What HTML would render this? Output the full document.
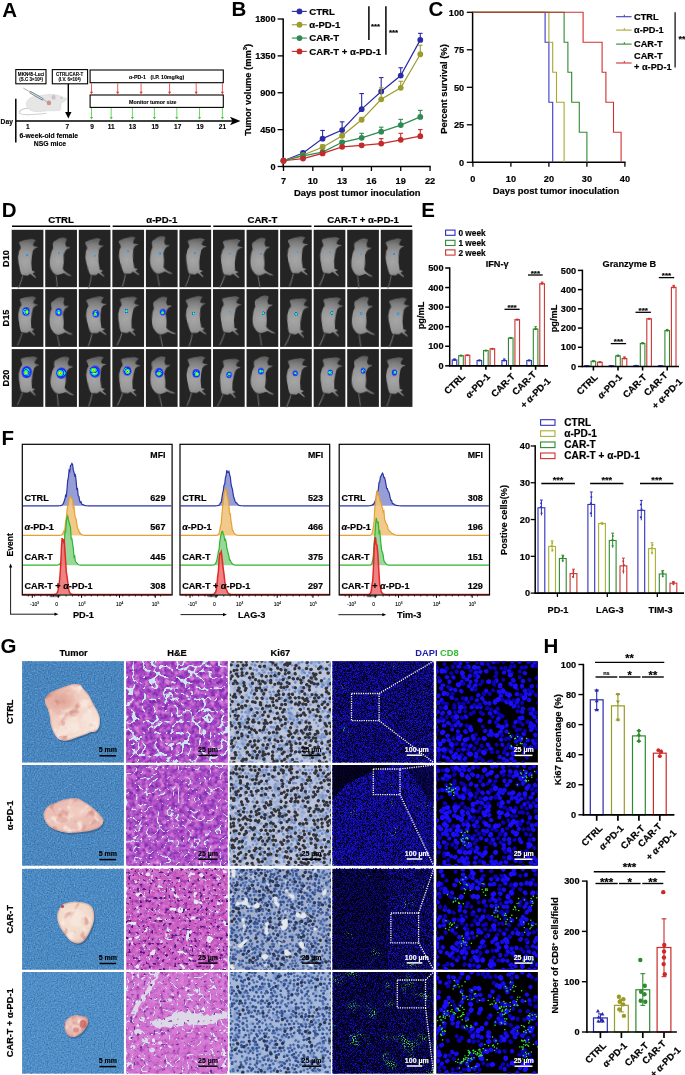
<!DOCTYPE html>
<html><head><meta charset="utf-8"><style>
html,body{margin:0;padding:0;background:#fff;}
body{width:685px;height:1075px;overflow:hidden;}
svg{display:block;font-family:"Liberation Sans", sans-serif;will-change:transform;}
</style></head><body>
<svg width="685" height="1075" viewBox="0 0 685 1075">
<defs><radialGradient id="mg" gradientUnits="userSpaceOnUse" cx="13.5" cy="31" r="22"><stop offset="0" stop-color="#a6a6a6"/><stop offset="0.45" stop-color="#979797"/><stop offset="0.8" stop-color="#7c7c7c"/><stop offset="1" stop-color="#626262"/></radialGradient>
<filter id="soft" x="-10%" y="-10%" width="120%" height="120%"><feGaussianBlur stdDeviation="0.45"/></filter>
<radialGradient id="lumB"><stop offset="0" stop-color="#ff1a00"/><stop offset="0.22" stop-color="#ffee00"/><stop offset="0.45" stop-color="#22ff22"/><stop offset="0.68" stop-color="#00c8ff"/><stop offset="0.85" stop-color="#1020ff"/><stop offset="1" stop-color="#1020ff" stop-opacity="0"/></radialGradient>
<radialGradient id="lumM"><stop offset="0" stop-color="#ffdd00"/><stop offset="0.3" stop-color="#33ff33"/><stop offset="0.6" stop-color="#00c0ff"/><stop offset="0.85" stop-color="#1530ff"/><stop offset="1" stop-color="#1530ff" stop-opacity="0"/></radialGradient>
<radialGradient id="lumS"><stop offset="0" stop-color="#30ffd0"/><stop offset="0.5" stop-color="#10a0ff"/><stop offset="1" stop-color="#2030ff" stop-opacity="0"/></radialGradient>
<clipPath id="c00"><rect x="22.1" y="661.2" width="101.8" height="101.3"/></clipPath>
<clipPath id="c01"><rect x="126.2" y="661.2" width="101.5" height="101.3"/></clipPath>
<clipPath id="c02"><rect x="229.8" y="661.2" width="101.2" height="101.3"/></clipPath>
<clipPath id="c03"><rect x="332.5" y="661.2" width="101.1" height="101.3"/></clipPath>
<clipPath id="c04"><rect x="436.3" y="661.2" width="101.6" height="101.3"/></clipPath>
<clipPath id="c10"><rect x="22.1" y="765" width="101.8" height="100.7"/></clipPath>
<clipPath id="c11"><rect x="126.2" y="765" width="101.5" height="100.7"/></clipPath>
<clipPath id="c12"><rect x="229.8" y="765" width="101.2" height="100.7"/></clipPath>
<clipPath id="c13"><rect x="332.5" y="765" width="101.1" height="100.7"/></clipPath>
<clipPath id="c14"><rect x="436.3" y="765" width="101.6" height="100.7"/></clipPath>
<clipPath id="c20"><rect x="22.1" y="868.9" width="101.8" height="100.8"/></clipPath>
<clipPath id="c21"><rect x="126.2" y="868.9" width="101.5" height="100.8"/></clipPath>
<clipPath id="c22"><rect x="229.8" y="868.9" width="101.2" height="100.8"/></clipPath>
<clipPath id="c23"><rect x="332.5" y="868.9" width="101.1" height="100.8"/></clipPath>
<clipPath id="c24"><rect x="436.3" y="868.9" width="101.6" height="100.8"/></clipPath>
<clipPath id="c30"><rect x="22.1" y="972" width="101.8" height="101.6"/></clipPath>
<clipPath id="c31"><rect x="126.2" y="972" width="101.5" height="101.6"/></clipPath>
<clipPath id="c32"><rect x="229.8" y="972" width="101.2" height="101.6"/></clipPath>
<clipPath id="c33"><rect x="332.5" y="972" width="101.1" height="101.6"/></clipPath>
<clipPath id="c34"><rect x="436.3" y="972" width="101.6" height="101.6"/></clipPath>
<linearGradient id="tg0" x1="0" y1="0" x2="1" y2="1"><stop offset="0" stop-color="#ecbcb0"/><stop offset="0.45" stop-color="#f2d2c6"/><stop offset="1" stop-color="#f8e8de"/></linearGradient>
<linearGradient id="tg1" x1="0" y1="0" x2="1" y2="1"><stop offset="0" stop-color="#e8b6ac"/><stop offset="0.5" stop-color="#eec6bc"/><stop offset="1" stop-color="#e2b0a6"/></linearGradient>
<radialGradient id="tg2" cx="0.45" cy="0.4" r="0.7"><stop offset="0" stop-color="#f6e4d8"/><stop offset="0.7" stop-color="#f0d6c6"/><stop offset="1" stop-color="#dcb4a4"/></radialGradient>
<radialGradient id="tg3" cx="0.4" cy="0.4" r="0.7"><stop offset="0" stop-color="#f2d4cc"/><stop offset="0.7" stop-color="#e4b0a8"/><stop offset="1" stop-color="#c88078"/></radialGradient>
<filter id="nf1" x="0" y="0" width="1" height="1" color-interpolation-filters="sRGB"><feTurbulence type="fractalNoise" baseFrequency="0.12" numOctaves="2" seed="301"/><feColorMatrix type="matrix" values="0 0 0 0 0.98 0 0 0 0 0.93 0 0 0 0 0.9 3 0 0 0 -1.55"/></filter>
<filter id="nf2" x="0" y="0" width="1" height="1" color-interpolation-filters="sRGB"><feTurbulence type="fractalNoise" baseFrequency="0.1" numOctaves="2" seed="302"/><feColorMatrix type="matrix" values="0 0 0 0 0.8 0 0 0 0 0.47 0 0 0 0 0.43 3 0 0 0 -1.75"/></filter>
<filter id="nf3" x="0" y="0" width="1" height="1" color-interpolation-filters="sRGB"><feTurbulence type="fractalNoise" baseFrequency="0.7" numOctaves="1" seed="3"/><feColorMatrix type="matrix" values="0 0 0 0 0.49 0 0 0 0 0.71 0 0 0 0 0.88 1.8 0 0 0 -0.85"/></filter>
<filter id="nf4" x="0" y="0" width="1" height="1" color-interpolation-filters="sRGB"><feTurbulence type="fractalNoise" baseFrequency="0.7" numOctaves="1" seed="9"/><feColorMatrix type="matrix" values="0 0 0 0 0.14 0 0 0 0 0.33 0 0 0 0 0.55 1.8 0 0 0 -0.85"/></filter>
<clipPath id="tc0"><path d="M45.1 699.5C45.53 697.8 46.5 695.93 48.2 694.4C49.9 692.87 52.58 691.57 55.3 690.3C58.02 689.03 61.6 687.82 64.5 686.8C67.4 685.78 70.13 684.55 72.7 684.2C75.27 683.85 78.2 684.02 79.9 684.7C81.6 685.38 81.38 686.52 82.9 688.3C84.42 690.08 87.3 692.85 89 695.4C90.7 697.95 91.73 701.03 93.1 703.6C94.47 706.17 96.08 708.42 97.2 710.8C98.32 713.18 99.45 715.35 99.8 717.9C100.15 720.45 99.98 723.88 99.3 726.1C98.62 728.32 97.23 730.18 95.7 731.2C94.17 732.22 92.23 731.52 90.1 732.2C87.97 732.88 85.63 734.27 82.9 735.3C80.17 736.33 76.42 737.55 73.7 738.4C70.98 739.25 68.98 740.23 66.6 740.4C64.22 740.57 61.28 740.25 59.4 739.4C57.52 738.55 56.67 737.52 55.3 735.3C53.93 733.08 52.13 729.33 51.2 726.1C50.27 722.87 50.28 718.8 49.7 715.9C49.12 713 48.38 710.58 47.7 708.7C47.02 706.82 46.03 706.13 45.6 704.6C45.17 703.07 44.67 701.2 45.1 699.5Z"/></clipPath>
<filter id="soft3" x="-50%" y="-50%" width="200%" height="200%"><feGaussianBlur stdDeviation="4"/></filter><filter id="soft2" x="-50%" y="-50%" width="200%" height="200%"><feGaussianBlur stdDeviation="1.4"/></filter>
<clipPath id="tc1"><path d="M44 812C44.78 809.63 47.15 806.9 49.3 805.3C51.45 803.7 54.37 803.35 56.9 802.4C59.43 801.45 61.33 800.28 64.5 799.6C67.67 798.92 72.73 797.98 75.9 798.3C79.07 798.62 80.65 799.87 83.5 801.5C86.35 803.13 90.15 805.73 93 808.1C95.85 810.47 98.87 813.63 100.6 815.7C102.33 817.77 103.4 818.75 103.4 820.5C103.4 822.25 102.33 824.62 100.6 826.2C98.87 827.78 96.17 829.05 93 830C89.83 830.95 85.4 831.43 81.6 831.9C77.8 832.37 74 832.97 70.2 832.8C66.4 832.63 62.28 832 58.8 830.9C55.32 829.8 51.67 828.1 49.3 826.2C46.93 824.3 45.48 821.87 44.6 819.5C43.72 817.13 43.22 814.37 44 812Z"/></clipPath>
<clipPath id="tc2"><path d="M61.3 906C63 903.95 64.67 903.58 67.4 902.9C70.13 902.22 74.28 901.73 77.7 901.9C81.12 902.07 85.35 902.72 87.9 903.9C90.45 905.08 91.98 906.43 93 909C94.02 911.57 94.52 915.55 94 919.3C93.48 923.05 91.6 927.93 89.9 931.5C88.2 935.07 85.83 938.72 83.8 940.7C81.77 942.68 79.92 943.4 77.7 943.4C75.48 943.4 72.72 942.33 70.5 940.7C68.28 939.07 66.27 936.15 64.4 933.6C62.53 931.05 60.5 928.47 59.3 925.4C58.1 922.33 56.87 918.43 57.2 915.2C57.53 911.97 59.6 908.05 61.3 906Z"/></clipPath>
<clipPath id="tc3"><path d="M65.4 1021.5C66.15 1019.47 67.8 1018.43 69.5 1017.4C71.2 1016.37 73.57 1015.48 75.6 1015.3C77.63 1015.12 79.82 1015.95 81.7 1016.3C83.58 1016.65 85.8 1016.37 86.9 1017.4C88 1018.43 88.48 1020.8 88.3 1022.5C88.12 1024.2 86.9 1025.9 85.8 1027.6C84.7 1029.3 83.57 1031.17 81.7 1032.7C79.83 1034.23 76.8 1036.28 74.6 1036.8C72.4 1037.32 70.1 1037 68.5 1035.8C66.9 1034.6 65.52 1031.98 65 1029.6C64.48 1027.22 64.65 1023.53 65.4 1021.5Z"/></clipPath>
<filter id="nf5" x="0" y="0" width="1" height="1" color-interpolation-filters="sRGB"><feTurbulence type="fractalNoise" baseFrequency="0.25" numOctaves="2" seed="201"/><feColorMatrix type="matrix" values="0 0 0 0 0.49 0 0 0 0 0.16 0 0 0 0 0.69 3 0 0 0 -1.2"/></filter>
<filter id="nf6" x="0" y="0" width="1" height="1" color-interpolation-filters="sRGB"><feTurbulence type="fractalNoise" baseFrequency="0.2" numOctaves="2" seed="211"/><feColorMatrix type="matrix" values="0 0 0 0 0.85 0 0 0 0 0.5 0 0 0 0 0.85 3 0 0 0 -1.3"/></filter>
<filter id="nf7" x="0" y="0" width="1" height="1" color-interpolation-filters="sRGB"><feTurbulence type="turbulence" baseFrequency="0.09" numOctaves="2" seed="221"/><feColorMatrix type="matrix" values="0 0 0 0 0.8 0 0 0 0 0.91 0 0 0 0 0.94 -25 0 0 0 3.25"/></filter>
<filter id="nf8" x="0" y="0" width="1" height="1" color-interpolation-filters="sRGB"><feTurbulence type="fractalNoise" baseFrequency="0.25" numOctaves="2" seed="202"/><feColorMatrix type="matrix" values="0 0 0 0 0.49 0 0 0 0 0.16 0 0 0 0 0.69 3 0 0 0 -1.2"/></filter>
<filter id="nf9" x="0" y="0" width="1" height="1" color-interpolation-filters="sRGB"><feTurbulence type="fractalNoise" baseFrequency="0.2" numOctaves="2" seed="212"/><feColorMatrix type="matrix" values="0 0 0 0 0.85 0 0 0 0 0.5 0 0 0 0 0.85 3 0 0 0 -1.3"/></filter>
<filter id="nf10" x="0" y="0" width="1" height="1" color-interpolation-filters="sRGB"><feTurbulence type="turbulence" baseFrequency="0.095" numOctaves="2" seed="222"/><feColorMatrix type="matrix" values="0 0 0 0 0.8 0 0 0 0 0.91 0 0 0 0 0.94 -25 0 0 0 2.25"/></filter>
<filter id="nf11" x="0" y="0" width="1" height="1" color-interpolation-filters="sRGB"><feTurbulence type="fractalNoise" baseFrequency="0.25" numOctaves="2" seed="203"/><feColorMatrix type="matrix" values="0 0 0 0 0.59 0 0 0 0 0.2 0 0 0 0 0.67 3 0 0 0 -1.45"/></filter>
<filter id="nf12" x="0" y="0" width="1" height="1" color-interpolation-filters="sRGB"><feTurbulence type="fractalNoise" baseFrequency="0.2" numOctaves="2" seed="213"/><feColorMatrix type="matrix" values="0 0 0 0 0.85 0 0 0 0 0.5 0 0 0 0 0.85 3 0 0 0 -1.3"/></filter>
<filter id="nf13" x="0" y="0" width="1" height="1" color-interpolation-filters="sRGB"><feTurbulence type="turbulence" baseFrequency="0.1" numOctaves="2" seed="223"/><feColorMatrix type="matrix" values="0 0 0 0 0.8 0 0 0 0 0.91 0 0 0 0 0.94 -25 0 0 0 1.25"/></filter>
<filter id="nf14" x="0" y="0" width="1" height="1" color-interpolation-filters="sRGB"><feTurbulence type="fractalNoise" baseFrequency="0.14" numOctaves="2" seed="233"/><feColorMatrix type="matrix" values="0 0 0 0 0.89 0 0 0 0 0.91 0 0 0 0 0.95 14 0 0 0 -9.24"/></filter>
<filter id="nf15" x="0" y="0" width="1" height="1" color-interpolation-filters="sRGB"><feTurbulence type="fractalNoise" baseFrequency="0.35" numOctaves="1" seed="241"/><feColorMatrix type="matrix" values="0 0 0 0 0.33 0 0 0 0 0.1 0 0 0 0 0.51 10 0 0 0 -6"/></filter>
<filter id="nf16" x="0" y="0" width="1" height="1" color-interpolation-filters="sRGB"><feTurbulence type="fractalNoise" baseFrequency="0.25" numOctaves="2" seed="204"/><feColorMatrix type="matrix" values="0 0 0 0 0.59 0 0 0 0 0.2 0 0 0 0 0.67 3 0 0 0 -1.45"/></filter>
<filter id="nf17" x="0" y="0" width="1" height="1" color-interpolation-filters="sRGB"><feTurbulence type="fractalNoise" baseFrequency="0.2" numOctaves="2" seed="214"/><feColorMatrix type="matrix" values="0 0 0 0 0.85 0 0 0 0 0.5 0 0 0 0 0.85 3 0 0 0 -1.1"/></filter>
<filter id="nf18" x="0" y="0" width="1" height="1" color-interpolation-filters="sRGB"><feTurbulence type="turbulence" baseFrequency="0.09" numOctaves="2" seed="224"/><feColorMatrix type="matrix" values="0 0 0 0 0.8 0 0 0 0 0.91 0 0 0 0 0.94 -25 0 0 0 2.25"/></filter>
<filter id="nf19" x="0" y="0" width="1" height="1" color-interpolation-filters="sRGB"><feTurbulence type="fractalNoise" baseFrequency="0.14" numOctaves="2" seed="234"/><feColorMatrix type="matrix" values="0 0 0 0 0.89 0 0 0 0 0.91 0 0 0 0 0.95 14 0 0 0 -9.8"/></filter>
<filter id="nf20" x="0" y="0" width="1" height="1" color-interpolation-filters="sRGB"><feTurbulence type="fractalNoise" baseFrequency="0.3" numOctaves="1" seed="251"/><feColorMatrix type="matrix" values="0 0 0 0 0.43 0 0 0 0 0.16 0 0 0 0 0.59 10 0 0 0 -6.6"/></filter>
<filter id="nf21" x="0" y="0" width="1" height="1" color-interpolation-filters="sRGB"><feTurbulence type="fractalNoise" baseFrequency="0.15" numOctaves="2" seed="251"/><feColorMatrix type="matrix" values="0 0 0 0 0.47 0 0 0 0 0.59 0 0 0 0 0.8 3 0 0 0 -1.5"/></filter>
<filter id="nf22" x="0" y="0" width="1" height="1" color-interpolation-filters="sRGB"><feTurbulence type="fractalNoise" baseFrequency="0.15" numOctaves="2" seed="252"/><feColorMatrix type="matrix" values="0 0 0 0 0.47 0 0 0 0 0.59 0 0 0 0 0.8 3 0 0 0 -1.5"/></filter>
<filter id="nf23" x="0" y="0" width="1" height="1" color-interpolation-filters="sRGB"><feTurbulence type="fractalNoise" baseFrequency="0.15" numOctaves="2" seed="253"/><feColorMatrix type="matrix" values="0 0 0 0 0.47 0 0 0 0 0.59 0 0 0 0 0.8 3 0 0 0 -1.5"/></filter>
<filter id="nf24" x="0" y="0" width="1" height="1" color-interpolation-filters="sRGB"><feTurbulence type="fractalNoise" baseFrequency="0.1" numOctaves="2" seed="261"/><feColorMatrix type="matrix" values="0 0 0 0 0.89 0 0 0 0 0.91 0 0 0 0 0.93 10 0 0 0 -6.4"/></filter>
<filter id="nf25" x="0" y="0" width="1" height="1" color-interpolation-filters="sRGB"><feTurbulence type="fractalNoise" baseFrequency="0.15" numOctaves="2" seed="254"/><feColorMatrix type="matrix" values="0 0 0 0 0.47 0 0 0 0 0.59 0 0 0 0 0.8 3 0 0 0 -1.5"/></filter>
<filter id="nf26" x="0" y="0" width="1" height="1" color-interpolation-filters="sRGB"><feTurbulence type="fractalNoise" baseFrequency="1.4" numOctaves="1" seed="71"/><feColorMatrix type="matrix" values="0 0 0 0 0.1 0 0 0 0 0.06 0 0 0 0 0.84 4 0 0 0 -1.6"/></filter>
<filter id="nf27" x="0" y="0" width="1" height="1" color-interpolation-filters="sRGB"><feTurbulence type="fractalNoise" baseFrequency="1.4" numOctaves="1" seed="72"/><feColorMatrix type="matrix" values="0 0 0 0 0.1 0 0 0 0 0.06 0 0 0 0 0.84 4 0 0 0 -1.48"/></filter>
<filter id="nf28" x="0" y="0" width="1" height="1" color-interpolation-filters="sRGB"><feTurbulence type="fractalNoise" baseFrequency="1.4" numOctaves="1" seed="73"/><feColorMatrix type="matrix" values="0 0 0 0 0.1 0 0 0 0 0.06 0 0 0 0 0.84 4 0 0 0 -1.72"/></filter>
<filter id="nf29" x="0" y="0" width="1" height="1" color-interpolation-filters="sRGB"><feTurbulence type="fractalNoise" baseFrequency="1.4" numOctaves="1" seed="74"/><feColorMatrix type="matrix" values="0 0 0 0 0.1 0 0 0 0 0.06 0 0 0 0 0.84 4 0 0 0 -1.88"/></filter>
<filter id="nf30" x="0" y="0" width="1" height="1" color-interpolation-filters="sRGB"><feTurbulence type="fractalNoise" baseFrequency="0.04" numOctaves="2" seed="81"/><feColorMatrix type="matrix" values="0 0 0 0 0 0 0 0 0 0 0 0 0 0 0 5 0 0 0 -2.6"/></filter>
<filter id="nf31" x="0" y="0" width="1" height="1" color-interpolation-filters="sRGB"><feTurbulence type="fractalNoise" baseFrequency="0.04" numOctaves="2" seed="82"/><feColorMatrix type="matrix" values="0 0 0 0 0 0 0 0 0 0 0 0 0 0 0 5 0 0 0 -2.6"/></filter>
<filter id="nf32" x="0" y="0" width="1" height="1" color-interpolation-filters="sRGB"><feTurbulence type="fractalNoise" baseFrequency="0.04" numOctaves="2" seed="83"/><feColorMatrix type="matrix" values="0 0 0 0 0 0 0 0 0 0 0 0 0 0 0 5 0 0 0 -2.6"/></filter>
<filter id="nf33" x="0" y="0" width="1" height="1" color-interpolation-filters="sRGB"><feTurbulence type="fractalNoise" baseFrequency="0.04" numOctaves="2" seed="84"/><feColorMatrix type="matrix" values="0 0 0 0 0 0 0 0 0 0 0 0 0 0 0 5 0 0 0 -2.6"/></filter>
<filter id="nf34" x="0" y="0" width="1" height="1" color-interpolation-filters="sRGB"><feTurbulence type="fractalNoise" baseFrequency="0.05" numOctaves="2" seed="91" result="lo"/><feTurbulence type="fractalNoise" baseFrequency="0.9" numOctaves="1" seed="141" result="hi"/><feColorMatrix in="lo" type="matrix" values="0 0 0 0 0 0 0 0 0 0 0 0 0 0 0 6 0 0 0 -4.2" result="loA"/><feColorMatrix in="hi" type="matrix" values="0 0 0 0 0.3 0 0 0 0 0.92 0 0 0 0 0.3 6 0 0 0 -3.6" result="hiA"/><feComposite in="hiA" in2="loA" operator="in"/></filter>
<filter id="nf35" x="0" y="0" width="1" height="1" color-interpolation-filters="sRGB"><feTurbulence type="fractalNoise" baseFrequency="0.05" numOctaves="2" seed="92" result="lo"/><feTurbulence type="fractalNoise" baseFrequency="0.9" numOctaves="1" seed="142" result="hi"/><feColorMatrix in="lo" type="matrix" values="0 0 0 0 0 0 0 0 0 0 0 0 0 0 0 6 0 0 0 -4.08" result="loA"/><feColorMatrix in="hi" type="matrix" values="0 0 0 0 0.3 0 0 0 0 0.92 0 0 0 0 0.3 6 0 0 0 -3.6" result="hiA"/><feComposite in="hiA" in2="loA" operator="in"/></filter>
<filter id="nf36" x="0" y="0" width="1" height="1" color-interpolation-filters="sRGB"><feTurbulence type="fractalNoise" baseFrequency="0.05" numOctaves="2" seed="93" result="lo"/><feTurbulence type="fractalNoise" baseFrequency="0.9" numOctaves="1" seed="143" result="hi"/><feColorMatrix in="lo" type="matrix" values="0 0 0 0 0 0 0 0 0 0 0 0 0 0 0 6 0 0 0 -3.96" result="loA"/><feColorMatrix in="hi" type="matrix" values="0 0 0 0 0.3 0 0 0 0 0.92 0 0 0 0 0.3 6 0 0 0 -3.42" result="hiA"/><feComposite in="hiA" in2="loA" operator="in"/></filter>
<filter id="nf37" x="0" y="0" width="1" height="1" color-interpolation-filters="sRGB"><feTurbulence type="fractalNoise" baseFrequency="0.06" numOctaves="2" seed="94" result="lo"/><feTurbulence type="fractalNoise" baseFrequency="0.9" numOctaves="1" seed="144" result="hi"/><feColorMatrix in="lo" type="matrix" values="0 0 0 0 0 0 0 0 0 0 0 0 0 0 0 6 0 0 0 -3.42" result="loA"/><feColorMatrix in="hi" type="matrix" values="0 0 0 0 0.3 0 0 0 0 0.92 0 0 0 0 0.3 6 0 0 0 -3.12" result="hiA"/><feComposite in="hiA" in2="loA" operator="in"/></filter></defs>
<text x="2.3" y="16.6" font-size="20.5" font-weight="bold" text-anchor="start" fill="#000">A</text>
<path d="M29 108.5 C24 108 18.8 110 19.4 112.6 C20 115.2 28 114.9 35 114.3 C40 113.9 44 113.6 46.5 113.2" fill="none" stroke="#cfcfcf" stroke-width="1.1"/>
<path d="M27 101 C30 97 35 95.5 40 95.5 C45 95 50 94 54 94.5 C58 95 62 96.5 67 99 C65 101 63 102.5 61 103 C61 106 60.5 108.5 60 110.5 L57 110.5 C53 111 50 110.8 48 110.6 C44 111.5 38 112 34 111.5 C30 110.5 27 108.5 26.5 105 C26.3 103.5 26.5 102 27 101 Z" fill="#e6e6e6" stroke="#d2d2d2" stroke-width="0.5"/>
<ellipse cx="53.6" cy="97.3" rx="2" ry="2.5" fill="#c6c6c6"/>
<circle cx="61.2" cy="98.1" r="0.55" fill="#8a8a8a"/>
<circle cx="48.9" cy="102.9" r="2.3" fill="#cf9090"/>
<line x1="23.3" y1="88.1" x2="30" y2="92" stroke="#9a9a9a" stroke-width="0.8"/>
<line x1="30" y1="92" x2="43" y2="99.5" stroke="#555" stroke-width="2.2"/>
<line x1="30.3" y1="92.2" x2="42.7" y2="99.3" stroke="#c4e6f2" stroke-width="1.3"/>
<line x1="43" y1="99.5" x2="46.8" y2="101.5" stroke="#777" stroke-width="0.5"/>
<rect x="15.8" y="69.6" width="30.2" height="14.2" fill="#fff" stroke="#000" stroke-width="1.1"/>
<text x="31.1" y="75.5" font-size="4.6" font-weight="bold" text-anchor="middle" fill="#000" stroke="#000" stroke-width="0.09">MKN45-Luci</text>
<text x="31.1" y="81.4" font-size="4.5" font-weight="bold" text-anchor="middle" fill="#000" stroke="#000" stroke-width="0.09">(S.C 3×10<tspan font-size="3" dy="-1.5">6</tspan><tspan dy="1.5">)</tspan></text>
<rect x="52.3" y="69.6" width="35.3" height="14.2" fill="#fff" stroke="#000" stroke-width="1.1"/>
<text x="69.6" y="75.5" font-size="4.5" font-weight="bold" text-anchor="middle" fill="#000" stroke="#000" stroke-width="0.09">CTRL/CAR-T</text>
<text x="69.6" y="81.4" font-size="4.5" font-weight="bold" text-anchor="middle" fill="#000" stroke="#000" stroke-width="0.09">(I.V. 6×10<tspan font-size="3" dy="-1.5">6</tspan><tspan dy="1.5">)</tspan></text>
<rect x="90.1" y="70" width="133.2" height="12.7" fill="#fff" stroke="#000" stroke-width="1.1"/>
<text x="156.6" y="78.8" font-size="5.3" font-weight="bold" text-anchor="middle" fill="#000" stroke="#000" stroke-width="0.11">α-PD-1 &#160;&#160;(I.P. 10mg/kg)</text>
<rect x="90.1" y="95" width="133.2" height="12.4" fill="#fff" stroke="#000" stroke-width="1.1"/>
<text x="152.8" y="103.5" font-size="5.3" font-weight="bold" text-anchor="middle" fill="#000" stroke="#000" stroke-width="0.11">Monitor tumor size</text>
<line x1="91.5" y1="83.3" x2="91.5" y2="92" stroke="#e83030" stroke-width="0.8"/>
<path d="M89.9 91.7 L93.1 91.7 L91.5 94.3Z" fill="#e83030"/>
<line x1="117.7" y1="83.3" x2="117.7" y2="92" stroke="#e83030" stroke-width="0.8"/>
<path d="M116.1 91.7 L119.3 91.7 L117.7 94.3Z" fill="#e83030"/>
<line x1="141.1" y1="83.3" x2="141.1" y2="92" stroke="#e83030" stroke-width="0.8"/>
<path d="M139.5 91.7 L142.7 91.7 L141.1 94.3Z" fill="#e83030"/>
<line x1="169.6" y1="83.3" x2="169.6" y2="92" stroke="#e83030" stroke-width="0.8"/>
<path d="M168 91.7 L171.2 91.7 L169.6 94.3Z" fill="#e83030"/>
<line x1="196.2" y1="83.3" x2="196.2" y2="92" stroke="#e83030" stroke-width="0.8"/>
<path d="M194.6 91.7 L197.8 91.7 L196.2 94.3Z" fill="#e83030"/>
<line x1="222.4" y1="83.3" x2="222.4" y2="92" stroke="#e83030" stroke-width="0.8"/>
<path d="M220.8 91.7 L224 91.7 L222.4 94.3Z" fill="#e83030"/>
<line x1="91.5" y1="108" x2="91.5" y2="117.2" stroke="#40d040" stroke-width="0.8"/>
<path d="M89.9 116.9 L93.1 116.9 L91.5 119.5Z" fill="#40d040"/>
<line x1="111.2" y1="108" x2="111.2" y2="117.2" stroke="#40d040" stroke-width="0.8"/>
<path d="M109.6 116.9 L112.8 116.9 L111.2 119.5Z" fill="#40d040"/>
<line x1="132.4" y1="108" x2="132.4" y2="117.2" stroke="#40d040" stroke-width="0.8"/>
<path d="M130.8 116.9 L134 116.9 L132.4 119.5Z" fill="#40d040"/>
<line x1="154.4" y1="108" x2="154.4" y2="117.2" stroke="#40d040" stroke-width="0.8"/>
<path d="M152.8 116.9 L156 116.9 L154.4 119.5Z" fill="#40d040"/>
<line x1="176.8" y1="108" x2="176.8" y2="117.2" stroke="#40d040" stroke-width="0.8"/>
<path d="M175.2 116.9 L178.4 116.9 L176.8 119.5Z" fill="#40d040"/>
<line x1="199.5" y1="108" x2="199.5" y2="117.2" stroke="#40d040" stroke-width="0.8"/>
<path d="M197.9 116.9 L201.1 116.9 L199.5 119.5Z" fill="#40d040"/>
<line x1="222.4" y1="108" x2="222.4" y2="117.2" stroke="#40d040" stroke-width="0.8"/>
<path d="M220.8 116.9 L224 116.9 L222.4 119.5Z" fill="#40d040"/>
<line x1="68.3" y1="84" x2="68.3" y2="112.3" stroke="#000" stroke-width="1.4"/>
<path d="M65.1 112 L71.5 112 L68.3 118.5Z" fill="#000"/>
<line x1="15.8" y1="121" x2="233" y2="121" stroke="#000" stroke-width="1.5"/>
<path d="M230 116.8 L240.5 121 L230 125.2 L232.5 121Z" fill="#000"/>
<line x1="15.8" y1="98.8" x2="15.8" y2="142.6" stroke="#000" stroke-width="1.5"/>
<text x="12.9" y="123.6" font-size="6.7" font-weight="bold" text-anchor="end" fill="#000" stroke="#000" stroke-width="0.13">Day</text>
<text x="27.7" y="129.4" font-size="6.5" font-weight="bold" text-anchor="middle" fill="#000" stroke="#000" stroke-width="0.13">1</text>
<text x="67.4" y="129.4" font-size="6.5" font-weight="bold" text-anchor="middle" fill="#000" stroke="#000" stroke-width="0.13">7</text>
<text x="92" y="129.4" font-size="6.5" font-weight="bold" text-anchor="middle" fill="#000" stroke="#000" stroke-width="0.13">9</text>
<text x="111.2" y="129.4" font-size="6.5" font-weight="bold" text-anchor="middle" fill="#000" stroke="#000" stroke-width="0.13">11</text>
<text x="132.4" y="129.4" font-size="6.5" font-weight="bold" text-anchor="middle" fill="#000" stroke="#000" stroke-width="0.13">13</text>
<text x="155" y="129.4" font-size="6.5" font-weight="bold" text-anchor="middle" fill="#000" stroke="#000" stroke-width="0.13">15</text>
<text x="177.7" y="129.4" font-size="6.5" font-weight="bold" text-anchor="middle" fill="#000" stroke="#000" stroke-width="0.13">17</text>
<text x="200" y="129.4" font-size="6.5" font-weight="bold" text-anchor="middle" fill="#000" stroke="#000" stroke-width="0.13">19</text>
<text x="222.4" y="129.4" font-size="6.5" font-weight="bold" text-anchor="middle" fill="#000" stroke="#000" stroke-width="0.13">21</text>
<text x="48.8" y="138.1" font-size="6.8" font-weight="bold" text-anchor="middle" fill="#000" stroke="#000" stroke-width="0.14">6-week-old female</text>
<text x="49.9" y="145.9" font-size="6.8" font-weight="bold" text-anchor="middle" fill="#000" stroke="#000" stroke-width="0.14">NSG mice</text>
<text x="231.6" y="15.9" font-size="20.5" font-weight="bold" text-anchor="start" fill="#000">B</text>
<line x1="277.6" y1="166.5" x2="283.2" y2="166.5" stroke="#000" stroke-width="1.3"/>
<text x="275.6" y="169.7" font-size="9.2" font-weight="bold" text-anchor="end" fill="#000" stroke="#000" stroke-width="0.18">0</text>
<line x1="277.6" y1="129.62" x2="283.2" y2="129.62" stroke="#000" stroke-width="1.3"/>
<text x="275.6" y="132.82" font-size="9.2" font-weight="bold" text-anchor="end" fill="#000" stroke="#000" stroke-width="0.18">450</text>
<line x1="277.6" y1="92.75" x2="283.2" y2="92.75" stroke="#000" stroke-width="1.3"/>
<text x="275.6" y="95.95" font-size="9.2" font-weight="bold" text-anchor="end" fill="#000" stroke="#000" stroke-width="0.18">900</text>
<line x1="277.6" y1="55.88" x2="283.2" y2="55.88" stroke="#000" stroke-width="1.3"/>
<text x="275.6" y="59.08" font-size="9.2" font-weight="bold" text-anchor="end" fill="#000" stroke="#000" stroke-width="0.18">1350</text>
<line x1="277.6" y1="19" x2="283.2" y2="19" stroke="#000" stroke-width="1.3"/>
<text x="275.6" y="22.2" font-size="9.2" font-weight="bold" text-anchor="end" fill="#000" stroke="#000" stroke-width="0.18">1800</text>
<line x1="283.5" y1="166.5" x2="283.5" y2="171" stroke="#000" stroke-width="1.3"/>
<text x="283.5" y="183.6" font-size="9.2" font-weight="bold" text-anchor="middle" fill="#000" stroke="#000" stroke-width="0.18">7</text>
<line x1="312.81" y1="166.5" x2="312.81" y2="171" stroke="#000" stroke-width="1.3"/>
<text x="312.81" y="183.6" font-size="9.2" font-weight="bold" text-anchor="middle" fill="#000" stroke="#000" stroke-width="0.18">10</text>
<line x1="342.12" y1="166.5" x2="342.12" y2="171" stroke="#000" stroke-width="1.3"/>
<text x="342.12" y="183.6" font-size="9.2" font-weight="bold" text-anchor="middle" fill="#000" stroke="#000" stroke-width="0.18">13</text>
<line x1="371.43" y1="166.5" x2="371.43" y2="171" stroke="#000" stroke-width="1.3"/>
<text x="371.43" y="183.6" font-size="9.2" font-weight="bold" text-anchor="middle" fill="#000" stroke="#000" stroke-width="0.18">16</text>
<line x1="400.74" y1="166.5" x2="400.74" y2="171" stroke="#000" stroke-width="1.3"/>
<text x="400.74" y="183.6" font-size="9.2" font-weight="bold" text-anchor="middle" fill="#000" stroke="#000" stroke-width="0.18">19</text>
<line x1="430.05" y1="166.5" x2="430.05" y2="171" stroke="#000" stroke-width="1.3"/>
<text x="430.05" y="183.6" font-size="9.2" font-weight="bold" text-anchor="middle" fill="#000" stroke="#000" stroke-width="0.18">22</text>
<line x1="283.2" y1="18.4" x2="283.2" y2="167.2" stroke="#000" stroke-width="1.5"/>
<line x1="282.5" y1="166.5" x2="430.75" y2="166.5" stroke="#000" stroke-width="1.5"/>
<text x="250.6" y="89.8" font-size="9.3" font-weight="bold" text-anchor="middle" fill="#000" stroke="#000" stroke-width="0.19" transform="rotate(-90 250.6 89.8)">Tumor volume (mm<tspan font-size="6" dy="-3.5">3</tspan><tspan dy="3.5">)</tspan></text>
<text x="357.2" y="195.8" font-size="9.4" font-weight="bold" text-anchor="middle" fill="#000" stroke="#000" stroke-width="0.19">Days post tumor inoculation</text>
<line x1="303.04" y1="152.98" x2="303.04" y2="152.16" stroke="#2b2ba8" stroke-width="1.1"/>
<line x1="300.74" y1="152.16" x2="305.34" y2="152.16" stroke="#2b2ba8" stroke-width="1.1"/>
<line x1="322.58" y1="138.64" x2="322.58" y2="130.44" stroke="#2b2ba8" stroke-width="1.1"/>
<line x1="320.28" y1="130.44" x2="324.88" y2="130.44" stroke="#2b2ba8" stroke-width="1.1"/>
<line x1="342.12" y1="130.03" x2="342.12" y2="121.84" stroke="#2b2ba8" stroke-width="1.1"/>
<line x1="339.82" y1="121.84" x2="344.42" y2="121.84" stroke="#2b2ba8" stroke-width="1.1"/>
<line x1="361.66" y1="109.14" x2="361.66" y2="93.57" stroke="#2b2ba8" stroke-width="1.1"/>
<line x1="359.36" y1="93.57" x2="363.96" y2="93.57" stroke="#2b2ba8" stroke-width="1.1"/>
<line x1="381.2" y1="91.52" x2="381.2" y2="77.59" stroke="#2b2ba8" stroke-width="1.1"/>
<line x1="378.9" y1="77.59" x2="383.5" y2="77.59" stroke="#2b2ba8" stroke-width="1.1"/>
<line x1="400.74" y1="75.54" x2="400.74" y2="67.76" stroke="#2b2ba8" stroke-width="1.1"/>
<line x1="398.44" y1="67.76" x2="403.04" y2="67.76" stroke="#2b2ba8" stroke-width="1.1"/>
<line x1="420.28" y1="39.9" x2="420.28" y2="33.34" stroke="#2b2ba8" stroke-width="1.1"/>
<line x1="417.98" y1="33.34" x2="422.58" y2="33.34" stroke="#2b2ba8" stroke-width="1.1"/>
<polyline points="283.5,160.76 303.04,152.98 322.58,138.64 342.12,130.03 361.66,109.14 381.2,91.52 400.74,75.54 420.28,39.9" fill="none" stroke="#2b2ba8" stroke-width="1.2"/>
<circle cx="283.5" cy="160.76" r="2.9" fill="#2b2ba8"/>
<circle cx="303.04" cy="152.98" r="2.9" fill="#2b2ba8"/>
<circle cx="322.58" cy="138.64" r="2.9" fill="#2b2ba8"/>
<circle cx="342.12" cy="130.03" r="2.9" fill="#2b2ba8"/>
<circle cx="361.66" cy="109.14" r="2.9" fill="#2b2ba8"/>
<circle cx="381.2" cy="91.52" r="2.9" fill="#2b2ba8"/>
<circle cx="400.74" cy="75.54" r="2.9" fill="#2b2ba8"/>
<circle cx="420.28" cy="39.9" r="2.9" fill="#2b2ba8"/>
<line x1="303.04" y1="155.03" x2="303.04" y2="154.21" stroke="#9c9c2c" stroke-width="1.1"/>
<line x1="300.74" y1="154.21" x2="305.34" y2="154.21" stroke="#9c9c2c" stroke-width="1.1"/>
<line x1="322.58" y1="147.24" x2="322.58" y2="144.78" stroke="#9c9c2c" stroke-width="1.1"/>
<line x1="320.28" y1="144.78" x2="324.88" y2="144.78" stroke="#9c9c2c" stroke-width="1.1"/>
<line x1="342.12" y1="135.77" x2="342.12" y2="134.13" stroke="#9c9c2c" stroke-width="1.1"/>
<line x1="339.82" y1="134.13" x2="344.42" y2="134.13" stroke="#9c9c2c" stroke-width="1.1"/>
<line x1="361.66" y1="119.79" x2="361.66" y2="117.33" stroke="#9c9c2c" stroke-width="1.1"/>
<line x1="359.36" y1="117.33" x2="363.96" y2="117.33" stroke="#9c9c2c" stroke-width="1.1"/>
<line x1="381.2" y1="99.31" x2="381.2" y2="87.83" stroke="#9c9c2c" stroke-width="1.1"/>
<line x1="378.9" y1="87.83" x2="383.5" y2="87.83" stroke="#9c9c2c" stroke-width="1.1"/>
<line x1="400.74" y1="87.83" x2="400.74" y2="81.28" stroke="#9c9c2c" stroke-width="1.1"/>
<line x1="398.44" y1="81.28" x2="403.04" y2="81.28" stroke="#9c9c2c" stroke-width="1.1"/>
<line x1="420.28" y1="54.24" x2="420.28" y2="45.22" stroke="#9c9c2c" stroke-width="1.1"/>
<line x1="417.98" y1="45.22" x2="422.58" y2="45.22" stroke="#9c9c2c" stroke-width="1.1"/>
<polyline points="283.5,160.76 303.04,155.03 322.58,147.24 342.12,135.77 361.66,119.79 381.2,99.31 400.74,87.83 420.28,54.24" fill="none" stroke="#9c9c2c" stroke-width="1.2"/>
<circle cx="283.5" cy="160.76" r="2.9" fill="#9c9c2c"/>
<circle cx="303.04" cy="155.03" r="2.9" fill="#9c9c2c"/>
<circle cx="322.58" cy="147.24" r="2.9" fill="#9c9c2c"/>
<circle cx="342.12" cy="135.77" r="2.9" fill="#9c9c2c"/>
<circle cx="361.66" cy="119.79" r="2.9" fill="#9c9c2c"/>
<circle cx="381.2" cy="99.31" r="2.9" fill="#9c9c2c"/>
<circle cx="400.74" cy="87.83" r="2.9" fill="#9c9c2c"/>
<circle cx="420.28" cy="54.24" r="2.9" fill="#9c9c2c"/>
<line x1="303.04" y1="155.85" x2="303.04" y2="155.03" stroke="#2e8a52" stroke-width="1.1"/>
<line x1="300.74" y1="155.03" x2="305.34" y2="155.03" stroke="#2e8a52" stroke-width="1.1"/>
<line x1="322.58" y1="152.16" x2="322.58" y2="150.93" stroke="#2e8a52" stroke-width="1.1"/>
<line x1="320.28" y1="150.93" x2="324.88" y2="150.93" stroke="#2e8a52" stroke-width="1.1"/>
<line x1="342.12" y1="142.33" x2="342.12" y2="140.69" stroke="#2e8a52" stroke-width="1.1"/>
<line x1="339.82" y1="140.69" x2="344.42" y2="140.69" stroke="#2e8a52" stroke-width="1.1"/>
<line x1="361.66" y1="137.82" x2="361.66" y2="133.31" stroke="#2e8a52" stroke-width="1.1"/>
<line x1="359.36" y1="133.31" x2="363.96" y2="133.31" stroke="#2e8a52" stroke-width="1.1"/>
<line x1="381.2" y1="131.67" x2="381.2" y2="127.17" stroke="#2e8a52" stroke-width="1.1"/>
<line x1="378.9" y1="127.17" x2="383.5" y2="127.17" stroke="#2e8a52" stroke-width="1.1"/>
<line x1="400.74" y1="125.12" x2="400.74" y2="119.38" stroke="#2e8a52" stroke-width="1.1"/>
<line x1="398.44" y1="119.38" x2="403.04" y2="119.38" stroke="#2e8a52" stroke-width="1.1"/>
<line x1="420.28" y1="116.92" x2="420.28" y2="110.37" stroke="#2e8a52" stroke-width="1.1"/>
<line x1="417.98" y1="110.37" x2="422.58" y2="110.37" stroke="#2e8a52" stroke-width="1.1"/>
<polyline points="283.5,160.76 303.04,155.85 322.58,152.16 342.12,142.33 361.66,137.82 381.2,131.67 400.74,125.12 420.28,116.92" fill="none" stroke="#2e8a52" stroke-width="1.2"/>
<circle cx="283.5" cy="160.76" r="2.9" fill="#2e8a52"/>
<circle cx="303.04" cy="155.85" r="2.9" fill="#2e8a52"/>
<circle cx="322.58" cy="152.16" r="2.9" fill="#2e8a52"/>
<circle cx="342.12" cy="142.33" r="2.9" fill="#2e8a52"/>
<circle cx="361.66" cy="137.82" r="2.9" fill="#2e8a52"/>
<circle cx="381.2" cy="131.67" r="2.9" fill="#2e8a52"/>
<circle cx="400.74" cy="125.12" r="2.9" fill="#2e8a52"/>
<circle cx="420.28" cy="116.92" r="2.9" fill="#2e8a52"/>
<line x1="303.04" y1="158.55" x2="303.04" y2="158.14" stroke="#c42a2a" stroke-width="1.1"/>
<line x1="300.74" y1="158.14" x2="305.34" y2="158.14" stroke="#c42a2a" stroke-width="1.1"/>
<line x1="322.58" y1="153.39" x2="322.58" y2="152.57" stroke="#c42a2a" stroke-width="1.1"/>
<line x1="320.28" y1="152.57" x2="324.88" y2="152.57" stroke="#c42a2a" stroke-width="1.1"/>
<line x1="342.12" y1="146.83" x2="342.12" y2="145.6" stroke="#c42a2a" stroke-width="1.1"/>
<line x1="339.82" y1="145.6" x2="344.42" y2="145.6" stroke="#c42a2a" stroke-width="1.1"/>
<line x1="361.66" y1="145.36" x2="361.66" y2="143.72" stroke="#c42a2a" stroke-width="1.1"/>
<line x1="359.36" y1="143.72" x2="363.96" y2="143.72" stroke="#c42a2a" stroke-width="1.1"/>
<line x1="381.2" y1="143.56" x2="381.2" y2="138.64" stroke="#c42a2a" stroke-width="1.1"/>
<line x1="378.9" y1="138.64" x2="383.5" y2="138.64" stroke="#c42a2a" stroke-width="1.1"/>
<line x1="400.74" y1="139.87" x2="400.74" y2="133.31" stroke="#c42a2a" stroke-width="1.1"/>
<line x1="398.44" y1="133.31" x2="403.04" y2="133.31" stroke="#c42a2a" stroke-width="1.1"/>
<line x1="420.28" y1="136.18" x2="420.28" y2="129.62" stroke="#c42a2a" stroke-width="1.1"/>
<line x1="417.98" y1="129.62" x2="422.58" y2="129.62" stroke="#c42a2a" stroke-width="1.1"/>
<polyline points="283.5,160.76 303.04,158.55 322.58,153.39 342.12,146.83 361.66,145.36 381.2,143.56 400.74,139.87 420.28,136.18" fill="none" stroke="#c42a2a" stroke-width="1.2"/>
<circle cx="283.5" cy="160.76" r="2.9" fill="#c42a2a"/>
<circle cx="303.04" cy="158.55" r="2.9" fill="#c42a2a"/>
<circle cx="322.58" cy="153.39" r="2.9" fill="#c42a2a"/>
<circle cx="342.12" cy="146.83" r="2.9" fill="#c42a2a"/>
<circle cx="361.66" cy="145.36" r="2.9" fill="#c42a2a"/>
<circle cx="381.2" cy="143.56" r="2.9" fill="#c42a2a"/>
<circle cx="400.74" cy="139.87" r="2.9" fill="#c42a2a"/>
<circle cx="420.28" cy="136.18" r="2.9" fill="#c42a2a"/>
<line x1="291.8" y1="11.4" x2="306.8" y2="11.4" stroke="#2b2ba8" stroke-width="1.1"/>
<circle cx="299.5" cy="11.4" r="2.9" fill="#2b2ba8"/>
<text x="309.3" y="14.8" font-size="9.6" font-weight="bold" text-anchor="start" fill="#000" stroke="#000" stroke-width="0.19">CTRL</text>
<line x1="291.8" y1="24.73" x2="306.8" y2="24.73" stroke="#9c9c2c" stroke-width="1.1"/>
<circle cx="299.5" cy="24.73" r="2.9" fill="#9c9c2c"/>
<text x="309.3" y="28.13" font-size="9.6" font-weight="bold" text-anchor="start" fill="#000" stroke="#000" stroke-width="0.19">α-PD-1</text>
<line x1="291.8" y1="38.06" x2="306.8" y2="38.06" stroke="#2e8a52" stroke-width="1.1"/>
<circle cx="299.5" cy="38.06" r="2.9" fill="#2e8a52"/>
<text x="309.3" y="41.46" font-size="9.6" font-weight="bold" text-anchor="start" fill="#000" stroke="#000" stroke-width="0.19">CAR-T</text>
<line x1="291.8" y1="51.39" x2="306.8" y2="51.39" stroke="#c42a2a" stroke-width="1.1"/>
<circle cx="299.5" cy="51.39" r="2.9" fill="#c42a2a"/>
<text x="309.3" y="54.79" font-size="9.6" font-weight="bold" text-anchor="start" fill="#000" stroke="#000" stroke-width="0.19">CAR-T + α-PD-1</text>
<line x1="368.9" y1="6.2" x2="368.9" y2="40.1" stroke="#000" stroke-width="1.5"/>
<text x="375.5" y="28.68" font-size="7.6" font-weight="bold" text-anchor="middle" fill="#000" stroke="#000" stroke-width="0.15">***</text>
<line x1="385.9" y1="6.2" x2="385.9" y2="54.7" stroke="#000" stroke-width="1.5"/>
<text x="393.6" y="34.78" font-size="7.8" font-weight="bold" text-anchor="middle" fill="#000" stroke="#000" stroke-width="0.16">***</text>
<text x="428.4" y="16.4" font-size="20.5" font-weight="bold" text-anchor="start" fill="#000">C</text>
<line x1="466.8" y1="162.3" x2="472.6" y2="162.3" stroke="#000" stroke-width="1.3"/>
<text x="464.2" y="165.5" font-size="9.2" font-weight="bold" text-anchor="end" fill="#000" stroke="#000" stroke-width="0.18">0</text>
<line x1="466.8" y1="124.8" x2="472.6" y2="124.8" stroke="#000" stroke-width="1.3"/>
<text x="464.2" y="128" font-size="9.2" font-weight="bold" text-anchor="end" fill="#000" stroke="#000" stroke-width="0.18">25</text>
<line x1="466.8" y1="87.3" x2="472.6" y2="87.3" stroke="#000" stroke-width="1.3"/>
<text x="464.2" y="90.5" font-size="9.2" font-weight="bold" text-anchor="end" fill="#000" stroke="#000" stroke-width="0.18">50</text>
<line x1="466.8" y1="49.8" x2="472.6" y2="49.8" stroke="#000" stroke-width="1.3"/>
<text x="464.2" y="53" font-size="9.2" font-weight="bold" text-anchor="end" fill="#000" stroke="#000" stroke-width="0.18">75</text>
<line x1="466.8" y1="12.3" x2="472.6" y2="12.3" stroke="#000" stroke-width="1.3"/>
<text x="464.2" y="15.5" font-size="9.2" font-weight="bold" text-anchor="end" fill="#000" stroke="#000" stroke-width="0.18">100</text>
<line x1="472.9" y1="162.3" x2="472.9" y2="166.8" stroke="#000" stroke-width="1.3"/>
<text x="472.9" y="182" font-size="9.2" font-weight="bold" text-anchor="middle" fill="#000" stroke="#000" stroke-width="0.18">0</text>
<line x1="510.9" y1="162.3" x2="510.9" y2="166.8" stroke="#000" stroke-width="1.3"/>
<text x="510.9" y="182" font-size="9.2" font-weight="bold" text-anchor="middle" fill="#000" stroke="#000" stroke-width="0.18">10</text>
<line x1="548.9" y1="162.3" x2="548.9" y2="166.8" stroke="#000" stroke-width="1.3"/>
<text x="548.9" y="182" font-size="9.2" font-weight="bold" text-anchor="middle" fill="#000" stroke="#000" stroke-width="0.18">20</text>
<line x1="586.9" y1="162.3" x2="586.9" y2="166.8" stroke="#000" stroke-width="1.3"/>
<text x="586.9" y="182" font-size="9.2" font-weight="bold" text-anchor="middle" fill="#000" stroke="#000" stroke-width="0.18">30</text>
<line x1="624.9" y1="162.3" x2="624.9" y2="166.8" stroke="#000" stroke-width="1.3"/>
<text x="624.9" y="182" font-size="9.2" font-weight="bold" text-anchor="middle" fill="#000" stroke="#000" stroke-width="0.18">40</text>
<line x1="472.6" y1="11.6" x2="472.6" y2="163" stroke="#000" stroke-width="1.5"/>
<line x1="471.9" y1="162.3" x2="625.6" y2="162.3" stroke="#000" stroke-width="1.5"/>
<text x="447.2" y="89" font-size="9.4" font-weight="bold" text-anchor="middle" fill="#000" stroke="#000" stroke-width="0.19" transform="rotate(-90 447.2 89)">Percent survival (%)</text>
<text x="556" y="194.2" font-size="9.4" font-weight="bold" text-anchor="middle" fill="#000" stroke="#000" stroke-width="0.19">Days post tumor inoculation</text>
<polyline points="472.9,12.3 545.1,12.3 545.1,42.3 548.9,42.3 548.9,102.3 552.7,102.3 552.7,162.3" fill="none" stroke="#3a3ac8" stroke-width="1.1"/>
<polyline points="472.9,12.3 548.9,12.3 548.9,42.3 552.7,42.3 552.7,72.3 556.5,72.3 556.5,102.3 564.1,102.3 564.1,162.3" fill="none" stroke="#a8a830" stroke-width="1.1"/>
<polyline points="472.9,12.3 564.1,12.3 564.1,42.3 567.9,42.3 567.9,72.3 571.7,72.3 571.7,102.3 579.3,102.3 579.3,132.3 586.9,132.3 586.9,162.3" fill="none" stroke="#2e8a2e" stroke-width="1.1"/>
<polyline points="472.9,12.3 583.1,12.3 583.1,42.3 602.1,42.3 602.1,72.3 605.9,72.3 605.9,102.3 613.5,102.3 613.5,132.3 621.1,132.3 621.1,162.3" fill="none" stroke="#d03030" stroke-width="1.1"/>
<line x1="616.1" y1="16.7" x2="631.6" y2="16.7" stroke="#3a3ac8" stroke-width="1.1"/>
<line x1="624.3" y1="14.7" x2="624.3" y2="16.7" stroke="#3a3ac8" stroke-width="1"/>
<text x="634" y="20.4" font-size="9.2" font-weight="bold" text-anchor="start" fill="#000" stroke="#000" stroke-width="0.18">CTRL</text>
<line x1="616.1" y1="30.1" x2="631.6" y2="30.1" stroke="#a8a830" stroke-width="1.1"/>
<line x1="624.3" y1="28.1" x2="624.3" y2="30.1" stroke="#a8a830" stroke-width="1"/>
<text x="634" y="33.4" font-size="9.2" font-weight="bold" text-anchor="start" fill="#000" stroke="#000" stroke-width="0.18">α-PD-1</text>
<line x1="616.1" y1="44.1" x2="631.6" y2="44.1" stroke="#2e8a2e" stroke-width="1.1"/>
<line x1="624.3" y1="42.1" x2="624.3" y2="44.1" stroke="#2e8a2e" stroke-width="1"/>
<text x="634" y="47.4" font-size="9.2" font-weight="bold" text-anchor="start" fill="#000" stroke="#000" stroke-width="0.18">CAR-T</text>
<line x1="616.1" y1="63" x2="631.6" y2="63" stroke="#d03030" stroke-width="1.1"/>
<line x1="624.3" y1="61" x2="624.3" y2="63" stroke="#d03030" stroke-width="1"/>
<text x="634" y="59.2" font-size="9.2" font-weight="bold" text-anchor="start" fill="#000" stroke="#000" stroke-width="0.18">CAR-T</text>
<text x="634" y="70" font-size="9.2" font-weight="bold" text-anchor="start" fill="#000" stroke="#000" stroke-width="0.18">+ α-PD-1</text>
<line x1="675.1" y1="12.2" x2="675.1" y2="67.5" stroke="#000" stroke-width="1.2"/>
<text x="682" y="42.29" font-size="9" font-weight="bold" text-anchor="middle" fill="#000" stroke="#000" stroke-width="0.18">**</text>
<text x="1.8" y="217.2" font-size="20.5" font-weight="bold" text-anchor="start" fill="#000">D</text>
<rect x="11.7" y="229.8" width="31.7" height="57.4" fill="#242424"/>
<g transform="translate(11.84 230.82) rotate(-0.41 16 28) scale(0.99 1)">
<g filter="url(#soft)"><path d="M24.3 9.4 C22 8.2 20 8 19.1 8.3 C15 8.8 12 9.3 10.3 9.9 C8.5 10.2 7.2 11 7.5 11.8 C7.6 13 8 13.8 8.4 14 L9.2 17.3 C7.5 19.5 7 21 7 22.8 C6.3 25 6.2 27 6.4 27.8 C6.6 31 6.9 33 7.3 34.3 C7.8 37.5 8.2 39.5 8.6 40.9 C9 42.5 9.6 43.6 10.3 44.2 L15.8 44.8 L18.5 43.1 L24 47.5 L24.2 46 L20.8 42.8 L23.5 40.9 L20.2 39.8 C20 37 19.7 34.5 19.6 32.1 C19.8 30 20 27.5 20.2 25.6 C20.6 23.5 21 21.5 21.3 20.1 L23.5 17.5 L26.2 16.8 L25.8 16 L23.5 15.7 L21.3 14.6 L22.4 11.8 Z" fill="url(#mg)"/>
<path d="M10.8 45 C9.5 50 8 54 6.4 57.5" fill="none" stroke="#6e6e6e" stroke-width="1"/></g>
<ellipse cx="15.22" cy="24.06" rx="1.23" ry="1.43" fill="url(#lumS)"/>
</g>
<rect x="45.25" y="229.8" width="31.7" height="57.4" fill="#242424"/>
<g transform="translate(45.28 230.11) rotate(3.52 16 28) scale(0.96 1)">
<g filter="url(#soft)"><path d="M20.9 8.2 C19 7.4 17 7.4 15.4 7.7 C13 8.2 11 9.5 9.6 11 C8.2 11.2 6.8 12.6 7 14.7 C7.1 16.2 7.4 17.2 7.6 18.7 C6.2 21 5.6 24 5.4 26.6 C5 29 4.9 31 5 33 C5.2 36.5 6.2 39 7.4 40.5 C8.6 42.5 10 44 11.4 44.5 L14 45 L17.5 44 L20.4 42.8 L25 45 L28.3 45.6 L27.8 44.4 L23.5 42.6 L20.2 40.2 C19.6 39.2 19 38.6 18.9 38.5 C19.3 35.5 19.6 33 19.4 30.6 C19.3 28.5 19.1 26.5 18.9 24.6 C19.5 22 20.8 19.5 22.2 18.5 L24.6 17.6 L25.2 16.4 L23 16.6 L21 16.2 C20.4 15 20 13.8 19.9 12.7 C20.6 11.2 21.2 9.8 20.9 8.2 Z" fill="url(#mg)"/>
<path d="M12.4 45.3 C13 49 13.8 53 14.4 57.5" fill="none" stroke="#6e6e6e" stroke-width="1"/></g>
<ellipse cx="14.23" cy="23.06" rx="1.14" ry="1.32" fill="url(#lumS)"/>
</g>
<rect x="78.8" y="229.8" width="31.7" height="57.4" fill="#242424"/>
<g transform="translate(79.54 230.26) rotate(-5.5 16 28) scale(0.95 1)">
<g filter="url(#soft)"><path d="M24.3 9.4 C22 8.2 20 8 19.1 8.3 C15 8.8 12 9.3 10.3 9.9 C8.5 10.2 7.2 11 7.5 11.8 C7.6 13 8 13.8 8.4 14 L9.2 17.3 C7.5 19.5 7 21 7 22.8 C6.3 25 6.2 27 6.4 27.8 C6.6 31 6.9 33 7.3 34.3 C7.8 37.5 8.2 39.5 8.6 40.9 C9 42.5 9.6 43.6 10.3 44.2 L15.8 44.8 L18.5 43.1 L24 47.5 L24.2 46 L20.8 42.8 L23.5 40.9 L20.2 39.8 C20 37 19.7 34.5 19.6 32.1 C19.8 30 20 27.5 20.2 25.6 C20.6 23.5 21 21.5 21.3 20.1 L23.5 17.5 L26.2 16.8 L25.8 16 L23.5 15.7 L21.3 14.6 L22.4 11.8 Z" fill="url(#mg)"/>
<path d="M10.8 45 C9.5 50 8 54 6.4 57.5" fill="none" stroke="#6e6e6e" stroke-width="1"/></g>
<ellipse cx="16.36" cy="25.38" rx="1.04" ry="1.21" fill="url(#lumS)"/>
</g>
<rect x="112.35" y="229.8" width="31.7" height="57.4" fill="#242424"/>
<g transform="translate(112.63 228.98) rotate(-5.82 16 28) scale(1.02 1)">
<g filter="url(#soft)"><path d="M24.3 9.4 C22 8.2 20 8 19.1 8.3 C15 8.8 12 9.3 10.3 9.9 C8.5 10.2 7.2 11 7.5 11.8 C7.6 13 8 13.8 8.4 14 L9.2 17.3 C7.5 19.5 7 21 7 22.8 C6.3 25 6.2 27 6.4 27.8 C6.6 31 6.9 33 7.3 34.3 C7.8 37.5 8.2 39.5 8.6 40.9 C9 42.5 9.6 43.6 10.3 44.2 L15.8 44.8 L18.5 43.1 L24 47.5 L24.2 46 L20.8 42.8 L23.5 40.9 L20.2 39.8 C20 37 19.7 34.5 19.6 32.1 C19.8 30 20 27.5 20.2 25.6 C20.6 23.5 21 21.5 21.3 20.1 L23.5 17.5 L26.2 16.8 L25.8 16 L23.5 15.7 L21.3 14.6 L22.4 11.8 Z" fill="url(#mg)"/>
<path d="M10.8 45 C9.5 50 8 54 6.4 57.5" fill="none" stroke="#6e6e6e" stroke-width="1"/></g>
<ellipse cx="15.27" cy="22.21" rx="1.33" ry="1.54" fill="url(#lumS)"/>
</g>
<rect x="145.9" y="229.8" width="31.7" height="57.4" fill="#242424"/>
<g transform="translate(145.28 228.67) rotate(-0.43 16 28) scale(0.96 1)">
<g filter="url(#soft)"><path d="M20.9 8.2 C19 7.4 17 7.4 15.4 7.7 C13 8.2 11 9.5 9.6 11 C8.2 11.2 6.8 12.6 7 14.7 C7.1 16.2 7.4 17.2 7.6 18.7 C6.2 21 5.6 24 5.4 26.6 C5 29 4.9 31 5 33 C5.2 36.5 6.2 39 7.4 40.5 C8.6 42.5 10 44 11.4 44.5 L14 45 L17.5 44 L20.4 42.8 L25 45 L28.3 45.6 L27.8 44.4 L23.5 42.6 L20.2 40.2 C19.6 39.2 19 38.6 18.9 38.5 C19.3 35.5 19.6 33 19.4 30.6 C19.3 28.5 19.1 26.5 18.9 24.6 C19.5 22 20.8 19.5 22.2 18.5 L24.6 17.6 L25.2 16.4 L23 16.6 L21 16.2 C20.4 15 20 13.8 19.9 12.7 C20.6 11.2 21.2 9.8 20.9 8.2 Z" fill="url(#mg)"/>
<path d="M12.4 45.3 C13 49 13.8 53 14.4 57.5" fill="none" stroke="#6e6e6e" stroke-width="1"/></g>
<ellipse cx="15.06" cy="24.95" rx="1.52" ry="1.76" fill="url(#lumS)"/>
</g>
<rect x="179.45" y="229.8" width="31.7" height="57.4" fill="#242424"/>
<g transform="translate(179.79 229.8) rotate(1.95 16 28) scale(1 1)">
<g filter="url(#soft)"><path d="M24.3 9.4 C22 8.2 20 8 19.1 8.3 C15 8.8 12 9.3 10.3 9.9 C8.5 10.2 7.2 11 7.5 11.8 C7.6 13 8 13.8 8.4 14 L9.2 17.3 C7.5 19.5 7 21 7 22.8 C6.3 25 6.2 27 6.4 27.8 C6.6 31 6.9 33 7.3 34.3 C7.8 37.5 8.2 39.5 8.6 40.9 C9 42.5 9.6 43.6 10.3 44.2 L15.8 44.8 L18.5 43.1 L24 47.5 L24.2 46 L20.8 42.8 L23.5 40.9 L20.2 39.8 C20 37 19.7 34.5 19.6 32.1 C19.8 30 20 27.5 20.2 25.6 C20.6 23.5 21 21.5 21.3 20.1 L23.5 17.5 L26.2 16.8 L25.8 16 L23.5 15.7 L21.3 14.6 L22.4 11.8 Z" fill="url(#mg)"/>
<path d="M10.8 45 C9.5 50 8 54 6.4 57.5" fill="none" stroke="#6e6e6e" stroke-width="1"/></g>
<ellipse cx="15.1" cy="22.97" rx="1.14" ry="1.32" fill="url(#lumS)"/>
</g>
<rect x="213" y="229.8" width="31.7" height="57.4" fill="#242424"/>
<g transform="translate(214.19 230.62) rotate(2.49 16 28) scale(1.06 1)">
<g filter="url(#soft)"><path d="M24.3 9.4 C22 8.2 20 8 19.1 8.3 C15 8.8 12 9.3 10.3 9.9 C8.5 10.2 7.2 11 7.5 11.8 C7.6 13 8 13.8 8.4 14 L9.2 17.3 C7.5 19.5 7 21 7 22.8 C6.3 25 6.2 27 6.4 27.8 C6.6 31 6.9 33 7.3 34.3 C7.8 37.5 8.2 39.5 8.6 40.9 C9 42.5 9.6 43.6 10.3 44.2 L15.8 44.8 L18.5 43.1 L24 47.5 L24.2 46 L20.8 42.8 L23.5 40.9 L20.2 39.8 C20 37 19.7 34.5 19.6 32.1 C19.8 30 20 27.5 20.2 25.6 C20.6 23.5 21 21.5 21.3 20.1 L23.5 17.5 L26.2 16.8 L25.8 16 L23.5 15.7 L21.3 14.6 L22.4 11.8 Z" fill="url(#mg)"/>
<path d="M10.8 45 C9.5 50 8 54 6.4 57.5" fill="none" stroke="#6e6e6e" stroke-width="1"/></g>
<ellipse cx="14.76" cy="22.8" rx="0.95" ry="1.1" fill="url(#lumS)"/>
</g>
<rect x="246.55" y="229.8" width="31.7" height="57.4" fill="#242424"/>
<g transform="translate(245.52 230.44) rotate(-1.2 16 28) scale(0.97 1)">
<g filter="url(#soft)"><path d="M20.9 8.2 C19 7.4 17 7.4 15.4 7.7 C13 8.2 11 9.5 9.6 11 C8.2 11.2 6.8 12.6 7 14.7 C7.1 16.2 7.4 17.2 7.6 18.7 C6.2 21 5.6 24 5.4 26.6 C5 29 4.9 31 5 33 C5.2 36.5 6.2 39 7.4 40.5 C8.6 42.5 10 44 11.4 44.5 L14 45 L17.5 44 L20.4 42.8 L25 45 L28.3 45.6 L27.8 44.4 L23.5 42.6 L20.2 40.2 C19.6 39.2 19 38.6 18.9 38.5 C19.3 35.5 19.6 33 19.4 30.6 C19.3 28.5 19.1 26.5 18.9 24.6 C19.5 22 20.8 19.5 22.2 18.5 L24.6 17.6 L25.2 16.4 L23 16.6 L21 16.2 C20.4 15 20 13.8 19.9 12.7 C20.6 11.2 21.2 9.8 20.9 8.2 Z" fill="url(#mg)"/>
<path d="M12.4 45.3 C13 49 13.8 53 14.4 57.5" fill="none" stroke="#6e6e6e" stroke-width="1"/></g>
<ellipse cx="16.03" cy="23.35" rx="0.95" ry="1.1" fill="url(#lumS)"/>
</g>
<rect x="280.1" y="229.8" width="31.7" height="57.4" fill="#242424"/>
<g transform="translate(280.93 228.6) rotate(-3.48 16 28) scale(1.05 1)">
<g filter="url(#soft)"><path d="M24.3 9.4 C22 8.2 20 8 19.1 8.3 C15 8.8 12 9.3 10.3 9.9 C8.5 10.2 7.2 11 7.5 11.8 C7.6 13 8 13.8 8.4 14 L9.2 17.3 C7.5 19.5 7 21 7 22.8 C6.3 25 6.2 27 6.4 27.8 C6.6 31 6.9 33 7.3 34.3 C7.8 37.5 8.2 39.5 8.6 40.9 C9 42.5 9.6 43.6 10.3 44.2 L15.8 44.8 L18.5 43.1 L24 47.5 L24.2 46 L20.8 42.8 L23.5 40.9 L20.2 39.8 C20 37 19.7 34.5 19.6 32.1 C19.8 30 20 27.5 20.2 25.6 C20.6 23.5 21 21.5 21.3 20.1 L23.5 17.5 L26.2 16.8 L25.8 16 L23.5 15.7 L21.3 14.6 L22.4 11.8 Z" fill="url(#mg)"/>
<path d="M10.8 45 C9.5 50 8 54 6.4 57.5" fill="none" stroke="#6e6e6e" stroke-width="1"/></g>
<ellipse cx="16.18" cy="23.64" rx="0.95" ry="1.1" fill="url(#lumS)"/>
</g>
<rect x="313.65" y="229.8" width="31.7" height="57.4" fill="#242424"/>
<g transform="translate(313.4 228.78) rotate(1.55 16 28) scale(1.06 1)">
<g filter="url(#soft)"><path d="M24.3 9.4 C22 8.2 20 8 19.1 8.3 C15 8.8 12 9.3 10.3 9.9 C8.5 10.2 7.2 11 7.5 11.8 C7.6 13 8 13.8 8.4 14 L9.2 17.3 C7.5 19.5 7 21 7 22.8 C6.3 25 6.2 27 6.4 27.8 C6.6 31 6.9 33 7.3 34.3 C7.8 37.5 8.2 39.5 8.6 40.9 C9 42.5 9.6 43.6 10.3 44.2 L15.8 44.8 L18.5 43.1 L24 47.5 L24.2 46 L20.8 42.8 L23.5 40.9 L20.2 39.8 C20 37 19.7 34.5 19.6 32.1 C19.8 30 20 27.5 20.2 25.6 C20.6 23.5 21 21.5 21.3 20.1 L23.5 17.5 L26.2 16.8 L25.8 16 L23.5 15.7 L21.3 14.6 L22.4 11.8 Z" fill="url(#mg)"/>
<path d="M10.8 45 C9.5 50 8 54 6.4 57.5" fill="none" stroke="#6e6e6e" stroke-width="1"/></g>
<ellipse cx="15.87" cy="22.94" rx="1.04" ry="1.21" fill="url(#lumS)"/>
</g>
<rect x="347.2" y="229.8" width="31.7" height="57.4" fill="#242424"/>
<g transform="translate(346.8 230.91) rotate(3.1 16 28) scale(0.95 1)">
<g filter="url(#soft)"><path d="M20.9 8.2 C19 7.4 17 7.4 15.4 7.7 C13 8.2 11 9.5 9.6 11 C8.2 11.2 6.8 12.6 7 14.7 C7.1 16.2 7.4 17.2 7.6 18.7 C6.2 21 5.6 24 5.4 26.6 C5 29 4.9 31 5 33 C5.2 36.5 6.2 39 7.4 40.5 C8.6 42.5 10 44 11.4 44.5 L14 45 L17.5 44 L20.4 42.8 L25 45 L28.3 45.6 L27.8 44.4 L23.5 42.6 L20.2 40.2 C19.6 39.2 19 38.6 18.9 38.5 C19.3 35.5 19.6 33 19.4 30.6 C19.3 28.5 19.1 26.5 18.9 24.6 C19.5 22 20.8 19.5 22.2 18.5 L24.6 17.6 L25.2 16.4 L23 16.6 L21 16.2 C20.4 15 20 13.8 19.9 12.7 C20.6 11.2 21.2 9.8 20.9 8.2 Z" fill="url(#mg)"/>
<path d="M12.4 45.3 C13 49 13.8 53 14.4 57.5" fill="none" stroke="#6e6e6e" stroke-width="1"/></g>
<ellipse cx="14.28" cy="22.86" rx="1.23" ry="1.43" fill="url(#lumS)"/>
</g>
<rect x="380.75" y="229.8" width="31.7" height="57.4" fill="#242424"/>
<g transform="translate(379.69 230.51) rotate(-3.87 16 28) scale(0.95 1)">
<g filter="url(#soft)"><path d="M24.3 9.4 C22 8.2 20 8 19.1 8.3 C15 8.8 12 9.3 10.3 9.9 C8.5 10.2 7.2 11 7.5 11.8 C7.6 13 8 13.8 8.4 14 L9.2 17.3 C7.5 19.5 7 21 7 22.8 C6.3 25 6.2 27 6.4 27.8 C6.6 31 6.9 33 7.3 34.3 C7.8 37.5 8.2 39.5 8.6 40.9 C9 42.5 9.6 43.6 10.3 44.2 L15.8 44.8 L18.5 43.1 L24 47.5 L24.2 46 L20.8 42.8 L23.5 40.9 L20.2 39.8 C20 37 19.7 34.5 19.6 32.1 C19.8 30 20 27.5 20.2 25.6 C20.6 23.5 21 21.5 21.3 20.1 L23.5 17.5 L26.2 16.8 L25.8 16 L23.5 15.7 L21.3 14.6 L22.4 11.8 Z" fill="url(#mg)"/>
<path d="M10.8 45 C9.5 50 8 54 6.4 57.5" fill="none" stroke="#6e6e6e" stroke-width="1"/></g>
<ellipse cx="15.34" cy="23.57" rx="1.14" ry="1.32" fill="url(#lumS)"/>
</g>
<rect x="11.7" y="289.1" width="31.7" height="57.8" fill="#242424"/>
<g transform="translate(12.26 288.21) rotate(1.72 16 28) scale(0.96 1)">
<g filter="url(#soft)"><path d="M24.3 9.4 C22 8.2 20 8 19.1 8.3 C15 8.8 12 9.3 10.3 9.9 C8.5 10.2 7.2 11 7.5 11.8 C7.6 13 8 13.8 8.4 14 L9.2 17.3 C7.5 19.5 7 21 7 22.8 C6.3 25 6.2 27 6.4 27.8 C6.6 31 6.9 33 7.3 34.3 C7.8 37.5 8.2 39.5 8.6 40.9 C9 42.5 9.6 43.6 10.3 44.2 L15.8 44.8 L18.5 43.1 L24 47.5 L24.2 46 L20.8 42.8 L23.5 40.9 L20.2 39.8 C20 37 19.7 34.5 19.6 32.1 C19.8 30 20 27.5 20.2 25.6 C20.6 23.5 21 21.5 21.3 20.1 L23.5 17.5 L26.2 16.8 L25.8 16 L23.5 15.7 L21.3 14.6 L22.4 11.8 Z" fill="url(#mg)"/>
<path d="M10.8 45 C9.5 50 8 54 6.4 57.5" fill="none" stroke="#6e6e6e" stroke-width="1"/></g>
<ellipse cx="14.28" cy="23.47" rx="3.8" ry="4.4" fill="#1828ff" opacity="0.9" filter="url(#soft)"/>
<ellipse cx="13.59" cy="22.92" rx="3.17" ry="3.2" fill="url(#lumB)"/>
<ellipse cx="13.81" cy="24.4" rx="2.41" ry="2.79" fill="url(#lumB)"/>
<ellipse cx="15.13" cy="23.81" rx="2.3" ry="3.39" fill="url(#lumB)"/>
</g>
<rect x="45.25" y="289.1" width="31.7" height="57.8" fill="#242424"/>
<g transform="translate(44.67 289.75) rotate(-2.05 16 28) scale(0.97 1)">
<g filter="url(#soft)"><path d="M20.9 8.2 C19 7.4 17 7.4 15.4 7.7 C13 8.2 11 9.5 9.6 11 C8.2 11.2 6.8 12.6 7 14.7 C7.1 16.2 7.4 17.2 7.6 18.7 C6.2 21 5.6 24 5.4 26.6 C5 29 4.9 31 5 33 C5.2 36.5 6.2 39 7.4 40.5 C8.6 42.5 10 44 11.4 44.5 L14 45 L17.5 44 L20.4 42.8 L25 45 L28.3 45.6 L27.8 44.4 L23.5 42.6 L20.2 40.2 C19.6 39.2 19 38.6 18.9 38.5 C19.3 35.5 19.6 33 19.4 30.6 C19.3 28.5 19.1 26.5 18.9 24.6 C19.5 22 20.8 19.5 22.2 18.5 L24.6 17.6 L25.2 16.4 L23 16.6 L21 16.2 C20.4 15 20 13.8 19.9 12.7 C20.6 11.2 21.2 9.8 20.9 8.2 Z" fill="url(#mg)"/>
<path d="M12.4 45.3 C13 49 13.8 53 14.4 57.5" fill="none" stroke="#6e6e6e" stroke-width="1"/></g>
<ellipse cx="14.71" cy="22.26" rx="3.42" ry="3.96" fill="#1828ff" opacity="0.9" filter="url(#soft)"/>
<ellipse cx="13.83" cy="22.44" rx="2.2" ry="2.7" fill="url(#lumB)"/>
<ellipse cx="14.43" cy="22.16" rx="2.84" ry="2.6" fill="url(#lumB)"/>
<ellipse cx="14.87" cy="23.05" rx="2.14" ry="2.3" fill="url(#lumB)"/>
</g>
<rect x="78.8" y="289.1" width="31.7" height="57.8" fill="#242424"/>
<g transform="translate(79.56 288.5) rotate(-3.72 16 28) scale(1.05 1)">
<g filter="url(#soft)"><path d="M24.3 9.4 C22 8.2 20 8 19.1 8.3 C15 8.8 12 9.3 10.3 9.9 C8.5 10.2 7.2 11 7.5 11.8 C7.6 13 8 13.8 8.4 14 L9.2 17.3 C7.5 19.5 7 21 7 22.8 C6.3 25 6.2 27 6.4 27.8 C6.6 31 6.9 33 7.3 34.3 C7.8 37.5 8.2 39.5 8.6 40.9 C9 42.5 9.6 43.6 10.3 44.2 L15.8 44.8 L18.5 43.1 L24 47.5 L24.2 46 L20.8 42.8 L23.5 40.9 L20.2 39.8 C20 37 19.7 34.5 19.6 32.1 C19.8 30 20 27.5 20.2 25.6 C20.6 23.5 21 21.5 21.3 20.1 L23.5 17.5 L26.2 16.8 L25.8 16 L23.5 15.7 L21.3 14.6 L22.4 11.8 Z" fill="url(#mg)"/>
<path d="M10.8 45 C9.5 50 8 54 6.4 57.5" fill="none" stroke="#6e6e6e" stroke-width="1"/></g>
<ellipse cx="15.77" cy="25.29" rx="3.23" ry="3.74" fill="#1828ff" opacity="0.9" filter="url(#soft)"/>
<ellipse cx="15.16" cy="26.21" rx="2.62" ry="2.55" fill="url(#lumB)"/>
<ellipse cx="15.61" cy="24.48" rx="1.9" ry="2.86" fill="url(#lumB)"/>
<ellipse cx="15.24" cy="25.71" rx="2.09" ry="2.74" fill="url(#lumB)"/>
</g>
<rect x="112.35" y="289.1" width="31.7" height="57.8" fill="#242424"/>
<g transform="translate(111.85 288.32) rotate(2.64 16 28) scale(1.01 1)">
<g filter="url(#soft)"><path d="M24.3 9.4 C22 8.2 20 8 19.1 8.3 C15 8.8 12 9.3 10.3 9.9 C8.5 10.2 7.2 11 7.5 11.8 C7.6 13 8 13.8 8.4 14 L9.2 17.3 C7.5 19.5 7 21 7 22.8 C6.3 25 6.2 27 6.4 27.8 C6.6 31 6.9 33 7.3 34.3 C7.8 37.5 8.2 39.5 8.6 40.9 C9 42.5 9.6 43.6 10.3 44.2 L15.8 44.8 L18.5 43.1 L24 47.5 L24.2 46 L20.8 42.8 L23.5 40.9 L20.2 39.8 C20 37 19.7 34.5 19.6 32.1 C19.8 30 20 27.5 20.2 25.6 C20.6 23.5 21 21.5 21.3 20.1 L23.5 17.5 L26.2 16.8 L25.8 16 L23.5 15.7 L21.3 14.6 L22.4 11.8 Z" fill="url(#mg)"/>
<path d="M10.8 45 C9.5 50 8 54 6.4 57.5" fill="none" stroke="#6e6e6e" stroke-width="1"/></g>
<ellipse cx="14.17" cy="22.8" rx="1.9" ry="2.2" fill="url(#lumM)"/>
</g>
<rect x="145.9" y="289.1" width="31.7" height="57.8" fill="#242424"/>
<g transform="translate(146.75 289.37) rotate(-2.64 16 28) scale(1.01 1)">
<g filter="url(#soft)"><path d="M20.9 8.2 C19 7.4 17 7.4 15.4 7.7 C13 8.2 11 9.5 9.6 11 C8.2 11.2 6.8 12.6 7 14.7 C7.1 16.2 7.4 17.2 7.6 18.7 C6.2 21 5.6 24 5.4 26.6 C5 29 4.9 31 5 33 C5.2 36.5 6.2 39 7.4 40.5 C8.6 42.5 10 44 11.4 44.5 L14 45 L17.5 44 L20.4 42.8 L25 45 L28.3 45.6 L27.8 44.4 L23.5 42.6 L20.2 40.2 C19.6 39.2 19 38.6 18.9 38.5 C19.3 35.5 19.6 33 19.4 30.6 C19.3 28.5 19.1 26.5 18.9 24.6 C19.5 22 20.8 19.5 22.2 18.5 L24.6 17.6 L25.2 16.4 L23 16.6 L21 16.2 C20.4 15 20 13.8 19.9 12.7 C20.6 11.2 21.2 9.8 20.9 8.2 Z" fill="url(#mg)"/>
<path d="M12.4 45.3 C13 49 13.8 53 14.4 57.5" fill="none" stroke="#6e6e6e" stroke-width="1"/></g>
<ellipse cx="16.2" cy="22.71" rx="2.85" ry="3.3" fill="#1828ff" opacity="0.9" filter="url(#soft)"/>
<ellipse cx="15.33" cy="22.3" rx="1.98" ry="1.85" fill="url(#lumM)"/>
<ellipse cx="15.62" cy="22.48" rx="2.08" ry="1.9" fill="url(#lumM)"/>
<ellipse cx="15.95" cy="23.42" rx="2.39" ry="2.29" fill="url(#lumM)"/>
</g>
<rect x="179.45" y="289.1" width="31.7" height="57.8" fill="#242424"/>
<g transform="translate(179.65 288.24) rotate(-5.58 16 28) scale(1.02 1)">
<g filter="url(#soft)"><path d="M24.3 9.4 C22 8.2 20 8 19.1 8.3 C15 8.8 12 9.3 10.3 9.9 C8.5 10.2 7.2 11 7.5 11.8 C7.6 13 8 13.8 8.4 14 L9.2 17.3 C7.5 19.5 7 21 7 22.8 C6.3 25 6.2 27 6.4 27.8 C6.6 31 6.9 33 7.3 34.3 C7.8 37.5 8.2 39.5 8.6 40.9 C9 42.5 9.6 43.6 10.3 44.2 L15.8 44.8 L18.5 43.1 L24 47.5 L24.2 46 L20.8 42.8 L23.5 40.9 L20.2 39.8 C20 37 19.7 34.5 19.6 32.1 C19.8 30 20 27.5 20.2 25.6 C20.6 23.5 21 21.5 21.3 20.1 L23.5 17.5 L26.2 16.8 L25.8 16 L23.5 15.7 L21.3 14.6 L22.4 11.8 Z" fill="url(#mg)"/>
<path d="M10.8 45 C9.5 50 8 54 6.4 57.5" fill="none" stroke="#6e6e6e" stroke-width="1"/></g>
<ellipse cx="14.04" cy="25.19" rx="1.71" ry="1.98" fill="url(#lumM)"/>
</g>
<rect x="213" y="289.1" width="31.7" height="57.8" fill="#242424"/>
<g transform="translate(214.11 287.95) rotate(1.63 16 28) scale(1.02 1)">
<g filter="url(#soft)"><path d="M24.3 9.4 C22 8.2 20 8 19.1 8.3 C15 8.8 12 9.3 10.3 9.9 C8.5 10.2 7.2 11 7.5 11.8 C7.6 13 8 13.8 8.4 14 L9.2 17.3 C7.5 19.5 7 21 7 22.8 C6.3 25 6.2 27 6.4 27.8 C6.6 31 6.9 33 7.3 34.3 C7.8 37.5 8.2 39.5 8.6 40.9 C9 42.5 9.6 43.6 10.3 44.2 L15.8 44.8 L18.5 43.1 L24 47.5 L24.2 46 L20.8 42.8 L23.5 40.9 L20.2 39.8 C20 37 19.7 34.5 19.6 32.1 C19.8 30 20 27.5 20.2 25.6 C20.6 23.5 21 21.5 21.3 20.1 L23.5 17.5 L26.2 16.8 L25.8 16 L23.5 15.7 L21.3 14.6 L22.4 11.8 Z" fill="url(#mg)"/>
<path d="M10.8 45 C9.5 50 8 54 6.4 57.5" fill="none" stroke="#6e6e6e" stroke-width="1"/></g>
<ellipse cx="15.16" cy="24.56" rx="1.14" ry="1.32" fill="url(#lumS)"/>
</g>
<rect x="246.55" y="289.1" width="31.7" height="57.8" fill="#242424"/>
<g transform="translate(247.75 288.08) rotate(0.55 16 28) scale(0.98 1)">
<g filter="url(#soft)"><path d="M20.9 8.2 C19 7.4 17 7.4 15.4 7.7 C13 8.2 11 9.5 9.6 11 C8.2 11.2 6.8 12.6 7 14.7 C7.1 16.2 7.4 17.2 7.6 18.7 C6.2 21 5.6 24 5.4 26.6 C5 29 4.9 31 5 33 C5.2 36.5 6.2 39 7.4 40.5 C8.6 42.5 10 44 11.4 44.5 L14 45 L17.5 44 L20.4 42.8 L25 45 L28.3 45.6 L27.8 44.4 L23.5 42.6 L20.2 40.2 C19.6 39.2 19 38.6 18.9 38.5 C19.3 35.5 19.6 33 19.4 30.6 C19.3 28.5 19.1 26.5 18.9 24.6 C19.5 22 20.8 19.5 22.2 18.5 L24.6 17.6 L25.2 16.4 L23 16.6 L21 16.2 C20.4 15 20 13.8 19.9 12.7 C20.6 11.2 21.2 9.8 20.9 8.2 Z" fill="url(#mg)"/>
<path d="M12.4 45.3 C13 49 13.8 53 14.4 57.5" fill="none" stroke="#6e6e6e" stroke-width="1"/></g>
<ellipse cx="15.77" cy="25.15" rx="1.71" ry="1.98" fill="url(#lumM)"/>
</g>
<rect x="280.1" y="289.1" width="31.7" height="57.8" fill="#242424"/>
<g transform="translate(280.59 289.8) rotate(4.98 16 28) scale(1.03 1)">
<g filter="url(#soft)"><path d="M24.3 9.4 C22 8.2 20 8 19.1 8.3 C15 8.8 12 9.3 10.3 9.9 C8.5 10.2 7.2 11 7.5 11.8 C7.6 13 8 13.8 8.4 14 L9.2 17.3 C7.5 19.5 7 21 7 22.8 C6.3 25 6.2 27 6.4 27.8 C6.6 31 6.9 33 7.3 34.3 C7.8 37.5 8.2 39.5 8.6 40.9 C9 42.5 9.6 43.6 10.3 44.2 L15.8 44.8 L18.5 43.1 L24 47.5 L24.2 46 L20.8 42.8 L23.5 40.9 L20.2 39.8 C20 37 19.7 34.5 19.6 32.1 C19.8 30 20 27.5 20.2 25.6 C20.6 23.5 21 21.5 21.3 20.1 L23.5 17.5 L26.2 16.8 L25.8 16 L23.5 15.7 L21.3 14.6 L22.4 11.8 Z" fill="url(#mg)"/>
<path d="M10.8 45 C9.5 50 8 54 6.4 57.5" fill="none" stroke="#6e6e6e" stroke-width="1"/></g>
<ellipse cx="14.84" cy="24.4" rx="1.9" ry="2.2" fill="url(#lumM)"/>
</g>
<rect x="313.65" y="289.1" width="31.7" height="57.8" fill="#242424"/>
<g transform="translate(314.54 288.9) rotate(3.49 16 28) scale(1.05 1)">
<g filter="url(#soft)"><path d="M24.3 9.4 C22 8.2 20 8 19.1 8.3 C15 8.8 12 9.3 10.3 9.9 C8.5 10.2 7.2 11 7.5 11.8 C7.6 13 8 13.8 8.4 14 L9.2 17.3 C7.5 19.5 7 21 7 22.8 C6.3 25 6.2 27 6.4 27.8 C6.6 31 6.9 33 7.3 34.3 C7.8 37.5 8.2 39.5 8.6 40.9 C9 42.5 9.6 43.6 10.3 44.2 L15.8 44.8 L18.5 43.1 L24 47.5 L24.2 46 L20.8 42.8 L23.5 40.9 L20.2 39.8 C20 37 19.7 34.5 19.6 32.1 C19.8 30 20 27.5 20.2 25.6 C20.6 23.5 21 21.5 21.3 20.1 L23.5 17.5 L26.2 16.8 L25.8 16 L23.5 15.7 L21.3 14.6 L22.4 11.8 Z" fill="url(#mg)"/>
<path d="M10.8 45 C9.5 50 8 54 6.4 57.5" fill="none" stroke="#6e6e6e" stroke-width="1"/></g>
<ellipse cx="16.07" cy="24" rx="1.71" ry="1.98" fill="url(#lumM)"/>
</g>
<rect x="347.2" y="289.1" width="31.7" height="57.8" fill="#242424"/>
<g transform="translate(346.92 289.3) rotate(1.31 16 28) scale(1.01 1)">
<g filter="url(#soft)"><path d="M20.9 8.2 C19 7.4 17 7.4 15.4 7.7 C13 8.2 11 9.5 9.6 11 C8.2 11.2 6.8 12.6 7 14.7 C7.1 16.2 7.4 17.2 7.6 18.7 C6.2 21 5.6 24 5.4 26.6 C5 29 4.9 31 5 33 C5.2 36.5 6.2 39 7.4 40.5 C8.6 42.5 10 44 11.4 44.5 L14 45 L17.5 44 L20.4 42.8 L25 45 L28.3 45.6 L27.8 44.4 L23.5 42.6 L20.2 40.2 C19.6 39.2 19 38.6 18.9 38.5 C19.3 35.5 19.6 33 19.4 30.6 C19.3 28.5 19.1 26.5 18.9 24.6 C19.5 22 20.8 19.5 22.2 18.5 L24.6 17.6 L25.2 16.4 L23 16.6 L21 16.2 C20.4 15 20 13.8 19.9 12.7 C20.6 11.2 21.2 9.8 20.9 8.2 Z" fill="url(#mg)"/>
<path d="M12.4 45.3 C13 49 13.8 53 14.4 57.5" fill="none" stroke="#6e6e6e" stroke-width="1"/></g>
<ellipse cx="14.19" cy="24.24" rx="1.52" ry="1.76" fill="url(#lumS)"/>
</g>
<rect x="380.75" y="289.1" width="31.7" height="57.8" fill="#242424"/>
<g transform="translate(381.66 289.65) rotate(-1.34 16 28) scale(1.06 1)">
<g filter="url(#soft)"><path d="M24.3 9.4 C22 8.2 20 8 19.1 8.3 C15 8.8 12 9.3 10.3 9.9 C8.5 10.2 7.2 11 7.5 11.8 C7.6 13 8 13.8 8.4 14 L9.2 17.3 C7.5 19.5 7 21 7 22.8 C6.3 25 6.2 27 6.4 27.8 C6.6 31 6.9 33 7.3 34.3 C7.8 37.5 8.2 39.5 8.6 40.9 C9 42.5 9.6 43.6 10.3 44.2 L15.8 44.8 L18.5 43.1 L24 47.5 L24.2 46 L20.8 42.8 L23.5 40.9 L20.2 39.8 C20 37 19.7 34.5 19.6 32.1 C19.8 30 20 27.5 20.2 25.6 C20.6 23.5 21 21.5 21.3 20.1 L23.5 17.5 L26.2 16.8 L25.8 16 L23.5 15.7 L21.3 14.6 L22.4 11.8 Z" fill="url(#mg)"/>
<path d="M10.8 45 C9.5 50 8 54 6.4 57.5" fill="none" stroke="#6e6e6e" stroke-width="1"/></g>
<ellipse cx="15.76" cy="24.03" rx="1.42" ry="1.65" fill="url(#lumS)"/>
</g>
<rect x="11.7" y="349.1" width="31.7" height="57.8" fill="#242424"/>
<g transform="translate(12.51 348.1) rotate(3 16 28) scale(0.99 1)">
<g filter="url(#soft)"><path d="M24.3 9.4 C22 8.2 20 8 19.1 8.3 C15 8.8 12 9.3 10.3 9.9 C8.5 10.2 7.2 11 7.5 11.8 C7.6 13 8 13.8 8.4 14 L9.2 17.3 C7.5 19.5 7 21 7 22.8 C6.3 25 6.2 27 6.4 27.8 C6.6 31 6.9 33 7.3 34.3 C7.8 37.5 8.2 39.5 8.6 40.9 C9 42.5 9.6 43.6 10.3 44.2 L15.8 44.8 L18.5 43.1 L24 47.5 L24.2 46 L20.8 42.8 L23.5 40.9 L20.2 39.8 C20 37 19.7 34.5 19.6 32.1 C19.8 30 20 27.5 20.2 25.6 C20.6 23.5 21 21.5 21.3 20.1 L23.5 17.5 L26.2 16.8 L25.8 16 L23.5 15.7 L21.3 14.6 L22.4 11.8 Z" fill="url(#mg)"/>
<path d="M10.8 45 C9.5 50 8 54 6.4 57.5" fill="none" stroke="#6e6e6e" stroke-width="1"/></g>
<ellipse cx="14.07" cy="24.1" rx="5.32" ry="6.16" fill="#1828ff" opacity="0.9" filter="url(#soft)"/>
<ellipse cx="14.01" cy="23.2" rx="4.06" ry="4.06" fill="url(#lumB)"/>
<ellipse cx="14.46" cy="25.52" rx="3.44" ry="3.38" fill="url(#lumB)"/>
<ellipse cx="13.4" cy="24.7" rx="3.36" ry="3.6" fill="url(#lumB)"/>
</g>
<rect x="45.25" y="349.1" width="31.7" height="57.8" fill="#242424"/>
<g transform="translate(45.63 348.96) rotate(4.7 16 28) scale(1.05 1)">
<g filter="url(#soft)"><path d="M20.9 8.2 C19 7.4 17 7.4 15.4 7.7 C13 8.2 11 9.5 9.6 11 C8.2 11.2 6.8 12.6 7 14.7 C7.1 16.2 7.4 17.2 7.6 18.7 C6.2 21 5.6 24 5.4 26.6 C5 29 4.9 31 5 33 C5.2 36.5 6.2 39 7.4 40.5 C8.6 42.5 10 44 11.4 44.5 L14 45 L17.5 44 L20.4 42.8 L25 45 L28.3 45.6 L27.8 44.4 L23.5 42.6 L20.2 40.2 C19.6 39.2 19 38.6 18.9 38.5 C19.3 35.5 19.6 33 19.4 30.6 C19.3 28.5 19.1 26.5 18.9 24.6 C19.5 22 20.8 19.5 22.2 18.5 L24.6 17.6 L25.2 16.4 L23 16.6 L21 16.2 C20.4 15 20 13.8 19.9 12.7 C20.6 11.2 21.2 9.8 20.9 8.2 Z" fill="url(#mg)"/>
<path d="M12.4 45.3 C13 49 13.8 53 14.4 57.5" fill="none" stroke="#6e6e6e" stroke-width="1"/></g>
<ellipse cx="14.78" cy="24.33" rx="4.94" ry="5.72" fill="#1828ff" opacity="0.9" filter="url(#soft)"/>
<ellipse cx="13.84" cy="24.12" rx="3.91" ry="4.31" fill="url(#lumB)"/>
<ellipse cx="15.97" cy="23.97" rx="3.62" ry="3.53" fill="url(#lumB)"/>
<ellipse cx="13.65" cy="24.32" rx="3.95" ry="4.22" fill="url(#lumB)"/>
</g>
<rect x="78.8" y="349.1" width="31.7" height="57.8" fill="#242424"/>
<g transform="translate(79.88 348.56) rotate(-3.97 16 28) scale(1.03 1)">
<g filter="url(#soft)"><path d="M24.3 9.4 C22 8.2 20 8 19.1 8.3 C15 8.8 12 9.3 10.3 9.9 C8.5 10.2 7.2 11 7.5 11.8 C7.6 13 8 13.8 8.4 14 L9.2 17.3 C7.5 19.5 7 21 7 22.8 C6.3 25 6.2 27 6.4 27.8 C6.6 31 6.9 33 7.3 34.3 C7.8 37.5 8.2 39.5 8.6 40.9 C9 42.5 9.6 43.6 10.3 44.2 L15.8 44.8 L18.5 43.1 L24 47.5 L24.2 46 L20.8 42.8 L23.5 40.9 L20.2 39.8 C20 37 19.7 34.5 19.6 32.1 C19.8 30 20 27.5 20.2 25.6 C20.6 23.5 21 21.5 21.3 20.1 L23.5 17.5 L26.2 16.8 L25.8 16 L23.5 15.7 L21.3 14.6 L22.4 11.8 Z" fill="url(#mg)"/>
<path d="M10.8 45 C9.5 50 8 54 6.4 57.5" fill="none" stroke="#6e6e6e" stroke-width="1"/></g>
<ellipse cx="15.08" cy="22.96" rx="5.13" ry="5.94" fill="#1828ff" opacity="0.9" filter="url(#soft)"/>
<ellipse cx="14.16" cy="22.68" rx="3.81" ry="3.91" fill="url(#lumB)"/>
<ellipse cx="14.48" cy="24.06" rx="4.3" ry="3.85" fill="url(#lumB)"/>
<ellipse cx="13.7" cy="21.45" rx="4.15" ry="3.3" fill="url(#lumB)"/>
</g>
<rect x="112.35" y="349.1" width="31.7" height="57.8" fill="#242424"/>
<g transform="translate(112.52 348.64) rotate(3.5 16 28) scale(1.03 1)">
<g filter="url(#soft)"><path d="M24.3 9.4 C22 8.2 20 8 19.1 8.3 C15 8.8 12 9.3 10.3 9.9 C8.5 10.2 7.2 11 7.5 11.8 C7.6 13 8 13.8 8.4 14 L9.2 17.3 C7.5 19.5 7 21 7 22.8 C6.3 25 6.2 27 6.4 27.8 C6.6 31 6.9 33 7.3 34.3 C7.8 37.5 8.2 39.5 8.6 40.9 C9 42.5 9.6 43.6 10.3 44.2 L15.8 44.8 L18.5 43.1 L24 47.5 L24.2 46 L20.8 42.8 L23.5 40.9 L20.2 39.8 C20 37 19.7 34.5 19.6 32.1 C19.8 30 20 27.5 20.2 25.6 C20.6 23.5 21 21.5 21.3 20.1 L23.5 17.5 L26.2 16.8 L25.8 16 L23.5 15.7 L21.3 14.6 L22.4 11.8 Z" fill="url(#mg)"/>
<path d="M10.8 45 C9.5 50 8 54 6.4 57.5" fill="none" stroke="#6e6e6e" stroke-width="1"/></g>
<ellipse cx="14.05" cy="22.48" rx="3.99" ry="4.62" fill="#1828ff" opacity="0.9" filter="url(#soft)"/>
<ellipse cx="13.93" cy="21.28" rx="3.18" ry="2.77" fill="url(#lumB)"/>
<ellipse cx="13.14" cy="21.33" rx="2.97" ry="2.99" fill="url(#lumB)"/>
<ellipse cx="14.37" cy="22.87" rx="3.16" ry="3.53" fill="url(#lumB)"/>
</g>
<rect x="145.9" y="349.1" width="31.7" height="57.8" fill="#242424"/>
<g transform="translate(145.18 349.04) rotate(-3.86 16 28) scale(1.02 1)">
<g filter="url(#soft)"><path d="M20.9 8.2 C19 7.4 17 7.4 15.4 7.7 C13 8.2 11 9.5 9.6 11 C8.2 11.2 6.8 12.6 7 14.7 C7.1 16.2 7.4 17.2 7.6 18.7 C6.2 21 5.6 24 5.4 26.6 C5 29 4.9 31 5 33 C5.2 36.5 6.2 39 7.4 40.5 C8.6 42.5 10 44 11.4 44.5 L14 45 L17.5 44 L20.4 42.8 L25 45 L28.3 45.6 L27.8 44.4 L23.5 42.6 L20.2 40.2 C19.6 39.2 19 38.6 18.9 38.5 C19.3 35.5 19.6 33 19.4 30.6 C19.3 28.5 19.1 26.5 18.9 24.6 C19.5 22 20.8 19.5 22.2 18.5 L24.6 17.6 L25.2 16.4 L23 16.6 L21 16.2 C20.4 15 20 13.8 19.9 12.7 C20.6 11.2 21.2 9.8 20.9 8.2 Z" fill="url(#mg)"/>
<path d="M12.4 45.3 C13 49 13.8 53 14.4 57.5" fill="none" stroke="#6e6e6e" stroke-width="1"/></g>
<ellipse cx="14.03" cy="23.65" rx="4.18" ry="4.84" fill="#1828ff" opacity="0.9" filter="url(#soft)"/>
<ellipse cx="14.59" cy="22.81" rx="2.72" ry="3.02" fill="url(#lumB)"/>
<ellipse cx="14.55" cy="23.71" rx="3.1" ry="3.47" fill="url(#lumB)"/>
<ellipse cx="13.74" cy="24.42" rx="3.42" ry="2.74" fill="url(#lumB)"/>
</g>
<rect x="179.45" y="349.1" width="31.7" height="57.8" fill="#242424"/>
<g transform="translate(179.98 348.21) rotate(-0.56 16 28) scale(1.05 1)">
<g filter="url(#soft)"><path d="M24.3 9.4 C22 8.2 20 8 19.1 8.3 C15 8.8 12 9.3 10.3 9.9 C8.5 10.2 7.2 11 7.5 11.8 C7.6 13 8 13.8 8.4 14 L9.2 17.3 C7.5 19.5 7 21 7 22.8 C6.3 25 6.2 27 6.4 27.8 C6.6 31 6.9 33 7.3 34.3 C7.8 37.5 8.2 39.5 8.6 40.9 C9 42.5 9.6 43.6 10.3 44.2 L15.8 44.8 L18.5 43.1 L24 47.5 L24.2 46 L20.8 42.8 L23.5 40.9 L20.2 39.8 C20 37 19.7 34.5 19.6 32.1 C19.8 30 20 27.5 20.2 25.6 C20.6 23.5 21 21.5 21.3 20.1 L23.5 17.5 L26.2 16.8 L25.8 16 L23.5 15.7 L21.3 14.6 L22.4 11.8 Z" fill="url(#mg)"/>
<path d="M10.8 45 C9.5 50 8 54 6.4 57.5" fill="none" stroke="#6e6e6e" stroke-width="1"/></g>
<ellipse cx="15.5" cy="25.18" rx="3.61" ry="4.18" fill="#1828ff" opacity="0.9" filter="url(#soft)"/>
<ellipse cx="15.22" cy="25.34" rx="2.93" ry="3.04" fill="url(#lumB)"/>
<ellipse cx="16.51" cy="25.1" rx="2.71" ry="2.47" fill="url(#lumB)"/>
<ellipse cx="16.01" cy="25.91" rx="2.7" ry="2.96" fill="url(#lumB)"/>
</g>
<rect x="213" y="349.1" width="31.7" height="57.8" fill="#242424"/>
<g transform="translate(213.96 350.25) rotate(5.73 16 28) scale(0.97 1)">
<g filter="url(#soft)"><path d="M24.3 9.4 C22 8.2 20 8 19.1 8.3 C15 8.8 12 9.3 10.3 9.9 C8.5 10.2 7.2 11 7.5 11.8 C7.6 13 8 13.8 8.4 14 L9.2 17.3 C7.5 19.5 7 21 7 22.8 C6.3 25 6.2 27 6.4 27.8 C6.6 31 6.9 33 7.3 34.3 C7.8 37.5 8.2 39.5 8.6 40.9 C9 42.5 9.6 43.6 10.3 44.2 L15.8 44.8 L18.5 43.1 L24 47.5 L24.2 46 L20.8 42.8 L23.5 40.9 L20.2 39.8 C20 37 19.7 34.5 19.6 32.1 C19.8 30 20 27.5 20.2 25.6 C20.6 23.5 21 21.5 21.3 20.1 L23.5 17.5 L26.2 16.8 L25.8 16 L23.5 15.7 L21.3 14.6 L22.4 11.8 Z" fill="url(#mg)"/>
<path d="M10.8 45 C9.5 50 8 54 6.4 57.5" fill="none" stroke="#6e6e6e" stroke-width="1"/></g>
<ellipse cx="15.29" cy="24.77" rx="2.85" ry="3.3" fill="#1828ff" opacity="0.9" filter="url(#soft)"/>
<ellipse cx="14.97" cy="25.51" rx="2.29" ry="2.06" fill="url(#lumM)"/>
<ellipse cx="14.54" cy="24.66" rx="2.06" ry="2.38" fill="url(#lumM)"/>
<ellipse cx="15.27" cy="23.92" rx="2.26" ry="1.85" fill="url(#lumM)"/>
</g>
<rect x="246.55" y="349.1" width="31.7" height="57.8" fill="#242424"/>
<g transform="translate(245.76 348.7) rotate(3.45 16 28) scale(1.04 1)">
<g filter="url(#soft)"><path d="M20.9 8.2 C19 7.4 17 7.4 15.4 7.7 C13 8.2 11 9.5 9.6 11 C8.2 11.2 6.8 12.6 7 14.7 C7.1 16.2 7.4 17.2 7.6 18.7 C6.2 21 5.6 24 5.4 26.6 C5 29 4.9 31 5 33 C5.2 36.5 6.2 39 7.4 40.5 C8.6 42.5 10 44 11.4 44.5 L14 45 L17.5 44 L20.4 42.8 L25 45 L28.3 45.6 L27.8 44.4 L23.5 42.6 L20.2 40.2 C19.6 39.2 19 38.6 18.9 38.5 C19.3 35.5 19.6 33 19.4 30.6 C19.3 28.5 19.1 26.5 18.9 24.6 C19.5 22 20.8 19.5 22.2 18.5 L24.6 17.6 L25.2 16.4 L23 16.6 L21 16.2 C20.4 15 20 13.8 19.9 12.7 C20.6 11.2 21.2 9.8 20.9 8.2 Z" fill="url(#mg)"/>
<path d="M12.4 45.3 C13 49 13.8 53 14.4 57.5" fill="none" stroke="#6e6e6e" stroke-width="1"/></g>
<ellipse cx="14.34" cy="22.52" rx="2.85" ry="3.3" fill="#1828ff" opacity="0.9" filter="url(#soft)"/>
<ellipse cx="14.37" cy="22.92" rx="2.28" ry="2.32" fill="url(#lumM)"/>
<ellipse cx="15.14" cy="22.51" rx="2.36" ry="1.86" fill="url(#lumM)"/>
<ellipse cx="13.84" cy="22.57" rx="1.87" ry="2.35" fill="url(#lumM)"/>
</g>
<rect x="280.1" y="349.1" width="31.7" height="57.8" fill="#242424"/>
<g transform="translate(280.15 349.92) rotate(0.72 16 28) scale(1.02 1)">
<g filter="url(#soft)"><path d="M24.3 9.4 C22 8.2 20 8 19.1 8.3 C15 8.8 12 9.3 10.3 9.9 C8.5 10.2 7.2 11 7.5 11.8 C7.6 13 8 13.8 8.4 14 L9.2 17.3 C7.5 19.5 7 21 7 22.8 C6.3 25 6.2 27 6.4 27.8 C6.6 31 6.9 33 7.3 34.3 C7.8 37.5 8.2 39.5 8.6 40.9 C9 42.5 9.6 43.6 10.3 44.2 L15.8 44.8 L18.5 43.1 L24 47.5 L24.2 46 L20.8 42.8 L23.5 40.9 L20.2 39.8 C20 37 19.7 34.5 19.6 32.1 C19.8 30 20 27.5 20.2 25.6 C20.6 23.5 21 21.5 21.3 20.1 L23.5 17.5 L26.2 16.8 L25.8 16 L23.5 15.7 L21.3 14.6 L22.4 11.8 Z" fill="url(#mg)"/>
<path d="M10.8 45 C9.5 50 8 54 6.4 57.5" fill="none" stroke="#6e6e6e" stroke-width="1"/></g>
<ellipse cx="14.75" cy="23.33" rx="2.47" ry="2.86" fill="#1828ff" opacity="0.9" filter="url(#soft)"/>
<ellipse cx="15.29" cy="23.96" rx="1.57" ry="2.11" fill="url(#lumM)"/>
<ellipse cx="15.48" cy="23.37" rx="1.8" ry="1.69" fill="url(#lumM)"/>
<ellipse cx="14.8" cy="23.34" rx="1.82" ry="1.58" fill="url(#lumM)"/>
</g>
<rect x="313.65" y="349.1" width="31.7" height="57.8" fill="#242424"/>
<g transform="translate(313.69 348.86) rotate(3.61 16 28) scale(1.06 1)">
<g filter="url(#soft)"><path d="M24.3 9.4 C22 8.2 20 8 19.1 8.3 C15 8.8 12 9.3 10.3 9.9 C8.5 10.2 7.2 11 7.5 11.8 C7.6 13 8 13.8 8.4 14 L9.2 17.3 C7.5 19.5 7 21 7 22.8 C6.3 25 6.2 27 6.4 27.8 C6.6 31 6.9 33 7.3 34.3 C7.8 37.5 8.2 39.5 8.6 40.9 C9 42.5 9.6 43.6 10.3 44.2 L15.8 44.8 L18.5 43.1 L24 47.5 L24.2 46 L20.8 42.8 L23.5 40.9 L20.2 39.8 C20 37 19.7 34.5 19.6 32.1 C19.8 30 20 27.5 20.2 25.6 C20.6 23.5 21 21.5 21.3 20.1 L23.5 17.5 L26.2 16.8 L25.8 16 L23.5 15.7 L21.3 14.6 L22.4 11.8 Z" fill="url(#mg)"/>
<path d="M10.8 45 C9.5 50 8 54 6.4 57.5" fill="none" stroke="#6e6e6e" stroke-width="1"/></g>
<ellipse cx="15.35" cy="23.72" rx="2.47" ry="2.86" fill="#1828ff" opacity="0.9" filter="url(#soft)"/>
<ellipse cx="15.65" cy="23.04" rx="1.78" ry="1.83" fill="url(#lumM)"/>
<ellipse cx="16.06" cy="24.38" rx="1.6" ry="1.87" fill="url(#lumM)"/>
<ellipse cx="14.77" cy="23.62" rx="1.96" ry="2.15" fill="url(#lumM)"/>
</g>
<rect x="347.2" y="349.1" width="31.7" height="57.8" fill="#242424"/>
<g transform="translate(346.76 348.36) rotate(1.41 16 28) scale(1 1)">
<g filter="url(#soft)"><path d="M20.9 8.2 C19 7.4 17 7.4 15.4 7.7 C13 8.2 11 9.5 9.6 11 C8.2 11.2 6.8 12.6 7 14.7 C7.1 16.2 7.4 17.2 7.6 18.7 C6.2 21 5.6 24 5.4 26.6 C5 29 4.9 31 5 33 C5.2 36.5 6.2 39 7.4 40.5 C8.6 42.5 10 44 11.4 44.5 L14 45 L17.5 44 L20.4 42.8 L25 45 L28.3 45.6 L27.8 44.4 L23.5 42.6 L20.2 40.2 C19.6 39.2 19 38.6 18.9 38.5 C19.3 35.5 19.6 33 19.4 30.6 C19.3 28.5 19.1 26.5 18.9 24.6 C19.5 22 20.8 19.5 22.2 18.5 L24.6 17.6 L25.2 16.4 L23 16.6 L21 16.2 C20.4 15 20 13.8 19.9 12.7 C20.6 11.2 21.2 9.8 20.9 8.2 Z" fill="url(#mg)"/>
<path d="M12.4 45.3 C13 49 13.8 53 14.4 57.5" fill="none" stroke="#6e6e6e" stroke-width="1"/></g>
<ellipse cx="16.22" cy="22.45" rx="2.47" ry="2.86" fill="#1828ff" opacity="0.9" filter="url(#soft)"/>
<ellipse cx="16.66" cy="21.71" rx="1.56" ry="1.71" fill="url(#lumM)"/>
<ellipse cx="16.51" cy="22.18" rx="1.66" ry="1.96" fill="url(#lumM)"/>
<ellipse cx="15.6" cy="22.81" rx="1.51" ry="1.89" fill="url(#lumM)"/>
</g>
<rect x="380.75" y="349.1" width="31.7" height="57.8" fill="#242424"/>
<g transform="translate(380.02 349.17) rotate(-0.76 16 28) scale(0.97 1)">
<g filter="url(#soft)"><path d="M24.3 9.4 C22 8.2 20 8 19.1 8.3 C15 8.8 12 9.3 10.3 9.9 C8.5 10.2 7.2 11 7.5 11.8 C7.6 13 8 13.8 8.4 14 L9.2 17.3 C7.5 19.5 7 21 7 22.8 C6.3 25 6.2 27 6.4 27.8 C6.6 31 6.9 33 7.3 34.3 C7.8 37.5 8.2 39.5 8.6 40.9 C9 42.5 9.6 43.6 10.3 44.2 L15.8 44.8 L18.5 43.1 L24 47.5 L24.2 46 L20.8 42.8 L23.5 40.9 L20.2 39.8 C20 37 19.7 34.5 19.6 32.1 C19.8 30 20 27.5 20.2 25.6 C20.6 23.5 21 21.5 21.3 20.1 L23.5 17.5 L26.2 16.8 L25.8 16 L23.5 15.7 L21.3 14.6 L22.4 11.8 Z" fill="url(#mg)"/>
<path d="M10.8 45 C9.5 50 8 54 6.4 57.5" fill="none" stroke="#6e6e6e" stroke-width="1"/></g>
<ellipse cx="14.9" cy="23.45" rx="2.66" ry="3.08" fill="#1828ff" opacity="0.9" filter="url(#soft)"/>
<ellipse cx="14.95" cy="22.88" rx="1.68" ry="2.12" fill="url(#lumM)"/>
<ellipse cx="15.13" cy="23.5" rx="2.14" ry="2.11" fill="url(#lumM)"/>
<ellipse cx="15.5" cy="23" rx="2.06" ry="2.25" fill="url(#lumM)"/>
</g>
<line x1="12" y1="226.3" x2="110.2" y2="226.3" stroke="#000" stroke-width="1.4"/>
<text x="61.1" y="222.5" font-size="9.6" font-weight="bold" text-anchor="middle" fill="#000" stroke="#000" stroke-width="0.19">CTRL</text>
<line x1="112.65" y1="226.3" x2="210.85" y2="226.3" stroke="#000" stroke-width="1.4"/>
<text x="161.75" y="222.5" font-size="9.6" font-weight="bold" text-anchor="middle" fill="#000" stroke="#000" stroke-width="0.19">α-PD-1</text>
<line x1="213.3" y1="226.3" x2="311.5" y2="226.3" stroke="#000" stroke-width="1.4"/>
<text x="262.4" y="222.5" font-size="9.6" font-weight="bold" text-anchor="middle" fill="#000" stroke="#000" stroke-width="0.19">CAR-T</text>
<line x1="313.95" y1="226.3" x2="412.15" y2="226.3" stroke="#000" stroke-width="1.4"/>
<text x="363.05" y="222.5" font-size="9.6" font-weight="bold" text-anchor="middle" fill="#000" stroke="#000" stroke-width="0.19">CAR-T + α-PD-1</text>
<text x="8.6" y="258.5" font-size="9.2" font-weight="bold" text-anchor="middle" fill="#000" stroke="#000" stroke-width="0.18" transform="rotate(-90 8.6 258.5)">D10</text>
<text x="8.6" y="318" font-size="9.2" font-weight="bold" text-anchor="middle" fill="#000" stroke="#000" stroke-width="0.18" transform="rotate(-90 8.6 318)">D15</text>
<text x="8.6" y="378" font-size="9.2" font-weight="bold" text-anchor="middle" fill="#000" stroke="#000" stroke-width="0.18" transform="rotate(-90 8.6 378)">D20</text>
<text x="421.3" y="216.8" font-size="20.5" font-weight="bold" text-anchor="start" fill="#000">E</text>
<rect x="445.6" y="230.1" width="9.4" height="5.2" fill="#fff" stroke="#2b2bc0" stroke-width="1.1"/>
<text x="458.4" y="235.7" font-size="8.3" font-weight="bold" text-anchor="start" fill="#000" stroke="#000" stroke-width="0.17">0 week</text>
<rect x="445.6" y="240.3" width="9.4" height="5.2" fill="#fff" stroke="#2e8a2e" stroke-width="1.1"/>
<text x="458.4" y="245.9" font-size="8.3" font-weight="bold" text-anchor="start" fill="#000" stroke="#000" stroke-width="0.17">1 week</text>
<rect x="445.6" y="249.9" width="9.4" height="5.2" fill="#fff" stroke="#cc3333" stroke-width="1.1"/>
<text x="458.4" y="255.5" font-size="8.3" font-weight="bold" text-anchor="start" fill="#000" stroke="#000" stroke-width="0.17">2 week</text>
<line x1="449.7" y1="267.3" x2="449.7" y2="366.5" stroke="#000" stroke-width="1.5"/>
<line x1="445.2" y1="365.8" x2="449.7" y2="365.8" stroke="#000" stroke-width="1.5"/>
<text x="443.5" y="369" font-size="9.2" font-weight="bold" text-anchor="end" fill="#000" stroke="#000" stroke-width="0.18">0</text>
<line x1="445.2" y1="346.24" x2="449.7" y2="346.24" stroke="#000" stroke-width="1.5"/>
<text x="443.5" y="349.44" font-size="9.2" font-weight="bold" text-anchor="end" fill="#000" stroke="#000" stroke-width="0.18">100</text>
<line x1="445.2" y1="326.68" x2="449.7" y2="326.68" stroke="#000" stroke-width="1.5"/>
<text x="443.5" y="329.88" font-size="9.2" font-weight="bold" text-anchor="end" fill="#000" stroke="#000" stroke-width="0.18">200</text>
<line x1="445.2" y1="307.12" x2="449.7" y2="307.12" stroke="#000" stroke-width="1.5"/>
<text x="443.5" y="310.32" font-size="9.2" font-weight="bold" text-anchor="end" fill="#000" stroke="#000" stroke-width="0.18">300</text>
<line x1="445.2" y1="287.56" x2="449.7" y2="287.56" stroke="#000" stroke-width="1.5"/>
<text x="443.5" y="290.76" font-size="9.2" font-weight="bold" text-anchor="end" fill="#000" stroke="#000" stroke-width="0.18">400</text>
<line x1="445.2" y1="268" x2="449.7" y2="268" stroke="#000" stroke-width="1.5"/>
<text x="443.5" y="271.2" font-size="9.2" font-weight="bold" text-anchor="end" fill="#000" stroke="#000" stroke-width="0.18">500</text>
<line x1="461" y1="365.8" x2="461" y2="369.8" stroke="#000" stroke-width="1.6"/>
<line x1="454.5" y1="359.93" x2="454.5" y2="358.95" stroke="#2b2bc0" stroke-width="1"/>
<line x1="453.2" y1="358.95" x2="455.8" y2="358.95" stroke="#2b2bc0" stroke-width="1"/>
<rect x="452.2" y="359.93" width="4.6" height="5.87" fill="#fff" stroke="#2b2bc0" stroke-width="1.1"/>
<ellipse cx="454.5" cy="359.93" rx="1.6" ry="1.1" fill="#2b2bc0"/>
<rect x="458.7" y="355.63" width="4.6" height="10.17" fill="#fff" stroke="#2e8a2e" stroke-width="1.1"/>
<ellipse cx="461" cy="355.63" rx="1.6" ry="1.1" fill="#2e8a2e"/>
<rect x="465.2" y="355.24" width="4.6" height="10.56" fill="#fff" stroke="#cc3333" stroke-width="1.1"/>
<ellipse cx="467.5" cy="355.24" rx="1.6" ry="1.1" fill="#cc3333"/>
<line x1="485.87" y1="365.8" x2="485.87" y2="369.8" stroke="#000" stroke-width="1.6"/>
<line x1="479.37" y1="360.52" x2="479.37" y2="360.13" stroke="#2b2bc0" stroke-width="1"/>
<line x1="478.07" y1="360.13" x2="480.67" y2="360.13" stroke="#2b2bc0" stroke-width="1"/>
<rect x="477.07" y="360.52" width="4.6" height="5.28" fill="#fff" stroke="#2b2bc0" stroke-width="1.1"/>
<ellipse cx="479.37" cy="360.52" rx="1.6" ry="1.1" fill="#2b2bc0"/>
<rect x="483.57" y="350.54" width="4.6" height="15.26" fill="#fff" stroke="#2e8a2e" stroke-width="1.1"/>
<ellipse cx="485.87" cy="350.54" rx="1.6" ry="1.1" fill="#2e8a2e"/>
<rect x="490.07" y="348.78" width="4.6" height="17.02" fill="#fff" stroke="#cc3333" stroke-width="1.1"/>
<ellipse cx="492.37" cy="348.78" rx="1.6" ry="1.1" fill="#cc3333"/>
<line x1="510.74" y1="365.8" x2="510.74" y2="369.8" stroke="#000" stroke-width="1.6"/>
<line x1="504.24" y1="360.52" x2="504.24" y2="358.95" stroke="#2b2bc0" stroke-width="1"/>
<line x1="502.94" y1="358.95" x2="505.54" y2="358.95" stroke="#2b2bc0" stroke-width="1"/>
<rect x="501.94" y="360.52" width="4.6" height="5.28" fill="#fff" stroke="#2b2bc0" stroke-width="1.1"/>
<ellipse cx="504.24" cy="360.52" rx="1.6" ry="1.1" fill="#2b2bc0"/>
<line x1="510.74" y1="338.02" x2="510.74" y2="337.44" stroke="#2e8a2e" stroke-width="1"/>
<line x1="509.44" y1="337.44" x2="512.04" y2="337.44" stroke="#2e8a2e" stroke-width="1"/>
<rect x="508.44" y="338.02" width="4.6" height="27.78" fill="#fff" stroke="#2e8a2e" stroke-width="1.1"/>
<ellipse cx="510.74" cy="338.02" rx="1.6" ry="1.1" fill="#2e8a2e"/>
<rect x="514.94" y="319.64" width="4.6" height="46.16" fill="#fff" stroke="#cc3333" stroke-width="1.1"/>
<ellipse cx="517.24" cy="319.64" rx="1.6" ry="1.1" fill="#cc3333"/>
<line x1="535.61" y1="365.8" x2="535.61" y2="369.8" stroke="#000" stroke-width="1.6"/>
<line x1="529.11" y1="360.52" x2="529.11" y2="360.13" stroke="#2b2bc0" stroke-width="1"/>
<line x1="527.81" y1="360.13" x2="530.41" y2="360.13" stroke="#2b2bc0" stroke-width="1"/>
<rect x="526.81" y="360.52" width="4.6" height="5.28" fill="#fff" stroke="#2b2bc0" stroke-width="1.1"/>
<ellipse cx="529.11" cy="360.52" rx="1.6" ry="1.1" fill="#2b2bc0"/>
<line x1="535.61" y1="329.03" x2="535.61" y2="326.68" stroke="#2e8a2e" stroke-width="1"/>
<line x1="534.31" y1="326.68" x2="536.91" y2="326.68" stroke="#2e8a2e" stroke-width="1"/>
<rect x="533.31" y="329.03" width="4.6" height="36.77" fill="#fff" stroke="#2e8a2e" stroke-width="1.1"/>
<ellipse cx="535.61" cy="329.03" rx="1.6" ry="1.1" fill="#2e8a2e"/>
<line x1="542.11" y1="283.65" x2="542.11" y2="282.08" stroke="#cc3333" stroke-width="1"/>
<line x1="540.81" y1="282.08" x2="543.41" y2="282.08" stroke="#cc3333" stroke-width="1"/>
<rect x="539.81" y="283.65" width="4.6" height="82.15" fill="#fff" stroke="#cc3333" stroke-width="1.1"/>
<ellipse cx="542.11" cy="283.65" rx="1.6" ry="1.1" fill="#cc3333"/>
<line x1="449" y1="365.8" x2="548" y2="365.8" stroke="#000" stroke-width="1.7"/>
<text x="497.2" y="267.4" font-size="9.2" font-weight="bold" text-anchor="middle" fill="#000" stroke="#000" stroke-width="0.18">IFN-γ</text>
<line x1="582.4" y1="269.7" x2="582.4" y2="367.2" stroke="#000" stroke-width="1.5"/>
<line x1="577.9" y1="366.5" x2="582.4" y2="366.5" stroke="#000" stroke-width="1.5"/>
<text x="576.2" y="369.7" font-size="9.2" font-weight="bold" text-anchor="end" fill="#000" stroke="#000" stroke-width="0.18">0</text>
<line x1="577.9" y1="347.28" x2="582.4" y2="347.28" stroke="#000" stroke-width="1.5"/>
<text x="576.2" y="350.48" font-size="9.2" font-weight="bold" text-anchor="end" fill="#000" stroke="#000" stroke-width="0.18">100</text>
<line x1="577.9" y1="328.06" x2="582.4" y2="328.06" stroke="#000" stroke-width="1.5"/>
<text x="576.2" y="331.26" font-size="9.2" font-weight="bold" text-anchor="end" fill="#000" stroke="#000" stroke-width="0.18">200</text>
<line x1="577.9" y1="308.84" x2="582.4" y2="308.84" stroke="#000" stroke-width="1.5"/>
<text x="576.2" y="312.04" font-size="9.2" font-weight="bold" text-anchor="end" fill="#000" stroke="#000" stroke-width="0.18">300</text>
<line x1="577.9" y1="289.62" x2="582.4" y2="289.62" stroke="#000" stroke-width="1.5"/>
<text x="576.2" y="292.82" font-size="9.2" font-weight="bold" text-anchor="end" fill="#000" stroke="#000" stroke-width="0.18">400</text>
<line x1="577.9" y1="270.4" x2="582.4" y2="270.4" stroke="#000" stroke-width="1.5"/>
<text x="576.2" y="273.6" font-size="9.2" font-weight="bold" text-anchor="end" fill="#000" stroke="#000" stroke-width="0.18">500</text>
<line x1="593.4" y1="366.5" x2="593.4" y2="370.5" stroke="#000" stroke-width="1.6"/>
<rect x="584.6" y="365.7" width="4.6" height="0.8" fill="#fff" stroke="#2b2bc0" stroke-width="1.1"/>
<ellipse cx="586.9" cy="366.12" rx="1.6" ry="1.1" fill="#2b2bc0"/>
<line x1="593.4" y1="361.31" x2="593.4" y2="360.73" stroke="#2e8a2e" stroke-width="1"/>
<line x1="592.1" y1="360.73" x2="594.7" y2="360.73" stroke="#2e8a2e" stroke-width="1"/>
<rect x="591.1" y="361.31" width="4.6" height="5.19" fill="#fff" stroke="#2e8a2e" stroke-width="1.1"/>
<ellipse cx="593.4" cy="361.31" rx="1.6" ry="1.1" fill="#2e8a2e"/>
<line x1="599.9" y1="362.27" x2="599.9" y2="361.89" stroke="#cc3333" stroke-width="1"/>
<line x1="598.6" y1="361.89" x2="601.2" y2="361.89" stroke="#cc3333" stroke-width="1"/>
<rect x="597.6" y="362.27" width="4.6" height="4.23" fill="#fff" stroke="#cc3333" stroke-width="1.1"/>
<ellipse cx="599.9" cy="362.27" rx="1.6" ry="1.1" fill="#cc3333"/>
<line x1="618" y1="366.5" x2="618" y2="370.5" stroke="#000" stroke-width="1.6"/>
<rect x="609.2" y="365.7" width="4.6" height="0.8" fill="#fff" stroke="#2b2bc0" stroke-width="1.1"/>
<ellipse cx="611.5" cy="366.12" rx="1.6" ry="1.1" fill="#2b2bc0"/>
<line x1="618" y1="355.93" x2="618" y2="355.16" stroke="#2e8a2e" stroke-width="1"/>
<line x1="616.7" y1="355.16" x2="619.3" y2="355.16" stroke="#2e8a2e" stroke-width="1"/>
<rect x="615.7" y="355.93" width="4.6" height="10.57" fill="#fff" stroke="#2e8a2e" stroke-width="1.1"/>
<ellipse cx="618" cy="355.93" rx="1.6" ry="1.1" fill="#2e8a2e"/>
<line x1="624.5" y1="358.43" x2="624.5" y2="356.89" stroke="#cc3333" stroke-width="1"/>
<line x1="623.2" y1="356.89" x2="625.8" y2="356.89" stroke="#cc3333" stroke-width="1"/>
<rect x="622.2" y="358.43" width="4.6" height="8.07" fill="#fff" stroke="#cc3333" stroke-width="1.1"/>
<ellipse cx="624.5" cy="358.43" rx="1.6" ry="1.1" fill="#cc3333"/>
<line x1="642.6" y1="366.5" x2="642.6" y2="370.5" stroke="#000" stroke-width="1.6"/>
<rect x="633.8" y="365.7" width="4.6" height="0.8" fill="#fff" stroke="#2b2bc0" stroke-width="1.1"/>
<ellipse cx="636.1" cy="365.92" rx="1.6" ry="1.1" fill="#2b2bc0"/>
<line x1="642.6" y1="343.44" x2="642.6" y2="342.86" stroke="#2e8a2e" stroke-width="1"/>
<line x1="641.3" y1="342.86" x2="643.9" y2="342.86" stroke="#2e8a2e" stroke-width="1"/>
<rect x="640.3" y="343.44" width="4.6" height="23.06" fill="#fff" stroke="#2e8a2e" stroke-width="1.1"/>
<ellipse cx="642.6" cy="343.44" rx="1.6" ry="1.1" fill="#2e8a2e"/>
<line x1="649.1" y1="318.83" x2="649.1" y2="318.45" stroke="#cc3333" stroke-width="1"/>
<line x1="647.8" y1="318.45" x2="650.4" y2="318.45" stroke="#cc3333" stroke-width="1"/>
<rect x="646.8" y="318.83" width="4.6" height="47.67" fill="#fff" stroke="#cc3333" stroke-width="1.1"/>
<ellipse cx="649.1" cy="318.83" rx="1.6" ry="1.1" fill="#cc3333"/>
<line x1="667.2" y1="366.5" x2="667.2" y2="370.5" stroke="#000" stroke-width="1.6"/>
<rect x="658.4" y="365.7" width="4.6" height="0.8" fill="#fff" stroke="#2b2bc0" stroke-width="1.1"/>
<ellipse cx="660.7" cy="366.12" rx="1.6" ry="1.1" fill="#2b2bc0"/>
<line x1="667.2" y1="330.56" x2="667.2" y2="329.41" stroke="#2e8a2e" stroke-width="1"/>
<line x1="665.9" y1="329.41" x2="668.5" y2="329.41" stroke="#2e8a2e" stroke-width="1"/>
<rect x="664.9" y="330.56" width="4.6" height="35.94" fill="#fff" stroke="#2e8a2e" stroke-width="1.1"/>
<ellipse cx="667.2" cy="330.56" rx="1.6" ry="1.1" fill="#2e8a2e"/>
<line x1="673.7" y1="287.31" x2="673.7" y2="285.39" stroke="#cc3333" stroke-width="1"/>
<line x1="672.4" y1="285.39" x2="675" y2="285.39" stroke="#cc3333" stroke-width="1"/>
<rect x="671.4" y="287.31" width="4.6" height="79.19" fill="#fff" stroke="#cc3333" stroke-width="1.1"/>
<ellipse cx="673.7" cy="287.31" rx="1.6" ry="1.1" fill="#cc3333"/>
<line x1="581.7" y1="366.5" x2="679" y2="366.5" stroke="#000" stroke-width="1.7"/>
<text x="629.4" y="267.4" font-size="9.2" font-weight="bold" text-anchor="middle" fill="#000" stroke="#000" stroke-width="0.18">Granzyme B</text>
<text x="424.2" y="315.5" font-size="9.2" font-weight="bold" text-anchor="middle" fill="#000" stroke="#000" stroke-width="0.18" transform="rotate(-90 424.2 315.5)">pg/mL</text>
<text x="557.2" y="318.5" font-size="9.2" font-weight="bold" text-anchor="middle" fill="#000" stroke="#000" stroke-width="0.18" transform="rotate(-90 557.2 318.5)">pg/mL</text>
<line x1="504.5" y1="309.3" x2="519.6" y2="309.3" stroke="#000" stroke-width="1.3"/>
<text x="512.05" y="310.18" font-size="8" font-weight="bold" text-anchor="middle" fill="#000" stroke="#000" stroke-width="0.16">***</text>
<line x1="528" y1="275" x2="542.7" y2="275" stroke="#000" stroke-width="1.3"/>
<text x="535.35" y="275.88" font-size="8" font-weight="bold" text-anchor="middle" fill="#000" stroke="#000" stroke-width="0.16">***</text>
<line x1="610.8" y1="343.6" x2="626.1" y2="343.6" stroke="#000" stroke-width="1.3"/>
<text x="618.45" y="344.48" font-size="8" font-weight="bold" text-anchor="middle" fill="#000" stroke="#000" stroke-width="0.16">***</text>
<line x1="635.5" y1="312.3" x2="650.9" y2="312.3" stroke="#000" stroke-width="1.3"/>
<text x="643.2" y="313.18" font-size="8" font-weight="bold" text-anchor="middle" fill="#000" stroke="#000" stroke-width="0.16">***</text>
<line x1="658.8" y1="277.6" x2="674.2" y2="277.6" stroke="#000" stroke-width="1.3"/>
<text x="666.5" y="278.48" font-size="8" font-weight="bold" text-anchor="middle" fill="#000" stroke="#000" stroke-width="0.16">***</text>
<text x="465.8" y="377.2" font-size="9.4" font-weight="bold" text-anchor="end" fill="#000" stroke="#000" stroke-width="0.19" transform="rotate(-45 465.8 377.2)">CTRL</text>
<text x="490.67" y="377.2" font-size="9.4" font-weight="bold" text-anchor="end" fill="#000" stroke="#000" stroke-width="0.19" transform="rotate(-45 490.67 377.2)"><tspan font-style="italic">α</tspan>-PD-1</text>
<text x="515.54" y="377.2" font-size="9.4" font-weight="bold" text-anchor="end" fill="#000" stroke="#000" stroke-width="0.19" transform="rotate(-45 515.54 377.2)">CAR-T</text>
<text x="536.71" y="375.2" font-size="9.4" font-weight="bold" text-anchor="end" fill="#000" stroke="#000" stroke-width="0.19" transform="rotate(-45 536.71 375.2)">CAR-T</text>
<text x="551.31" y="381.7" font-size="9.4" font-weight="bold" text-anchor="end" fill="#000" stroke="#000" stroke-width="0.19" transform="rotate(-45 551.31 381.7)">+ <tspan font-style="italic">α</tspan>-PD-1</text>
<text x="598.2" y="377.9" font-size="9.4" font-weight="bold" text-anchor="end" fill="#000" stroke="#000" stroke-width="0.19" transform="rotate(-45 598.2 377.9)">CTRL</text>
<text x="622.8" y="377.9" font-size="9.4" font-weight="bold" text-anchor="end" fill="#000" stroke="#000" stroke-width="0.19" transform="rotate(-45 622.8 377.9)"><tspan font-style="italic">α</tspan>-PD-1</text>
<text x="647.4" y="377.9" font-size="9.4" font-weight="bold" text-anchor="end" fill="#000" stroke="#000" stroke-width="0.19" transform="rotate(-45 647.4 377.9)">CAR-T</text>
<text x="668.3" y="375.9" font-size="9.4" font-weight="bold" text-anchor="end" fill="#000" stroke="#000" stroke-width="0.19" transform="rotate(-45 668.3 375.9)">CAR-T</text>
<text x="682.9" y="382.4" font-size="9.4" font-weight="bold" text-anchor="end" fill="#000" stroke="#000" stroke-width="0.19" transform="rotate(-45 682.9 382.4)">+ <tspan font-style="italic">α</tspan>-PD-1</text>
<text x="1.6" y="445" font-size="20.5" font-weight="bold" text-anchor="start" fill="#000">F</text>
<rect x="22.3" y="444.3" width="149.8" height="150.7" fill="#fff"/>
<path d="M22.9 505.8 L23.6 505.8 L24.3 505.8 L25 505.8 L25.7 505.8 L26.4 505.8 L27.1 505.8 L27.8 505.8 L28.5 505.8 L29.2 505.8 L29.9 505.8 L30.6 505.8 L31.3 505.8 L32 505.8 L32.7 505.8 L33.4 505.8 L34.1 505.8 L34.8 505.8 L35.5 505.8 L36.2 505.8 L36.9 505.8 L37.6 505.8 L38.3 505.8 L39 505.8 L39.7 505.8 L40.4 505.8 L41.1 505.8 L41.8 505.8 L42.5 505.8 L43.2 505.8 L43.9 505.8 L44.6 505.8 L45.3 505.8 L46 505.8 L46.7 505.8 L47.4 505.8 L48.1 505.8 L48.8 505.8 L49.5 505.8 L50.2 505.8 L50.9 505.8 L51.6 505.8 L52.3 505.8 L53 505.8 L53.7 505.8 L54.4 505.8 L55.1 505.8 L55.8 505.8 L56.5 505.8 L57.2 505.8 L57.9 505.79 L58.6 505.78 L59.3 505.75 L60 505.7 L60.7 505.6 L61.4 505.41 L62.1 505.01 L62.8 504.3 L63.5 503.17 L64.2 501.22 L64.9 499.33 L65.6 495.4 L66.3 496.21 L67 489.3 L67.7 480.53 L68.4 477.34 L69.1 470.23 L69.8 471.25 L70.5 465.48 L71.2 464.88 L71.9 463.37 L72.6 464.42 L73.3 470.17 L74 472.27 L74.7 475.77 L75.4 474.94 L76.1 480.44 L76.8 489.17 L77.5 488.58 L78.2 495.92 L78.9 496.29 L79.6 500.49 L80.3 502.36 L81 501.83 L81.7 503.95 L82.4 504.58 L83.1 504.6 L83.8 505.09 L84.5 505.45 L85.2 505.59 L85.9 505.68 L86.6 505.73 L87.3 505.76 L88 505.78 L88.7 505.79 L89.4 505.8 L90.1 505.8 L90.8 505.8 L91.5 505.8 L92.2 505.8 L92.9 505.8 L93.6 505.8 L94.3 505.8 L95 505.8 L95.7 505.8 L96.4 505.8 L97.1 505.8 L97.8 505.8 L98.5 505.8 L99.2 505.8 L99.9 505.8 L100.6 505.8 L101.3 505.8 L102 505.8 L102.7 505.8 L103.4 505.8 L104.1 505.8 L104.8 505.8 L105.5 505.8 L106.2 505.8 L106.9 505.8 L107.6 505.8 L108.3 505.8 L109 505.8 L109.7 505.8 L110.4 505.8 L111.1 505.8 L111.8 505.8 L112.5 505.8 L113.2 505.8 L113.9 505.8 L114.6 505.8 L115.3 505.8 L116 505.8 L116.7 505.8 L117.4 505.8 L118.1 505.8 L118.8 505.8 L119.5 505.8 L120.2 505.8 L120.9 505.8 L121.6 505.8 L122.3 505.8 L123 505.8 L123.7 505.8 L124.4 505.8 L125.1 505.8 L125.8 505.8 L126.5 505.8 L127.2 505.8 L127.9 505.8 L128.6 505.8 L129.3 505.8 L130 505.8 L130.7 505.8 L131.4 505.8 L132.1 505.8 L132.8 505.8 L133.5 505.8 L134.2 505.8 L134.9 505.8 L135.6 505.8 L136.3 505.8 L137 505.8 L137.7 505.8 L138.4 505.8 L139.1 505.8 L139.8 505.8 L140.5 505.8 L141.2 505.8 L141.9 505.8 L142.6 505.8 L143.3 505.8 L144 505.8 L144.7 505.8 L145.4 505.8 L146.1 505.8 L146.8 505.8 L147.5 505.8 L148.2 505.8 L148.9 505.8 L149.6 505.8 L150.3 505.8 L151 505.8 L151.7 505.8 L152.4 505.8 L153.1 505.8 L153.8 505.8 L154.5 505.8 L155.2 505.8 L155.9 505.8 L156.6 505.8 L157.3 505.8 L158 505.8 L158.7 505.8 L159.4 505.8 L160.1 505.8 L160.8 505.8 L161.5 505.8 L162.2 505.8 L162.9 505.8 L163.6 505.8 L164.3 505.8 L165 505.8 L165.7 505.8 L166.4 505.8 L167.1 505.8 L167.8 505.8 L168.5 505.8 L169.2 505.8 L169.9 505.8 L170.6 505.8 L171.3 505.8 L171.3 505.8 L22.9 505.8 Z" fill="#8c94d0" fill-opacity="0.9"/>
<path d="M22.9 505.8 L23.6 505.8 L24.3 505.8 L25 505.8 L25.7 505.8 L26.4 505.8 L27.1 505.8 L27.8 505.8 L28.5 505.8 L29.2 505.8 L29.9 505.8 L30.6 505.8 L31.3 505.8 L32 505.8 L32.7 505.8 L33.4 505.8 L34.1 505.8 L34.8 505.8 L35.5 505.8 L36.2 505.8 L36.9 505.8 L37.6 505.8 L38.3 505.8 L39 505.8 L39.7 505.8 L40.4 505.8 L41.1 505.8 L41.8 505.8 L42.5 505.8 L43.2 505.8 L43.9 505.8 L44.6 505.8 L45.3 505.8 L46 505.8 L46.7 505.8 L47.4 505.8 L48.1 505.8 L48.8 505.8 L49.5 505.8 L50.2 505.8 L50.9 505.8 L51.6 505.8 L52.3 505.8 L53 505.8 L53.7 505.8 L54.4 505.8 L55.1 505.8 L55.8 505.8 L56.5 505.8 L57.2 505.8 L57.9 505.79 L58.6 505.78 L59.3 505.75 L60 505.7 L60.7 505.6 L61.4 505.41 L62.1 505.01 L62.8 504.3 L63.5 503.17 L64.2 501.22 L64.9 499.33 L65.6 495.4 L66.3 496.21 L67 489.3 L67.7 480.53 L68.4 477.34 L69.1 470.23 L69.8 471.25 L70.5 465.48 L71.2 464.88 L71.9 463.37 L72.6 464.42 L73.3 470.17 L74 472.27 L74.7 475.77 L75.4 474.94 L76.1 480.44 L76.8 489.17 L77.5 488.58 L78.2 495.92 L78.9 496.29 L79.6 500.49 L80.3 502.36 L81 501.83 L81.7 503.95 L82.4 504.58 L83.1 504.6 L83.8 505.09 L84.5 505.45 L85.2 505.59 L85.9 505.68 L86.6 505.73 L87.3 505.76 L88 505.78 L88.7 505.79 L89.4 505.8 L90.1 505.8 L90.8 505.8 L91.5 505.8 L92.2 505.8 L92.9 505.8 L93.6 505.8 L94.3 505.8 L95 505.8 L95.7 505.8 L96.4 505.8 L97.1 505.8 L97.8 505.8 L98.5 505.8 L99.2 505.8 L99.9 505.8 L100.6 505.8 L101.3 505.8 L102 505.8 L102.7 505.8 L103.4 505.8 L104.1 505.8 L104.8 505.8 L105.5 505.8 L106.2 505.8 L106.9 505.8 L107.6 505.8 L108.3 505.8 L109 505.8 L109.7 505.8 L110.4 505.8 L111.1 505.8 L111.8 505.8 L112.5 505.8 L113.2 505.8 L113.9 505.8 L114.6 505.8 L115.3 505.8 L116 505.8 L116.7 505.8 L117.4 505.8 L118.1 505.8 L118.8 505.8 L119.5 505.8 L120.2 505.8 L120.9 505.8 L121.6 505.8 L122.3 505.8 L123 505.8 L123.7 505.8 L124.4 505.8 L125.1 505.8 L125.8 505.8 L126.5 505.8 L127.2 505.8 L127.9 505.8 L128.6 505.8 L129.3 505.8 L130 505.8 L130.7 505.8 L131.4 505.8 L132.1 505.8 L132.8 505.8 L133.5 505.8 L134.2 505.8 L134.9 505.8 L135.6 505.8 L136.3 505.8 L137 505.8 L137.7 505.8 L138.4 505.8 L139.1 505.8 L139.8 505.8 L140.5 505.8 L141.2 505.8 L141.9 505.8 L142.6 505.8 L143.3 505.8 L144 505.8 L144.7 505.8 L145.4 505.8 L146.1 505.8 L146.8 505.8 L147.5 505.8 L148.2 505.8 L148.9 505.8 L149.6 505.8 L150.3 505.8 L151 505.8 L151.7 505.8 L152.4 505.8 L153.1 505.8 L153.8 505.8 L154.5 505.8 L155.2 505.8 L155.9 505.8 L156.6 505.8 L157.3 505.8 L158 505.8 L158.7 505.8 L159.4 505.8 L160.1 505.8 L160.8 505.8 L161.5 505.8 L162.2 505.8 L162.9 505.8 L163.6 505.8 L164.3 505.8 L165 505.8 L165.7 505.8 L166.4 505.8 L167.1 505.8 L167.8 505.8 L168.5 505.8 L169.2 505.8 L169.9 505.8 L170.6 505.8 L171.3 505.8" fill="none" stroke="#2a35a8" stroke-width="1.2"/>
<path d="M22.9 535.4 L23.6 535.4 L24.3 535.4 L25 535.4 L25.7 535.4 L26.4 535.4 L27.1 535.4 L27.8 535.4 L28.5 535.4 L29.2 535.4 L29.9 535.4 L30.6 535.4 L31.3 535.4 L32 535.4 L32.7 535.4 L33.4 535.4 L34.1 535.4 L34.8 535.4 L35.5 535.4 L36.2 535.4 L36.9 535.4 L37.6 535.4 L38.3 535.4 L39 535.4 L39.7 535.4 L40.4 535.4 L41.1 535.4 L41.8 535.4 L42.5 535.4 L43.2 535.4 L43.9 535.4 L44.6 535.4 L45.3 535.4 L46 535.4 L46.7 535.4 L47.4 535.4 L48.1 535.4 L48.8 535.4 L49.5 535.4 L50.2 535.4 L50.9 535.4 L51.6 535.4 L52.3 535.4 L53 535.4 L53.7 535.4 L54.4 535.4 L55.1 535.4 L55.8 535.4 L56.5 535.4 L57.2 535.4 L57.9 535.39 L58.6 535.38 L59.3 535.36 L60 535.3 L60.7 535.18 L61.4 534.95 L62.1 534.63 L62.8 533.33 L63.5 532.46 L64.2 530.15 L64.9 528.99 L65.6 521.82 L66.3 518.23 L67 510.64 L67.7 505.41 L68.4 504.38 L69.1 499.36 L69.8 497.42 L70.5 496.64 L71.2 497.94 L71.9 498.79 L72.6 499.91 L73.3 507.83 L74 507.04 L74.7 513.89 L75.4 518.2 L76.1 518.74 L76.8 524.24 L77.5 527.79 L78.2 529.41 L78.9 530.69 L79.6 533.25 L80.3 532.99 L81 534.53 L81.7 534.54 L82.4 534.95 L83.1 535.14 L83.8 535.25 L84.5 535.32 L85.2 535.36 L85.9 535.38 L86.6 535.39 L87.3 535.39 L88 535.4 L88.7 535.4 L89.4 535.4 L90.1 535.4 L90.8 535.4 L91.5 535.4 L92.2 535.4 L92.9 535.4 L93.6 535.4 L94.3 535.4 L95 535.4 L95.7 535.4 L96.4 535.4 L97.1 535.4 L97.8 535.4 L98.5 535.4 L99.2 535.4 L99.9 535.4 L100.6 535.4 L101.3 535.4 L102 535.4 L102.7 535.4 L103.4 535.4 L104.1 535.4 L104.8 535.4 L105.5 535.4 L106.2 535.4 L106.9 535.4 L107.6 535.4 L108.3 535.4 L109 535.4 L109.7 535.4 L110.4 535.4 L111.1 535.4 L111.8 535.4 L112.5 535.4 L113.2 535.4 L113.9 535.4 L114.6 535.4 L115.3 535.4 L116 535.4 L116.7 535.4 L117.4 535.4 L118.1 535.4 L118.8 535.4 L119.5 535.4 L120.2 535.4 L120.9 535.4 L121.6 535.4 L122.3 535.4 L123 535.4 L123.7 535.4 L124.4 535.4 L125.1 535.4 L125.8 535.4 L126.5 535.4 L127.2 535.4 L127.9 535.4 L128.6 535.4 L129.3 535.4 L130 535.4 L130.7 535.4 L131.4 535.4 L132.1 535.4 L132.8 535.4 L133.5 535.4 L134.2 535.4 L134.9 535.4 L135.6 535.4 L136.3 535.4 L137 535.4 L137.7 535.4 L138.4 535.4 L139.1 535.4 L139.8 535.4 L140.5 535.4 L141.2 535.4 L141.9 535.4 L142.6 535.4 L143.3 535.4 L144 535.4 L144.7 535.4 L145.4 535.4 L146.1 535.4 L146.8 535.4 L147.5 535.4 L148.2 535.4 L148.9 535.4 L149.6 535.4 L150.3 535.4 L151 535.4 L151.7 535.4 L152.4 535.4 L153.1 535.4 L153.8 535.4 L154.5 535.4 L155.2 535.4 L155.9 535.4 L156.6 535.4 L157.3 535.4 L158 535.4 L158.7 535.4 L159.4 535.4 L160.1 535.4 L160.8 535.4 L161.5 535.4 L162.2 535.4 L162.9 535.4 L163.6 535.4 L164.3 535.4 L165 535.4 L165.7 535.4 L166.4 535.4 L167.1 535.4 L167.8 535.4 L168.5 535.4 L169.2 535.4 L169.9 535.4 L170.6 535.4 L171.3 535.4 L171.3 535.4 L22.9 535.4 Z" fill="#f0c47e" fill-opacity="0.9"/>
<path d="M22.9 535.4 L23.6 535.4 L24.3 535.4 L25 535.4 L25.7 535.4 L26.4 535.4 L27.1 535.4 L27.8 535.4 L28.5 535.4 L29.2 535.4 L29.9 535.4 L30.6 535.4 L31.3 535.4 L32 535.4 L32.7 535.4 L33.4 535.4 L34.1 535.4 L34.8 535.4 L35.5 535.4 L36.2 535.4 L36.9 535.4 L37.6 535.4 L38.3 535.4 L39 535.4 L39.7 535.4 L40.4 535.4 L41.1 535.4 L41.8 535.4 L42.5 535.4 L43.2 535.4 L43.9 535.4 L44.6 535.4 L45.3 535.4 L46 535.4 L46.7 535.4 L47.4 535.4 L48.1 535.4 L48.8 535.4 L49.5 535.4 L50.2 535.4 L50.9 535.4 L51.6 535.4 L52.3 535.4 L53 535.4 L53.7 535.4 L54.4 535.4 L55.1 535.4 L55.8 535.4 L56.5 535.4 L57.2 535.4 L57.9 535.39 L58.6 535.38 L59.3 535.36 L60 535.3 L60.7 535.18 L61.4 534.95 L62.1 534.63 L62.8 533.33 L63.5 532.46 L64.2 530.15 L64.9 528.99 L65.6 521.82 L66.3 518.23 L67 510.64 L67.7 505.41 L68.4 504.38 L69.1 499.36 L69.8 497.42 L70.5 496.64 L71.2 497.94 L71.9 498.79 L72.6 499.91 L73.3 507.83 L74 507.04 L74.7 513.89 L75.4 518.2 L76.1 518.74 L76.8 524.24 L77.5 527.79 L78.2 529.41 L78.9 530.69 L79.6 533.25 L80.3 532.99 L81 534.53 L81.7 534.54 L82.4 534.95 L83.1 535.14 L83.8 535.25 L84.5 535.32 L85.2 535.36 L85.9 535.38 L86.6 535.39 L87.3 535.39 L88 535.4 L88.7 535.4 L89.4 535.4 L90.1 535.4 L90.8 535.4 L91.5 535.4 L92.2 535.4 L92.9 535.4 L93.6 535.4 L94.3 535.4 L95 535.4 L95.7 535.4 L96.4 535.4 L97.1 535.4 L97.8 535.4 L98.5 535.4 L99.2 535.4 L99.9 535.4 L100.6 535.4 L101.3 535.4 L102 535.4 L102.7 535.4 L103.4 535.4 L104.1 535.4 L104.8 535.4 L105.5 535.4 L106.2 535.4 L106.9 535.4 L107.6 535.4 L108.3 535.4 L109 535.4 L109.7 535.4 L110.4 535.4 L111.1 535.4 L111.8 535.4 L112.5 535.4 L113.2 535.4 L113.9 535.4 L114.6 535.4 L115.3 535.4 L116 535.4 L116.7 535.4 L117.4 535.4 L118.1 535.4 L118.8 535.4 L119.5 535.4 L120.2 535.4 L120.9 535.4 L121.6 535.4 L122.3 535.4 L123 535.4 L123.7 535.4 L124.4 535.4 L125.1 535.4 L125.8 535.4 L126.5 535.4 L127.2 535.4 L127.9 535.4 L128.6 535.4 L129.3 535.4 L130 535.4 L130.7 535.4 L131.4 535.4 L132.1 535.4 L132.8 535.4 L133.5 535.4 L134.2 535.4 L134.9 535.4 L135.6 535.4 L136.3 535.4 L137 535.4 L137.7 535.4 L138.4 535.4 L139.1 535.4 L139.8 535.4 L140.5 535.4 L141.2 535.4 L141.9 535.4 L142.6 535.4 L143.3 535.4 L144 535.4 L144.7 535.4 L145.4 535.4 L146.1 535.4 L146.8 535.4 L147.5 535.4 L148.2 535.4 L148.9 535.4 L149.6 535.4 L150.3 535.4 L151 535.4 L151.7 535.4 L152.4 535.4 L153.1 535.4 L153.8 535.4 L154.5 535.4 L155.2 535.4 L155.9 535.4 L156.6 535.4 L157.3 535.4 L158 535.4 L158.7 535.4 L159.4 535.4 L160.1 535.4 L160.8 535.4 L161.5 535.4 L162.2 535.4 L162.9 535.4 L163.6 535.4 L164.3 535.4 L165 535.4 L165.7 535.4 L166.4 535.4 L167.1 535.4 L167.8 535.4 L168.5 535.4 L169.2 535.4 L169.9 535.4 L170.6 535.4 L171.3 535.4" fill="none" stroke="#e8a030" stroke-width="1.2"/>
<path d="M22.9 565.2 L23.6 565.2 L24.3 565.2 L25 565.2 L25.7 565.2 L26.4 565.2 L27.1 565.2 L27.8 565.2 L28.5 565.2 L29.2 565.2 L29.9 565.2 L30.6 565.2 L31.3 565.2 L32 565.2 L32.7 565.2 L33.4 565.2 L34.1 565.2 L34.8 565.2 L35.5 565.2 L36.2 565.2 L36.9 565.2 L37.6 565.2 L38.3 565.2 L39 565.2 L39.7 565.2 L40.4 565.2 L41.1 565.2 L41.8 565.2 L42.5 565.2 L43.2 565.2 L43.9 565.2 L44.6 565.2 L45.3 565.2 L46 565.2 L46.7 565.2 L47.4 565.2 L48.1 565.2 L48.8 565.2 L49.5 565.2 L50.2 565.2 L50.9 565.2 L51.6 565.2 L52.3 565.2 L53 565.2 L53.7 565.2 L54.4 565.2 L55.1 565.19 L55.8 565.18 L56.5 565.16 L57.2 565.11 L57.9 565 L58.6 564.78 L59.3 564.18 L60 564.06 L60.7 561.9 L61.4 560.76 L62.1 557.2 L62.8 556.3 L63.5 551.73 L64.2 545.13 L64.9 531.95 L65.6 532.04 L66.3 522.13 L67 517.48 L67.7 516.04 L68.4 520.05 L69.1 522.4 L69.8 524.99 L70.5 527.64 L71.2 538.73 L71.9 538.67 L72.6 543.7 L73.3 548.31 L74 557.01 L74.7 556.02 L75.4 561.3 L76.1 562.22 L76.8 563.02 L77.5 563.66 L78.2 564.55 L78.9 564.8 L79.6 564.98 L80.3 565.09 L81 565.14 L81.7 565.17 L82.4 565.19 L83.1 565.19 L83.8 565.2 L84.5 565.2 L85.2 565.2 L85.9 565.2 L86.6 565.2 L87.3 565.2 L88 565.2 L88.7 565.2 L89.4 565.2 L90.1 565.2 L90.8 565.2 L91.5 565.2 L92.2 565.2 L92.9 565.2 L93.6 565.2 L94.3 565.2 L95 565.2 L95.7 565.2 L96.4 565.2 L97.1 565.2 L97.8 565.2 L98.5 565.2 L99.2 565.2 L99.9 565.2 L100.6 565.2 L101.3 565.2 L102 565.2 L102.7 565.2 L103.4 565.2 L104.1 565.2 L104.8 565.2 L105.5 565.2 L106.2 565.2 L106.9 565.2 L107.6 565.2 L108.3 565.2 L109 565.2 L109.7 565.2 L110.4 565.2 L111.1 565.2 L111.8 565.2 L112.5 565.2 L113.2 565.2 L113.9 565.2 L114.6 565.2 L115.3 565.2 L116 565.2 L116.7 565.2 L117.4 565.2 L118.1 565.2 L118.8 565.2 L119.5 565.2 L120.2 565.2 L120.9 565.2 L121.6 565.2 L122.3 565.2 L123 565.2 L123.7 565.2 L124.4 565.2 L125.1 565.2 L125.8 565.2 L126.5 565.2 L127.2 565.2 L127.9 565.2 L128.6 565.2 L129.3 565.2 L130 565.2 L130.7 565.2 L131.4 565.2 L132.1 565.2 L132.8 565.2 L133.5 565.2 L134.2 565.2 L134.9 565.2 L135.6 565.2 L136.3 565.2 L137 565.2 L137.7 565.2 L138.4 565.2 L139.1 565.2 L139.8 565.2 L140.5 565.2 L141.2 565.2 L141.9 565.2 L142.6 565.2 L143.3 565.2 L144 565.2 L144.7 565.2 L145.4 565.2 L146.1 565.2 L146.8 565.2 L147.5 565.2 L148.2 565.2 L148.9 565.2 L149.6 565.2 L150.3 565.2 L151 565.2 L151.7 565.2 L152.4 565.2 L153.1 565.2 L153.8 565.2 L154.5 565.2 L155.2 565.2 L155.9 565.2 L156.6 565.2 L157.3 565.2 L158 565.2 L158.7 565.2 L159.4 565.2 L160.1 565.2 L160.8 565.2 L161.5 565.2 L162.2 565.2 L162.9 565.2 L163.6 565.2 L164.3 565.2 L165 565.2 L165.7 565.2 L166.4 565.2 L167.1 565.2 L167.8 565.2 L168.5 565.2 L169.2 565.2 L169.9 565.2 L170.6 565.2 L171.3 565.2 L171.3 565.2 L22.9 565.2 Z" fill="#8ed48e" fill-opacity="0.9"/>
<path d="M22.9 565.2 L23.6 565.2 L24.3 565.2 L25 565.2 L25.7 565.2 L26.4 565.2 L27.1 565.2 L27.8 565.2 L28.5 565.2 L29.2 565.2 L29.9 565.2 L30.6 565.2 L31.3 565.2 L32 565.2 L32.7 565.2 L33.4 565.2 L34.1 565.2 L34.8 565.2 L35.5 565.2 L36.2 565.2 L36.9 565.2 L37.6 565.2 L38.3 565.2 L39 565.2 L39.7 565.2 L40.4 565.2 L41.1 565.2 L41.8 565.2 L42.5 565.2 L43.2 565.2 L43.9 565.2 L44.6 565.2 L45.3 565.2 L46 565.2 L46.7 565.2 L47.4 565.2 L48.1 565.2 L48.8 565.2 L49.5 565.2 L50.2 565.2 L50.9 565.2 L51.6 565.2 L52.3 565.2 L53 565.2 L53.7 565.2 L54.4 565.2 L55.1 565.19 L55.8 565.18 L56.5 565.16 L57.2 565.11 L57.9 565 L58.6 564.78 L59.3 564.18 L60 564.06 L60.7 561.9 L61.4 560.76 L62.1 557.2 L62.8 556.3 L63.5 551.73 L64.2 545.13 L64.9 531.95 L65.6 532.04 L66.3 522.13 L67 517.48 L67.7 516.04 L68.4 520.05 L69.1 522.4 L69.8 524.99 L70.5 527.64 L71.2 538.73 L71.9 538.67 L72.6 543.7 L73.3 548.31 L74 557.01 L74.7 556.02 L75.4 561.3 L76.1 562.22 L76.8 563.02 L77.5 563.66 L78.2 564.55 L78.9 564.8 L79.6 564.98 L80.3 565.09 L81 565.14 L81.7 565.17 L82.4 565.19 L83.1 565.19 L83.8 565.2 L84.5 565.2 L85.2 565.2 L85.9 565.2 L86.6 565.2 L87.3 565.2 L88 565.2 L88.7 565.2 L89.4 565.2 L90.1 565.2 L90.8 565.2 L91.5 565.2 L92.2 565.2 L92.9 565.2 L93.6 565.2 L94.3 565.2 L95 565.2 L95.7 565.2 L96.4 565.2 L97.1 565.2 L97.8 565.2 L98.5 565.2 L99.2 565.2 L99.9 565.2 L100.6 565.2 L101.3 565.2 L102 565.2 L102.7 565.2 L103.4 565.2 L104.1 565.2 L104.8 565.2 L105.5 565.2 L106.2 565.2 L106.9 565.2 L107.6 565.2 L108.3 565.2 L109 565.2 L109.7 565.2 L110.4 565.2 L111.1 565.2 L111.8 565.2 L112.5 565.2 L113.2 565.2 L113.9 565.2 L114.6 565.2 L115.3 565.2 L116 565.2 L116.7 565.2 L117.4 565.2 L118.1 565.2 L118.8 565.2 L119.5 565.2 L120.2 565.2 L120.9 565.2 L121.6 565.2 L122.3 565.2 L123 565.2 L123.7 565.2 L124.4 565.2 L125.1 565.2 L125.8 565.2 L126.5 565.2 L127.2 565.2 L127.9 565.2 L128.6 565.2 L129.3 565.2 L130 565.2 L130.7 565.2 L131.4 565.2 L132.1 565.2 L132.8 565.2 L133.5 565.2 L134.2 565.2 L134.9 565.2 L135.6 565.2 L136.3 565.2 L137 565.2 L137.7 565.2 L138.4 565.2 L139.1 565.2 L139.8 565.2 L140.5 565.2 L141.2 565.2 L141.9 565.2 L142.6 565.2 L143.3 565.2 L144 565.2 L144.7 565.2 L145.4 565.2 L146.1 565.2 L146.8 565.2 L147.5 565.2 L148.2 565.2 L148.9 565.2 L149.6 565.2 L150.3 565.2 L151 565.2 L151.7 565.2 L152.4 565.2 L153.1 565.2 L153.8 565.2 L154.5 565.2 L155.2 565.2 L155.9 565.2 L156.6 565.2 L157.3 565.2 L158 565.2 L158.7 565.2 L159.4 565.2 L160.1 565.2 L160.8 565.2 L161.5 565.2 L162.2 565.2 L162.9 565.2 L163.6 565.2 L164.3 565.2 L165 565.2 L165.7 565.2 L166.4 565.2 L167.1 565.2 L167.8 565.2 L168.5 565.2 L169.2 565.2 L169.9 565.2 L170.6 565.2 L171.3 565.2" fill="none" stroke="#2fb52f" stroke-width="1.2"/>
<path d="M22.9 594.4 L23.6 594.4 L24.3 594.4 L25 594.4 L25.7 594.4 L26.4 594.4 L27.1 594.4 L27.8 594.4 L28.5 594.4 L29.2 594.4 L29.9 594.4 L30.6 594.4 L31.3 594.4 L32 594.4 L32.7 594.4 L33.4 594.4 L34.1 594.4 L34.8 594.4 L35.5 594.4 L36.2 594.4 L36.9 594.4 L37.6 594.4 L38.3 594.4 L39 594.4 L39.7 594.4 L40.4 594.4 L41.1 594.4 L41.8 594.4 L42.5 594.4 L43.2 594.4 L43.9 594.4 L44.6 594.4 L45.3 594.4 L46 594.4 L46.7 594.4 L47.4 594.4 L48.1 594.4 L48.8 594.4 L49.5 594.4 L50.2 594.4 L50.9 594.4 L51.6 594.4 L52.3 594.4 L53 594.4 L53.7 594.39 L54.4 594.37 L55.1 594.31 L55.8 594.13 L56.5 593.5 L57.2 592.6 L57.9 590.95 L58.6 587.48 L59.3 582.76 L60 575.9 L60.7 565.28 L61.4 548.97 L62.1 538.14 L62.8 540.27 L63.5 541.98 L64.2 539.25 L64.9 550.65 L65.6 561.01 L66.3 571.63 L67 576.3 L67.7 581.51 L68.4 588 L69.1 590.94 L69.8 593.03 L70.5 593.3 L71.2 594.01 L71.9 594.24 L72.6 594.34 L73.3 594.38 L74 594.39 L74.7 594.4 L75.4 594.4 L76.1 594.4 L76.8 594.4 L77.5 594.4 L78.2 594.4 L78.9 594.4 L79.6 594.4 L80.3 594.4 L81 594.4 L81.7 594.4 L82.4 594.4 L83.1 594.4 L83.8 594.4 L84.5 594.4 L85.2 594.4 L85.9 594.4 L86.6 594.4 L87.3 594.4 L88 594.4 L88.7 594.4 L89.4 594.4 L90.1 594.4 L90.8 594.4 L91.5 594.4 L92.2 594.4 L92.9 594.4 L93.6 594.4 L94.3 594.4 L95 594.4 L95.7 594.4 L96.4 594.4 L97.1 594.4 L97.8 594.4 L98.5 594.4 L99.2 594.4 L99.9 594.4 L100.6 594.4 L101.3 594.4 L102 594.4 L102.7 594.4 L103.4 594.4 L104.1 594.4 L104.8 594.4 L105.5 594.4 L106.2 594.4 L106.9 594.4 L107.6 594.4 L108.3 594.4 L109 594.4 L109.7 594.4 L110.4 594.4 L111.1 594.4 L111.8 594.4 L112.5 594.4 L113.2 594.4 L113.9 594.4 L114.6 594.4 L115.3 594.4 L116 594.4 L116.7 594.4 L117.4 594.4 L118.1 594.4 L118.8 594.4 L119.5 594.4 L120.2 594.4 L120.9 594.4 L121.6 594.4 L122.3 594.4 L123 594.4 L123.7 594.4 L124.4 594.4 L125.1 594.4 L125.8 594.4 L126.5 594.4 L127.2 594.4 L127.9 594.4 L128.6 594.4 L129.3 594.4 L130 594.4 L130.7 594.4 L131.4 594.4 L132.1 594.4 L132.8 594.4 L133.5 594.4 L134.2 594.4 L134.9 594.4 L135.6 594.4 L136.3 594.4 L137 594.4 L137.7 594.4 L138.4 594.4 L139.1 594.4 L139.8 594.4 L140.5 594.4 L141.2 594.4 L141.9 594.4 L142.6 594.4 L143.3 594.4 L144 594.4 L144.7 594.4 L145.4 594.4 L146.1 594.4 L146.8 594.4 L147.5 594.4 L148.2 594.4 L148.9 594.4 L149.6 594.4 L150.3 594.4 L151 594.4 L151.7 594.4 L152.4 594.4 L153.1 594.4 L153.8 594.4 L154.5 594.4 L155.2 594.4 L155.9 594.4 L156.6 594.4 L157.3 594.4 L158 594.4 L158.7 594.4 L159.4 594.4 L160.1 594.4 L160.8 594.4 L161.5 594.4 L162.2 594.4 L162.9 594.4 L163.6 594.4 L164.3 594.4 L165 594.4 L165.7 594.4 L166.4 594.4 L167.1 594.4 L167.8 594.4 L168.5 594.4 L169.2 594.4 L169.9 594.4 L170.6 594.4 L171.3 594.4 L171.3 594.4 L22.9 594.4 Z" fill="#ec7676" fill-opacity="0.9"/>
<path d="M22.9 594.4 L23.6 594.4 L24.3 594.4 L25 594.4 L25.7 594.4 L26.4 594.4 L27.1 594.4 L27.8 594.4 L28.5 594.4 L29.2 594.4 L29.9 594.4 L30.6 594.4 L31.3 594.4 L32 594.4 L32.7 594.4 L33.4 594.4 L34.1 594.4 L34.8 594.4 L35.5 594.4 L36.2 594.4 L36.9 594.4 L37.6 594.4 L38.3 594.4 L39 594.4 L39.7 594.4 L40.4 594.4 L41.1 594.4 L41.8 594.4 L42.5 594.4 L43.2 594.4 L43.9 594.4 L44.6 594.4 L45.3 594.4 L46 594.4 L46.7 594.4 L47.4 594.4 L48.1 594.4 L48.8 594.4 L49.5 594.4 L50.2 594.4 L50.9 594.4 L51.6 594.4 L52.3 594.4 L53 594.4 L53.7 594.39 L54.4 594.37 L55.1 594.31 L55.8 594.13 L56.5 593.5 L57.2 592.6 L57.9 590.95 L58.6 587.48 L59.3 582.76 L60 575.9 L60.7 565.28 L61.4 548.97 L62.1 538.14 L62.8 540.27 L63.5 541.98 L64.2 539.25 L64.9 550.65 L65.6 561.01 L66.3 571.63 L67 576.3 L67.7 581.51 L68.4 588 L69.1 590.94 L69.8 593.03 L70.5 593.3 L71.2 594.01 L71.9 594.24 L72.6 594.34 L73.3 594.38 L74 594.39 L74.7 594.4 L75.4 594.4 L76.1 594.4 L76.8 594.4 L77.5 594.4 L78.2 594.4 L78.9 594.4 L79.6 594.4 L80.3 594.4 L81 594.4 L81.7 594.4 L82.4 594.4 L83.1 594.4 L83.8 594.4 L84.5 594.4 L85.2 594.4 L85.9 594.4 L86.6 594.4 L87.3 594.4 L88 594.4 L88.7 594.4 L89.4 594.4 L90.1 594.4 L90.8 594.4 L91.5 594.4 L92.2 594.4 L92.9 594.4 L93.6 594.4 L94.3 594.4 L95 594.4 L95.7 594.4 L96.4 594.4 L97.1 594.4 L97.8 594.4 L98.5 594.4 L99.2 594.4 L99.9 594.4 L100.6 594.4 L101.3 594.4 L102 594.4 L102.7 594.4 L103.4 594.4 L104.1 594.4 L104.8 594.4 L105.5 594.4 L106.2 594.4 L106.9 594.4 L107.6 594.4 L108.3 594.4 L109 594.4 L109.7 594.4 L110.4 594.4 L111.1 594.4 L111.8 594.4 L112.5 594.4 L113.2 594.4 L113.9 594.4 L114.6 594.4 L115.3 594.4 L116 594.4 L116.7 594.4 L117.4 594.4 L118.1 594.4 L118.8 594.4 L119.5 594.4 L120.2 594.4 L120.9 594.4 L121.6 594.4 L122.3 594.4 L123 594.4 L123.7 594.4 L124.4 594.4 L125.1 594.4 L125.8 594.4 L126.5 594.4 L127.2 594.4 L127.9 594.4 L128.6 594.4 L129.3 594.4 L130 594.4 L130.7 594.4 L131.4 594.4 L132.1 594.4 L132.8 594.4 L133.5 594.4 L134.2 594.4 L134.9 594.4 L135.6 594.4 L136.3 594.4 L137 594.4 L137.7 594.4 L138.4 594.4 L139.1 594.4 L139.8 594.4 L140.5 594.4 L141.2 594.4 L141.9 594.4 L142.6 594.4 L143.3 594.4 L144 594.4 L144.7 594.4 L145.4 594.4 L146.1 594.4 L146.8 594.4 L147.5 594.4 L148.2 594.4 L148.9 594.4 L149.6 594.4 L150.3 594.4 L151 594.4 L151.7 594.4 L152.4 594.4 L153.1 594.4 L153.8 594.4 L154.5 594.4 L155.2 594.4 L155.9 594.4 L156.6 594.4 L157.3 594.4 L158 594.4 L158.7 594.4 L159.4 594.4 L160.1 594.4 L160.8 594.4 L161.5 594.4 L162.2 594.4 L162.9 594.4 L163.6 594.4 L164.3 594.4 L165 594.4 L165.7 594.4 L166.4 594.4 L167.1 594.4 L167.8 594.4 L168.5 594.4 L169.2 594.4 L169.9 594.4 L170.6 594.4 L171.3 594.4" fill="none" stroke="#e42828" stroke-width="1.5"/>
<rect x="22.3" y="444.3" width="149.8" height="150.7" fill="none" stroke="#000" stroke-width="1.2"/>
<text x="165.5" y="458.2" font-size="8.8" font-weight="bold" text-anchor="end" fill="#000" stroke="#000" stroke-width="0.18">MFI</text>
<text x="24.5" y="500.6" font-size="9.1" font-weight="bold" text-anchor="start" fill="#000" stroke="#000" stroke-width="0.18">CTRL</text>
<text x="165.5" y="500.6" font-size="9.1" font-weight="bold" text-anchor="end" fill="#000" stroke="#000" stroke-width="0.18">629</text>
<text x="24.5" y="530.2" font-size="9.1" font-weight="bold" text-anchor="start" fill="#000" stroke="#000" stroke-width="0.18"><tspan font-style="italic">α</tspan>-PD-1</text>
<text x="165.5" y="530.2" font-size="9.1" font-weight="bold" text-anchor="end" fill="#000" stroke="#000" stroke-width="0.18">567</text>
<text x="24.5" y="560" font-size="9.1" font-weight="bold" text-anchor="start" fill="#000" stroke="#000" stroke-width="0.18">CAR-T</text>
<text x="165.5" y="560" font-size="9.1" font-weight="bold" text-anchor="end" fill="#000" stroke="#000" stroke-width="0.18">445</text>
<text x="24.5" y="589.2" font-size="9.1" font-weight="bold" text-anchor="start" fill="#000" stroke="#000" stroke-width="0.18">CAR-T + <tspan font-style="italic">α</tspan>-PD-1</text>
<text x="165.5" y="589.2" font-size="9.1" font-weight="bold" text-anchor="end" fill="#000" stroke="#000" stroke-width="0.18">308</text>
<text x="34.6" y="606" font-size="5" font-weight="normal" text-anchor="middle" fill="#000" stroke="#000" stroke-width="0.1">-10<tspan font-size="3.2" dy="-1.8">3</tspan></text>
<text x="56.7" y="606" font-size="5" font-weight="normal" text-anchor="middle" fill="#000" stroke="#000" stroke-width="0.1">0</text>
<text x="81.9" y="606" font-size="5" font-weight="normal" text-anchor="middle" fill="#000" stroke="#000" stroke-width="0.1">10<tspan font-size="3.2" dy="-1.8">3</tspan></text>
<text x="119.7" y="606" font-size="5" font-weight="normal" text-anchor="middle" fill="#000" stroke="#000" stroke-width="0.1">10<tspan font-size="3.2" dy="-1.8">4</tspan></text>
<text x="155.5" y="606" font-size="5" font-weight="normal" text-anchor="middle" fill="#000" stroke="#000" stroke-width="0.1">10<tspan font-size="3.2" dy="-1.8">5</tspan></text>
<line x1="32.3" y1="595" x2="32.3" y2="597.8" stroke="#000" stroke-width="1"/>
<line x1="58.3" y1="595" x2="58.3" y2="597.8" stroke="#000" stroke-width="1"/>
<line x1="81.6" y1="595" x2="81.6" y2="597.8" stroke="#000" stroke-width="1"/>
<line x1="119.5" y1="595" x2="119.5" y2="597.8" stroke="#000" stroke-width="1"/>
<line x1="155.3" y1="595" x2="155.3" y2="597.8" stroke="#000" stroke-width="1"/>
<line x1="28.3" y1="595" x2="28.3" y2="596.6" stroke="#000" stroke-width="0.7"/>
<line x1="34.6" y1="595" x2="34.6" y2="596.6" stroke="#000" stroke-width="0.7"/>
<line x1="40.9" y1="595" x2="40.9" y2="596.6" stroke="#000" stroke-width="0.7"/>
<line x1="47.2" y1="595" x2="47.2" y2="596.6" stroke="#000" stroke-width="0.7"/>
<line x1="53.5" y1="595" x2="53.5" y2="596.6" stroke="#000" stroke-width="0.7"/>
<line x1="59.8" y1="595" x2="59.8" y2="596.6" stroke="#000" stroke-width="0.7"/>
<line x1="66.1" y1="595" x2="66.1" y2="596.6" stroke="#000" stroke-width="0.7"/>
<line x1="72.4" y1="595" x2="72.4" y2="596.6" stroke="#000" stroke-width="0.7"/>
<line x1="78.7" y1="595" x2="78.7" y2="596.6" stroke="#000" stroke-width="0.7"/>
<line x1="85" y1="595" x2="85" y2="596.6" stroke="#000" stroke-width="0.7"/>
<line x1="91.3" y1="595" x2="91.3" y2="596.6" stroke="#000" stroke-width="0.7"/>
<line x1="97.6" y1="595" x2="97.6" y2="596.6" stroke="#000" stroke-width="0.7"/>
<line x1="103.9" y1="595" x2="103.9" y2="596.6" stroke="#000" stroke-width="0.7"/>
<line x1="110.2" y1="595" x2="110.2" y2="596.6" stroke="#000" stroke-width="0.7"/>
<line x1="116.5" y1="595" x2="116.5" y2="596.6" stroke="#000" stroke-width="0.7"/>
<line x1="122.8" y1="595" x2="122.8" y2="596.6" stroke="#000" stroke-width="0.7"/>
<line x1="129.1" y1="595" x2="129.1" y2="596.6" stroke="#000" stroke-width="0.7"/>
<line x1="135.4" y1="595" x2="135.4" y2="596.6" stroke="#000" stroke-width="0.7"/>
<line x1="141.7" y1="595" x2="141.7" y2="596.6" stroke="#000" stroke-width="0.7"/>
<line x1="148" y1="595" x2="148" y2="596.6" stroke="#000" stroke-width="0.7"/>
<line x1="154.3" y1="595" x2="154.3" y2="596.6" stroke="#000" stroke-width="0.7"/>
<line x1="160.6" y1="595" x2="160.6" y2="596.6" stroke="#000" stroke-width="0.7"/>
<line x1="50.3" y1="595" x2="50.3" y2="597.2" stroke="#000" stroke-width="0.6"/>
<line x1="51.5" y1="595" x2="51.5" y2="597.2" stroke="#000" stroke-width="0.6"/>
<line x1="52.7" y1="595" x2="52.7" y2="597.2" stroke="#000" stroke-width="0.6"/>
<line x1="53.9" y1="595" x2="53.9" y2="597.2" stroke="#000" stroke-width="0.6"/>
<line x1="55.1" y1="595" x2="55.1" y2="597.2" stroke="#000" stroke-width="0.6"/>
<line x1="56.3" y1="595" x2="56.3" y2="597.2" stroke="#000" stroke-width="0.6"/>
<line x1="57.5" y1="595" x2="57.5" y2="597.2" stroke="#000" stroke-width="0.6"/>
<line x1="58.7" y1="595" x2="58.7" y2="597.2" stroke="#000" stroke-width="0.6"/>
<rect x="180" y="444.3" width="149.7" height="150.7" fill="#fff"/>
<path d="M180.6 505.8 L181.3 505.8 L182 505.8 L182.7 505.8 L183.4 505.8 L184.1 505.8 L184.8 505.8 L185.5 505.8 L186.2 505.8 L186.9 505.8 L187.6 505.8 L188.3 505.8 L189 505.8 L189.7 505.8 L190.4 505.8 L191.1 505.8 L191.8 505.8 L192.5 505.8 L193.2 505.8 L193.9 505.8 L194.6 505.8 L195.3 505.8 L196 505.8 L196.7 505.8 L197.4 505.8 L198.1 505.8 L198.8 505.8 L199.5 505.8 L200.2 505.8 L200.9 505.8 L201.6 505.8 L202.3 505.8 L203 505.8 L203.7 505.8 L204.4 505.8 L205.1 505.8 L205.8 505.8 L206.5 505.8 L207.2 505.8 L207.9 505.8 L208.6 505.8 L209.3 505.8 L210 505.8 L210.7 505.8 L211.4 505.8 L212.1 505.8 L212.8 505.8 L213.5 505.8 L214.2 505.8 L214.9 505.79 L215.6 505.78 L216.3 505.76 L217 505.7 L217.7 505.59 L218.4 505.38 L219.1 505.2 L219.8 504.29 L220.5 502.65 L221.2 502.3 L221.9 498.17 L222.6 493.6 L223.3 490.87 L224 485.13 L224.7 484.62 L225.4 477.95 L226.1 475.71 L226.8 470.29 L227.5 472.2 L228.2 472.37 L228.9 471.46 L229.6 474.57 L230.3 476.81 L231 483.61 L231.7 487.04 L232.4 489.14 L233.1 493.85 L233.8 497.5 L234.5 499.3 L235.2 501.82 L235.9 502.61 L236.6 502.85 L237.3 503.88 L238 504.76 L238.7 505.21 L239.4 505.44 L240.1 505.59 L240.8 505.68 L241.5 505.74 L242.2 505.77 L242.9 505.78 L243.6 505.79 L244.3 505.8 L245 505.8 L245.7 505.8 L246.4 505.8 L247.1 505.8 L247.8 505.8 L248.5 505.8 L249.2 505.8 L249.9 505.8 L250.6 505.8 L251.3 505.8 L252 505.8 L252.7 505.8 L253.4 505.8 L254.1 505.8 L254.8 505.8 L255.5 505.8 L256.2 505.8 L256.9 505.8 L257.6 505.8 L258.3 505.8 L259 505.8 L259.7 505.8 L260.4 505.8 L261.1 505.8 L261.8 505.8 L262.5 505.8 L263.2 505.8 L263.9 505.8 L264.6 505.8 L265.3 505.8 L266 505.8 L266.7 505.8 L267.4 505.8 L268.1 505.8 L268.8 505.8 L269.5 505.8 L270.2 505.8 L270.9 505.8 L271.6 505.8 L272.3 505.8 L273 505.8 L273.7 505.8 L274.4 505.8 L275.1 505.8 L275.8 505.8 L276.5 505.8 L277.2 505.8 L277.9 505.8 L278.6 505.8 L279.3 505.8 L280 505.8 L280.7 505.8 L281.4 505.8 L282.1 505.8 L282.8 505.8 L283.5 505.8 L284.2 505.8 L284.9 505.8 L285.6 505.8 L286.3 505.8 L287 505.8 L287.7 505.8 L288.4 505.8 L289.1 505.8 L289.8 505.8 L290.5 505.8 L291.2 505.8 L291.9 505.8 L292.6 505.8 L293.3 505.8 L294 505.8 L294.7 505.8 L295.4 505.8 L296.1 505.8 L296.8 505.8 L297.5 505.8 L298.2 505.8 L298.9 505.8 L299.6 505.8 L300.3 505.8 L301 505.8 L301.7 505.8 L302.4 505.8 L303.1 505.8 L303.8 505.8 L304.5 505.8 L305.2 505.8 L305.9 505.8 L306.6 505.8 L307.3 505.8 L308 505.8 L308.7 505.8 L309.4 505.8 L310.1 505.8 L310.8 505.8 L311.5 505.8 L312.2 505.8 L312.9 505.8 L313.6 505.8 L314.3 505.8 L315 505.8 L315.7 505.8 L316.4 505.8 L317.1 505.8 L317.8 505.8 L318.5 505.8 L319.2 505.8 L319.9 505.8 L320.6 505.8 L321.3 505.8 L322 505.8 L322.7 505.8 L323.4 505.8 L324.1 505.8 L324.8 505.8 L325.5 505.8 L326.2 505.8 L326.9 505.8 L327.6 505.8 L328.3 505.8 L329 505.8 L329 505.8 L180.6 505.8 Z" fill="#8c94d0" fill-opacity="0.9"/>
<path d="M180.6 505.8 L181.3 505.8 L182 505.8 L182.7 505.8 L183.4 505.8 L184.1 505.8 L184.8 505.8 L185.5 505.8 L186.2 505.8 L186.9 505.8 L187.6 505.8 L188.3 505.8 L189 505.8 L189.7 505.8 L190.4 505.8 L191.1 505.8 L191.8 505.8 L192.5 505.8 L193.2 505.8 L193.9 505.8 L194.6 505.8 L195.3 505.8 L196 505.8 L196.7 505.8 L197.4 505.8 L198.1 505.8 L198.8 505.8 L199.5 505.8 L200.2 505.8 L200.9 505.8 L201.6 505.8 L202.3 505.8 L203 505.8 L203.7 505.8 L204.4 505.8 L205.1 505.8 L205.8 505.8 L206.5 505.8 L207.2 505.8 L207.9 505.8 L208.6 505.8 L209.3 505.8 L210 505.8 L210.7 505.8 L211.4 505.8 L212.1 505.8 L212.8 505.8 L213.5 505.8 L214.2 505.8 L214.9 505.79 L215.6 505.78 L216.3 505.76 L217 505.7 L217.7 505.59 L218.4 505.38 L219.1 505.2 L219.8 504.29 L220.5 502.65 L221.2 502.3 L221.9 498.17 L222.6 493.6 L223.3 490.87 L224 485.13 L224.7 484.62 L225.4 477.95 L226.1 475.71 L226.8 470.29 L227.5 472.2 L228.2 472.37 L228.9 471.46 L229.6 474.57 L230.3 476.81 L231 483.61 L231.7 487.04 L232.4 489.14 L233.1 493.85 L233.8 497.5 L234.5 499.3 L235.2 501.82 L235.9 502.61 L236.6 502.85 L237.3 503.88 L238 504.76 L238.7 505.21 L239.4 505.44 L240.1 505.59 L240.8 505.68 L241.5 505.74 L242.2 505.77 L242.9 505.78 L243.6 505.79 L244.3 505.8 L245 505.8 L245.7 505.8 L246.4 505.8 L247.1 505.8 L247.8 505.8 L248.5 505.8 L249.2 505.8 L249.9 505.8 L250.6 505.8 L251.3 505.8 L252 505.8 L252.7 505.8 L253.4 505.8 L254.1 505.8 L254.8 505.8 L255.5 505.8 L256.2 505.8 L256.9 505.8 L257.6 505.8 L258.3 505.8 L259 505.8 L259.7 505.8 L260.4 505.8 L261.1 505.8 L261.8 505.8 L262.5 505.8 L263.2 505.8 L263.9 505.8 L264.6 505.8 L265.3 505.8 L266 505.8 L266.7 505.8 L267.4 505.8 L268.1 505.8 L268.8 505.8 L269.5 505.8 L270.2 505.8 L270.9 505.8 L271.6 505.8 L272.3 505.8 L273 505.8 L273.7 505.8 L274.4 505.8 L275.1 505.8 L275.8 505.8 L276.5 505.8 L277.2 505.8 L277.9 505.8 L278.6 505.8 L279.3 505.8 L280 505.8 L280.7 505.8 L281.4 505.8 L282.1 505.8 L282.8 505.8 L283.5 505.8 L284.2 505.8 L284.9 505.8 L285.6 505.8 L286.3 505.8 L287 505.8 L287.7 505.8 L288.4 505.8 L289.1 505.8 L289.8 505.8 L290.5 505.8 L291.2 505.8 L291.9 505.8 L292.6 505.8 L293.3 505.8 L294 505.8 L294.7 505.8 L295.4 505.8 L296.1 505.8 L296.8 505.8 L297.5 505.8 L298.2 505.8 L298.9 505.8 L299.6 505.8 L300.3 505.8 L301 505.8 L301.7 505.8 L302.4 505.8 L303.1 505.8 L303.8 505.8 L304.5 505.8 L305.2 505.8 L305.9 505.8 L306.6 505.8 L307.3 505.8 L308 505.8 L308.7 505.8 L309.4 505.8 L310.1 505.8 L310.8 505.8 L311.5 505.8 L312.2 505.8 L312.9 505.8 L313.6 505.8 L314.3 505.8 L315 505.8 L315.7 505.8 L316.4 505.8 L317.1 505.8 L317.8 505.8 L318.5 505.8 L319.2 505.8 L319.9 505.8 L320.6 505.8 L321.3 505.8 L322 505.8 L322.7 505.8 L323.4 505.8 L324.1 505.8 L324.8 505.8 L325.5 505.8 L326.2 505.8 L326.9 505.8 L327.6 505.8 L328.3 505.8 L329 505.8" fill="none" stroke="#2a35a8" stroke-width="1.2"/>
<path d="M180.6 535.4 L181.3 535.4 L182 535.4 L182.7 535.4 L183.4 535.4 L184.1 535.4 L184.8 535.4 L185.5 535.4 L186.2 535.4 L186.9 535.4 L187.6 535.4 L188.3 535.4 L189 535.4 L189.7 535.4 L190.4 535.4 L191.1 535.4 L191.8 535.4 L192.5 535.4 L193.2 535.4 L193.9 535.4 L194.6 535.4 L195.3 535.4 L196 535.4 L196.7 535.4 L197.4 535.4 L198.1 535.4 L198.8 535.4 L199.5 535.4 L200.2 535.4 L200.9 535.4 L201.6 535.4 L202.3 535.4 L203 535.4 L203.7 535.4 L204.4 535.4 L205.1 535.4 L205.8 535.4 L206.5 535.4 L207.2 535.4 L207.9 535.4 L208.6 535.4 L209.3 535.4 L210 535.4 L210.7 535.4 L211.4 535.4 L212.1 535.4 L212.8 535.4 L213.5 535.4 L214.2 535.4 L214.9 535.39 L215.6 535.36 L216.3 535.3 L217 535.15 L217.7 534.88 L218.4 534.47 L219.1 533.29 L219.8 530.19 L220.5 526.17 L221.2 523.79 L221.9 514.74 L222.6 507.42 L223.3 500.72 L224 494.58 L224.7 489.66 L225.4 490.35 L226.1 489.27 L226.8 494.38 L227.5 496.87 L228.2 499.31 L228.9 505.21 L229.6 513.92 L230.3 513.95 L231 520.81 L231.7 525.1 L232.4 530.27 L233.1 530.63 L233.8 532.82 L234.5 533.34 L235.2 534.3 L235.9 534.63 L236.6 535.04 L237.3 535.21 L238 535.3 L238.7 535.35 L239.4 535.38 L240.1 535.39 L240.8 535.4 L241.5 535.4 L242.2 535.4 L242.9 535.4 L243.6 535.4 L244.3 535.4 L245 535.4 L245.7 535.4 L246.4 535.4 L247.1 535.4 L247.8 535.4 L248.5 535.4 L249.2 535.4 L249.9 535.4 L250.6 535.4 L251.3 535.4 L252 535.4 L252.7 535.4 L253.4 535.4 L254.1 535.4 L254.8 535.4 L255.5 535.4 L256.2 535.4 L256.9 535.4 L257.6 535.4 L258.3 535.4 L259 535.4 L259.7 535.4 L260.4 535.4 L261.1 535.4 L261.8 535.4 L262.5 535.4 L263.2 535.4 L263.9 535.4 L264.6 535.4 L265.3 535.4 L266 535.4 L266.7 535.4 L267.4 535.4 L268.1 535.4 L268.8 535.4 L269.5 535.4 L270.2 535.4 L270.9 535.4 L271.6 535.4 L272.3 535.4 L273 535.4 L273.7 535.4 L274.4 535.4 L275.1 535.4 L275.8 535.4 L276.5 535.4 L277.2 535.4 L277.9 535.4 L278.6 535.4 L279.3 535.4 L280 535.4 L280.7 535.4 L281.4 535.4 L282.1 535.4 L282.8 535.4 L283.5 535.4 L284.2 535.4 L284.9 535.4 L285.6 535.4 L286.3 535.4 L287 535.4 L287.7 535.4 L288.4 535.4 L289.1 535.4 L289.8 535.4 L290.5 535.4 L291.2 535.4 L291.9 535.4 L292.6 535.4 L293.3 535.4 L294 535.4 L294.7 535.4 L295.4 535.4 L296.1 535.4 L296.8 535.4 L297.5 535.4 L298.2 535.4 L298.9 535.4 L299.6 535.4 L300.3 535.4 L301 535.4 L301.7 535.4 L302.4 535.4 L303.1 535.4 L303.8 535.4 L304.5 535.4 L305.2 535.4 L305.9 535.4 L306.6 535.4 L307.3 535.4 L308 535.4 L308.7 535.4 L309.4 535.4 L310.1 535.4 L310.8 535.4 L311.5 535.4 L312.2 535.4 L312.9 535.4 L313.6 535.4 L314.3 535.4 L315 535.4 L315.7 535.4 L316.4 535.4 L317.1 535.4 L317.8 535.4 L318.5 535.4 L319.2 535.4 L319.9 535.4 L320.6 535.4 L321.3 535.4 L322 535.4 L322.7 535.4 L323.4 535.4 L324.1 535.4 L324.8 535.4 L325.5 535.4 L326.2 535.4 L326.9 535.4 L327.6 535.4 L328.3 535.4 L329 535.4 L329 535.4 L180.6 535.4 Z" fill="#f0c47e" fill-opacity="0.9"/>
<path d="M180.6 535.4 L181.3 535.4 L182 535.4 L182.7 535.4 L183.4 535.4 L184.1 535.4 L184.8 535.4 L185.5 535.4 L186.2 535.4 L186.9 535.4 L187.6 535.4 L188.3 535.4 L189 535.4 L189.7 535.4 L190.4 535.4 L191.1 535.4 L191.8 535.4 L192.5 535.4 L193.2 535.4 L193.9 535.4 L194.6 535.4 L195.3 535.4 L196 535.4 L196.7 535.4 L197.4 535.4 L198.1 535.4 L198.8 535.4 L199.5 535.4 L200.2 535.4 L200.9 535.4 L201.6 535.4 L202.3 535.4 L203 535.4 L203.7 535.4 L204.4 535.4 L205.1 535.4 L205.8 535.4 L206.5 535.4 L207.2 535.4 L207.9 535.4 L208.6 535.4 L209.3 535.4 L210 535.4 L210.7 535.4 L211.4 535.4 L212.1 535.4 L212.8 535.4 L213.5 535.4 L214.2 535.4 L214.9 535.39 L215.6 535.36 L216.3 535.3 L217 535.15 L217.7 534.88 L218.4 534.47 L219.1 533.29 L219.8 530.19 L220.5 526.17 L221.2 523.79 L221.9 514.74 L222.6 507.42 L223.3 500.72 L224 494.58 L224.7 489.66 L225.4 490.35 L226.1 489.27 L226.8 494.38 L227.5 496.87 L228.2 499.31 L228.9 505.21 L229.6 513.92 L230.3 513.95 L231 520.81 L231.7 525.1 L232.4 530.27 L233.1 530.63 L233.8 532.82 L234.5 533.34 L235.2 534.3 L235.9 534.63 L236.6 535.04 L237.3 535.21 L238 535.3 L238.7 535.35 L239.4 535.38 L240.1 535.39 L240.8 535.4 L241.5 535.4 L242.2 535.4 L242.9 535.4 L243.6 535.4 L244.3 535.4 L245 535.4 L245.7 535.4 L246.4 535.4 L247.1 535.4 L247.8 535.4 L248.5 535.4 L249.2 535.4 L249.9 535.4 L250.6 535.4 L251.3 535.4 L252 535.4 L252.7 535.4 L253.4 535.4 L254.1 535.4 L254.8 535.4 L255.5 535.4 L256.2 535.4 L256.9 535.4 L257.6 535.4 L258.3 535.4 L259 535.4 L259.7 535.4 L260.4 535.4 L261.1 535.4 L261.8 535.4 L262.5 535.4 L263.2 535.4 L263.9 535.4 L264.6 535.4 L265.3 535.4 L266 535.4 L266.7 535.4 L267.4 535.4 L268.1 535.4 L268.8 535.4 L269.5 535.4 L270.2 535.4 L270.9 535.4 L271.6 535.4 L272.3 535.4 L273 535.4 L273.7 535.4 L274.4 535.4 L275.1 535.4 L275.8 535.4 L276.5 535.4 L277.2 535.4 L277.9 535.4 L278.6 535.4 L279.3 535.4 L280 535.4 L280.7 535.4 L281.4 535.4 L282.1 535.4 L282.8 535.4 L283.5 535.4 L284.2 535.4 L284.9 535.4 L285.6 535.4 L286.3 535.4 L287 535.4 L287.7 535.4 L288.4 535.4 L289.1 535.4 L289.8 535.4 L290.5 535.4 L291.2 535.4 L291.9 535.4 L292.6 535.4 L293.3 535.4 L294 535.4 L294.7 535.4 L295.4 535.4 L296.1 535.4 L296.8 535.4 L297.5 535.4 L298.2 535.4 L298.9 535.4 L299.6 535.4 L300.3 535.4 L301 535.4 L301.7 535.4 L302.4 535.4 L303.1 535.4 L303.8 535.4 L304.5 535.4 L305.2 535.4 L305.9 535.4 L306.6 535.4 L307.3 535.4 L308 535.4 L308.7 535.4 L309.4 535.4 L310.1 535.4 L310.8 535.4 L311.5 535.4 L312.2 535.4 L312.9 535.4 L313.6 535.4 L314.3 535.4 L315 535.4 L315.7 535.4 L316.4 535.4 L317.1 535.4 L317.8 535.4 L318.5 535.4 L319.2 535.4 L319.9 535.4 L320.6 535.4 L321.3 535.4 L322 535.4 L322.7 535.4 L323.4 535.4 L324.1 535.4 L324.8 535.4 L325.5 535.4 L326.2 535.4 L326.9 535.4 L327.6 535.4 L328.3 535.4 L329 535.4" fill="none" stroke="#e8a030" stroke-width="1.2"/>
<path d="M180.6 565.2 L181.3 565.2 L182 565.2 L182.7 565.2 L183.4 565.2 L184.1 565.2 L184.8 565.2 L185.5 565.2 L186.2 565.2 L186.9 565.2 L187.6 565.2 L188.3 565.2 L189 565.2 L189.7 565.2 L190.4 565.2 L191.1 565.2 L191.8 565.2 L192.5 565.2 L193.2 565.2 L193.9 565.2 L194.6 565.2 L195.3 565.2 L196 565.2 L196.7 565.2 L197.4 565.2 L198.1 565.2 L198.8 565.2 L199.5 565.2 L200.2 565.2 L200.9 565.2 L201.6 565.2 L202.3 565.2 L203 565.2 L203.7 565.2 L204.4 565.2 L205.1 565.2 L205.8 565.2 L206.5 565.2 L207.2 565.2 L207.9 565.2 L208.6 565.2 L209.3 565.2 L210 565.2 L210.7 565.19 L211.4 565.18 L212.1 565.16 L212.8 565.1 L213.5 564.97 L214.2 564.71 L214.9 564.14 L215.6 563.05 L216.3 562.23 L217 559.43 L217.7 555.9 L218.4 551.32 L219.1 549.32 L219.8 541.53 L220.5 536.98 L221.2 534.52 L221.9 531.43 L222.6 531.31 L223.3 533.91 L224 535.64 L224.7 540.09 L225.4 539.39 L226.1 542.05 L226.8 548.23 L227.5 550.33 L228.2 553.31 L228.9 556.04 L229.6 560.13 L230.3 560.19 L231 562.04 L231.7 562.97 L232.4 563.93 L233.1 564.3 L233.8 564.6 L234.5 564.89 L235.2 565.02 L235.9 565.1 L236.6 565.15 L237.3 565.17 L238 565.19 L238.7 565.19 L239.4 565.2 L240.1 565.2 L240.8 565.2 L241.5 565.2 L242.2 565.2 L242.9 565.2 L243.6 565.2 L244.3 565.2 L245 565.2 L245.7 565.2 L246.4 565.2 L247.1 565.2 L247.8 565.2 L248.5 565.2 L249.2 565.2 L249.9 565.2 L250.6 565.2 L251.3 565.2 L252 565.2 L252.7 565.2 L253.4 565.2 L254.1 565.2 L254.8 565.2 L255.5 565.2 L256.2 565.2 L256.9 565.2 L257.6 565.2 L258.3 565.2 L259 565.2 L259.7 565.2 L260.4 565.2 L261.1 565.2 L261.8 565.2 L262.5 565.2 L263.2 565.2 L263.9 565.2 L264.6 565.2 L265.3 565.2 L266 565.2 L266.7 565.2 L267.4 565.2 L268.1 565.2 L268.8 565.2 L269.5 565.2 L270.2 565.2 L270.9 565.2 L271.6 565.2 L272.3 565.2 L273 565.2 L273.7 565.2 L274.4 565.2 L275.1 565.2 L275.8 565.2 L276.5 565.2 L277.2 565.2 L277.9 565.2 L278.6 565.2 L279.3 565.2 L280 565.2 L280.7 565.2 L281.4 565.2 L282.1 565.2 L282.8 565.2 L283.5 565.2 L284.2 565.2 L284.9 565.2 L285.6 565.2 L286.3 565.2 L287 565.2 L287.7 565.2 L288.4 565.2 L289.1 565.2 L289.8 565.2 L290.5 565.2 L291.2 565.2 L291.9 565.2 L292.6 565.2 L293.3 565.2 L294 565.2 L294.7 565.2 L295.4 565.2 L296.1 565.2 L296.8 565.2 L297.5 565.2 L298.2 565.2 L298.9 565.2 L299.6 565.2 L300.3 565.2 L301 565.2 L301.7 565.2 L302.4 565.2 L303.1 565.2 L303.8 565.2 L304.5 565.2 L305.2 565.2 L305.9 565.2 L306.6 565.2 L307.3 565.2 L308 565.2 L308.7 565.2 L309.4 565.2 L310.1 565.2 L310.8 565.2 L311.5 565.2 L312.2 565.2 L312.9 565.2 L313.6 565.2 L314.3 565.2 L315 565.2 L315.7 565.2 L316.4 565.2 L317.1 565.2 L317.8 565.2 L318.5 565.2 L319.2 565.2 L319.9 565.2 L320.6 565.2 L321.3 565.2 L322 565.2 L322.7 565.2 L323.4 565.2 L324.1 565.2 L324.8 565.2 L325.5 565.2 L326.2 565.2 L326.9 565.2 L327.6 565.2 L328.3 565.2 L329 565.2 L329 565.2 L180.6 565.2 Z" fill="#8ed48e" fill-opacity="0.9"/>
<path d="M180.6 565.2 L181.3 565.2 L182 565.2 L182.7 565.2 L183.4 565.2 L184.1 565.2 L184.8 565.2 L185.5 565.2 L186.2 565.2 L186.9 565.2 L187.6 565.2 L188.3 565.2 L189 565.2 L189.7 565.2 L190.4 565.2 L191.1 565.2 L191.8 565.2 L192.5 565.2 L193.2 565.2 L193.9 565.2 L194.6 565.2 L195.3 565.2 L196 565.2 L196.7 565.2 L197.4 565.2 L198.1 565.2 L198.8 565.2 L199.5 565.2 L200.2 565.2 L200.9 565.2 L201.6 565.2 L202.3 565.2 L203 565.2 L203.7 565.2 L204.4 565.2 L205.1 565.2 L205.8 565.2 L206.5 565.2 L207.2 565.2 L207.9 565.2 L208.6 565.2 L209.3 565.2 L210 565.2 L210.7 565.19 L211.4 565.18 L212.1 565.16 L212.8 565.1 L213.5 564.97 L214.2 564.71 L214.9 564.14 L215.6 563.05 L216.3 562.23 L217 559.43 L217.7 555.9 L218.4 551.32 L219.1 549.32 L219.8 541.53 L220.5 536.98 L221.2 534.52 L221.9 531.43 L222.6 531.31 L223.3 533.91 L224 535.64 L224.7 540.09 L225.4 539.39 L226.1 542.05 L226.8 548.23 L227.5 550.33 L228.2 553.31 L228.9 556.04 L229.6 560.13 L230.3 560.19 L231 562.04 L231.7 562.97 L232.4 563.93 L233.1 564.3 L233.8 564.6 L234.5 564.89 L235.2 565.02 L235.9 565.1 L236.6 565.15 L237.3 565.17 L238 565.19 L238.7 565.19 L239.4 565.2 L240.1 565.2 L240.8 565.2 L241.5 565.2 L242.2 565.2 L242.9 565.2 L243.6 565.2 L244.3 565.2 L245 565.2 L245.7 565.2 L246.4 565.2 L247.1 565.2 L247.8 565.2 L248.5 565.2 L249.2 565.2 L249.9 565.2 L250.6 565.2 L251.3 565.2 L252 565.2 L252.7 565.2 L253.4 565.2 L254.1 565.2 L254.8 565.2 L255.5 565.2 L256.2 565.2 L256.9 565.2 L257.6 565.2 L258.3 565.2 L259 565.2 L259.7 565.2 L260.4 565.2 L261.1 565.2 L261.8 565.2 L262.5 565.2 L263.2 565.2 L263.9 565.2 L264.6 565.2 L265.3 565.2 L266 565.2 L266.7 565.2 L267.4 565.2 L268.1 565.2 L268.8 565.2 L269.5 565.2 L270.2 565.2 L270.9 565.2 L271.6 565.2 L272.3 565.2 L273 565.2 L273.7 565.2 L274.4 565.2 L275.1 565.2 L275.8 565.2 L276.5 565.2 L277.2 565.2 L277.9 565.2 L278.6 565.2 L279.3 565.2 L280 565.2 L280.7 565.2 L281.4 565.2 L282.1 565.2 L282.8 565.2 L283.5 565.2 L284.2 565.2 L284.9 565.2 L285.6 565.2 L286.3 565.2 L287 565.2 L287.7 565.2 L288.4 565.2 L289.1 565.2 L289.8 565.2 L290.5 565.2 L291.2 565.2 L291.9 565.2 L292.6 565.2 L293.3 565.2 L294 565.2 L294.7 565.2 L295.4 565.2 L296.1 565.2 L296.8 565.2 L297.5 565.2 L298.2 565.2 L298.9 565.2 L299.6 565.2 L300.3 565.2 L301 565.2 L301.7 565.2 L302.4 565.2 L303.1 565.2 L303.8 565.2 L304.5 565.2 L305.2 565.2 L305.9 565.2 L306.6 565.2 L307.3 565.2 L308 565.2 L308.7 565.2 L309.4 565.2 L310.1 565.2 L310.8 565.2 L311.5 565.2 L312.2 565.2 L312.9 565.2 L313.6 565.2 L314.3 565.2 L315 565.2 L315.7 565.2 L316.4 565.2 L317.1 565.2 L317.8 565.2 L318.5 565.2 L319.2 565.2 L319.9 565.2 L320.6 565.2 L321.3 565.2 L322 565.2 L322.7 565.2 L323.4 565.2 L324.1 565.2 L324.8 565.2 L325.5 565.2 L326.2 565.2 L326.9 565.2 L327.6 565.2 L328.3 565.2 L329 565.2" fill="none" stroke="#2fb52f" stroke-width="1.2"/>
<path d="M180.6 594.4 L181.3 594.4 L182 594.4 L182.7 594.4 L183.4 594.4 L184.1 594.4 L184.8 594.4 L185.5 594.4 L186.2 594.4 L186.9 594.4 L187.6 594.4 L188.3 594.4 L189 594.4 L189.7 594.4 L190.4 594.4 L191.1 594.4 L191.8 594.4 L192.5 594.4 L193.2 594.4 L193.9 594.4 L194.6 594.4 L195.3 594.4 L196 594.4 L196.7 594.4 L197.4 594.4 L198.1 594.4 L198.8 594.4 L199.5 594.4 L200.2 594.4 L200.9 594.4 L201.6 594.4 L202.3 594.4 L203 594.4 L203.7 594.4 L204.4 594.4 L205.1 594.4 L205.8 594.4 L206.5 594.4 L207.2 594.4 L207.9 594.4 L208.6 594.4 L209.3 594.4 L210 594.4 L210.7 594.4 L211.4 594.39 L212.1 594.38 L212.8 594.33 L213.5 594.19 L214.2 593.8 L214.9 592.88 L215.6 592.23 L216.3 589.58 L217 584.13 L217.7 576.17 L218.4 571.49 L219.1 559.57 L219.8 553.56 L220.5 553.5 L221.2 551.74 L221.9 556.48 L222.6 563.22 L223.3 569.12 L224 574.11 L224.7 580.85 L225.4 585.34 L226.1 589.28 L226.8 590.42 L227.5 592.28 L228.2 593.12 L228.9 593.77 L229.6 594.12 L230.3 594.28 L231 594.35 L231.7 594.38 L232.4 594.39 L233.1 594.4 L233.8 594.4 L234.5 594.4 L235.2 594.4 L235.9 594.4 L236.6 594.4 L237.3 594.4 L238 594.4 L238.7 594.4 L239.4 594.4 L240.1 594.4 L240.8 594.4 L241.5 594.4 L242.2 594.4 L242.9 594.4 L243.6 594.4 L244.3 594.4 L245 594.4 L245.7 594.4 L246.4 594.4 L247.1 594.4 L247.8 594.4 L248.5 594.4 L249.2 594.4 L249.9 594.4 L250.6 594.4 L251.3 594.4 L252 594.4 L252.7 594.4 L253.4 594.4 L254.1 594.4 L254.8 594.4 L255.5 594.4 L256.2 594.4 L256.9 594.4 L257.6 594.4 L258.3 594.4 L259 594.4 L259.7 594.4 L260.4 594.4 L261.1 594.4 L261.8 594.4 L262.5 594.4 L263.2 594.4 L263.9 594.4 L264.6 594.4 L265.3 594.4 L266 594.4 L266.7 594.4 L267.4 594.4 L268.1 594.4 L268.8 594.4 L269.5 594.4 L270.2 594.4 L270.9 594.4 L271.6 594.4 L272.3 594.4 L273 594.4 L273.7 594.4 L274.4 594.4 L275.1 594.4 L275.8 594.4 L276.5 594.4 L277.2 594.4 L277.9 594.4 L278.6 594.4 L279.3 594.4 L280 594.4 L280.7 594.4 L281.4 594.4 L282.1 594.4 L282.8 594.4 L283.5 594.4 L284.2 594.4 L284.9 594.4 L285.6 594.4 L286.3 594.4 L287 594.4 L287.7 594.4 L288.4 594.4 L289.1 594.4 L289.8 594.4 L290.5 594.4 L291.2 594.4 L291.9 594.4 L292.6 594.4 L293.3 594.4 L294 594.4 L294.7 594.4 L295.4 594.4 L296.1 594.4 L296.8 594.4 L297.5 594.4 L298.2 594.4 L298.9 594.4 L299.6 594.4 L300.3 594.4 L301 594.4 L301.7 594.4 L302.4 594.4 L303.1 594.4 L303.8 594.4 L304.5 594.4 L305.2 594.4 L305.9 594.4 L306.6 594.4 L307.3 594.4 L308 594.4 L308.7 594.4 L309.4 594.4 L310.1 594.4 L310.8 594.4 L311.5 594.4 L312.2 594.4 L312.9 594.4 L313.6 594.4 L314.3 594.4 L315 594.4 L315.7 594.4 L316.4 594.4 L317.1 594.4 L317.8 594.4 L318.5 594.4 L319.2 594.4 L319.9 594.4 L320.6 594.4 L321.3 594.4 L322 594.4 L322.7 594.4 L323.4 594.4 L324.1 594.4 L324.8 594.4 L325.5 594.4 L326.2 594.4 L326.9 594.4 L327.6 594.4 L328.3 594.4 L329 594.4 L329 594.4 L180.6 594.4 Z" fill="#ec7676" fill-opacity="0.9"/>
<path d="M180.6 594.4 L181.3 594.4 L182 594.4 L182.7 594.4 L183.4 594.4 L184.1 594.4 L184.8 594.4 L185.5 594.4 L186.2 594.4 L186.9 594.4 L187.6 594.4 L188.3 594.4 L189 594.4 L189.7 594.4 L190.4 594.4 L191.1 594.4 L191.8 594.4 L192.5 594.4 L193.2 594.4 L193.9 594.4 L194.6 594.4 L195.3 594.4 L196 594.4 L196.7 594.4 L197.4 594.4 L198.1 594.4 L198.8 594.4 L199.5 594.4 L200.2 594.4 L200.9 594.4 L201.6 594.4 L202.3 594.4 L203 594.4 L203.7 594.4 L204.4 594.4 L205.1 594.4 L205.8 594.4 L206.5 594.4 L207.2 594.4 L207.9 594.4 L208.6 594.4 L209.3 594.4 L210 594.4 L210.7 594.4 L211.4 594.39 L212.1 594.38 L212.8 594.33 L213.5 594.19 L214.2 593.8 L214.9 592.88 L215.6 592.23 L216.3 589.58 L217 584.13 L217.7 576.17 L218.4 571.49 L219.1 559.57 L219.8 553.56 L220.5 553.5 L221.2 551.74 L221.9 556.48 L222.6 563.22 L223.3 569.12 L224 574.11 L224.7 580.85 L225.4 585.34 L226.1 589.28 L226.8 590.42 L227.5 592.28 L228.2 593.12 L228.9 593.77 L229.6 594.12 L230.3 594.28 L231 594.35 L231.7 594.38 L232.4 594.39 L233.1 594.4 L233.8 594.4 L234.5 594.4 L235.2 594.4 L235.9 594.4 L236.6 594.4 L237.3 594.4 L238 594.4 L238.7 594.4 L239.4 594.4 L240.1 594.4 L240.8 594.4 L241.5 594.4 L242.2 594.4 L242.9 594.4 L243.6 594.4 L244.3 594.4 L245 594.4 L245.7 594.4 L246.4 594.4 L247.1 594.4 L247.8 594.4 L248.5 594.4 L249.2 594.4 L249.9 594.4 L250.6 594.4 L251.3 594.4 L252 594.4 L252.7 594.4 L253.4 594.4 L254.1 594.4 L254.8 594.4 L255.5 594.4 L256.2 594.4 L256.9 594.4 L257.6 594.4 L258.3 594.4 L259 594.4 L259.7 594.4 L260.4 594.4 L261.1 594.4 L261.8 594.4 L262.5 594.4 L263.2 594.4 L263.9 594.4 L264.6 594.4 L265.3 594.4 L266 594.4 L266.7 594.4 L267.4 594.4 L268.1 594.4 L268.8 594.4 L269.5 594.4 L270.2 594.4 L270.9 594.4 L271.6 594.4 L272.3 594.4 L273 594.4 L273.7 594.4 L274.4 594.4 L275.1 594.4 L275.8 594.4 L276.5 594.4 L277.2 594.4 L277.9 594.4 L278.6 594.4 L279.3 594.4 L280 594.4 L280.7 594.4 L281.4 594.4 L282.1 594.4 L282.8 594.4 L283.5 594.4 L284.2 594.4 L284.9 594.4 L285.6 594.4 L286.3 594.4 L287 594.4 L287.7 594.4 L288.4 594.4 L289.1 594.4 L289.8 594.4 L290.5 594.4 L291.2 594.4 L291.9 594.4 L292.6 594.4 L293.3 594.4 L294 594.4 L294.7 594.4 L295.4 594.4 L296.1 594.4 L296.8 594.4 L297.5 594.4 L298.2 594.4 L298.9 594.4 L299.6 594.4 L300.3 594.4 L301 594.4 L301.7 594.4 L302.4 594.4 L303.1 594.4 L303.8 594.4 L304.5 594.4 L305.2 594.4 L305.9 594.4 L306.6 594.4 L307.3 594.4 L308 594.4 L308.7 594.4 L309.4 594.4 L310.1 594.4 L310.8 594.4 L311.5 594.4 L312.2 594.4 L312.9 594.4 L313.6 594.4 L314.3 594.4 L315 594.4 L315.7 594.4 L316.4 594.4 L317.1 594.4 L317.8 594.4 L318.5 594.4 L319.2 594.4 L319.9 594.4 L320.6 594.4 L321.3 594.4 L322 594.4 L322.7 594.4 L323.4 594.4 L324.1 594.4 L324.8 594.4 L325.5 594.4 L326.2 594.4 L326.9 594.4 L327.6 594.4 L328.3 594.4 L329 594.4" fill="none" stroke="#e42828" stroke-width="1.5"/>
<rect x="180" y="444.3" width="149.7" height="150.7" fill="none" stroke="#000" stroke-width="1.2"/>
<text x="323.1" y="458.2" font-size="8.8" font-weight="bold" text-anchor="end" fill="#000" stroke="#000" stroke-width="0.18">MFI</text>
<text x="182.2" y="500.6" font-size="9.1" font-weight="bold" text-anchor="start" fill="#000" stroke="#000" stroke-width="0.18">CTRL</text>
<text x="323.1" y="500.6" font-size="9.1" font-weight="bold" text-anchor="end" fill="#000" stroke="#000" stroke-width="0.18">523</text>
<text x="182.2" y="530.2" font-size="9.1" font-weight="bold" text-anchor="start" fill="#000" stroke="#000" stroke-width="0.18"><tspan font-style="italic">α</tspan>-PD-1</text>
<text x="323.1" y="530.2" font-size="9.1" font-weight="bold" text-anchor="end" fill="#000" stroke="#000" stroke-width="0.18">466</text>
<text x="182.2" y="560" font-size="9.1" font-weight="bold" text-anchor="start" fill="#000" stroke="#000" stroke-width="0.18">CAR-T</text>
<text x="323.1" y="560" font-size="9.1" font-weight="bold" text-anchor="end" fill="#000" stroke="#000" stroke-width="0.18">375</text>
<text x="182.2" y="589.2" font-size="9.1" font-weight="bold" text-anchor="start" fill="#000" stroke="#000" stroke-width="0.18">CAR-T + <tspan font-style="italic">α</tspan>-PD-1</text>
<text x="323.1" y="589.2" font-size="9.1" font-weight="bold" text-anchor="end" fill="#000" stroke="#000" stroke-width="0.18">297</text>
<text x="192.3" y="606" font-size="5" font-weight="normal" text-anchor="middle" fill="#000" stroke="#000" stroke-width="0.1">-10<tspan font-size="3.2" dy="-1.8">3</tspan></text>
<text x="214.4" y="606" font-size="5" font-weight="normal" text-anchor="middle" fill="#000" stroke="#000" stroke-width="0.1">0</text>
<text x="239.6" y="606" font-size="5" font-weight="normal" text-anchor="middle" fill="#000" stroke="#000" stroke-width="0.1">10<tspan font-size="3.2" dy="-1.8">3</tspan></text>
<text x="277.4" y="606" font-size="5" font-weight="normal" text-anchor="middle" fill="#000" stroke="#000" stroke-width="0.1">10<tspan font-size="3.2" dy="-1.8">4</tspan></text>
<text x="313.2" y="606" font-size="5" font-weight="normal" text-anchor="middle" fill="#000" stroke="#000" stroke-width="0.1">10<tspan font-size="3.2" dy="-1.8">5</tspan></text>
<line x1="190" y1="595" x2="190" y2="597.8" stroke="#000" stroke-width="1"/>
<line x1="216" y1="595" x2="216" y2="597.8" stroke="#000" stroke-width="1"/>
<line x1="239.3" y1="595" x2="239.3" y2="597.8" stroke="#000" stroke-width="1"/>
<line x1="277.2" y1="595" x2="277.2" y2="597.8" stroke="#000" stroke-width="1"/>
<line x1="313" y1="595" x2="313" y2="597.8" stroke="#000" stroke-width="1"/>
<line x1="186" y1="595" x2="186" y2="596.6" stroke="#000" stroke-width="0.7"/>
<line x1="192.3" y1="595" x2="192.3" y2="596.6" stroke="#000" stroke-width="0.7"/>
<line x1="198.6" y1="595" x2="198.6" y2="596.6" stroke="#000" stroke-width="0.7"/>
<line x1="204.9" y1="595" x2="204.9" y2="596.6" stroke="#000" stroke-width="0.7"/>
<line x1="211.2" y1="595" x2="211.2" y2="596.6" stroke="#000" stroke-width="0.7"/>
<line x1="217.5" y1="595" x2="217.5" y2="596.6" stroke="#000" stroke-width="0.7"/>
<line x1="223.8" y1="595" x2="223.8" y2="596.6" stroke="#000" stroke-width="0.7"/>
<line x1="230.1" y1="595" x2="230.1" y2="596.6" stroke="#000" stroke-width="0.7"/>
<line x1="236.4" y1="595" x2="236.4" y2="596.6" stroke="#000" stroke-width="0.7"/>
<line x1="242.7" y1="595" x2="242.7" y2="596.6" stroke="#000" stroke-width="0.7"/>
<line x1="249" y1="595" x2="249" y2="596.6" stroke="#000" stroke-width="0.7"/>
<line x1="255.3" y1="595" x2="255.3" y2="596.6" stroke="#000" stroke-width="0.7"/>
<line x1="261.6" y1="595" x2="261.6" y2="596.6" stroke="#000" stroke-width="0.7"/>
<line x1="267.9" y1="595" x2="267.9" y2="596.6" stroke="#000" stroke-width="0.7"/>
<line x1="274.2" y1="595" x2="274.2" y2="596.6" stroke="#000" stroke-width="0.7"/>
<line x1="280.5" y1="595" x2="280.5" y2="596.6" stroke="#000" stroke-width="0.7"/>
<line x1="286.8" y1="595" x2="286.8" y2="596.6" stroke="#000" stroke-width="0.7"/>
<line x1="293.1" y1="595" x2="293.1" y2="596.6" stroke="#000" stroke-width="0.7"/>
<line x1="299.4" y1="595" x2="299.4" y2="596.6" stroke="#000" stroke-width="0.7"/>
<line x1="305.7" y1="595" x2="305.7" y2="596.6" stroke="#000" stroke-width="0.7"/>
<line x1="312" y1="595" x2="312" y2="596.6" stroke="#000" stroke-width="0.7"/>
<line x1="318.3" y1="595" x2="318.3" y2="596.6" stroke="#000" stroke-width="0.7"/>
<line x1="208" y1="595" x2="208" y2="597.2" stroke="#000" stroke-width="0.6"/>
<line x1="209.2" y1="595" x2="209.2" y2="597.2" stroke="#000" stroke-width="0.6"/>
<line x1="210.4" y1="595" x2="210.4" y2="597.2" stroke="#000" stroke-width="0.6"/>
<line x1="211.6" y1="595" x2="211.6" y2="597.2" stroke="#000" stroke-width="0.6"/>
<line x1="212.8" y1="595" x2="212.8" y2="597.2" stroke="#000" stroke-width="0.6"/>
<line x1="214" y1="595" x2="214" y2="597.2" stroke="#000" stroke-width="0.6"/>
<line x1="215.2" y1="595" x2="215.2" y2="597.2" stroke="#000" stroke-width="0.6"/>
<line x1="216.4" y1="595" x2="216.4" y2="597.2" stroke="#000" stroke-width="0.6"/>
<rect x="339.2" y="444.3" width="150.3" height="150.7" fill="#fff"/>
<path d="M339.8 505.8 L340.5 505.8 L341.2 505.8 L341.9 505.8 L342.6 505.8 L343.3 505.8 L344 505.8 L344.7 505.8 L345.4 505.8 L346.1 505.8 L346.8 505.8 L347.5 505.8 L348.2 505.8 L348.9 505.8 L349.6 505.8 L350.3 505.8 L351 505.8 L351.7 505.8 L352.4 505.8 L353.1 505.8 L353.8 505.8 L354.5 505.8 L355.2 505.8 L355.9 505.8 L356.6 505.8 L357.3 505.8 L358 505.8 L358.7 505.8 L359.4 505.8 L360.1 505.8 L360.8 505.8 L361.5 505.8 L362.2 505.8 L362.9 505.8 L363.6 505.8 L364.3 505.8 L365 505.8 L365.7 505.8 L366.4 505.8 L367.1 505.8 L367.8 505.79 L368.5 505.78 L369.2 505.75 L369.9 505.7 L370.6 505.61 L371.3 505.45 L372 505.28 L372.7 504.49 L373.4 504.55 L374.1 503.18 L374.8 502.09 L375.5 499.92 L376.2 498.71 L376.9 492.5 L377.6 491.36 L378.3 489.64 L379 482.57 L379.7 481.92 L380.4 476.89 L381.1 475.95 L381.8 474.4 L382.5 473.24 L383.2 474.58 L383.9 477.7 L384.6 477.64 L385.3 480.68 L386 484.7 L386.7 488.65 L387.4 488.64 L388.1 491.4 L388.8 491.89 L389.5 494.28 L390.2 497.82 L390.9 500.31 L391.6 500.29 L392.3 503.31 L393 503.83 L393.7 503.9 L394.4 504.41 L395.1 505.09 L395.8 505.14 L396.5 505.39 L397.2 505.53 L397.9 505.63 L398.6 505.69 L399.3 505.73 L400 505.76 L400.7 505.78 L401.4 505.79 L402.1 505.79 L402.8 505.8 L403.5 505.8 L404.2 505.8 L404.9 505.8 L405.6 505.8 L406.3 505.8 L407 505.8 L407.7 505.8 L408.4 505.8 L409.1 505.8 L409.8 505.8 L410.5 505.8 L411.2 505.8 L411.9 505.8 L412.6 505.8 L413.3 505.8 L414 505.8 L414.7 505.8 L415.4 505.8 L416.1 505.8 L416.8 505.8 L417.5 505.8 L418.2 505.8 L418.9 505.8 L419.6 505.8 L420.3 505.8 L421 505.8 L421.7 505.8 L422.4 505.8 L423.1 505.8 L423.8 505.8 L424.5 505.8 L425.2 505.8 L425.9 505.8 L426.6 505.8 L427.3 505.8 L428 505.8 L428.7 505.8 L429.4 505.8 L430.1 505.8 L430.8 505.8 L431.5 505.8 L432.2 505.8 L432.9 505.8 L433.6 505.8 L434.3 505.8 L435 505.8 L435.7 505.8 L436.4 505.8 L437.1 505.8 L437.8 505.8 L438.5 505.8 L439.2 505.8 L439.9 505.8 L440.6 505.8 L441.3 505.8 L442 505.8 L442.7 505.8 L443.4 505.8 L444.1 505.8 L444.8 505.8 L445.5 505.8 L446.2 505.8 L446.9 505.8 L447.6 505.8 L448.3 505.8 L449 505.8 L449.7 505.8 L450.4 505.8 L451.1 505.8 L451.8 505.8 L452.5 505.8 L453.2 505.8 L453.9 505.8 L454.6 505.8 L455.3 505.8 L456 505.8 L456.7 505.8 L457.4 505.8 L458.1 505.8 L458.8 505.8 L459.5 505.8 L460.2 505.8 L460.9 505.8 L461.6 505.8 L462.3 505.8 L463 505.8 L463.7 505.8 L464.4 505.8 L465.1 505.8 L465.8 505.8 L466.5 505.8 L467.2 505.8 L467.9 505.8 L468.6 505.8 L469.3 505.8 L470 505.8 L470.7 505.8 L471.4 505.8 L472.1 505.8 L472.8 505.8 L473.5 505.8 L474.2 505.8 L474.9 505.8 L475.6 505.8 L476.3 505.8 L477 505.8 L477.7 505.8 L478.4 505.8 L479.1 505.8 L479.8 505.8 L480.5 505.8 L481.2 505.8 L481.9 505.8 L482.6 505.8 L483.3 505.8 L484 505.8 L484.7 505.8 L485.4 505.8 L486.1 505.8 L486.8 505.8 L487.5 505.8 L488.2 505.8 L488.9 505.8 L488.9 505.8 L339.8 505.8 Z" fill="#8c94d0" fill-opacity="0.9"/>
<path d="M339.8 505.8 L340.5 505.8 L341.2 505.8 L341.9 505.8 L342.6 505.8 L343.3 505.8 L344 505.8 L344.7 505.8 L345.4 505.8 L346.1 505.8 L346.8 505.8 L347.5 505.8 L348.2 505.8 L348.9 505.8 L349.6 505.8 L350.3 505.8 L351 505.8 L351.7 505.8 L352.4 505.8 L353.1 505.8 L353.8 505.8 L354.5 505.8 L355.2 505.8 L355.9 505.8 L356.6 505.8 L357.3 505.8 L358 505.8 L358.7 505.8 L359.4 505.8 L360.1 505.8 L360.8 505.8 L361.5 505.8 L362.2 505.8 L362.9 505.8 L363.6 505.8 L364.3 505.8 L365 505.8 L365.7 505.8 L366.4 505.8 L367.1 505.8 L367.8 505.79 L368.5 505.78 L369.2 505.75 L369.9 505.7 L370.6 505.61 L371.3 505.45 L372 505.28 L372.7 504.49 L373.4 504.55 L374.1 503.18 L374.8 502.09 L375.5 499.92 L376.2 498.71 L376.9 492.5 L377.6 491.36 L378.3 489.64 L379 482.57 L379.7 481.92 L380.4 476.89 L381.1 475.95 L381.8 474.4 L382.5 473.24 L383.2 474.58 L383.9 477.7 L384.6 477.64 L385.3 480.68 L386 484.7 L386.7 488.65 L387.4 488.64 L388.1 491.4 L388.8 491.89 L389.5 494.28 L390.2 497.82 L390.9 500.31 L391.6 500.29 L392.3 503.31 L393 503.83 L393.7 503.9 L394.4 504.41 L395.1 505.09 L395.8 505.14 L396.5 505.39 L397.2 505.53 L397.9 505.63 L398.6 505.69 L399.3 505.73 L400 505.76 L400.7 505.78 L401.4 505.79 L402.1 505.79 L402.8 505.8 L403.5 505.8 L404.2 505.8 L404.9 505.8 L405.6 505.8 L406.3 505.8 L407 505.8 L407.7 505.8 L408.4 505.8 L409.1 505.8 L409.8 505.8 L410.5 505.8 L411.2 505.8 L411.9 505.8 L412.6 505.8 L413.3 505.8 L414 505.8 L414.7 505.8 L415.4 505.8 L416.1 505.8 L416.8 505.8 L417.5 505.8 L418.2 505.8 L418.9 505.8 L419.6 505.8 L420.3 505.8 L421 505.8 L421.7 505.8 L422.4 505.8 L423.1 505.8 L423.8 505.8 L424.5 505.8 L425.2 505.8 L425.9 505.8 L426.6 505.8 L427.3 505.8 L428 505.8 L428.7 505.8 L429.4 505.8 L430.1 505.8 L430.8 505.8 L431.5 505.8 L432.2 505.8 L432.9 505.8 L433.6 505.8 L434.3 505.8 L435 505.8 L435.7 505.8 L436.4 505.8 L437.1 505.8 L437.8 505.8 L438.5 505.8 L439.2 505.8 L439.9 505.8 L440.6 505.8 L441.3 505.8 L442 505.8 L442.7 505.8 L443.4 505.8 L444.1 505.8 L444.8 505.8 L445.5 505.8 L446.2 505.8 L446.9 505.8 L447.6 505.8 L448.3 505.8 L449 505.8 L449.7 505.8 L450.4 505.8 L451.1 505.8 L451.8 505.8 L452.5 505.8 L453.2 505.8 L453.9 505.8 L454.6 505.8 L455.3 505.8 L456 505.8 L456.7 505.8 L457.4 505.8 L458.1 505.8 L458.8 505.8 L459.5 505.8 L460.2 505.8 L460.9 505.8 L461.6 505.8 L462.3 505.8 L463 505.8 L463.7 505.8 L464.4 505.8 L465.1 505.8 L465.8 505.8 L466.5 505.8 L467.2 505.8 L467.9 505.8 L468.6 505.8 L469.3 505.8 L470 505.8 L470.7 505.8 L471.4 505.8 L472.1 505.8 L472.8 505.8 L473.5 505.8 L474.2 505.8 L474.9 505.8 L475.6 505.8 L476.3 505.8 L477 505.8 L477.7 505.8 L478.4 505.8 L479.1 505.8 L479.8 505.8 L480.5 505.8 L481.2 505.8 L481.9 505.8 L482.6 505.8 L483.3 505.8 L484 505.8 L484.7 505.8 L485.4 505.8 L486.1 505.8 L486.8 505.8 L487.5 505.8 L488.2 505.8 L488.9 505.8" fill="none" stroke="#2a35a8" stroke-width="1.2"/>
<path d="M339.8 535.4 L340.5 535.4 L341.2 535.4 L341.9 535.4 L342.6 535.4 L343.3 535.4 L344 535.4 L344.7 535.4 L345.4 535.4 L346.1 535.4 L346.8 535.4 L347.5 535.4 L348.2 535.4 L348.9 535.4 L349.6 535.4 L350.3 535.4 L351 535.4 L351.7 535.4 L352.4 535.4 L353.1 535.4 L353.8 535.4 L354.5 535.4 L355.2 535.4 L355.9 535.4 L356.6 535.4 L357.3 535.4 L358 535.4 L358.7 535.4 L359.4 535.4 L360.1 535.4 L360.8 535.4 L361.5 535.4 L362.2 535.4 L362.9 535.4 L363.6 535.4 L364.3 535.4 L365 535.4 L365.7 535.4 L366.4 535.4 L367.1 535.4 L367.8 535.4 L368.5 535.39 L369.2 535.37 L369.9 535.3 L370.6 535.07 L371.3 534.29 L372 533.33 L372.7 530.72 L373.4 527.29 L374.1 520.79 L374.8 507.81 L375.5 504.08 L376.2 494.98 L376.9 490.79 L377.6 492.79 L378.3 495.22 L379 495.56 L379.7 499.13 L380.4 502 L381.1 502.54 L381.8 506.77 L382.5 507.65 L383.2 512.07 L383.9 510.98 L384.6 519.55 L385.3 521.27 L386 523.33 L386.7 524.41 L387.4 525.64 L388.1 529.07 L388.8 530 L389.5 531.25 L390.2 531.63 L390.9 532.45 L391.6 533.38 L392.3 533.86 L393 533.52 L393.7 534.62 L394.4 534.54 L395.1 535.02 L395.8 535.14 L396.5 535.22 L397.2 535.28 L397.9 535.32 L398.6 535.35 L399.3 535.36 L400 535.38 L400.7 535.39 L401.4 535.39 L402.1 535.39 L402.8 535.4 L403.5 535.4 L404.2 535.4 L404.9 535.4 L405.6 535.4 L406.3 535.4 L407 535.4 L407.7 535.4 L408.4 535.4 L409.1 535.4 L409.8 535.4 L410.5 535.4 L411.2 535.4 L411.9 535.4 L412.6 535.4 L413.3 535.4 L414 535.4 L414.7 535.4 L415.4 535.4 L416.1 535.4 L416.8 535.4 L417.5 535.4 L418.2 535.4 L418.9 535.4 L419.6 535.4 L420.3 535.4 L421 535.4 L421.7 535.4 L422.4 535.4 L423.1 535.4 L423.8 535.4 L424.5 535.4 L425.2 535.4 L425.9 535.4 L426.6 535.4 L427.3 535.4 L428 535.4 L428.7 535.4 L429.4 535.4 L430.1 535.4 L430.8 535.4 L431.5 535.4 L432.2 535.4 L432.9 535.4 L433.6 535.4 L434.3 535.4 L435 535.4 L435.7 535.4 L436.4 535.4 L437.1 535.4 L437.8 535.4 L438.5 535.4 L439.2 535.4 L439.9 535.4 L440.6 535.4 L441.3 535.4 L442 535.4 L442.7 535.4 L443.4 535.4 L444.1 535.4 L444.8 535.4 L445.5 535.4 L446.2 535.4 L446.9 535.4 L447.6 535.4 L448.3 535.4 L449 535.4 L449.7 535.4 L450.4 535.4 L451.1 535.4 L451.8 535.4 L452.5 535.4 L453.2 535.4 L453.9 535.4 L454.6 535.4 L455.3 535.4 L456 535.4 L456.7 535.4 L457.4 535.4 L458.1 535.4 L458.8 535.4 L459.5 535.4 L460.2 535.4 L460.9 535.4 L461.6 535.4 L462.3 535.4 L463 535.4 L463.7 535.4 L464.4 535.4 L465.1 535.4 L465.8 535.4 L466.5 535.4 L467.2 535.4 L467.9 535.4 L468.6 535.4 L469.3 535.4 L470 535.4 L470.7 535.4 L471.4 535.4 L472.1 535.4 L472.8 535.4 L473.5 535.4 L474.2 535.4 L474.9 535.4 L475.6 535.4 L476.3 535.4 L477 535.4 L477.7 535.4 L478.4 535.4 L479.1 535.4 L479.8 535.4 L480.5 535.4 L481.2 535.4 L481.9 535.4 L482.6 535.4 L483.3 535.4 L484 535.4 L484.7 535.4 L485.4 535.4 L486.1 535.4 L486.8 535.4 L487.5 535.4 L488.2 535.4 L488.9 535.4 L488.9 535.4 L339.8 535.4 Z" fill="#f0c47e" fill-opacity="0.9"/>
<path d="M339.8 535.4 L340.5 535.4 L341.2 535.4 L341.9 535.4 L342.6 535.4 L343.3 535.4 L344 535.4 L344.7 535.4 L345.4 535.4 L346.1 535.4 L346.8 535.4 L347.5 535.4 L348.2 535.4 L348.9 535.4 L349.6 535.4 L350.3 535.4 L351 535.4 L351.7 535.4 L352.4 535.4 L353.1 535.4 L353.8 535.4 L354.5 535.4 L355.2 535.4 L355.9 535.4 L356.6 535.4 L357.3 535.4 L358 535.4 L358.7 535.4 L359.4 535.4 L360.1 535.4 L360.8 535.4 L361.5 535.4 L362.2 535.4 L362.9 535.4 L363.6 535.4 L364.3 535.4 L365 535.4 L365.7 535.4 L366.4 535.4 L367.1 535.4 L367.8 535.4 L368.5 535.39 L369.2 535.37 L369.9 535.3 L370.6 535.07 L371.3 534.29 L372 533.33 L372.7 530.72 L373.4 527.29 L374.1 520.79 L374.8 507.81 L375.5 504.08 L376.2 494.98 L376.9 490.79 L377.6 492.79 L378.3 495.22 L379 495.56 L379.7 499.13 L380.4 502 L381.1 502.54 L381.8 506.77 L382.5 507.65 L383.2 512.07 L383.9 510.98 L384.6 519.55 L385.3 521.27 L386 523.33 L386.7 524.41 L387.4 525.64 L388.1 529.07 L388.8 530 L389.5 531.25 L390.2 531.63 L390.9 532.45 L391.6 533.38 L392.3 533.86 L393 533.52 L393.7 534.62 L394.4 534.54 L395.1 535.02 L395.8 535.14 L396.5 535.22 L397.2 535.28 L397.9 535.32 L398.6 535.35 L399.3 535.36 L400 535.38 L400.7 535.39 L401.4 535.39 L402.1 535.39 L402.8 535.4 L403.5 535.4 L404.2 535.4 L404.9 535.4 L405.6 535.4 L406.3 535.4 L407 535.4 L407.7 535.4 L408.4 535.4 L409.1 535.4 L409.8 535.4 L410.5 535.4 L411.2 535.4 L411.9 535.4 L412.6 535.4 L413.3 535.4 L414 535.4 L414.7 535.4 L415.4 535.4 L416.1 535.4 L416.8 535.4 L417.5 535.4 L418.2 535.4 L418.9 535.4 L419.6 535.4 L420.3 535.4 L421 535.4 L421.7 535.4 L422.4 535.4 L423.1 535.4 L423.8 535.4 L424.5 535.4 L425.2 535.4 L425.9 535.4 L426.6 535.4 L427.3 535.4 L428 535.4 L428.7 535.4 L429.4 535.4 L430.1 535.4 L430.8 535.4 L431.5 535.4 L432.2 535.4 L432.9 535.4 L433.6 535.4 L434.3 535.4 L435 535.4 L435.7 535.4 L436.4 535.4 L437.1 535.4 L437.8 535.4 L438.5 535.4 L439.2 535.4 L439.9 535.4 L440.6 535.4 L441.3 535.4 L442 535.4 L442.7 535.4 L443.4 535.4 L444.1 535.4 L444.8 535.4 L445.5 535.4 L446.2 535.4 L446.9 535.4 L447.6 535.4 L448.3 535.4 L449 535.4 L449.7 535.4 L450.4 535.4 L451.1 535.4 L451.8 535.4 L452.5 535.4 L453.2 535.4 L453.9 535.4 L454.6 535.4 L455.3 535.4 L456 535.4 L456.7 535.4 L457.4 535.4 L458.1 535.4 L458.8 535.4 L459.5 535.4 L460.2 535.4 L460.9 535.4 L461.6 535.4 L462.3 535.4 L463 535.4 L463.7 535.4 L464.4 535.4 L465.1 535.4 L465.8 535.4 L466.5 535.4 L467.2 535.4 L467.9 535.4 L468.6 535.4 L469.3 535.4 L470 535.4 L470.7 535.4 L471.4 535.4 L472.1 535.4 L472.8 535.4 L473.5 535.4 L474.2 535.4 L474.9 535.4 L475.6 535.4 L476.3 535.4 L477 535.4 L477.7 535.4 L478.4 535.4 L479.1 535.4 L479.8 535.4 L480.5 535.4 L481.2 535.4 L481.9 535.4 L482.6 535.4 L483.3 535.4 L484 535.4 L484.7 535.4 L485.4 535.4 L486.1 535.4 L486.8 535.4 L487.5 535.4 L488.2 535.4 L488.9 535.4" fill="none" stroke="#e8a030" stroke-width="1.2"/>
<path d="M339.8 565.2 L340.5 565.2 L341.2 565.2 L341.9 565.2 L342.6 565.2 L343.3 565.2 L344 565.2 L344.7 565.2 L345.4 565.2 L346.1 565.2 L346.8 565.2 L347.5 565.2 L348.2 565.2 L348.9 565.2 L349.6 565.2 L350.3 565.2 L351 565.2 L351.7 565.2 L352.4 565.2 L353.1 565.2 L353.8 565.2 L354.5 565.2 L355.2 565.2 L355.9 565.2 L356.6 565.2 L357.3 565.2 L358 565.2 L358.7 565.2 L359.4 565.2 L360.1 565.2 L360.8 565.2 L361.5 565.2 L362.2 565.2 L362.9 565.2 L363.6 565.2 L364.3 565.2 L365 565.2 L365.7 565.2 L366.4 565.2 L367.1 565.2 L367.8 565.2 L368.5 565.2 L369.2 565.19 L369.9 565.14 L370.6 564.99 L371.3 564.46 L372 562.94 L372.7 559.9 L373.4 554.88 L374.1 543.2 L374.8 536.8 L375.5 526.67 L376.2 517.92 L376.9 521.28 L377.6 522.66 L378.3 522.34 L379 532.62 L379.7 531.4 L380.4 538.02 L381.1 545.44 L381.8 551.12 L382.5 552.21 L383.2 555.36 L383.9 560.72 L384.6 561.59 L385.3 562.82 L386 563.79 L386.7 564.45 L387.4 564.73 L388.1 564.94 L388.8 565.07 L389.5 565.13 L390.2 565.17 L390.9 565.18 L391.6 565.19 L392.3 565.2 L393 565.2 L393.7 565.2 L394.4 565.2 L395.1 565.2 L395.8 565.2 L396.5 565.2 L397.2 565.2 L397.9 565.2 L398.6 565.2 L399.3 565.2 L400 565.2 L400.7 565.2 L401.4 565.2 L402.1 565.2 L402.8 565.2 L403.5 565.2 L404.2 565.2 L404.9 565.2 L405.6 565.2 L406.3 565.2 L407 565.2 L407.7 565.2 L408.4 565.2 L409.1 565.2 L409.8 565.2 L410.5 565.2 L411.2 565.2 L411.9 565.2 L412.6 565.2 L413.3 565.2 L414 565.2 L414.7 565.2 L415.4 565.2 L416.1 565.2 L416.8 565.2 L417.5 565.2 L418.2 565.2 L418.9 565.2 L419.6 565.2 L420.3 565.2 L421 565.2 L421.7 565.2 L422.4 565.2 L423.1 565.2 L423.8 565.2 L424.5 565.2 L425.2 565.2 L425.9 565.2 L426.6 565.2 L427.3 565.2 L428 565.2 L428.7 565.2 L429.4 565.2 L430.1 565.2 L430.8 565.2 L431.5 565.2 L432.2 565.2 L432.9 565.2 L433.6 565.2 L434.3 565.2 L435 565.2 L435.7 565.2 L436.4 565.2 L437.1 565.2 L437.8 565.2 L438.5 565.2 L439.2 565.2 L439.9 565.2 L440.6 565.2 L441.3 565.2 L442 565.2 L442.7 565.2 L443.4 565.2 L444.1 565.2 L444.8 565.2 L445.5 565.2 L446.2 565.2 L446.9 565.2 L447.6 565.2 L448.3 565.2 L449 565.2 L449.7 565.2 L450.4 565.2 L451.1 565.2 L451.8 565.2 L452.5 565.2 L453.2 565.2 L453.9 565.2 L454.6 565.2 L455.3 565.2 L456 565.2 L456.7 565.2 L457.4 565.2 L458.1 565.2 L458.8 565.2 L459.5 565.2 L460.2 565.2 L460.9 565.2 L461.6 565.2 L462.3 565.2 L463 565.2 L463.7 565.2 L464.4 565.2 L465.1 565.2 L465.8 565.2 L466.5 565.2 L467.2 565.2 L467.9 565.2 L468.6 565.2 L469.3 565.2 L470 565.2 L470.7 565.2 L471.4 565.2 L472.1 565.2 L472.8 565.2 L473.5 565.2 L474.2 565.2 L474.9 565.2 L475.6 565.2 L476.3 565.2 L477 565.2 L477.7 565.2 L478.4 565.2 L479.1 565.2 L479.8 565.2 L480.5 565.2 L481.2 565.2 L481.9 565.2 L482.6 565.2 L483.3 565.2 L484 565.2 L484.7 565.2 L485.4 565.2 L486.1 565.2 L486.8 565.2 L487.5 565.2 L488.2 565.2 L488.9 565.2 L488.9 565.2 L339.8 565.2 Z" fill="#8ed48e" fill-opacity="0.9"/>
<path d="M339.8 565.2 L340.5 565.2 L341.2 565.2 L341.9 565.2 L342.6 565.2 L343.3 565.2 L344 565.2 L344.7 565.2 L345.4 565.2 L346.1 565.2 L346.8 565.2 L347.5 565.2 L348.2 565.2 L348.9 565.2 L349.6 565.2 L350.3 565.2 L351 565.2 L351.7 565.2 L352.4 565.2 L353.1 565.2 L353.8 565.2 L354.5 565.2 L355.2 565.2 L355.9 565.2 L356.6 565.2 L357.3 565.2 L358 565.2 L358.7 565.2 L359.4 565.2 L360.1 565.2 L360.8 565.2 L361.5 565.2 L362.2 565.2 L362.9 565.2 L363.6 565.2 L364.3 565.2 L365 565.2 L365.7 565.2 L366.4 565.2 L367.1 565.2 L367.8 565.2 L368.5 565.2 L369.2 565.19 L369.9 565.14 L370.6 564.99 L371.3 564.46 L372 562.94 L372.7 559.9 L373.4 554.88 L374.1 543.2 L374.8 536.8 L375.5 526.67 L376.2 517.92 L376.9 521.28 L377.6 522.66 L378.3 522.34 L379 532.62 L379.7 531.4 L380.4 538.02 L381.1 545.44 L381.8 551.12 L382.5 552.21 L383.2 555.36 L383.9 560.72 L384.6 561.59 L385.3 562.82 L386 563.79 L386.7 564.45 L387.4 564.73 L388.1 564.94 L388.8 565.07 L389.5 565.13 L390.2 565.17 L390.9 565.18 L391.6 565.19 L392.3 565.2 L393 565.2 L393.7 565.2 L394.4 565.2 L395.1 565.2 L395.8 565.2 L396.5 565.2 L397.2 565.2 L397.9 565.2 L398.6 565.2 L399.3 565.2 L400 565.2 L400.7 565.2 L401.4 565.2 L402.1 565.2 L402.8 565.2 L403.5 565.2 L404.2 565.2 L404.9 565.2 L405.6 565.2 L406.3 565.2 L407 565.2 L407.7 565.2 L408.4 565.2 L409.1 565.2 L409.8 565.2 L410.5 565.2 L411.2 565.2 L411.9 565.2 L412.6 565.2 L413.3 565.2 L414 565.2 L414.7 565.2 L415.4 565.2 L416.1 565.2 L416.8 565.2 L417.5 565.2 L418.2 565.2 L418.9 565.2 L419.6 565.2 L420.3 565.2 L421 565.2 L421.7 565.2 L422.4 565.2 L423.1 565.2 L423.8 565.2 L424.5 565.2 L425.2 565.2 L425.9 565.2 L426.6 565.2 L427.3 565.2 L428 565.2 L428.7 565.2 L429.4 565.2 L430.1 565.2 L430.8 565.2 L431.5 565.2 L432.2 565.2 L432.9 565.2 L433.6 565.2 L434.3 565.2 L435 565.2 L435.7 565.2 L436.4 565.2 L437.1 565.2 L437.8 565.2 L438.5 565.2 L439.2 565.2 L439.9 565.2 L440.6 565.2 L441.3 565.2 L442 565.2 L442.7 565.2 L443.4 565.2 L444.1 565.2 L444.8 565.2 L445.5 565.2 L446.2 565.2 L446.9 565.2 L447.6 565.2 L448.3 565.2 L449 565.2 L449.7 565.2 L450.4 565.2 L451.1 565.2 L451.8 565.2 L452.5 565.2 L453.2 565.2 L453.9 565.2 L454.6 565.2 L455.3 565.2 L456 565.2 L456.7 565.2 L457.4 565.2 L458.1 565.2 L458.8 565.2 L459.5 565.2 L460.2 565.2 L460.9 565.2 L461.6 565.2 L462.3 565.2 L463 565.2 L463.7 565.2 L464.4 565.2 L465.1 565.2 L465.8 565.2 L466.5 565.2 L467.2 565.2 L467.9 565.2 L468.6 565.2 L469.3 565.2 L470 565.2 L470.7 565.2 L471.4 565.2 L472.1 565.2 L472.8 565.2 L473.5 565.2 L474.2 565.2 L474.9 565.2 L475.6 565.2 L476.3 565.2 L477 565.2 L477.7 565.2 L478.4 565.2 L479.1 565.2 L479.8 565.2 L480.5 565.2 L481.2 565.2 L481.9 565.2 L482.6 565.2 L483.3 565.2 L484 565.2 L484.7 565.2 L485.4 565.2 L486.1 565.2 L486.8 565.2 L487.5 565.2 L488.2 565.2 L488.9 565.2" fill="none" stroke="#2fb52f" stroke-width="1.2"/>
<path d="M339.8 594.4 L340.5 594.4 L341.2 594.4 L341.9 594.4 L342.6 594.4 L343.3 594.4 L344 594.4 L344.7 594.4 L345.4 594.4 L346.1 594.4 L346.8 594.4 L347.5 594.4 L348.2 594.4 L348.9 594.4 L349.6 594.4 L350.3 594.4 L351 594.4 L351.7 594.4 L352.4 594.4 L353.1 594.4 L353.8 594.4 L354.5 594.4 L355.2 594.4 L355.9 594.4 L356.6 594.4 L357.3 594.4 L358 594.4 L358.7 594.4 L359.4 594.4 L360.1 594.4 L360.8 594.4 L361.5 594.4 L362.2 594.4 L362.9 594.4 L363.6 594.4 L364.3 594.4 L365 594.4 L365.7 594.4 L366.4 594.4 L367.1 594.4 L367.8 594.39 L368.5 594.37 L369.2 594.28 L369.9 593.96 L370.6 593.3 L371.3 590.53 L372 584.54 L372.7 580.97 L373.4 568.73 L374.1 549.69 L374.8 540.03 L375.5 537.2 L376.2 544.21 L376.9 545.02 L377.6 551.15 L378.3 560.94 L379 573.34 L379.7 584.98 L380.4 586.13 L381.1 591.3 L381.8 592.46 L382.5 593.39 L383.2 594.07 L383.9 594.28 L384.6 594.36 L385.3 594.39 L386 594.4 L386.7 594.4 L387.4 594.4 L388.1 594.4 L388.8 594.4 L389.5 594.4 L390.2 594.4 L390.9 594.4 L391.6 594.4 L392.3 594.4 L393 594.4 L393.7 594.4 L394.4 594.4 L395.1 594.4 L395.8 594.4 L396.5 594.4 L397.2 594.4 L397.9 594.4 L398.6 594.4 L399.3 594.4 L400 594.4 L400.7 594.4 L401.4 594.4 L402.1 594.4 L402.8 594.4 L403.5 594.4 L404.2 594.4 L404.9 594.4 L405.6 594.4 L406.3 594.4 L407 594.4 L407.7 594.4 L408.4 594.4 L409.1 594.4 L409.8 594.4 L410.5 594.4 L411.2 594.4 L411.9 594.4 L412.6 594.4 L413.3 594.4 L414 594.4 L414.7 594.4 L415.4 594.4 L416.1 594.4 L416.8 594.4 L417.5 594.4 L418.2 594.4 L418.9 594.4 L419.6 594.4 L420.3 594.4 L421 594.4 L421.7 594.4 L422.4 594.4 L423.1 594.4 L423.8 594.4 L424.5 594.4 L425.2 594.4 L425.9 594.4 L426.6 594.4 L427.3 594.4 L428 594.4 L428.7 594.4 L429.4 594.4 L430.1 594.4 L430.8 594.4 L431.5 594.4 L432.2 594.4 L432.9 594.4 L433.6 594.4 L434.3 594.4 L435 594.4 L435.7 594.4 L436.4 594.4 L437.1 594.4 L437.8 594.4 L438.5 594.4 L439.2 594.4 L439.9 594.4 L440.6 594.4 L441.3 594.4 L442 594.4 L442.7 594.4 L443.4 594.4 L444.1 594.4 L444.8 594.4 L445.5 594.4 L446.2 594.4 L446.9 594.4 L447.6 594.4 L448.3 594.4 L449 594.4 L449.7 594.4 L450.4 594.4 L451.1 594.4 L451.8 594.4 L452.5 594.4 L453.2 594.4 L453.9 594.4 L454.6 594.4 L455.3 594.4 L456 594.4 L456.7 594.4 L457.4 594.4 L458.1 594.4 L458.8 594.4 L459.5 594.4 L460.2 594.4 L460.9 594.4 L461.6 594.4 L462.3 594.4 L463 594.4 L463.7 594.4 L464.4 594.4 L465.1 594.4 L465.8 594.4 L466.5 594.4 L467.2 594.4 L467.9 594.4 L468.6 594.4 L469.3 594.4 L470 594.4 L470.7 594.4 L471.4 594.4 L472.1 594.4 L472.8 594.4 L473.5 594.4 L474.2 594.4 L474.9 594.4 L475.6 594.4 L476.3 594.4 L477 594.4 L477.7 594.4 L478.4 594.4 L479.1 594.4 L479.8 594.4 L480.5 594.4 L481.2 594.4 L481.9 594.4 L482.6 594.4 L483.3 594.4 L484 594.4 L484.7 594.4 L485.4 594.4 L486.1 594.4 L486.8 594.4 L487.5 594.4 L488.2 594.4 L488.9 594.4 L488.9 594.4 L339.8 594.4 Z" fill="#ec7676" fill-opacity="0.9"/>
<path d="M339.8 594.4 L340.5 594.4 L341.2 594.4 L341.9 594.4 L342.6 594.4 L343.3 594.4 L344 594.4 L344.7 594.4 L345.4 594.4 L346.1 594.4 L346.8 594.4 L347.5 594.4 L348.2 594.4 L348.9 594.4 L349.6 594.4 L350.3 594.4 L351 594.4 L351.7 594.4 L352.4 594.4 L353.1 594.4 L353.8 594.4 L354.5 594.4 L355.2 594.4 L355.9 594.4 L356.6 594.4 L357.3 594.4 L358 594.4 L358.7 594.4 L359.4 594.4 L360.1 594.4 L360.8 594.4 L361.5 594.4 L362.2 594.4 L362.9 594.4 L363.6 594.4 L364.3 594.4 L365 594.4 L365.7 594.4 L366.4 594.4 L367.1 594.4 L367.8 594.39 L368.5 594.37 L369.2 594.28 L369.9 593.96 L370.6 593.3 L371.3 590.53 L372 584.54 L372.7 580.97 L373.4 568.73 L374.1 549.69 L374.8 540.03 L375.5 537.2 L376.2 544.21 L376.9 545.02 L377.6 551.15 L378.3 560.94 L379 573.34 L379.7 584.98 L380.4 586.13 L381.1 591.3 L381.8 592.46 L382.5 593.39 L383.2 594.07 L383.9 594.28 L384.6 594.36 L385.3 594.39 L386 594.4 L386.7 594.4 L387.4 594.4 L388.1 594.4 L388.8 594.4 L389.5 594.4 L390.2 594.4 L390.9 594.4 L391.6 594.4 L392.3 594.4 L393 594.4 L393.7 594.4 L394.4 594.4 L395.1 594.4 L395.8 594.4 L396.5 594.4 L397.2 594.4 L397.9 594.4 L398.6 594.4 L399.3 594.4 L400 594.4 L400.7 594.4 L401.4 594.4 L402.1 594.4 L402.8 594.4 L403.5 594.4 L404.2 594.4 L404.9 594.4 L405.6 594.4 L406.3 594.4 L407 594.4 L407.7 594.4 L408.4 594.4 L409.1 594.4 L409.8 594.4 L410.5 594.4 L411.2 594.4 L411.9 594.4 L412.6 594.4 L413.3 594.4 L414 594.4 L414.7 594.4 L415.4 594.4 L416.1 594.4 L416.8 594.4 L417.5 594.4 L418.2 594.4 L418.9 594.4 L419.6 594.4 L420.3 594.4 L421 594.4 L421.7 594.4 L422.4 594.4 L423.1 594.4 L423.8 594.4 L424.5 594.4 L425.2 594.4 L425.9 594.4 L426.6 594.4 L427.3 594.4 L428 594.4 L428.7 594.4 L429.4 594.4 L430.1 594.4 L430.8 594.4 L431.5 594.4 L432.2 594.4 L432.9 594.4 L433.6 594.4 L434.3 594.4 L435 594.4 L435.7 594.4 L436.4 594.4 L437.1 594.4 L437.8 594.4 L438.5 594.4 L439.2 594.4 L439.9 594.4 L440.6 594.4 L441.3 594.4 L442 594.4 L442.7 594.4 L443.4 594.4 L444.1 594.4 L444.8 594.4 L445.5 594.4 L446.2 594.4 L446.9 594.4 L447.6 594.4 L448.3 594.4 L449 594.4 L449.7 594.4 L450.4 594.4 L451.1 594.4 L451.8 594.4 L452.5 594.4 L453.2 594.4 L453.9 594.4 L454.6 594.4 L455.3 594.4 L456 594.4 L456.7 594.4 L457.4 594.4 L458.1 594.4 L458.8 594.4 L459.5 594.4 L460.2 594.4 L460.9 594.4 L461.6 594.4 L462.3 594.4 L463 594.4 L463.7 594.4 L464.4 594.4 L465.1 594.4 L465.8 594.4 L466.5 594.4 L467.2 594.4 L467.9 594.4 L468.6 594.4 L469.3 594.4 L470 594.4 L470.7 594.4 L471.4 594.4 L472.1 594.4 L472.8 594.4 L473.5 594.4 L474.2 594.4 L474.9 594.4 L475.6 594.4 L476.3 594.4 L477 594.4 L477.7 594.4 L478.4 594.4 L479.1 594.4 L479.8 594.4 L480.5 594.4 L481.2 594.4 L481.9 594.4 L482.6 594.4 L483.3 594.4 L484 594.4 L484.7 594.4 L485.4 594.4 L486.1 594.4 L486.8 594.4 L487.5 594.4 L488.2 594.4 L488.9 594.4" fill="none" stroke="#e42828" stroke-width="1.5"/>
<rect x="339.2" y="444.3" width="150.3" height="150.7" fill="none" stroke="#000" stroke-width="1.2"/>
<text x="482.9" y="458.2" font-size="8.8" font-weight="bold" text-anchor="end" fill="#000" stroke="#000" stroke-width="0.18">MFI</text>
<text x="341.4" y="500.6" font-size="9.1" font-weight="bold" text-anchor="start" fill="#000" stroke="#000" stroke-width="0.18">CTRL</text>
<text x="482.9" y="500.6" font-size="9.1" font-weight="bold" text-anchor="end" fill="#000" stroke="#000" stroke-width="0.18">308</text>
<text x="341.4" y="530.2" font-size="9.1" font-weight="bold" text-anchor="start" fill="#000" stroke="#000" stroke-width="0.18"><tspan font-style="italic">α</tspan>-PD-1</text>
<text x="482.9" y="530.2" font-size="9.1" font-weight="bold" text-anchor="end" fill="#000" stroke="#000" stroke-width="0.18">196</text>
<text x="341.4" y="560" font-size="9.1" font-weight="bold" text-anchor="start" fill="#000" stroke="#000" stroke-width="0.18">CAR-T</text>
<text x="482.9" y="560" font-size="9.1" font-weight="bold" text-anchor="end" fill="#000" stroke="#000" stroke-width="0.18">151</text>
<text x="341.4" y="589.2" font-size="9.1" font-weight="bold" text-anchor="start" fill="#000" stroke="#000" stroke-width="0.18">CAR-T + <tspan font-style="italic">α</tspan>-PD-1</text>
<text x="482.9" y="589.2" font-size="9.1" font-weight="bold" text-anchor="end" fill="#000" stroke="#000" stroke-width="0.18">129</text>
<text x="351.5" y="606" font-size="5" font-weight="normal" text-anchor="middle" fill="#000" stroke="#000" stroke-width="0.1">-10<tspan font-size="3.2" dy="-1.8">3</tspan></text>
<text x="373.6" y="606" font-size="5" font-weight="normal" text-anchor="middle" fill="#000" stroke="#000" stroke-width="0.1">0</text>
<text x="398.8" y="606" font-size="5" font-weight="normal" text-anchor="middle" fill="#000" stroke="#000" stroke-width="0.1">10<tspan font-size="3.2" dy="-1.8">3</tspan></text>
<text x="436.6" y="606" font-size="5" font-weight="normal" text-anchor="middle" fill="#000" stroke="#000" stroke-width="0.1">10<tspan font-size="3.2" dy="-1.8">4</tspan></text>
<text x="472.4" y="606" font-size="5" font-weight="normal" text-anchor="middle" fill="#000" stroke="#000" stroke-width="0.1">10<tspan font-size="3.2" dy="-1.8">5</tspan></text>
<line x1="349.2" y1="595" x2="349.2" y2="597.8" stroke="#000" stroke-width="1"/>
<line x1="375.2" y1="595" x2="375.2" y2="597.8" stroke="#000" stroke-width="1"/>
<line x1="398.5" y1="595" x2="398.5" y2="597.8" stroke="#000" stroke-width="1"/>
<line x1="436.4" y1="595" x2="436.4" y2="597.8" stroke="#000" stroke-width="1"/>
<line x1="472.2" y1="595" x2="472.2" y2="597.8" stroke="#000" stroke-width="1"/>
<line x1="345.2" y1="595" x2="345.2" y2="596.6" stroke="#000" stroke-width="0.7"/>
<line x1="351.5" y1="595" x2="351.5" y2="596.6" stroke="#000" stroke-width="0.7"/>
<line x1="357.8" y1="595" x2="357.8" y2="596.6" stroke="#000" stroke-width="0.7"/>
<line x1="364.1" y1="595" x2="364.1" y2="596.6" stroke="#000" stroke-width="0.7"/>
<line x1="370.4" y1="595" x2="370.4" y2="596.6" stroke="#000" stroke-width="0.7"/>
<line x1="376.7" y1="595" x2="376.7" y2="596.6" stroke="#000" stroke-width="0.7"/>
<line x1="383" y1="595" x2="383" y2="596.6" stroke="#000" stroke-width="0.7"/>
<line x1="389.3" y1="595" x2="389.3" y2="596.6" stroke="#000" stroke-width="0.7"/>
<line x1="395.6" y1="595" x2="395.6" y2="596.6" stroke="#000" stroke-width="0.7"/>
<line x1="401.9" y1="595" x2="401.9" y2="596.6" stroke="#000" stroke-width="0.7"/>
<line x1="408.2" y1="595" x2="408.2" y2="596.6" stroke="#000" stroke-width="0.7"/>
<line x1="414.5" y1="595" x2="414.5" y2="596.6" stroke="#000" stroke-width="0.7"/>
<line x1="420.8" y1="595" x2="420.8" y2="596.6" stroke="#000" stroke-width="0.7"/>
<line x1="427.1" y1="595" x2="427.1" y2="596.6" stroke="#000" stroke-width="0.7"/>
<line x1="433.4" y1="595" x2="433.4" y2="596.6" stroke="#000" stroke-width="0.7"/>
<line x1="439.7" y1="595" x2="439.7" y2="596.6" stroke="#000" stroke-width="0.7"/>
<line x1="446" y1="595" x2="446" y2="596.6" stroke="#000" stroke-width="0.7"/>
<line x1="452.3" y1="595" x2="452.3" y2="596.6" stroke="#000" stroke-width="0.7"/>
<line x1="458.6" y1="595" x2="458.6" y2="596.6" stroke="#000" stroke-width="0.7"/>
<line x1="464.9" y1="595" x2="464.9" y2="596.6" stroke="#000" stroke-width="0.7"/>
<line x1="471.2" y1="595" x2="471.2" y2="596.6" stroke="#000" stroke-width="0.7"/>
<line x1="477.5" y1="595" x2="477.5" y2="596.6" stroke="#000" stroke-width="0.7"/>
<line x1="367.2" y1="595" x2="367.2" y2="597.2" stroke="#000" stroke-width="0.6"/>
<line x1="368.4" y1="595" x2="368.4" y2="597.2" stroke="#000" stroke-width="0.6"/>
<line x1="369.6" y1="595" x2="369.6" y2="597.2" stroke="#000" stroke-width="0.6"/>
<line x1="370.8" y1="595" x2="370.8" y2="597.2" stroke="#000" stroke-width="0.6"/>
<line x1="372" y1="595" x2="372" y2="597.2" stroke="#000" stroke-width="0.6"/>
<line x1="373.2" y1="595" x2="373.2" y2="597.2" stroke="#000" stroke-width="0.6"/>
<line x1="374.4" y1="595" x2="374.4" y2="597.2" stroke="#000" stroke-width="0.6"/>
<line x1="375.6" y1="595" x2="375.6" y2="597.2" stroke="#000" stroke-width="0.6"/>
<line x1="10.6" y1="614.2" x2="56" y2="614.2" stroke="#000" stroke-width="0.9"/>
<path d="M54.5 612.6 L58.4 614.2 L54.5 615.8Z" fill="#000"/>
<line x1="10.6" y1="614.6" x2="10.6" y2="566.5" stroke="#000" stroke-width="0.9"/>
<path d="M9 567.5 L10.6 563.6 L12.2 567.5Z" fill="#000"/>
<text x="13.4" y="544.8" font-size="8.6" font-weight="bold" text-anchor="middle" fill="#000" stroke="#000" stroke-width="0.17" transform="rotate(-90 13.4 544.8)">Event</text>
<text x="83.4" y="617.6" font-size="9.2" font-weight="bold" text-anchor="middle" fill="#000" stroke="#000" stroke-width="0.18">PD-1</text>
<line x1="180.5" y1="614.6" x2="224.5" y2="614.6" stroke="#000" stroke-width="0.9"/>
<path d="M223 613 L226.9 614.6 L223 616.2Z" fill="#000"/>
<text x="251.7" y="617.6" font-size="9.2" font-weight="bold" text-anchor="middle" fill="#000" stroke="#000" stroke-width="0.18">LAG-3</text>
<line x1="338.4" y1="614.7" x2="383.8" y2="614.7" stroke="#000" stroke-width="0.9"/>
<path d="M382.3 613.1 L386.2 614.7 L382.3 616.3Z" fill="#000"/>
<text x="409.2" y="618.2" font-size="9.2" font-weight="bold" text-anchor="middle" fill="#000" stroke="#000" stroke-width="0.18">Tim-3</text>
<line x1="535.2" y1="445.28" x2="535.2" y2="593.8" stroke="#000" stroke-width="1.5"/>
<line x1="530.7" y1="593.1" x2="535.2" y2="593.1" stroke="#000" stroke-width="1.3"/>
<text x="530" y="596.3" font-size="9.2" font-weight="bold" text-anchor="end" fill="#000" stroke="#000" stroke-width="0.18">0</text>
<line x1="530.7" y1="556.32" x2="535.2" y2="556.32" stroke="#000" stroke-width="1.3"/>
<text x="530" y="559.52" font-size="9.2" font-weight="bold" text-anchor="end" fill="#000" stroke="#000" stroke-width="0.18">10</text>
<line x1="530.7" y1="519.54" x2="535.2" y2="519.54" stroke="#000" stroke-width="1.3"/>
<text x="530" y="522.74" font-size="9.2" font-weight="bold" text-anchor="end" fill="#000" stroke="#000" stroke-width="0.18">20</text>
<line x1="530.7" y1="482.76" x2="535.2" y2="482.76" stroke="#000" stroke-width="1.3"/>
<text x="530" y="485.96" font-size="9.2" font-weight="bold" text-anchor="end" fill="#000" stroke="#000" stroke-width="0.18">30</text>
<line x1="530.7" y1="445.98" x2="535.2" y2="445.98" stroke="#000" stroke-width="1.3"/>
<text x="530" y="449.18" font-size="9.2" font-weight="bold" text-anchor="end" fill="#000" stroke="#000" stroke-width="0.18">40</text>
<line x1="557.4" y1="593.1" x2="557.4" y2="596.9" stroke="#000" stroke-width="1.3"/>
<line x1="541.4" y1="515.49" x2="541.4" y2="500.05" stroke="#3030c0" stroke-width="1"/>
<line x1="540" y1="500.05" x2="542.8" y2="500.05" stroke="#3030c0" stroke-width="1"/>
<rect x="538" y="507.77" width="6.8" height="85.33" fill="none" stroke="#3030c0" stroke-width="1.1"/>
<circle cx="541.65" cy="513.18" r="1" fill="#3030c0"/>
<circle cx="540.96" cy="507" r="1" fill="#3030c0"/>
<circle cx="541.15" cy="503.14" r="1" fill="#3030c0"/>
<line x1="552.1" y1="551.91" x2="552.1" y2="540.87" stroke="#a8b030" stroke-width="1"/>
<line x1="550.7" y1="540.87" x2="553.5" y2="540.87" stroke="#a8b030" stroke-width="1"/>
<rect x="548.7" y="546.39" width="6.8" height="46.71" fill="none" stroke="#a8b030" stroke-width="1.1"/>
<circle cx="552.6" cy="550.25" r="1" fill="#a8b030"/>
<circle cx="551.68" cy="545.84" r="1" fill="#a8b030"/>
<circle cx="552.23" cy="543.08" r="1" fill="#a8b030"/>
<line x1="562.8" y1="561.84" x2="562.8" y2="555.22" stroke="#2e8a2e" stroke-width="1"/>
<line x1="561.4" y1="555.22" x2="564.2" y2="555.22" stroke="#2e8a2e" stroke-width="1"/>
<rect x="559.4" y="558.53" width="6.8" height="34.57" fill="none" stroke="#2e8a2e" stroke-width="1.1"/>
<circle cx="562.7" cy="560.84" r="1" fill="#2e8a2e"/>
<circle cx="562.39" cy="558.2" r="1" fill="#2e8a2e"/>
<circle cx="562.95" cy="556.54" r="1" fill="#2e8a2e"/>
<line x1="573.5" y1="578.02" x2="573.5" y2="569.19" stroke="#d03030" stroke-width="1"/>
<line x1="572.1" y1="569.19" x2="574.9" y2="569.19" stroke="#d03030" stroke-width="1"/>
<rect x="570.1" y="573.61" width="6.8" height="19.49" fill="none" stroke="#d03030" stroke-width="1.1"/>
<circle cx="572.95" cy="576.7" r="1" fill="#d03030"/>
<circle cx="573.03" cy="573.17" r="1" fill="#d03030"/>
<circle cx="573.36" cy="570.96" r="1" fill="#d03030"/>
<line x1="607.3" y1="593.1" x2="607.3" y2="596.9" stroke="#000" stroke-width="1.3"/>
<line x1="591.3" y1="516.97" x2="591.3" y2="491.96" stroke="#3030c0" stroke-width="1"/>
<line x1="589.9" y1="491.96" x2="592.7" y2="491.96" stroke="#3030c0" stroke-width="1"/>
<rect x="587.9" y="504.46" width="6.8" height="88.64" fill="none" stroke="#3030c0" stroke-width="1.1"/>
<circle cx="590.79" cy="513.21" r="1" fill="#3030c0"/>
<circle cx="590.77" cy="503.21" r="1" fill="#3030c0"/>
<circle cx="591.39" cy="496.96" r="1" fill="#3030c0"/>
<line x1="602" y1="524.32" x2="602" y2="522.85" stroke="#a8b030" stroke-width="1"/>
<line x1="600.6" y1="522.85" x2="603.4" y2="522.85" stroke="#a8b030" stroke-width="1"/>
<rect x="598.6" y="523.59" width="6.8" height="69.51" fill="none" stroke="#a8b030" stroke-width="1.1"/>
<circle cx="602.29" cy="524.1" r="1" fill="#a8b030"/>
<circle cx="602.45" cy="523.51" r="1" fill="#a8b030"/>
<circle cx="601.56" cy="523.14" r="1" fill="#a8b030"/>
<line x1="612.7" y1="547.86" x2="612.7" y2="533.15" stroke="#2e8a2e" stroke-width="1"/>
<line x1="611.3" y1="533.15" x2="614.1" y2="533.15" stroke="#2e8a2e" stroke-width="1"/>
<rect x="609.3" y="540.5" width="6.8" height="52.6" fill="none" stroke="#2e8a2e" stroke-width="1.1"/>
<circle cx="612.62" cy="545.65" r="1" fill="#2e8a2e"/>
<circle cx="612.48" cy="539.77" r="1" fill="#2e8a2e"/>
<circle cx="612.82" cy="536.09" r="1" fill="#2e8a2e"/>
<line x1="623.4" y1="573.61" x2="623.4" y2="558.16" stroke="#d03030" stroke-width="1"/>
<line x1="622" y1="558.16" x2="624.8" y2="558.16" stroke="#d03030" stroke-width="1"/>
<rect x="620" y="565.88" width="6.8" height="27.22" fill="none" stroke="#d03030" stroke-width="1.1"/>
<circle cx="623.39" cy="571.29" r="1" fill="#d03030"/>
<circle cx="623.93" cy="565.11" r="1" fill="#d03030"/>
<circle cx="623.25" cy="561.25" r="1" fill="#d03030"/>
<line x1="657.3" y1="593.1" x2="657.3" y2="596.9" stroke="#000" stroke-width="1.3"/>
<line x1="641.3" y1="520.28" x2="641.3" y2="500.41" stroke="#3030c0" stroke-width="1"/>
<line x1="639.9" y1="500.41" x2="642.7" y2="500.41" stroke="#3030c0" stroke-width="1"/>
<rect x="637.9" y="510.35" width="6.8" height="82.75" fill="none" stroke="#3030c0" stroke-width="1.1"/>
<circle cx="640.77" cy="517.3" r="1" fill="#3030c0"/>
<circle cx="641.54" cy="509.35" r="1" fill="#3030c0"/>
<circle cx="640.88" cy="504.39" r="1" fill="#3030c0"/>
<line x1="652" y1="554.48" x2="652" y2="542.71" stroke="#a8b030" stroke-width="1"/>
<line x1="650.6" y1="542.71" x2="653.4" y2="542.71" stroke="#a8b030" stroke-width="1"/>
<rect x="648.6" y="548.6" width="6.8" height="44.5" fill="none" stroke="#a8b030" stroke-width="1.1"/>
<circle cx="652.16" cy="552.72" r="1" fill="#a8b030"/>
<circle cx="652.01" cy="548.01" r="1" fill="#a8b030"/>
<circle cx="652.49" cy="545.07" r="1" fill="#a8b030"/>
<line x1="662.7" y1="577.28" x2="662.7" y2="570.66" stroke="#2e8a2e" stroke-width="1"/>
<line x1="661.3" y1="570.66" x2="664.1" y2="570.66" stroke="#2e8a2e" stroke-width="1"/>
<rect x="659.3" y="573.97" width="6.8" height="19.13" fill="none" stroke="#2e8a2e" stroke-width="1.1"/>
<circle cx="662.77" cy="576.29" r="1" fill="#2e8a2e"/>
<circle cx="662.85" cy="573.64" r="1" fill="#2e8a2e"/>
<circle cx="662.42" cy="571.99" r="1" fill="#2e8a2e"/>
<line x1="673.4" y1="584.64" x2="673.4" y2="581.7" stroke="#d03030" stroke-width="1"/>
<line x1="672" y1="581.7" x2="674.8" y2="581.7" stroke="#d03030" stroke-width="1"/>
<rect x="670" y="583.17" width="6.8" height="9.93" fill="none" stroke="#d03030" stroke-width="1.1"/>
<circle cx="673.46" cy="584.2" r="1" fill="#d03030"/>
<circle cx="673.11" cy="583.02" r="1" fill="#d03030"/>
<circle cx="673.7" cy="582.29" r="1" fill="#d03030"/>
<line x1="534.5" y1="593.1" x2="684" y2="593.1" stroke="#000" stroke-width="1.7"/>
<text x="558" y="612.8" font-size="9.2" font-weight="bold" text-anchor="middle" fill="#000" stroke="#000" stroke-width="0.18">PD-1</text>
<text x="609.8" y="612.8" font-size="9.2" font-weight="bold" text-anchor="middle" fill="#000" stroke="#000" stroke-width="0.18">LAG-3</text>
<text x="660.6" y="612.8" font-size="9.2" font-weight="bold" text-anchor="middle" fill="#000" stroke="#000" stroke-width="0.18">TIM-3</text>
<text x="507" y="520" font-size="9.2" font-weight="bold" text-anchor="middle" fill="#000" stroke="#000" stroke-width="0.18" transform="rotate(-90 507 520)">Postive cells(%)</text>
<rect x="540.6" y="419.7" width="14.4" height="5.6" fill="#fff" stroke="#3030c0" stroke-width="1.1"/>
<text x="564.3" y="426" font-size="10.1" font-weight="bold" text-anchor="start" fill="#000" stroke="#000" stroke-width="0.2">CTRL</text>
<rect x="540.6" y="430.8" width="14.4" height="5.6" fill="#fff" stroke="#a8b030" stroke-width="1.1"/>
<text x="564.3" y="437.1" font-size="10.1" font-weight="bold" text-anchor="start" fill="#000" stroke="#000" stroke-width="0.2">α-PD-1</text>
<rect x="540.6" y="442" width="14.4" height="5.6" fill="#fff" stroke="#2e8a2e" stroke-width="1.1"/>
<text x="564.3" y="448.3" font-size="10.1" font-weight="bold" text-anchor="start" fill="#000" stroke="#000" stroke-width="0.2">CAR-T</text>
<rect x="540.6" y="453" width="14.4" height="5.6" fill="#fff" stroke="#d03030" stroke-width="1.1"/>
<text x="564.3" y="459.3" font-size="10.1" font-weight="bold" text-anchor="start" fill="#000" stroke="#000" stroke-width="0.2">CAR-T + α-PD-1</text>
<line x1="541.3" y1="483.5" x2="574.9" y2="483.5" stroke="#000" stroke-width="1.3"/>
<text x="558.1" y="483.49" font-size="9.2" font-weight="bold" text-anchor="middle" fill="#000" stroke="#000" stroke-width="0.18">***</text>
<line x1="590.1" y1="483.5" x2="623.4" y2="483.5" stroke="#000" stroke-width="1.3"/>
<text x="606.75" y="483.49" font-size="9.2" font-weight="bold" text-anchor="middle" fill="#000" stroke="#000" stroke-width="0.18">***</text>
<line x1="640" y1="483.5" x2="673.4" y2="483.5" stroke="#000" stroke-width="1.3"/>
<text x="656.7" y="483.49" font-size="9.2" font-weight="bold" text-anchor="middle" fill="#000" stroke="#000" stroke-width="0.18">***</text>
<text x="0.6" y="652.8" font-size="20.5" font-weight="bold" text-anchor="start" fill="#000">G</text>
<rect x="22.1" y="661.2" width="101.8" height="101.3" fill="#4886c0"/>
<rect x="22.1" y="661.2" width="101.8" height="101.3" filter="url(#nf3)"/>
<rect x="22.1" y="661.2" width="101.8" height="101.3" filter="url(#nf4)"/>
<g clip-path="url(#c00)">
<path d="M45.1 699.5C45.53 697.8 46.5 695.93 48.2 694.4C49.9 692.87 52.58 691.57 55.3 690.3C58.02 689.03 61.6 687.82 64.5 686.8C67.4 685.78 70.13 684.55 72.7 684.2C75.27 683.85 78.2 684.02 79.9 684.7C81.6 685.38 81.38 686.52 82.9 688.3C84.42 690.08 87.3 692.85 89 695.4C90.7 697.95 91.73 701.03 93.1 703.6C94.47 706.17 96.08 708.42 97.2 710.8C98.32 713.18 99.45 715.35 99.8 717.9C100.15 720.45 99.98 723.88 99.3 726.1C98.62 728.32 97.23 730.18 95.7 731.2C94.17 732.22 92.23 731.52 90.1 732.2C87.97 732.88 85.63 734.27 82.9 735.3C80.17 736.33 76.42 737.55 73.7 738.4C70.98 739.25 68.98 740.23 66.6 740.4C64.22 740.57 61.28 740.25 59.4 739.4C57.52 738.55 56.67 737.52 55.3 735.3C53.93 733.08 52.13 729.33 51.2 726.1C50.27 722.87 50.28 718.8 49.7 715.9C49.12 713 48.38 710.58 47.7 708.7C47.02 706.82 46.03 706.13 45.6 704.6C45.17 703.07 44.67 701.2 45.1 699.5Z" fill="#1c3c60" opacity="0.35" transform="translate(1.2 1.8)" filter="url(#soft)"/>
<path d="M45.1 699.5C45.53 697.8 46.5 695.93 48.2 694.4C49.9 692.87 52.58 691.57 55.3 690.3C58.02 689.03 61.6 687.82 64.5 686.8C67.4 685.78 70.13 684.55 72.7 684.2C75.27 683.85 78.2 684.02 79.9 684.7C81.6 685.38 81.38 686.52 82.9 688.3C84.42 690.08 87.3 692.85 89 695.4C90.7 697.95 91.73 701.03 93.1 703.6C94.47 706.17 96.08 708.42 97.2 710.8C98.32 713.18 99.45 715.35 99.8 717.9C100.15 720.45 99.98 723.88 99.3 726.1C98.62 728.32 97.23 730.18 95.7 731.2C94.17 732.22 92.23 731.52 90.1 732.2C87.97 732.88 85.63 734.27 82.9 735.3C80.17 736.33 76.42 737.55 73.7 738.4C70.98 739.25 68.98 740.23 66.6 740.4C64.22 740.57 61.28 740.25 59.4 739.4C57.52 738.55 56.67 737.52 55.3 735.3C53.93 733.08 52.13 729.33 51.2 726.1C50.27 722.87 50.28 718.8 49.7 715.9C49.12 713 48.38 710.58 47.7 708.7C47.02 706.82 46.03 706.13 45.6 704.6C45.17 703.07 44.67 701.2 45.1 699.5Z" fill="url(#tg0)"/>
<g clip-path="url(#tc0)">
<rect x="22.1" y="661.2" width="101.8" height="101.3" filter="url(#nf1)"/>
<rect x="22.1" y="661.2" width="101.8" height="101.3" filter="url(#nf2)"/>
<path d="M45.1 699.5C45.53 697.8 46.5 695.93 48.2 694.4C49.9 692.87 52.58 691.57 55.3 690.3C58.02 689.03 61.6 687.82 64.5 686.8C67.4 685.78 70.13 684.55 72.7 684.2C75.27 683.85 78.2 684.02 79.9 684.7C81.6 685.38 81.38 686.52 82.9 688.3C84.42 690.08 87.3 692.85 89 695.4C90.7 697.95 91.73 701.03 93.1 703.6C94.47 706.17 96.08 708.42 97.2 710.8C98.32 713.18 99.45 715.35 99.8 717.9C100.15 720.45 99.98 723.88 99.3 726.1C98.62 728.32 97.23 730.18 95.7 731.2C94.17 732.22 92.23 731.52 90.1 732.2C87.97 732.88 85.63 734.27 82.9 735.3C80.17 736.33 76.42 737.55 73.7 738.4C70.98 739.25 68.98 740.23 66.6 740.4C64.22 740.57 61.28 740.25 59.4 739.4C57.52 738.55 56.67 737.52 55.3 735.3C53.93 733.08 52.13 729.33 51.2 726.1C50.27 722.87 50.28 718.8 49.7 715.9C49.12 713 48.38 710.58 47.7 708.7C47.02 706.82 46.03 706.13 45.6 704.6C45.17 703.07 44.67 701.2 45.1 699.5Z" fill="none" stroke="#c07a70" stroke-width="2.4" opacity="0.3" filter="url(#soft)"/>
<ellipse cx="60" cy="701" rx="15" ry="10" fill="#d08070" opacity="0.45" filter="url(#soft3)"/>
<ellipse cx="74" cy="727" rx="6" ry="5" fill="#fbeee6" opacity="0.7" filter="url(#soft2)"/>
<ellipse cx="88" cy="720" rx="5.5" ry="6" fill="#fbeee6" opacity="0.7" filter="url(#soft2)"/>
<ellipse cx="63" cy="733" rx="5" ry="4" fill="#fbeee6" opacity="0.7" filter="url(#soft2)"/>
<ellipse cx="84" cy="704" rx="4" ry="4" fill="#fbeee6" opacity="0.7" filter="url(#soft2)"/>
<ellipse cx="94" cy="726" rx="3.5" ry="4" fill="#fbeee6" opacity="0.7" filter="url(#soft2)"/>
</g>
</g>
<text x="107.8" y="752" font-size="7" font-weight="bold" text-anchor="middle" fill="#000" stroke="#000" stroke-width="0.14">5 mm</text>
<line x1="99.4" y1="755.8" x2="116.1" y2="755.8" stroke="#000" stroke-width="1.5"/>
<rect x="22.1" y="765" width="101.8" height="100.7" fill="#4a88c2"/>
<rect x="22.1" y="765" width="101.8" height="100.7" filter="url(#nf3)"/>
<rect x="22.1" y="765" width="101.8" height="100.7" filter="url(#nf4)"/>
<g clip-path="url(#c10)">
<path d="M44 812C44.78 809.63 47.15 806.9 49.3 805.3C51.45 803.7 54.37 803.35 56.9 802.4C59.43 801.45 61.33 800.28 64.5 799.6C67.67 798.92 72.73 797.98 75.9 798.3C79.07 798.62 80.65 799.87 83.5 801.5C86.35 803.13 90.15 805.73 93 808.1C95.85 810.47 98.87 813.63 100.6 815.7C102.33 817.77 103.4 818.75 103.4 820.5C103.4 822.25 102.33 824.62 100.6 826.2C98.87 827.78 96.17 829.05 93 830C89.83 830.95 85.4 831.43 81.6 831.9C77.8 832.37 74 832.97 70.2 832.8C66.4 832.63 62.28 832 58.8 830.9C55.32 829.8 51.67 828.1 49.3 826.2C46.93 824.3 45.48 821.87 44.6 819.5C43.72 817.13 43.22 814.37 44 812Z" fill="#1c3c60" opacity="0.35" transform="translate(1.2 1.8)" filter="url(#soft)"/>
<path d="M44 812C44.78 809.63 47.15 806.9 49.3 805.3C51.45 803.7 54.37 803.35 56.9 802.4C59.43 801.45 61.33 800.28 64.5 799.6C67.67 798.92 72.73 797.98 75.9 798.3C79.07 798.62 80.65 799.87 83.5 801.5C86.35 803.13 90.15 805.73 93 808.1C95.85 810.47 98.87 813.63 100.6 815.7C102.33 817.77 103.4 818.75 103.4 820.5C103.4 822.25 102.33 824.62 100.6 826.2C98.87 827.78 96.17 829.05 93 830C89.83 830.95 85.4 831.43 81.6 831.9C77.8 832.37 74 832.97 70.2 832.8C66.4 832.63 62.28 832 58.8 830.9C55.32 829.8 51.67 828.1 49.3 826.2C46.93 824.3 45.48 821.87 44.6 819.5C43.72 817.13 43.22 814.37 44 812Z" fill="url(#tg1)"/>
<g clip-path="url(#tc1)">
<rect x="22.1" y="765" width="101.8" height="100.7" filter="url(#nf1)"/>
<rect x="22.1" y="765" width="101.8" height="100.7" filter="url(#nf2)"/>
<path d="M44 812C44.78 809.63 47.15 806.9 49.3 805.3C51.45 803.7 54.37 803.35 56.9 802.4C59.43 801.45 61.33 800.28 64.5 799.6C67.67 798.92 72.73 797.98 75.9 798.3C79.07 798.62 80.65 799.87 83.5 801.5C86.35 803.13 90.15 805.73 93 808.1C95.85 810.47 98.87 813.63 100.6 815.7C102.33 817.77 103.4 818.75 103.4 820.5C103.4 822.25 102.33 824.62 100.6 826.2C98.87 827.78 96.17 829.05 93 830C89.83 830.95 85.4 831.43 81.6 831.9C77.8 832.37 74 832.97 70.2 832.8C66.4 832.63 62.28 832 58.8 830.9C55.32 829.8 51.67 828.1 49.3 826.2C46.93 824.3 45.48 821.87 44.6 819.5C43.72 817.13 43.22 814.37 44 812Z" fill="none" stroke="#c07a70" stroke-width="2.4" opacity="0.3" filter="url(#soft)"/>
</g>
</g>
<text x="107.8" y="855.8" font-size="7" font-weight="bold" text-anchor="middle" fill="#000" stroke="#000" stroke-width="0.14">5 mm</text>
<line x1="99.4" y1="859.6" x2="116.1" y2="859.6" stroke="#000" stroke-width="1.5"/>
<rect x="22.1" y="868.9" width="101.8" height="100.8" fill="#4b8bc5"/>
<rect x="22.1" y="868.9" width="101.8" height="100.8" filter="url(#nf3)"/>
<rect x="22.1" y="868.9" width="101.8" height="100.8" filter="url(#nf4)"/>
<g clip-path="url(#c20)">
<path d="M61.3 906C63 903.95 64.67 903.58 67.4 902.9C70.13 902.22 74.28 901.73 77.7 901.9C81.12 902.07 85.35 902.72 87.9 903.9C90.45 905.08 91.98 906.43 93 909C94.02 911.57 94.52 915.55 94 919.3C93.48 923.05 91.6 927.93 89.9 931.5C88.2 935.07 85.83 938.72 83.8 940.7C81.77 942.68 79.92 943.4 77.7 943.4C75.48 943.4 72.72 942.33 70.5 940.7C68.28 939.07 66.27 936.15 64.4 933.6C62.53 931.05 60.5 928.47 59.3 925.4C58.1 922.33 56.87 918.43 57.2 915.2C57.53 911.97 59.6 908.05 61.3 906Z" fill="#1c3c60" opacity="0.35" transform="translate(1.2 1.8)" filter="url(#soft)"/>
<path d="M61.3 906C63 903.95 64.67 903.58 67.4 902.9C70.13 902.22 74.28 901.73 77.7 901.9C81.12 902.07 85.35 902.72 87.9 903.9C90.45 905.08 91.98 906.43 93 909C94.02 911.57 94.52 915.55 94 919.3C93.48 923.05 91.6 927.93 89.9 931.5C88.2 935.07 85.83 938.72 83.8 940.7C81.77 942.68 79.92 943.4 77.7 943.4C75.48 943.4 72.72 942.33 70.5 940.7C68.28 939.07 66.27 936.15 64.4 933.6C62.53 931.05 60.5 928.47 59.3 925.4C58.1 922.33 56.87 918.43 57.2 915.2C57.53 911.97 59.6 908.05 61.3 906Z" fill="url(#tg2)"/>
<g clip-path="url(#tc2)">
<rect x="22.1" y="868.9" width="101.8" height="100.8" filter="url(#nf1)"/>
<rect x="22.1" y="868.9" width="101.8" height="100.8" filter="url(#nf2)"/>
<path d="M61.3 906C63 903.95 64.67 903.58 67.4 902.9C70.13 902.22 74.28 901.73 77.7 901.9C81.12 902.07 85.35 902.72 87.9 903.9C90.45 905.08 91.98 906.43 93 909C94.02 911.57 94.52 915.55 94 919.3C93.48 923.05 91.6 927.93 89.9 931.5C88.2 935.07 85.83 938.72 83.8 940.7C81.77 942.68 79.92 943.4 77.7 943.4C75.48 943.4 72.72 942.33 70.5 940.7C68.28 939.07 66.27 936.15 64.4 933.6C62.53 931.05 60.5 928.47 59.3 925.4C58.1 922.33 56.87 918.43 57.2 915.2C57.53 911.97 59.6 908.05 61.3 906Z" fill="none" stroke="#c07a70" stroke-width="2.4" opacity="0.3" filter="url(#soft)"/>
</g>
</g>
<text x="107.8" y="959.7" font-size="7" font-weight="bold" text-anchor="middle" fill="#000" stroke="#000" stroke-width="0.14">5 mm</text>
<line x1="99.4" y1="963.5" x2="116.1" y2="963.5" stroke="#000" stroke-width="1.5"/>
<rect x="22.1" y="972" width="101.8" height="101.6" fill="#5090ca"/>
<rect x="22.1" y="972" width="101.8" height="101.6" filter="url(#nf3)"/>
<rect x="22.1" y="972" width="101.8" height="101.6" filter="url(#nf4)"/>
<g clip-path="url(#c30)">
<path d="M65.4 1021.5C66.15 1019.47 67.8 1018.43 69.5 1017.4C71.2 1016.37 73.57 1015.48 75.6 1015.3C77.63 1015.12 79.82 1015.95 81.7 1016.3C83.58 1016.65 85.8 1016.37 86.9 1017.4C88 1018.43 88.48 1020.8 88.3 1022.5C88.12 1024.2 86.9 1025.9 85.8 1027.6C84.7 1029.3 83.57 1031.17 81.7 1032.7C79.83 1034.23 76.8 1036.28 74.6 1036.8C72.4 1037.32 70.1 1037 68.5 1035.8C66.9 1034.6 65.52 1031.98 65 1029.6C64.48 1027.22 64.65 1023.53 65.4 1021.5Z" fill="#1c3c60" opacity="0.35" transform="translate(1.2 1.8)" filter="url(#soft)"/>
<path d="M65.4 1021.5C66.15 1019.47 67.8 1018.43 69.5 1017.4C71.2 1016.37 73.57 1015.48 75.6 1015.3C77.63 1015.12 79.82 1015.95 81.7 1016.3C83.58 1016.65 85.8 1016.37 86.9 1017.4C88 1018.43 88.48 1020.8 88.3 1022.5C88.12 1024.2 86.9 1025.9 85.8 1027.6C84.7 1029.3 83.57 1031.17 81.7 1032.7C79.83 1034.23 76.8 1036.28 74.6 1036.8C72.4 1037.32 70.1 1037 68.5 1035.8C66.9 1034.6 65.52 1031.98 65 1029.6C64.48 1027.22 64.65 1023.53 65.4 1021.5Z" fill="url(#tg3)"/>
<g clip-path="url(#tc3)">
<rect x="22.1" y="972" width="101.8" height="101.6" filter="url(#nf1)"/>
<rect x="22.1" y="972" width="101.8" height="101.6" filter="url(#nf2)"/>
<path d="M65.4 1021.5C66.15 1019.47 67.8 1018.43 69.5 1017.4C71.2 1016.37 73.57 1015.48 75.6 1015.3C77.63 1015.12 79.82 1015.95 81.7 1016.3C83.58 1016.65 85.8 1016.37 86.9 1017.4C88 1018.43 88.48 1020.8 88.3 1022.5C88.12 1024.2 86.9 1025.9 85.8 1027.6C84.7 1029.3 83.57 1031.17 81.7 1032.7C79.83 1034.23 76.8 1036.28 74.6 1036.8C72.4 1037.32 70.1 1037 68.5 1035.8C66.9 1034.6 65.52 1031.98 65 1029.6C64.48 1027.22 64.65 1023.53 65.4 1021.5Z" fill="none" stroke="#c07a70" stroke-width="2.4" opacity="0.3" filter="url(#soft)"/>
</g>
</g>
<text x="107.8" y="1062.8" font-size="7" font-weight="bold" text-anchor="middle" fill="#000" stroke="#000" stroke-width="0.14">5 mm</text>
<line x1="99.4" y1="1066.6" x2="116.1" y2="1066.6" stroke="#000" stroke-width="1.5"/>
<ellipse cx="72" cy="724" rx="7" ry="6" fill="#f6e6dc" opacity="0.6" filter="url(#soft)"/>
<ellipse cx="88" cy="718" rx="6" ry="6" fill="#f6e4da" opacity="0.6" filter="url(#soft)"/>
<ellipse cx="62" cy="732" rx="5" ry="4" fill="#f4e0d6" opacity="0.5" filter="url(#soft)"/>
<ellipse cx="60" cy="713" rx="4" ry="2" fill="#d08070" opacity="0.12" filter="url(#soft)"/>
<ellipse cx="75" cy="712" rx="6" ry="1.5" fill="#c86a5a" opacity="0.12" filter="url(#soft)"/>
<ellipse cx="63" cy="737" rx="4" ry="1.5" fill="#c05048" opacity="0.3" filter="url(#soft)"/>
<ellipse cx="78" cy="812" rx="10" ry="5" fill="#f2d0c6" opacity="0.5" filter="url(#soft)"/>
<ellipse cx="62" cy="820" rx="6" ry="3" fill="#d28478" opacity="0.25" filter="url(#soft)"/>
<ellipse cx="62.5" cy="906.5" rx="1.6" ry="1.6" fill="#c02828" opacity="0.8" filter="url(#soft)"/>
<ellipse cx="77" cy="918" rx="8" ry="9" fill="#f8eae0" opacity="0.5" filter="url(#soft)"/>
<ellipse cx="83" cy="1024" rx="3.5" ry="4" fill="#c04040" opacity="0.55" filter="url(#soft)"/>
<ellipse cx="76" cy="1030" rx="3" ry="2.5" fill="#c85050" opacity="0.4" filter="url(#soft)"/>
<rect x="126.2" y="661.2" width="101.5" height="101.3" fill="#a646c4"/>
<rect x="126.2" y="661.2" width="101.5" height="101.3" filter="url(#nf5)"/>
<rect x="126.2" y="661.2" width="101.5" height="101.3" filter="url(#nf6)"/>
<rect x="126.2" y="661.2" width="101.5" height="101.3" filter="url(#nf7)"/>
<text x="208" y="751.8" font-size="7" font-weight="bold" text-anchor="middle" fill="#000" stroke="#000" stroke-width="0.14">25 µm</text>
<line x1="198.3" y1="755.4" x2="217.6" y2="755.4" stroke="#000" stroke-width="1.5"/>
<rect x="126.2" y="765" width="101.5" height="100.7" fill="#ae4ec6"/>
<rect x="126.2" y="765" width="101.5" height="100.7" filter="url(#nf8)"/>
<rect x="126.2" y="765" width="101.5" height="100.7" filter="url(#nf9)"/>
<rect x="126.2" y="765" width="101.5" height="100.7" filter="url(#nf10)"/>
<text x="208" y="855.6" font-size="7" font-weight="bold" text-anchor="middle" fill="#000" stroke="#000" stroke-width="0.14">25 µm</text>
<line x1="198.3" y1="859.2" x2="217.6" y2="859.2" stroke="#000" stroke-width="1.5"/>
<rect x="126.2" y="868.9" width="101.5" height="100.8" fill="#cc5cc0"/>
<rect x="126.2" y="868.9" width="101.5" height="100.8" filter="url(#nf11)"/>
<rect x="126.2" y="868.9" width="101.5" height="100.8" filter="url(#nf12)"/>
<rect x="126.2" y="868.9" width="101.5" height="100.8" filter="url(#nf13)"/>
<rect x="126.2" y="868.9" width="101.5" height="100.8" filter="url(#nf14)"/>
<rect x="126.2" y="868.9" width="101.5" height="100.8" filter="url(#nf15)"/>
<text x="208" y="959.5" font-size="7" font-weight="bold" text-anchor="middle" fill="#000" stroke="#000" stroke-width="0.14">25 µm</text>
<line x1="198.3" y1="963.1" x2="217.6" y2="963.1" stroke="#000" stroke-width="1.5"/>
<rect x="126.2" y="972" width="101.5" height="101.6" fill="#d070cc"/>
<rect x="126.2" y="972" width="101.5" height="101.6" filter="url(#nf16)"/>
<rect x="126.2" y="972" width="101.5" height="101.6" filter="url(#nf17)"/>
<rect x="126.2" y="972" width="101.5" height="101.6" filter="url(#nf18)"/>
<rect x="126.2" y="972" width="101.5" height="101.6" filter="url(#nf19)"/>
<g clip-path="url(#c31)" fill="#dcd8e8"><path d="M150 1021.29 L153 1021.34 L156 1018.95 L159 1018.13 L162 1020.22 L165 1017.91 L168 1016.8 L171 1015.88 L174 1014.41 L177 1012.85 L180 1011.52 L183 1011.6 L186 1013.32 L189 1009.82 L192 1013.49 L195 1012.94 L198 1013.86 L201 1012.23 L204 1016.31 L207 1013.67 L210 1015.89 L213 1013.56 L216 1013.07 L219 1013.85 L222 1012.32 L225 1011.54 L228 1011.69 L231 1011.41 L231 1017.55 L228 1018.41 L225 1018.53 L222 1018.91 L219 1018.88 L216 1022.14 L213 1024.34 L210 1023.61 L207 1025.02 L204 1024.9 L201 1025.25 L198 1024.73 L195 1024.99 L192 1024.28 L189 1025.96 L186 1022.22 L183 1026.25 L180 1025.91 L177 1026.93 L174 1024.01 L171 1028.2 L168 1027.18 L165 1026.68 L162 1026.98 L159 1028.01 L156 1027.41 L153 1024.63 L150 1024.2Z"/><path d="M156.82 972 L154.74 975 L155.9 978 L151.69 981 L150.02 984 L147.98 987 L146.31 990 L144.24 993 L140.77 996 L141.09 999 L136.98 1002 L135.14 1005 L133.34 1008 L132.62 1011 L130.19 1014 L135.01 1014 L138.24 1011 L137.82 1008 L139.98 1005 L141.59 1002 L146.28 999 L145.32 996 L148.49 993 L151.7 990 L152.43 987 L155.09 984 L154.59 981 L158.29 978 L158.27 975 L160.19 972Z"/>
<ellipse cx="138" cy="1032" rx="3.9" ry="3"/>
<ellipse cx="145" cy="1040" rx="3.25" ry="2.5"/>
<ellipse cx="152" cy="1050" rx="2.86" ry="2.2"/>
<ellipse cx="133" cy="1047" rx="2.6" ry="2"/>
<ellipse cx="160" cy="1043" rx="2.34" ry="1.8"/>
<ellipse cx="142" cy="1019" rx="2.86" ry="2.2"/>
<ellipse cx="170" cy="1000" rx="2.34" ry="1.8"/>
<ellipse cx="195" cy="990" rx="1.95" ry="1.5"/>
</g>
<rect x="126.2" y="972" width="101.5" height="101.6" filter="url(#nf20)"/>
<text x="208" y="1062.6" font-size="7" font-weight="bold" text-anchor="middle" fill="#000" stroke="#000" stroke-width="0.14">25 µm</text>
<line x1="198.3" y1="1066.2" x2="217.6" y2="1066.2" stroke="#000" stroke-width="1.5"/>
<rect x="229.8" y="661.2" width="101.2" height="101.3" fill="#bcc5da"/>
<rect x="229.8" y="661.2" width="101.2" height="101.3" filter="url(#nf21)"/>
<g clip-path="url(#c02)">
<path d="M265.22 662.12l0.27 -0.13M282.29 661.64l-0.02 -0.32M298.57 663.05l0.41 -0.43M302.12 661.99l0.11 -0.12M311.28 662.61l-0.23 0.33M318.96 662.69l0.31 -0.45M322.77 661.03l0.15 -0.44M255.06 665.11l0.36 0.25M272.19 665.12l-0.05 -0.41M307.68 665.64l0.41 0.06M329.9 665.39l-0.48 -0.33M228.41 669.75l-0.04 0.01M244.51 668.29l-0.18 -0.23M256.58 669.79l0.21 0.5M302.66 670.35l0.1 -0.07M323.12 668.61l-0.01 0.14M332.44 668.29l-0.43 -0.3M259.51 673.55l-0.19 -0.3M271.81 672.68l-0.33 -0.42M275.23 672.95l-0.33 -0.49M304.44 672.58l0.28 0.33M309.45 672.54l0.09 0.09M244.91 675.5l-0.45 0.26M276.75 676.93l0.48 0.03M282.71 676.46l0.06 -0.27M307.41 675.97l0.18 -0.36M331.58 676.51l0.16 0.24M267.51 680.84l-0.01 -0.49M279.68 680.07l0.29 -0.24M324.4 678.85l0.08 -0.39M328.89 679.18l0.35 0.02M258.44 683.79l0.04 -0.02M295.31 682.37l0.04 0.22M322.73 684.84l0.33 -0.12M328.03 684.48l0.34 -0.44M250.8 686.24l0.25 0.08M293.02 687.6l-0.18 -0.45M300.84 687.08l0.1 0.41M316.18 686.85l0.32 0M321.77 686.66l0.04 0.11M328.37 685.99l0.45 -0.45M252.25 690.15l0.02 0.19M269.89 692.02l-0.34 0.11M273.46 691.56l0.2 0.38M285.51 689.73l0.41 -0.21M295.1 691.66l-0.46 0.04M299.33 691.79l0.08 -0.25M250.93 693.11l0.07 -0.49M299.48 693.16l0.13 0.14M248.95 697.71l-0.23 -0.33M266.98 699.03l-0.32 0.17M281.98 698.32l-0.42 -0.39M310.38 697.06l-0.05 -0.34M322.9 697.08l-0.46 -0.09M326.17 698.33l-0.18 0.48M288.73 702.12l-0.43 -0.49M295.8 702.66l-0.13 0.05M330.2 702l-0.49 -0.07M230.65 709l0.25 -0.38M256.05 708.28l-0.38 -0.28M258.41 708.9l-0.44 -0.05M267.75 707.41l-0.08 -0.37M291.59 707.95l-0.04 0.3M303.86 708.58l0.12 -0.47M319.96 708.34l-0.2 0.34M228.5 712.35l0.37 0.19M235.85 712.7l0.48 -0.43M241.85 712.04l0.05 -0.1M250.02 711.34l-0.11 -0.02M285.32 711.59l-0.34 -0.48M289.6 713.01l-0.47 -0.23M297.33 713.14l-0.06 -0.25M328.27 712.02l0.42 -0.25M330.25 712.33l-0.32 -0.46M247.46 716.37l0.1 -0.05M252.54 716.06l-0.4 -0.03M259.81 716.83l0.36 -0.12M314.14 714.66l0.25 -0.16M325.46 717.01l-0.07 -0.22M240.93 718.83l0.02 -0.04M245.88 719.68l-0.27 0.17M290.01 718.49l0.49 0.38M293.57 719.78l0.28 0.49M297.74 719.2l-0.17 0.37M301.67 720.04l0.3 0.46M314.27 719.51l-0.25 0.39M327.69 718.04l-0.11 0.05M234.05 723.15l-0.12 -0.22M287.8 721.94l0.41 0.22M229.54 727.7l-0.18 0.49M270.79 726.78l0.4 0.29M273.38 727.39l0.4 -0.03M285.3 727.63l-0.17 0.04M297.35 727.11l-0.28 -0.37M230.08 729.58l-0.3 0.09M239.74 729.38l-0.24 0.11M247.47 729.13l-0.42 0.09M267 729.58l0.12 0.1M245.92 734.85l-0.2 0.16M252.15 734.72l-0.47 0.2M262.16 732.54l0.04 -0.04M298.3 733.49l-0.25 0.47M270.65 737.89l-0.31 0.43M324.56 737.16l-0.24 -0.11M287.27 741.26l0.04 0.31M294.64 741.33l0.28 -0.34M234.29 745.53l0.33 -0.36M250.73 745.19l0.17 -0.38M270.89 743.47l-0.33 -0.3M279.36 745.46l0.31 -0.36M284.97 744.95l0.28 0.22M240.18 749.06l-0.05 -0.37M262.43 749.08l-0.26 0.44M299.55 748.6l-0.36 -0.48M322.39 748.08l-0.22 0.46M332.31 747.52l0.18 -0.29M231.43 750.65l0.24 -0.43M252.53 751.31l0.15 -0.36M276.75 751.51l0.19 -0.49M318.22 752.62l-0.26 -0.3M325.87 752.58l-0.05 0.22M252.79 754.11l-0.23 0.3M276.14 759.53l0.33 0.44M279.59 758.54l0.19 0.27M296.67 758.94l0.45 -0.15M252.57 762.5l-0.29 0.31M256.21 763.3l-0.23 -0.08M270.39 763.17l0.01 0.49M290.59 760.99l0.28 -0.11M301.53 761.23l0.25 -0.26" stroke="#6a8acb" stroke-width="2.6" stroke-linecap="round" fill="none"/>
<path d="M276.76 663.32l0.07 0.37M251.68 664.55l0.32 0.06M291.72 665.43l0.29 -0.26M315.84 666.32l0.1 0.03M253.45 669.48l0.43 0.32M262.68 670.1l-0.4 0.12M265.41 668.41l-0.14 -0.02M238.25 673.12l-0.02 -0.28M264.37 672.32l-0.45 0.28M268.62 673.15l-0.04 0.37M285.01 677.81l-0.49 0.15M299.45 676.42l0.16 -0.37M242.64 681.04l0.37 0.29M250.29 679.94l-0.15 0.09M276.63 679.92l-0.32 0.09M287.58 678.88l-0.47 0.13M303.46 681.23l0.12 0.31M312.68 679.54l0.23 0.11M249.9 684.72l0.29 0.17M264.58 688.14l-0.23 -0.41M267.13 687.01l-0.22 -0.38M273.11 686.88l-0.32 -0.03M282.51 690.63l0.17 -0.28M289.29 689.75l0.05 -0.14M239.41 694.47l0.29 -0.11M270.95 694.78l-0.1 -0.24M307.53 694.81l0.32 -0.09M252.78 697.69l0.04 -0.18M286.53 698.77l0.31 0.4M242.45 701.82l0.33 -0.16M267.06 702.08l0.14 0.31M321.96 701.42l0.25 0.44M249.46 705.65l0.17 0.06M310.36 704.83l0.04 -0.33M271.08 708.07l-0.13 -0.48M288.55 709.5l-0.35 -0.38M245.48 712.47l0.43 -0.37M253.45 713.25l0.15 -0.45M260.52 711.89l0.04 0.15M273.04 712.71l-0.17 -0.44M322.7 711.11l0.11 0.48M242.29 716.44l0.13 0.36M279.26 715.83l0.44 -0.27M291.51 714.5l0.15 -0.49M309.06 716.85l0.27 0.26M234.14 718.21l0.3 -0.11M257.42 718.81l0.45 -0.07M262.11 719.27l0.44 0.27M306.83 719.94l0.41 0.17M242.68 723.44l-0.36 0.21M275.69 722.82l-0.32 0.39M279.74 722.68l0.45 -0.45M316.27 722.8l0.02 0.36M252.94 726.18l0.25 0.04M318.15 725.67l-0.13 0.26M323.8 727.39l-0.31 0.18M243.48 729.68l-0.42 0.12M312.08 729.74l-0.18 0.18M321.15 729.53l0.47 -0.17M228.6 733.14l-0.29 0.24M265.27 732.79l0.25 -0.36M322.23 734.55l0.29 -0.31M231.32 736.83l-0.35 0.46M252.06 737.66l0.43 -0.47M258.89 738.07l-0.46 0.37M266.99 736.99l0.23 -0.42M274.79 736.14l-0.01 0.09M284.21 737.68l0.45 -0.03M297.65 737.75l-0.1 0.34M320.91 738.11l-0.12 -0.03M229.58 740.63l-0.04 0.37M236.06 742l-0.37 0.44M245.45 740.23l0.44 0.17M261.05 739.94l-0.03 0.28M264.98 741.11l-0.19 0.2M299.09 739.7l0.06 -0.16M303.08 739.78l0.16 -0.02M307.7 739.78l-0.07 0.5M318.41 741.51l0.17 -0.07M322.02 741.02l-0.44 -0.28M274.86 743.92l0.29 0.37M317.87 743.94l0.1 0.19M326.41 745.31l0.12 0.1M237.81 746.94l-0.34 0.27M268.97 747.65l-0.09 -0.33M238.81 752.11l0.17 0.1M280.68 750.58l0.11 0.35M320.76 752.63l0.27 0.36M240.25 755.39l0.15 -0.48M246.33 754.27l0.48 -0.45M279.15 756.05l0.43 -0.16M294.45 754.02l-0.34 -0.32M302.38 755.31l-0.22 -0.42M306.85 756.02l-0.47 0.16M316.14 754.33l0.02 -0.47M330.08 754.94l-0.25 0.2M239.18 758.21l-0.38 0.01M259.58 758.13l0.1 0.47M288.05 758.18l-0.14 0.06M304.73 758.02l-0.5 -0.14M309.83 758.54l0.24 0.26M316.11 758.54l-0.39 0.01M330.02 759.48l-0.25 -0.5M246.27 761.45l-0.42 0.43M250.58 762.19l-0.49 -0.48M265.04 760.92l-0.34 0.48M311.63 761.89l0.36 -0.36" stroke="#7c93c6" stroke-width="2.4" stroke-linecap="round" fill="none"/>
<path d="M227.64 661.18l-0.45 -0.03M232.66 661.23l-0.19 -0.41M238.04 661.05l-0.27 0.1M241.19 661.81l-0.12 -0.15M246.12 661.37l0.25 0.33M252.74 660.95l0.04 -0.18M257.33 661.18l-0.42 -0.16M261.85 661.13l0.24 -0.12M270.85 661.19l-0.03 0.16M272.97 663l-0.3 -0.42M287.08 662.95l-0.19 -0.1M289.89 663.03l-0.22 0.43M307.4 662.28l-0.41 0.35M327.86 661.42l-0.49 0.18M332.13 663.33l0.42 -0.23M231.26 664.96l-0.08 -0.03M237.94 665.7l-0.45 0.17M243.34 665.39l-0.16 -0.37M246.44 664.75l-0.19 0.48M259.63 666.4l0.46 0.18M264.71 666.18l-0.46 0.14M275.91 664.98l-0.46 0.1M284.8 664.63l-0.11 0.09M287.3 665.02l0.34 0.39M295.86 665.65l0.33 -0.13M320.8 667.08l-0.26 -0.24M234.12 670.38l-0.11 0.38M236.79 669.95l0.36 0.03M241.57 669.05l0.22 -0.21M250.29 668.23l0.06 0.09M271.03 669.43l-0.36 -0.09M277.7 668.25l-0.08 -0.41M281.15 669.82l-0.34 -0.37M285.81 670.35l-0.42 -0.14M294.84 668.87l-0.01 -0.39M299.26 668.16l-0.18 -0.26M306.74 668.44l-0.4 0M310.8 669.5l0.47 -0.22M318.58 668.79l0.44 -0.36M326.74 669.12l-0.43 -0.31M230.06 672.17l0.38 -0.01M236.24 673.97l0.27 -0.14M242.07 672.48l0 0.39M246.84 673.05l-0.21 0.31M252.47 673.75l-0.43 0.09M279.08 673.3l-0.21 0.49M285.19 673.71l0.1 0.26M288.53 672.94l0.49 -0.3M295.29 673.89l-0.27 -0.42M313.51 673.78l-0.11 -0.19M316.12 674.19l-0.13 0.38M319.91 672.73l0.29 0.01M328.4 673.1l-0.45 0.03M228.46 677.61l-0.27 -0.16M231.92 675.91l0.27 0.37M237.83 676.06l0.25 0.28M242.25 675.35l-0.38 0.07M249.49 677.72l0.23 0.2M252.94 676.9l0.04 0.22M261.79 675.86l0.04 -0.45M266.2 676.52l0.2 -0.09M270.85 675.93l0 0.08M275.08 675.69l-0.36 -0.25M289.37 677.48l-0.28 0.08M303.64 677.53l-0.18 0.21M311.01 677.77l0.42 0.33M314.43 676.22l-0.44 -0.03M229.98 678.91l0.43 -0.14M235.01 680.77l0.29 0.31M255.57 679.51l0.02 0.12M258.76 681.23l0.32 -0.47M262.53 681.23l0.49 0.29M270.84 680.27l-0.27 0.26M283.36 679.34l-0.41 0.21M293.42 678.98l-0.31 -0.45M297.56 678.81l0.22 -0.34M300.96 680.21l-0.37 -0.27M309.35 681.07l-0.45 -0.28M316.13 679.08l-0.33 -0.28M321.49 680.92l0.04 -0.4M228.08 682.93l0.25 0.39M233.32 683.48l0 0.29M237.16 683.37l-0.15 -0.38M244.01 682.71l-0.18 0.31M252.43 683.55l-0.07 -0.48M260.35 683.71l-0.05 0.44M265.15 682.91l0.06 0.22M270.94 682.63l-0.35 0.09M274.76 684.31l0.02 0.15M278.24 683.2l0.5 -0.26M281.02 684.09l0.07 -0.36M287.39 682.82l-0.35 -0.42M289.33 683.59l0 -0.09M301.38 682.73l-0.14 0.23M306.59 684.79l0.24 -0.32M311.22 682.51l0.44 -0.35M313.99 683.55l0.44 0.26M317.93 684.09l-0.49 0.02M330.61 683.47l-0.19 0.29M238.79 687.96l0.46 0.33M243.97 686.07l0.49 -0.42M246.12 688.32l-0.35 0.41M256.21 687.96l0.48 0M259.82 687.91l-0.4 0.07M281.03 687.49l-0.08 -0.12M283.76 687.71l0.25 -0.18M286.96 686.83l0.34 -0.3M295.36 687.79l-0.14 -0.1M303.62 687.47l0.06 0.35M309.39 686.44l-0.2 -0.1M326.16 688.48l0.4 -0.45M237.73 690.44l0.38 -0.16M240.06 692.09l0.38 -0.23M245.47 690.19l-0.19 0.09M256.54 690.55l-0.28 -0.41M261.91 690.84l-0.1 -0.38M265.84 689.8l-0.3 0.14M278.36 691.47l0.46 -0.46M302.23 691.24l-0.43 0.16M309.5 690.03l-0.12 -0.32M326.34 691.78l0.44 -0.48M332.15 689.65l0.43 0.29M229.61 695.11l-0.3 -0.41M234.67 694.53l0.01 -0.18M254.53 693.79l-0.33 0.39M263.64 694.15l0.24 -0.48M276.08 695.39l0.2 0.28M278.91 694.56l-0.08 -0.12M283.34 694.53l0.1 -0.49M289.07 694.18l-0.23 0.3M292.44 694l0.09 0.48M304.74 693.86l-0.01 0.33M311.96 694.73l-0.01 -0.25M315.91 694.91l0.43 0.17M321.93 695.13l-0.09 0.06M328.82 693.53l-0.12 -0.23M229.21 699.15l0 0.13M233.31 696.89l-0.18 -0.37M235.81 697.02l-0.03 0.36M241.89 696.97l0.49 0.5M256.68 698l0.34 0.29M262.02 698.05l0.24 0.39M270.81 698.19l-0.14 -0.23M272.97 698.59l-0.46 -0.09M279.15 698.18l0.1 0.33M290.25 697.59l-0.41 0.28M295.2 697.83l0.2 0.28M298.88 697.36l0.26 0.42M302.7 698.08l0.25 0.41M306.92 698.66l-0.43 0.41M314.57 698.14l-0.13 0.04M318.98 697.59l-0.4 0.14M330.19 698.11l-0.32 0.41M232.09 701.5l0.25 0.15M247.32 701.06l-0.4 0.15M252.49 701.83l0.48 -0.04M255.23 702.53l-0.03 -0.15M260.23 702.71l0.41 0.19M272.74 701.98l0.12 -0.05M276.5 700.56l0.46 0.2M284.95 700.62l0.36 -0.29M291.51 701.64l-0.42 0.49M299.72 702.74l-0.25 -0.29M304.65 700.2l0.18 0.45M307.85 701.1l0.24 0.24M313.31 701.85l0.16 -0.16M316.23 701.3l-0.19 -0.12M324.68 701.85l-0.49 0.21M230.05 704.91l-0.29 -0.09M238.23 704.7l0.16 0.03M241.82 706.28l-0.2 0.33M245.33 705.5l0.48 0.27M260.63 704.92l-0.32 -0.29M266.52 705.93l-0.15 0.07M269.61 705.93l-0.48 0.21M273.51 705.44l0.06 -0.05M281.73 704.56l-0.08 0.3M285.09 704.29l0.49 0.18M295.64 703.78l-0.21 0.34M298.46 704.85l-0.27 -0.29M303.13 703.92l-0.27 0.18M305.89 704.66l0.07 -0.4M318.63 706.19l-0.26 -0.06M322.07 704.42l-0.06 0.04M327.7 704.71l0.15 -0.21M236.05 709.74l-0.03 0.05M238.89 708.48l0 0M241.95 707.46l0.38 0.36M251.07 709.49l0.25 -0.26M262.66 708.48l-0.17 0.3M276.48 707.72l-0.42 0.04M280.32 708.26l-0.05 0.19M284.24 709.57l-0.37 0.09M300.06 709.34l0.34 0.25M308.31 708.95l0.01 0.08M312.75 709.69l0.44 -0.01M316.78 709.7l0.41 -0.04M325.06 707.58l-0.36 0.31M330.22 709.52l-0.23 0.41M232.98 711.49l-0.01 -0.2M257.28 712.8l-0.26 -0.28M264.56 712.1l0.19 -0.05M270.14 711.24l0.31 -0.12M277.03 713.4l0.35 -0.17M282.88 711.97l-0.24 0.25M303.72 712.88l-0.24 0.14M309.91 711.75l0.09 0.39M317.8 711.52l0.41 0.18M229.68 716.16l-0.39 -0.4M235.35 715.53l-0.37 -0.13M238.16 716.2l0.13 -0.34M254.96 715.58l-0.12 0.06M262.72 715.05l0.3 -0.08M268.38 716.51l-0.14 -0.49M283.45 716.79l0.48 0M297.02 716.09l0.33 -0.35M300.99 715.06l-0.4 0.48M305.01 715.06l0.21 0.08M316.35 715.92l-0.29 0.01M320.44 716.96l-0.38 -0.43M327.97 716.31l0.49 -0.39M227.74 719.36l-0.13 0.06M236.91 719.33l-0.08 -0.21M248.37 718.89l0.4 0.39M253.25 719.97l-0.06 0.18M265.31 720.23l-0.03 0.29M275.01 718.68l-0.42 -0.29M278.19 718.26l0.07 -0.31M280.82 719.88l-0.44 0.2M285.87 719.19l-0.36 0.14M319.87 720.55l0.3 -0.25M332.39 720.58l0.49 -0.21M230.14 723.14l0.11 -0.47M238.91 723.44l0.5 0.11M247.65 722.46l-0.43 0.2M252.6 721.73l0.42 0.35M254.21 721.94l-0.34 -0.03M258.95 722.87l-0.22 -0.04M264.09 723.29l0.35 0.32M266.86 722.97l0.42 0.37M271 722.31l-0.43 0.1M285.38 723.39l-0.18 0.46M291.65 723.59l0.36 -0.34M299.49 722.54l0.27 0.23M305.86 722.31l0.05 -0.49M309.44 723l-0.29 -0.04M325.14 723.95l-0.11 -0.43M329.57 723.21l-0.05 -0.19M231.94 725.66l-0.11 0.33M235.75 727.65l0.07 0.36M239.99 726.55l0.06 0.24M245.15 726.79l0.29 0.35M248.76 727.58l-0.11 -0.4M264.49 726.92l-0.27 0.46M277.45 726.56l-0.25 0.41M281.82 725.48l0.2 -0.33M290.65 727.64l-0.08 0.11M306.87 726.84l-0.26 0.47M310.52 727.04l-0.16 0.05M326.69 726.23l-0.45 -0.49M331.15 726.78l0.14 -0.38M251.34 728.89l0.35 0.42M254.5 730.39l-0.03 -0.21M260.17 730.46l-0.26 -0.09M263.37 730l0.2 -0.48M276.92 729.05l-0.35 0.23M279.39 729.08l-0.48 -0.28M288.9 731.12l0.34 0.38M296.69 730.56l0.29 0.44M301.59 731.21l-0.34 -0.46M305.09 729.36l0.35 -0.21M309.69 729.61l0.08 -0.16M317.11 731.09l0.31 0.27M325.86 731.27l-0.48 -0.25M237.22 732.39l0.49 -0.35M241.77 733.95l0.13 0.26M249.86 732.34l-0.36 -0.06M256.35 732.45l0.1 0.33M269.16 732.78l0.17 0.41M273.24 732.35l0.22 -0.08M276.88 732.86l0.23 0M290.93 733.8l-0.21 0.21M294.84 732.91l0.25 0.21M303.02 733.2l0.08 -0.12M307.66 734.57l-0.46 -0.44M309.87 733.46l-0.02 0.47M314.99 734.42l0.36 -0.01M318.06 732.87l-0.33 0.05M326.59 733.91l-0.07 -0.35M330.25 732.9l-0.27 0.46M234.59 738.14l-0.05 0.07M238.37 738.24l0.06 -0.24M241.89 736.02l0.19 -0.29M247.87 736.58l0.02 0.25M264.73 738.09l0.36 -0.12M281.09 736.87l-0.24 0.49M288.82 735.88l-0.41 -0.44M292.48 737.58l0.42 -0.49M299.65 738.34l-0.35 0.33M305.58 737.33l-0.31 0.11M309.07 737.36l-0.34 -0.12M313.36 738.08l-0.05 -0.39M315.81 738.3l-0.06 -0.09M231.92 740.63l0.19 -0.21M249.93 741.77l0.43 -0.47M254.4 741.07l0.17 -0.36M258.46 740.92l-0.37 0.19M269.32 739.67l0.13 0.46M274.88 740.07l0.07 -0.29M277.73 741.24l0.26 0.36M281.6 740.82l0.39 0.01M289.73 741.71l-0.05 0.3M311.24 740.62l-0.2 0.29M316.09 741.66l-0.21 -0.29M328.08 741.85l0.42 -0.43M330.88 740.25l0.31 0.35M231.34 743.76l0.14 -0.22M247.96 744.63l-0.26 0.37M254.91 744.73l-0.13 0.48M262.92 744.76l0.18 0.34M267.78 744.77l-0.19 -0.13M286.97 744.3l-0.35 -0.22M291.07 744.85l0.14 0.28M296.29 743.44l-0.49 -0.04M300.02 743.77l0.06 -0.49M305.83 743.14l-0.08 0.37M309.78 745.53l0.49 -0.01M321.94 743.36l-0.16 -0.5M329.89 745.15l0.1 0.45M228.99 747.06l-0.21 0.41M232.8 747l0.4 -0.43M245.34 747.98l0.15 -0.28M252.25 746.79l0.21 0.09M257.41 747.8l-0.32 0.3M266.58 747.89l-0.19 0.48M273.87 746.62l-0.39 -0.1M278.5 749.13l0.28 -0.31M281.47 748.88l-0.1 0.42M290.93 748.06l0.21 -0.31M302.6 747.6l0.41 -0.43M305.76 748.14l-0.23 0.19M314.8 747.29l-0.01 -0.01M318.07 746.85l0.41 0.19M327.72 748.85l-0.37 -0.07M234.95 752.63l0.48 -0.04M247.5 752.08l-0.43 0.28M254.69 751.12l0.38 0.41M259.73 751.69l-0.12 0.35M263.25 751.82l-0.08 0.39M272.58 751.79l0.19 0.31M283.92 752.09l0.33 -0.1M291.32 750.94l0.3 -0.46M295.83 751.86l-0.39 0.09M299.29 751.86l0.48 0.18M304.41 752.26l0.2 -0.07M309.14 752.34l-0.02 0.07M313.03 752.61l-0.42 0.03M330.33 751.87l0.13 0.36M228.44 756.04l0.13 -0.32M235.71 754.75l0.3 0.22M249.72 755.22l-0.38 -0.23M257.59 755.05l-0.37 0.2M262.89 755.12l-0.14 0.47M265.18 754.43l0.18 -0.07M268.58 753.86l-0.15 -0.01M272.76 755.59l-0.44 0.34M282.21 753.8l0.09 0.13M287.41 756.28l-0.11 0.37M290.32 755.28l0.46 -0.49M310.06 755.19l0.28 -0.38M318.14 754.39l0.21 0.07M323.41 753.83l0.03 0.4M231.88 758.21l0.14 0.02M234.58 758.1l-0.26 0.15M243.41 759.17l0.34 0.42M246.25 759.01l0.07 0.43M252.4 757.72l0.09 -0.33M256.69 757.92l-0.03 0.3M264.08 758.98l-0.36 0.4M272.5 758.72l0.1 0.19M284.45 759.5l0.43 -0.33M292.33 759.48l0.36 0M312.26 757.57l0.21 0.13M324.79 757.44l-0.43 0.32M228.43 761.96l0.36 0.24M234.11 762.56l-0.33 -0.24M242.29 761.28l-0.4 -0.44M273.84 761.82l0.38 -0.32M277.18 760.95l0.02 0.09M281.92 761.44l-0.14 -0.45M286.25 762.94l0.08 -0.02M294.75 762.22l-0.12 0.41M297.25 762.73l0.2 -0.18M319.34 760.87l0.49 0.46M322.81 763.01l-0.43 0.26M326.39 762.17l-0.29 0.04" stroke="#323238" stroke-width="3.1" stroke-linecap="round" fill="none"/>
</g>
<text x="311.6" y="751.8" font-size="7" font-weight="bold" text-anchor="middle" fill="#000" stroke="#000" stroke-width="0.14">25 µm</text>
<line x1="302" y1="755.4" x2="321.2" y2="755.4" stroke="#000" stroke-width="1.5"/>
<rect x="229.8" y="765" width="101.2" height="100.7" fill="#bac3d9"/>
<rect x="229.8" y="765" width="101.2" height="100.7" filter="url(#nf22)"/>
<g clip-path="url(#c12)">
<path d="M256.71 766.98l-0.27 0.06M279.15 767.06l-0.07 -0.21M307.96 765.16l-0.05 -0.07M266.5 770.11l-0.48 -0.35M271.43 770.53l0.34 -0.11M300.28 770.3l-0.36 -0.35M305.59 769.94l-0.44 -0.1M311.99 769.82l-0.12 0.12M328.22 769.26l-0.38 0.43M240.65 773.07l0.12 -0.43M286.33 774.33l0.15 0.2M310.17 773.3l0.04 0.21M318.74 773.53l-0.28 -0.13M268.92 778.03l-0.31 0.29M275.05 776.81l0.39 -0.04M299.44 776.94l-0.46 0.29M322.13 776.75l0.28 -0.45M232 779.22l-0.39 -0.2M249.95 779.1l0.12 0.19M268.84 779.69l-0.2 0.04M287.19 781.3l0.39 -0.12M302.38 779.14l0.16 0.22M319.39 779.21l0.06 0.03M233.98 784.84l0.03 0.07M243.68 785.12l-0.31 0.07M250.48 784.2l-0.29 0.38M267.06 783.4l0.23 0.46M293.61 782.99l-0.38 0.22M236.37 786.75l-0.32 0.14M254.08 787.8l-0.47 0.13M249.13 795.29l0.17 0.12M278.62 795.33l0.31 -0.44M306.12 793.84l-0.22 -0.38M238.53 797.53l0.45 -0.43M268.27 797.65l-0.45 -0.18M253.21 801.91l-0.4 -0.28M262.7 801.99l0.05 0.3M230.93 805.55l0.39 -0.09M234.43 806.29l0.43 0.23M279.33 806.49l0.31 -0.05M295.18 805.28l-0.2 -0.41M240.57 809.67l-0.05 0.47M254.21 808.47l-0.12 0.17M270.83 808.37l0.12 -0.12M307.45 808l-0.02 0.49M327.59 809.11l0.3 0.07M235.99 813.52l-0.32 -0.4M247.2 812.09l0.05 0.47M284.64 813.34l-0.46 0.44M318.25 812.06l0.21 0.09M326.24 812.92l0.08 0.43M237.87 814.74l0.08 -0.48M253.13 816.18l0.21 0.47M279.63 819.74l0.17 0.04M284.62 820.3l-0.3 -0.44M292.1 820.22l-0.26 -0.27M279.26 821.85l-0.47 0.13M294.49 822.62l-0.4 0.28M247.86 827.67l-0.27 -0.14M266.93 826.86l-0.11 0.45M271.61 826.6l0.36 0.46M295.62 827.45l0.21 -0.24M300.76 825.87l0.26 -0.09M311.82 827.77l-0.28 0.12M249.72 831.2l-0.29 -0.01M282 830.86l-0.41 0.47M289.39 830l0.09 0.45M307.3 830.99l-0.35 0.21M310.24 831.22l0.41 0.27M319.95 830.87l0.43 -0.15M259.87 833.88l-0.46 -0.48M283.24 834.21l0.38 0.39M300.45 832.79l-0.26 0.44M322.31 833.69l-0.26 -0.21M326.04 832.56l-0.48 -0.01M231.81 837.89l-0.13 0.36M244.49 838.39l0.05 -0.41M256.33 838.12l0.18 0.3M319.35 836.11l0.06 -0.14M252.6 839.98l-0.26 0.23M292.65 840.35l-0.34 -0.28M297.04 841.16l0.01 -0.49M237.81 843.56l0.01 0.08M241.99 843.25l-0.04 -0.41M245.62 844.02l-0.2 0.22M262.53 844.59l-0.36 0.1M277.48 844.71l-0.12 -0.18M286.2 843.29l0.28 0.2M291.5 844.11l0.03 0.42M326.41 843.68l0.35 -0.15M273.02 848.89l-0.26 -0.37M276.14 846.96l-0.17 -0.48M293.29 848.74l-0.23 0.39M234.02 851.8l-0.37 -0.34M256.34 851.73l0.39 0.46M261.78 851.82l-0.49 -0.37M295.36 850.79l0.25 -0.31M263.25 855.39l-0.18 0.21M279.11 854.95l0.33 0.41M242.37 859.03l-0.22 0.34M262.51 858.58l0.4 -0.26M283.31 857.69l0.4 0.33M278.81 862.9l0.25 -0.26M313.13 862.62l0.24 -0.02M320.7 861.7l0.16 -0.14M330.25 862.53l0.17 -0.27M231.64 865.87l0.36 -0.33M273.7 865.87l0.15 -0.42M278.98 867.12l-0.15 0.09M289.52 864.73l-0.17 -0.27M324.23 866.42l0.33 0.14" stroke="#6a8acb" stroke-width="2.6" stroke-linecap="round" fill="none"/>
<path d="M233.64 767.24l-0.42 0.21M270.37 766.71l-0.26 -0.08M294.05 765.22l-0.33 -0.01M297.48 765.81l0.47 0.37M322.12 766.87l-0.26 -0.2M232 770.2l0.38 0.5M262.77 770.21l-0.05 0.21M308.82 770.13l-0.18 0.1M324.46 770.65l0.33 0.38M245.26 773.13l0.15 0.15M248.4 773.73l-0.15 -0.45M260.84 772.06l0.47 -0.39M266.23 772.64l0.12 0.41M251.94 775.88l0.17 -0.16M260.51 776.1l0.44 -0.27M283.71 776.38l-0.29 0.46M305.66 776.54l-0.23 -0.46M329.45 777.93l-0.2 -0.17M236 780.93l0.02 0.36M274.84 779.79l0.34 0.2M277.43 781.11l-0.26 0.01M293.5 779.33l0.06 -0.2M264.55 783.92l-0.22 0.38M275.62 784.09l-0.04 0.24M281.02 783.86l0.1 0.4M295.97 783.09l-0.34 0.06M309.45 784.66l0.14 -0.39M311.82 782.86l-0.11 0.11M316.87 783.19l0.43 -0.11M256.7 787.86l-0.02 0.4M274.66 786.94l0.37 -0.16M286.65 786.6l0.24 -0.23M291.44 788.01l-0.03 0.13M310.1 786.4l-0.18 0.34M330.17 788.26l0.25 -0.2M262.43 791.13l0.15 -0.04M268.01 790.35l0.1 0.45M272.02 790.67l0.04 0.01M280.43 791.79l-0.38 -0.48M297.56 790.89l-0.4 -0.27M309.41 791.36l-0.17 0.49M324.26 790.14l0.12 -0.17M230.06 795.07l0.4 -0.07M233.58 793.91l0.19 0.32M244.66 794.68l0.24 0.03M256.25 794.27l0.45 -0.48M290.34 794.74l0.37 -0.23M297.65 793.77l0.37 0.41M311.75 795.69l0.24 0.48M322.65 795.75l0.37 -0.36M326.06 795.34l0.34 0.39M330.59 794.25l-0.36 -0.46M254.43 798.39l-0.02 0.22M271.88 799.04l-0.01 -0.16M275 797.1l-0.38 0.23M280.57 799.09l0.41 0.42M321.98 797.58l0.2 -0.42M239.24 805.49l-0.45 -0.1M246.61 804.53l-0.46 0.41M259.1 806.09l-0.26 0.21M287.49 805.98l-0.21 0.03M293.41 806.26l-0.06 -0.2M300.75 806.48l-0.03 0.29M320.19 805.51l0.18 0.01M229.92 809.8l0.48 0.27M236.38 808.09l-0.39 -0.36M260.31 808.48l0.04 0.35M294.7 809.05l-0.16 0.32M298.43 809.56l0 -0.24M303.34 807.56l-0.45 0.31M262.78 812.01l-0.25 0.32M267.27 813.26l0.05 -0.03M329.49 811.68l0.38 -0.02M291.35 817.04l0.29 0.18M315.62 816.26l0.21 -0.17M319.94 815.34l0.09 0.18M323.13 816.42l-0.44 -0.3M268.45 820.18l-0.2 0.23M271.36 820.85l0 0.38M307.62 820.51l0.14 -0.11M238.11 822.31l-0.05 0.44M249.68 823.85l0.14 -0.02M261.35 823.29l-0.43 0.34M291.52 822.05l0.48 0.21M317.85 822.19l0.09 -0.36M304.15 827.75l-0.42 -0.46M299.23 830.1l-0.14 0.12M323.37 830.26l0.19 -0.04M233.72 832.76l0.49 0.34M264.08 834.64l-0.23 -0.25M271.47 834.94l-0.31 0.49M276.54 832.94l0.09 0.16M287.82 832.82l0.26 0.31M291.31 833.21l-0.43 0.32M264.81 838.36l0.28 -0.12M293.76 838.45l-0.42 0.44M306.6 837.8l-0.33 0.41M246.21 842.03l-0.43 0.38M254.71 840.78l0.1 0.44M309.98 840.69l0.19 0.14M320.58 840.71l0.33 -0.11M252.9 844.7l0.05 0.17M256.47 844.24l0.25 -0.37M307.67 844.22l-0.38 0.18M317.71 845.06l0.11 -0.38M322.46 844.44l0.32 0.08M246.22 848.41l-0.32 0.04M250.22 847.42l-0.06 -0.45M263.1 848.57l-0.35 0.07M283.57 848.65l0.47 -0.25M308.61 846.86l-0.13 -0.01M329.14 847.37l0.4 -0.11M269.34 851.05l0.41 -0.3M273.87 851.86l-0.25 0.21M282.61 852.17l-0.09 -0.4M299.69 852.62l-0.34 -0.43M303.81 852.66l0 -0.43M307.62 852.89l-0.41 -0.49M243.86 855.56l-0.45 0.29M254.76 854.57l-0.25 0.5M304.79 855.41l0.45 0.28M313.23 855.29l0.17 0.3M303.5 858.41l-0.01 0.08M326.65 859.08l-0.48 0.07M231.32 861.76l-0.09 -0.17M266.95 862.01l-0.13 -0.23M270.85 861.43l0.35 -0.42M284 861.7l-0.28 -0.33M316.79 861.73l-0.46 0.06M265.04 864.98l-0.14 -0.4M316.06 867.22l-0.1 0.12" stroke="#7c93c6" stroke-width="2.4" stroke-linecap="round" fill="none"/>
<path d="M227.87 765.83l-0.04 0.01M236.27 766.39l0.19 -0.2M242.16 765.85l0.5 -0.24M244.22 764.89l0.06 -0.28M249.63 766.23l0.47 -0.15M254.56 766.64l-0.25 0.08M261.85 766.11l0.1 0.37M266.78 766.77l0.46 -0.03M275.09 767.07l-0.37 0.34M282.7 765.29l0.07 0.17M287.01 766.57l-0.47 0.38M291.2 766.78l-0.17 -0.15M303.73 766.43l0.14 -0.4M315.67 767.09l-0.17 -0.28M319.66 766.02l-0.21 0.35M326.92 766.36l0.35 0.27M235.94 769.34l-0.28 -0.24M239.7 768.69l-0.06 0.47M242.73 770.16l0.12 -0.29M250.92 769.82l0.28 0.15M255.11 770.26l0.02 0.39M259.19 769.34l0.29 0.45M274.82 770.09l-0.28 0.14M281.29 769.72l0.04 0.49M283.48 770.77l-0.05 -0.07M289.43 770.21l0.27 -0.49M291.75 768.97l-0.02 0.03M315.96 770.64l0.37 0.39M320.68 769.99l-0.38 -0.06M230.06 772.77l0.32 0.43M233.14 773.14l0.36 -0.38M237.01 773.99l-0.41 -0.17M257.79 773.66l0.25 -0.43M268.54 774.22l0.21 -0.03M278.88 773.7l-0.39 -0.28M283.23 772.97l0.05 -0.32M291.32 772.88l-0.1 -0.16M297.36 772.16l-0.32 0.07M303.12 773.14l-0.03 0.17M306.02 774l-0.17 -0.41M314.75 772.86l0.46 0.41M323.53 773.11l-0.01 0.02M328.44 774.18l-0.43 0.29M331.77 773.19l-0.4 -0.38M230.27 778l-0.07 -0.35M239.12 776.93l0.48 -0.2M242.64 776.62l-0.11 0.04M246.56 777.04l0.05 -0.18M256.74 776.22l0.15 0.13M264.13 775.47l-0.08 -0.02M273.08 777.01l-0.35 -0.47M293.33 777.72l0.12 -0.25M296.81 777.14l0.12 0.33M309.37 777.26l-0.37 -0.18M317.97 775.54l-0.02 0.13M326.09 776.66l-0.18 0.16M228.71 779.65l-0.06 0.38M240.34 780.71l0.22 0.48M252.5 779.89l0.29 -0.19M256.31 779.54l-0.19 -0.28M261.48 781.07l-0.46 0.33M266.46 781.05l0.01 -0.03M282.02 780.6l-0.47 -0.21M290.8 779.62l0.15 -0.24M307.83 780.28l-0.43 -0.21M310.63 780.38l-0.18 -0.07M324.35 780.82l-0.3 -0.49M328 780l-0.22 -0.26M330.66 780.36l-0.11 -0.14M231.32 784.52l0.3 0.11M240.23 782.97l0.28 0.18M247.37 784.17l0.11 -0.4M254.96 783.73l0.37 -0.41M258.84 783.6l0.13 -0.46M282.96 783.65l-0.04 0.11M289.49 782.7l0.01 -0.49M301.64 784.83l0.03 -0.29M305.76 783.65l0.27 -0.14M320.82 782.91l0.34 -0.16M328.8 784.54l0.41 -0.22M229.5 788.38l-0.23 0.21M232.98 787.99l-0.13 -0.14M241.06 788.28l-0.28 0.39M246.12 786.29l0.49 0.4M248.57 788.33l-0.08 0.17M261.89 788.49l-0.09 0.12M266.01 788.59l0.47 0.07M270.21 787.68l-0.5 -0.08M278.8 788.53l-0.31 0.23M282.48 786.51l-0.28 -0.19M294.12 788.15l-0.46 0.47M297.22 788.12l0.45 -0.2M302.32 787.85l0.12 0.46M315.29 786.97l-0.48 0.42M318.6 788.27l0.2 -0.21M321.93 787.38l-0.08 0.18M229.76 791.11l-0.11 -0.43M235.8 792l0.41 0.19M238.29 791.03l-0.02 -0.02M246.33 792.3l-0.43 0.2M251.21 791.86l0.02 -0.41M256.52 791.39l-0.11 -0.22M258.28 790.49l-0.22 -0.02M284.19 792.07l0.03 -0.1M287.49 790.39l0.08 0.27M291.42 790.44l-0.04 0.32M301.38 790.26l-0.07 0.11M305.44 791.56l-0.05 -0.12M313.62 792.04l0.02 0.26M317.86 791.26l-0.39 0.22M328.05 791.46l-0.38 -0.38M236.28 794.59l0.31 0.15M240.61 795.27l-0.34 0.29M252.12 795l0.32 0.44M261.51 795.32l-0.43 -0.01M265.17 794.23l0.39 0.21M273.3 795.12l0.37 0.18M281.34 793.54l0.4 -0.11M286.95 794.75l-0.48 0.42M295.52 795.14l-0.12 -0.36M315.47 794.74l-0.05 -0.05M231.09 798.07l0.19 -0.04M234.06 798.52l-0.14 0.12M246.14 798.92l0.46 -0.03M285.09 797.54l0.36 -0.37M291.68 798.56l-0.14 0.14M295.95 798.19l0.12 -0.34M299.42 796.9l-0.44 -0.02M305.64 797.94l0.35 0.16M308.37 796.91l0.01 0.47M313.31 796.86l0.17 -0.1M330.07 797.69l-0.37 -0.36M228.1 801.5l0 -0.2M233.62 800.5l0.34 -0.17M241.45 802l0.04 -0.21M248 801.45l-0.4 -0.27M257.01 802.55l0.09 -0.46M266.14 802.69l0.17 0.29M270.48 801.66l0.22 0.02M280.98 801.69l0.12 -0.26M286.09 802.5l0.04 0.16M290.56 801.05l0.45 0.3M295.27 801.25l-0.25 0.49M297.98 802.1l-0.03 -0.46M302.91 800.9l0.36 0.07M307.97 802.33l-0.22 -0.33M318.44 800.49l-0.24 0.41M323.67 801.34l-0.39 -0.48M326.55 802.39l0.29 0.12M330.31 802.25l0.3 0.36M242.21 804.6l0.3 0.08M254.38 806.54l0.47 -0.42M264.67 806.08l-0.49 0.24M268.45 805.04l0.35 0.06M270.86 804.58l-0.11 -0.48M284.89 806.12l0.48 0.45M305.54 806.54l-0.32 -0.18M316.83 805.84l-0.47 -0.3M324.78 805.19l-0.17 -0.43M328.07 805.49l-0.28 -0.17M232.68 807.87l0.09 -0.46M244.01 808.3l0.24 0.08M258.61 809.59l0.46 -0.23M265.48 807.73l-0.11 0.35M274.26 809.42l-0.16 0.17M278.37 809.78l0.43 0.33M281.15 807.58l0.08 0.04M309.82 808.33l0.32 -0.2M315.9 809.25l0.01 -0.16M318.24 809.36l0.44 0.23M322.8 809.82l0.07 -0.25M331.8 809.99l-0.13 0.05M238.24 811.2l0.42 0.01M243.72 811.97l-0.37 -0.21M251.09 811.67l0.09 0.32M256.26 811.39l-0.26 0.18M259.01 813.7l0.12 -0.27M271.83 812.72l-0.3 0.02M275.9 811.23l-0.45 -0.03M279.9 813.42l-0.43 -0.41M288.63 811.46l0.48 0.33M295.45 812.35l-0.5 -0.44M308.85 811.35l-0.18 -0.02M314 811.45l0.07 0.49M321.01 811.31l0.32 -0.02M229.66 816.72l0.04 -0.47M239.81 814.69l0.47 0.42M245 816.91l0.23 0.49M249.96 816.15l0.48 0.39M256.5 814.82l0.26 -0.4M261.35 817.12l0.11 0.14M265.26 814.89l-0.46 -0.31M270.26 816.9l-0.16 0.05M273.47 815.29l-0.43 -0.04M279.08 815.91l0.34 0.32M282.43 816.45l0.41 -0.14M285.87 815.2l0.44 -0.4M294.81 816.46l-0.03 -0.37M297.28 814.92l-0.17 -0.07M310.65 815.67l-0.15 -0.36M327.15 816.7l0.39 -0.18M331.45 814.97l0 0.17M230.96 818.84l-0.16 0.12M233.94 818.99l0.36 -0.01M238.75 819.75l0.41 0.42M243.29 818.72l-0.42 0.45M247.64 819.63l-0.38 -0.23M250.27 820.12l0.39 0.34M255.38 820.44l0.24 -0.03M258.87 820.73l-0.38 0.26M264.66 818.42l-0.12 -0.35M289.06 819.81l0.03 -0.27M295.63 819.86l-0.26 -0.4M305.9 819.72l-0.4 -0.29M313.66 820.26l0.45 0.48M317.74 820.11l0.32 -0.07M321.39 819.18l0.1 0.09M325.25 819.07l0.31 -0.33M329.35 820.79l0.44 -0.4M229.62 823.48l0.47 0.37M233.26 822.99l0.25 0.06M245.67 823.76l0.22 0.34M258 822.04l0.22 0.06M266.55 824.35l-0.41 -0.25M270.59 822.99l0.33 -0.25M273.26 823.66l-0.16 0.23M281 822.77l0.25 -0.17M287.06 821.83l0.08 -0.22M299.61 823.94l0.29 -0.27M303.25 824.25l-0.13 -0.49M306.38 823.08l0.4 0.36M314.9 824.23l-0.14 -0.39M322 823.5l0.2 -0.32M327.43 822.2l0.07 0.29M331.94 823.42l-0.42 -0.06M231.07 827.01l-0.02 -0.29M233.88 826.07l-0.05 -0.36M240.16 825.49l-0.02 -0.19M242.68 827.67l0.11 0.37M250.71 827.76l-0.29 -0.27M254.6 827.91l-0.49 -0.13M264.19 826.43l-0.06 0.21M275.69 826.63l-0.39 -0.49M282.96 827.66l-0.46 0.44M289.28 827.32l-0.41 0.11M291.61 827.91l0.07 0.37M317.94 827.58l-0.42 -0.42M322.3 826.92l-0.21 -0.02M328.21 825.4l-0.18 0.14M234.13 831.16l-0.12 -0.31M235.92 830.73l0.32 0M241.31 829.64l-0.05 0.14M246.12 831.36l-0.01 -0.03M253.08 829.45l-0.31 0.34M261.43 830.16l-0.46 0.2M265.99 830.48l-0.3 -0.12M270.58 830.96l-0.4 -0.27M273.55 830.01l-0.01 0.42M278.86 831.1l0 -0.14M286.71 829.76l0.41 0.42M303.75 831.07l-0.01 -0.02M313.98 830.01l0.31 0.03M327.63 831.06l-0.22 -0.36M332.25 830.45l-0.09 -0.26M229.6 832.85l0.19 0.13M239.29 833.54l0.08 0.16M244.31 834.6l0.04 -0.09M246.03 833.09l0.39 -0.35M254.39 834.74l0.09 -0.11M267.36 833.74l0.39 0.42M295.23 833.28l0.17 -0.28M304.55 834.28l-0.17 0.47M309.23 833.85l-0.1 -0.35M313.56 834.69l0.32 0.48M316.36 835.05l-0.43 0.48M236.63 838.62l0.13 0.14M252.45 838.48l0.49 -0.43M261 837.47l-0.19 0.41M269.04 838.2l0.12 0.47M273.5 836.25l0.08 0.3M287.39 836.74l-0.32 0.35M290.76 836.66l0.26 0.13M298.94 836.41l-0.16 0.19M301.57 837.3l0.39 0.3M310.93 838.62l0.44 0.39M315.67 838.38l0.35 0.21M332 838.16l-0.49 0.02M231.73 840.33l0.3 -0.38M234.43 840.43l0.17 0.36M239.4 841.94l-0.01 -0.48M242.11 841.35l0.44 -0.47M258.75 839.7l-0.02 -0.46M262.65 840.89l0.1 0.38M267.18 841.09l0.1 -0.27M273.09 840.06l-0.44 0.12M275.44 840.33l0.29 0.35M280.72 842.19l0.47 0.21M283.92 840.16l-0.04 0.27M287.78 841.22l0.47 -0.15M299.47 839.89l0.22 -0.47M304.29 840.92l-0.25 -0.07M317.35 840.31l0.5 -0.31M324.47 839.67l-0.44 0M328.56 841.6l-0.35 -0.01M228.76 845.29l0.03 -0.38M232.78 845.03l-0.28 0.17M265.12 844.16l-0.01 0.49M273.8 845.01l0 -0.34M282.65 844.31l-0.34 0.19M298.16 843.53l0.38 0.36M303.03 845.48l0.14 0.04M311.15 843.28l-0.12 -0.16M315.26 845l0.31 0.03M332.24 843.27l0.49 0.17M232.07 847.43l0.23 0.49M233.83 847.27l0.37 0.39M239.33 848.27l-0.49 -0.47M242.39 846.83l-0.05 0.21M256.22 848.43l-0.49 -0.36M260.1 848.11l-0.31 0.45M268.57 848.73l0.1 -0.01M279.84 848.74l0.19 0.45M288.49 847.86l-0.39 0.31M295.95 847.15l0.39 0.38M299.87 849.02l-0.2 0.36M304.59 847.95l0.44 -0.29M316 847.6l-0.11 -0.02M321.28 847.42l0.1 -0.09M325.94 847.18l-0.25 -0.29M228.66 851.2l0.24 -0.49M240.82 852.64l-0.17 -0.02M249.2 851.27l-0.05 0.16M254.49 850.74l-0.27 -0.31M264.64 852.36l0 -0.32M277.26 851.2l0.04 -0.24M286.43 851.81l-0.48 -0.27M290.74 851.23l0.47 0.05M314.46 852.81l0.41 -0.49M322.7 850.97l-0.31 0.07M330.02 851.49l-0.2 0.02M234.42 856.35l0.22 -0.24M238.72 853.94l-0.19 0.31M246.11 854.2l-0.05 0.3M251.13 855.75l0.47 -0.48M260.26 854.2l-0.32 -0.1M267.92 854.47l0.38 0.42M270.57 853.96l0.38 0.14M276.3 855.03l0.19 0.47M285.16 856.51l0.07 0.34M296.98 855.22l0.11 0.31M300.93 855.12l0.29 -0.13M316.71 854.9l-0.4 -0.26M320.13 855.77l0.45 0M325.14 854.82l-0.45 -0.2M328.85 854.19l-0.34 -0.25M228.13 859.83l-0.45 -0.37M237.21 858.24l0.14 0.22M245.08 858.03l0.27 -0.08M253.02 858.02l-0.39 -0.34M257.75 859.43l0.36 0.26M264.84 858.81l0.38 0.07M287.25 857.66l0.15 -0.49M290.7 858.87l0.03 -0.46M298.95 858.82l-0.13 -0.01M306.56 859.27l-0.19 0.18M311.46 859.48l-0.15 -0.41M315.83 859.35l-0.29 -0.16M318.75 859.84l-0.12 -0.14M324.09 857.93l0.25 0.27M331.34 859.9l-0.15 0.28M233.81 861.4l0.49 0.07M239.74 861.31l0.42 -0.05M247.32 863.35l-0.44 0.39M252.18 863.22l-0.29 0.02M259.27 861.86l-0.5 -0.17M262.39 861.66l-0.01 -0.4M276.88 861.84l-0.46 -0.31M288.77 862.49l-0.11 -0.34M295.35 862.05l0.42 0.41M301.48 862.41l-0.48 -0.28M304.07 863.21l0.5 0.11M308.42 862.61l-0.39 -0.1M323.95 862.69l0.32 -0.47M227.52 867.21l-0.24 -0.18M236.37 864.82l-0.38 0.18M240.51 866.9l0.36 0.18M248.23 867.16l-0.16 0.47M252.95 865.71l0.42 0.02M258.73 866.51l0.47 0.45M260.92 866.27l-0.04 0.08M270.54 867.01l0.1 -0.4M287.45 865.66l-0.27 -0.28M294.59 866.71l0.04 -0.05M298.74 865.94l-0.03 -0.46M301.55 866.09l0.35 0.05M307.07 864.67l-0.18 0.3M311.55 866.48l0.38 0.13M326.38 866.26l0.42 -0.3" stroke="#323238" stroke-width="3.1" stroke-linecap="round" fill="none"/>
</g>
<text x="311.6" y="855.6" font-size="7" font-weight="bold" text-anchor="middle" fill="#000" stroke="#000" stroke-width="0.14">25 µm</text>
<line x1="302" y1="859.2" x2="321.2" y2="859.2" stroke="#000" stroke-width="1.5"/>
<rect x="229.8" y="868.9" width="101.2" height="100.8" fill="#a2b0cc"/>
<rect x="229.8" y="868.9" width="101.2" height="100.8" filter="url(#nf23)"/>
<g clip-path="url(#c22)">
<path d="M232.88 870.87l-0.21 -0.32M236.69 869.47l-0.2 -0.1M240.99 870.69l-0.33 0.37M261.8 869.62l-0.04 -0.01M276.57 868.93l-0.28 -0.08M288.08 870.96l0.18 0.2M292.17 870.67l-0.23 -0.23M295.56 870.92l0.16 -0.01M297.85 869.79l-0.01 0.18M306 868.72l-0.3 0.43M313.05 869.84l0.35 0.18M318.37 870.11l-0.3 0.05M231.54 874.07l-0.05 -0.36M234.47 872.23l-0.34 -0.38M245.92 873.48l0.32 -0.14M267.62 871.8l-0.11 -0.26M271.51 874.1l-0.33 0.25M274.24 874.1l-0.18 0.5M278.05 873.02l-0.12 -0.3M290.19 874l-0.41 -0.38M296.24 874.02l0.1 -0.07M308.99 872l0.38 0.21M311.12 873.09l0.01 -0.29M315.37 874.01l-0.37 0.17M330.57 873.06l-0.27 0.44M228.07 875.86l-0.05 -0.39M254.89 877.03l0.05 0.11M258.75 875.5l0.46 0.07M270.17 877.29l0.2 -0.43M279.32 876.18l0.22 0.02M287.06 875.68l-0.39 -0.49M296.57 875.52l-0.02 0.07M229.88 878.35l-0.31 -0.05M241.53 879.61l0.49 -0.41M290.11 879.99l0.13 -0.14M294.03 878.9l0.35 -0.24M300.05 879.03l-0.15 0.23M315.48 879.01l0.27 0.34M323.73 878.13l0.27 -0.28M230.07 883.75l-0.09 -0.01M237.41 882.41l-0.3 -0.08M253.58 881.46l0.23 -0.48M263.12 881.39l0.05 0.47M265.17 881.84l0.29 -0.47M276.79 882.46l0.24 -0.06M287.76 882.35l-0.41 -0.35M299.97 882.47l-0.23 0.01M314.58 883.26l0.02 0.09M318.68 883.22l0.39 -0.47M326.26 883.35l0.07 -0.49M231.88 885.94l0.11 -0.23M235.46 885.86l-0.31 -0.28M240.91 885.33l-0.13 -0.38M257.7 884.97l0.22 -0.33M261.17 886.57l0.43 -0.08M270.34 885.89l-0.24 -0.34M282.16 886.26l-0.42 -0.02M287.14 884.97l0.02 -0.24M297.35 885.81l0.26 0.16M301.55 885.13l-0.12 0.14M309.37 887.05l-0.46 0.15M314.89 885.54l0.33 0.28M318.84 887.14l-0.26 0.31M322.3 886.29l-0.29 -0.08M330.86 887.08l0.37 -0.18M229.35 890.21l0.17 -0.34M247.39 888.44l-0.43 -0.29M253.59 888.74l0.19 0.13M263.32 889.51l-0.18 -0.19M274.5 888.95l0.4 0.29M284.96 890.2l0.04 -0.35M287.69 888.22l-0.35 -0.36M296.04 889.24l-0.46 -0.02M301.51 888.77l0.01 0.23M306.85 888.59l0.02 -0.17M310.1 890.19l0.14 -0.27M317.9 890.13l0.36 0.42M324.35 889.3l0.17 0.02M234.62 893.05l-0.38 0.39M248.01 891.08l0.41 -0.08M255.91 891.55l0.12 -0.42M274.62 891.15l-0.34 0.03M279.73 891.68l-0.38 0.12M283.52 892.46l0.02 -0.23M304.85 892.95l-0.27 -0.16M312.79 892.5l-0.24 0.28M320.66 891.08l-0.41 0.28M324.39 891.58l0.1 0.13M228.8 896.74l0.06 0.03M233.15 896.18l-0.07 0.04M238.79 896.6l-0.18 -0.4M250.37 895.27l0.01 0.27M259.28 895.48l0.42 -0.4M276.34 895.47l0.48 0.29M279.67 894.53l0.45 -0.15M283.62 896.63l-0.36 0.18M291.73 895.42l-0.31 0.36M298.79 895.74l-0.34 0.13M302.52 896.53l-0.2 -0.23M307.41 895.3l-0.38 -0.21M310.55 896.55l-0.21 -0.35M314.5 894.35l-0.07 0.03M230.56 899.45l-0.2 0.18M233.29 899.31l0.29 -0.39M242.69 898.99l-0.35 0.08M245.4 899.74l0.18 -0.24M248.66 899.06l-0.44 -0.25M263.2 898.08l-0.19 -0.42M270.67 898.78l-0.33 -0.42M274.79 898.11l-0.38 0.4M286.58 898.1l-0.21 -0.45M289.58 899.87l-0.19 0.35M292.34 897.63l-0.35 0.2M301.89 898.25l0.3 -0.4M303.99 898.42l-0.35 -0.18M308.49 899.4l0.11 0.42M312.41 898.77l0.15 0.24M319.03 898.64l0.23 -0.09M329.58 899.21l-0.31 0.43M233.27 901.16l-0.38 0.4M236.88 902.86l-0.17 0.07M247.69 901.17l0.49 -0.24M255.06 903.04l-0.23 0.03M258.65 901.1l-0.03 0.31M265.68 903.01l-0.28 0.3M268.77 901.68l0.35 0.33M280.46 901.81l0.32 0.47M283.26 901.95l0.43 0.23M301.58 902.15l0.45 -0.14M318.5 902.36l0.37 0.07M320.24 903.04l0.26 -0.35M329.92 902.08l-0.13 -0.27M233.91 905.17l-0.14 0.11M240.86 905.29l-0.11 -0.39M252.03 904.33l-0.06 -0.42M270.92 904.33l0.32 0.48M281.18 904.89l-0.15 -0.13M287.24 905.03l-0.01 0.2M292.53 904.61l0.11 -0.39M301.98 904.55l0.34 0.18M318.59 904.99l0.45 0.47M233.77 907.14l-0.42 0.24M242.56 907.86l0.11 0.03M255.91 909.36l0.33 -0.43M262 909.05l0.46 0.29M271.94 907.24l-0.11 -0.21M294.51 909.04l-0.14 -0.47M298.74 907.57l-0.22 -0.13M301.82 909.28l0.34 -0.3M305.8 907.89l-0.35 0.12M320.89 909.52l-0.5 -0.22M327.72 909.58l0.3 0.47M229.44 912.47l-0.44 0.4M256.44 911.32l-0.11 -0.3M286.47 911.13l-0.49 -0.15M294.56 912.11l0.31 0.16M318.58 911.87l-0.02 -0.29M322.51 912.59l-0.3 0.04M326.56 912.86l0.03 0.34M229.7 915.77l0.23 -0.2M236.41 915.97l0.21 0.09M240.12 915.12l-0.16 -0.12M248.49 916.02l0.38 -0.06M258.68 915.69l-0.01 -0.18M274.13 913.88l-0.05 0.08M291.92 914.23l-0.41 -0.08M294.4 913.74l0.49 -0.44M302.99 915.31l-0.18 -0.31M309.8 915.62l-0.2 -0.31M313.38 913.69l0.05 0.4M317.03 915.46l0.39 -0.06M238.71 919.07l-0.16 -0.16M246.61 918.07l-0.02 0.31M250.14 917.73l-0.2 -0.11M256.17 919.22l0.03 0.08M264.25 918.01l0.38 -0.31M268.34 919.05l-0.2 0.39M293.73 918.67l0.2 -0.46M305.27 917.28l-0.26 0.37M307.87 918.76l0.35 -0.18M326.5 919.32l0.32 -0.23M236.26 922.26l-0.11 -0.35M240.06 920.74l0.26 -0.45M243.57 920.17l-0.42 -0.23M246.02 921.85l-0.06 0.2M255.5 922.28l-0.42 -0.31M258.78 920.96l0.47 0M263.03 921.41l0.11 0.37M280.04 922.27l-0.12 -0.12M290.82 921.82l0.18 -0.05M299.76 921.75l-0.03 0.14M307.76 921.33l-0.04 0.46M314.48 920.9l0.38 0.27M248.46 923.45l0.14 0.07M254.05 923.33l0.47 0.49M257.3 923.57l0.18 -0.18M282.24 924.54l0.45 0.16M294.25 925.14l0.35 0.36M296.54 923.49l-0.21 0.05M309.36 925.37l-0.39 -0.15M231.96 928.71l-0.16 -0.32M236.99 927.45l0.22 -0.08M247.36 927.75l0.09 0.11M250.5 926.57l-0.19 0.25M261.55 926.75l-0.29 0.37M266.2 926.5l0.08 -0.01M276.55 927.62l-0.31 -0.09M281.52 928.2l0.36 0.31M305.28 928.92l0.11 0.04M313.16 928.38l-0.21 0.19M316.72 927.12l-0.21 -0.37M233.98 930.15l-0.03 -0.08M249.82 931.29l0.27 -0.09M254 930.54l0.43 0.12M267.86 931.29l-0.44 0.2M290.02 930.86l-0.44 0.23M300.62 930.39l-0.21 -0.1M303.65 931.12l-0.37 0.35M308.19 930.57l0.18 0.07M329.93 929.82l-0.24 -0.27M228.74 934.68l0.1 0.43M232.01 933l0.39 -0.17M235.83 935.13l-0.39 0.36M244.7 934.24l0.2 -0.02M257.69 933.84l0.13 -0.23M262.65 933.35l0.12 0.44M264.64 935.02l0.04 0.04M273.27 933.59l0.43 0.4M285.21 933.95l0.1 -0.23M298.75 934.82l-0.4 0.27M302.43 933.42l-0.03 -0.24M310.91 934.43l0.13 -0.04M231.18 936.23l-0.37 0.45M237.32 936.6l-0.41 0.36M241.68 937.66l0.09 0.39M246.4 938.27l0.16 0.07M248.12 937.88l-0.13 -0.49M270.69 937.44l-0.33 0.21M275.81 938.12l-0.34 0.26M289.83 936.81l0.4 -0.09M292.3 937.34l-0.11 -0.34M298.41 937.33l0.02 -0.29M313.14 937.89l-0.2 -0.38M323.67 936.49l-0.16 0.43M232.32 939.92l-0.32 -0.16M242.35 940.77l-0.14 0.18M250.68 940.53l-0.24 0.4M257.53 941.74l-0.28 0.27M272.49 941.06l-0.17 -0.1M277.58 941.28l-0.3 0.02M283.78 941.15l0.4 0.35M292.39 940.22l-0.17 -0.48M303.26 940.25l-0.22 0.12M306.91 940.46l0.22 0.2M329.64 939.78l-0.12 0.25M237.28 942.56l-0.48 -0.1M262.84 943.66l0.4 0.02M301.44 944.16l0 -0.02M303.59 944.32l-0.46 -0.13M311.1 943.96l0.26 -0.35M315 942.95l0.33 0.29M318.42 944.17l-0.25 0.16M228.39 945.98l-0.5 0.34M231.79 945.86l-0.06 -0.35M244.86 948.06l0.22 -0.4M246.39 947.03l0.23 0.13M254.71 948.25l-0.08 -0.29M257.21 946.42l0.37 0.13M270.13 946.8l0.31 0.1M273.61 946.27l-0.24 0.33M281.16 946.01l0.2 0.03M296.61 945.87l-0.37 0M298.24 946.7l-0.14 0.05M321.87 947.07l-0.45 0.42M326.25 946.02l0.24 0.01M231.02 949.81l0.44 0.15M237.52 951.52l0.15 0.4M240.69 950.83l0.43 -0.09M244.72 950.63l-0.3 0.03M252.4 949.45l0.45 -0.13M263.45 949.77l0.03 -0.21M268.49 950.44l0.13 0.38M276.07 951.24l-0.48 -0.47M289.67 951.02l0.35 0.21M298.49 951.29l-0.31 -0.07M314.8 950.35l0.19 -0.11M326.61 949.9l-0.03 -0.32M246.74 953.62l-0.07 -0.21M254.86 952.68l-0.17 -0.09M260.86 953.6l0.05 0.39M269.56 953.42l0.38 0.1M278.08 952.18l-0.48 0.22M281.62 952.79l0.25 -0.02M299.99 952.66l-0.26 -0.38M325.07 952.44l-0.07 0.45M329.85 953.14l0.24 -0.07M233.32 957.12l0.24 0.03M246.44 957.56l0.28 0.16M257.27 956.84l0.33 -0.22M263.17 957.77l0.25 -0.2M274.79 955.79l0.27 -0.11M278.39 955.69l0.43 0.49M301.24 956.55l-0.17 0.22M311.74 955.38l-0.23 0.5M330.39 957.48l0.02 -0.48M229.09 959.65l-0.08 0.07M233.09 958.93l-0.36 -0.47M235.37 959.34l0.43 -0.34M242.75 960.84l-0.3 0.02M255.86 960.19l-0.39 0.19M257.57 958.9l0.14 -0.19M269.05 960.58l0.33 0.34M284.06 959.92l-0.27 -0.42M307.52 958.62l0.23 -0.08M310.74 961.17l0.47 -0.36M328.62 961.01l-0.11 0.22M231.45 962.95l0.49 0.42M238.18 963.39l-0.21 -0.07M249.28 962.41l0.16 0.18M260.16 963.84l0.43 0.06M264.52 962.84l-0.23 -0.31M268.12 963.08l0.4 -0.41M270.73 963.94l0.45 -0.03M301.87 962.13l0.46 0.17M308.67 962.71l-0.14 -0.36M318.93 963.75l0.31 0.41M322.43 962.61l-0.02 -0.46M330.97 962.06l0.46 -0.11M232.89 966.77l0.21 0.16M257.75 965.24l-0.16 0.26M275.99 966.22l-0.37 -0.29M283.56 965.29l-0.41 -0.2M288.42 967.49l-0.04 -0.41M295.14 965.86l0.23 0.34M314.66 965.58l0.34 0.34M321.18 965.78l-0.41 0.2M230.9 969.85l-0.24 -0.41M246.02 968.41l0.44 0.44M249.01 968.74l-0.32 0.33M256.19 970.32l-0.32 0.17M264.21 970.28l0.5 0.23M266.37 969.93l0.1 -0.25M275.75 968.38l-0.14 0.49M297.04 969.93l0.34 -0.41M308.96 970.31l-0.49 -0.24M320.29 968.58l-0.34 -0.38M327.67 968.48l0.47 -0.22M330.48 968.41l0.35 0.42" stroke="#34508e" stroke-width="2.6" stroke-linecap="round" fill="none"/>
<path d="M246.91 870.33l0.29 -0.42M254.75 870.9l0.01 0.13M264.91 869.78l-0.06 0.36M270.15 870.94l0.38 0.47M272.82 869.48l-0.35 -0.47M283.4 869.98l-0.31 0.19M309.39 868.65l0.44 -0.27M323.75 871.02l-0.15 0.38M328.49 868.53l-0.02 0.29M238.91 873.37l-0.25 0.05M241.63 871.9l0.22 0.18M250.28 871.71l0.16 0.27M252.41 872.13l-0.37 -0.47M265.1 872.64l-0.1 0.4M293.25 872.76l-0.27 0.02M318.89 871.77l-0.46 -0.37M322.6 872.56l0.45 -0.48M327.04 873.82l-0.22 0.49M232.14 875.08l-0.47 -0.11M236.16 876.94l-0.39 -0.49M244.86 875.53l-0.38 -0.01M251.35 875.09l-0.3 -0.35M273.17 876.99l-0.08 0M277.21 876.87l-0.19 0.17M292.85 875.22l-0.11 0.41M299.51 876.7l-0.28 0.1M314.78 875.62l-0.37 0.22M320.15 876.62l0.27 0.25M325.38 874.92l-0.22 -0.22M328.77 876.82l0 -0.46M233.64 879.35l-0.15 0M239.11 878.93l-0.42 0.21M249.43 880.68l0.09 -0.36M251.64 878.24l-0.35 0.22M256.59 879.74l0.44 0.22M268.41 879.06l0.11 0.03M279.56 879.71l0.41 -0.31M281.57 880.01l0.42 0.23M286.86 878.7l0.08 0.24M298.21 878.57l-0.37 -0.44M311.35 879.09l0.06 -0.27M319 880.1l0.15 0.2M233.78 882.94l-0.42 0.03M243.17 883.13l-0.09 -0.11M246.2 882.29l-0.05 0.06M251.92 881.83l-0.48 0.24M258.05 883.24l0.38 -0.08M269.39 883.37l-0.29 0.16M281.89 883.73l-0.01 0.23M283.63 883.46l-0.07 0.09M292.61 881.38l-0.2 0.49M302.72 883.11l0.06 0.48M307.02 883.01l-0.48 0.22M310.08 883.33l-0.13 0.12M322.32 883.81l0.43 0.49M328.52 881.52l0.06 0.49M245.15 885.46l-0.48 0.26M248.6 886.35l0.36 -0.47M263.07 886.99l-0.32 0.44M266.66 886.48l0.32 -0.21M290.06 884.89l0.24 -0.04M293.53 884.61l0.25 -0.5M312.91 884.58l-0.31 -0.04M326.72 885.02l-0.38 -0.44M233.34 887.98l-0.01 -0.12M238.83 889.48l-0.38 0.43M243.97 888.4l-0.27 0.39M276.35 888.78l-0.45 -0.28M281.09 888.56l0.17 -0.11M292.89 888.22l-0.23 0.16M299.24 889.99l-0.39 -0.18M315 889.83l0.1 0.24M320.48 888.49l0.07 -0.02M242.75 891.41l-0.24 0.01M253.72 891.79l0.07 -0.5M265.19 891.06l-0.32 -0.44M267.62 893.01l-0.21 0.03M289.71 891.45l0.46 0.17M294.33 891.26l0.33 0.13M298.06 892.46l0.1 -0.19M307.2 893.06l-0.03 -0.41M314.97 892.41l0.13 -0.39M327.25 891.35l0.49 -0.05M331.35 891.1l-0.01 0.36M242.34 896.15l0.33 -0.24M246.94 896.45l-0.22 -0.28M254.1 895.01l0.12 0.1M264.94 895.99l-0.37 0.1M269 896.65l0.49 -0.29M321.37 896.64l0.32 -0.36M329.84 894.59l0.01 0.43M237.51 898.18l-0.11 0.4M251.81 899.42l-0.14 -0.4M278.52 897.44l0.4 0.05M282.02 897.75l0.39 -0.07M298.19 898.83l-0.1 0.18M324.23 898.9l-0.07 0.01M326.45 897.88l0.26 -0.34M228.38 901.25l-0.45 -0.17M238.75 902.67l0.15 0.08M244.24 902.75l0.25 -0.32M250.63 902.04l-0.41 0.01M262.07 902.32l0.24 -0.13M273.27 901.75l0.04 -0.33M276.59 901.82l0.4 0.37M287.95 901.5l0.22 -0.45M291.08 902.27l-0.02 -0.38M295.72 901l-0.04 0.45M307.32 901.45l0.06 0.45M310.33 901.47l-0.15 0.32M324.69 902.59l0.39 -0.22M231.89 904.28l-0.39 -0.2M236.79 904.48l0.34 -0.11M244.26 905.81l0.33 0.01M264.18 905.13l0.21 -0.18M279.75 906.12l-0.03 0.11M290.63 905.22l-0.07 -0.2M297.21 906.22l-0.12 0.19M308.09 905.33l0.07 0.28M312.85 905.68l-0.17 0.1M314.69 905.66l-0.48 -0.34M325.74 904.26l0.02 -0.19M228.52 908.56l0.4 -0.38M250.89 908.05l0.27 0.05M266.12 909.09l0.13 0.24M276.2 907.13l-0.14 0.12M279.81 909.04l-0.39 0.47M285.32 909.52l0.15 0.16M286.77 909.16l0.43 -0.01M310.53 908.36l0.39 0.22M318.15 907.84l-0.25 -0.16M248.18 910.82l-0.27 0.37M251.59 911.03l-0.43 -0.14M262.84 910.85l0.22 0.19M274.7 912.72l0.02 0.33M283.44 911.16l-0.42 -0.39M289.87 910.49l-0.21 -0.49M303.76 911.43l-0.03 -0.21M307.29 910.6l0.3 -0.12M313.07 911.12l0.4 0.45M315.01 911.12l-0.4 -0.36M331.63 910.62l0.04 -0.42M232.17 915.29l-0.21 -0.43M243.68 915.37l0.47 -0.38M249.83 915.82l0.03 0.24M261.65 914.33l0.36 0.09M266.87 913.88l0.24 -0.34M269.9 913.67l0.04 -0.13M277.61 915.41l0.04 0.48M281.63 915.38l-0.02 0.04M285.19 915.43l0.49 -0.09M320.97 913.67l-0.32 -0.28M325.89 914.9l0.02 -0.09M328.16 914.53l0.27 0.45M241.68 919.05l0.01 0.34M253.32 918.23l0.4 -0.16M259.48 918.72l-0.02 -0.49M274.95 917.92l-0.32 0.43M281.21 917.16l-0.22 -0.32M290.2 916.83l-0.41 -0.44M314.52 918.25l0.13 -0.2M323.03 919.05l-0.2 0.3M228.71 921.87l-0.47 -0.11M265.63 920.89l-0.03 0.04M285.27 920.27l-0.48 -0.01M318.59 920.48l-0.02 0M321.21 921.57l-0.17 -0.42M324.4 920.69l0.23 -0.18M234.24 925.14l-0.46 -0.02M237.2 923.51l0.37 -0.04M244.53 924.31l0.17 0.08M261.01 925.34l-0.24 0.07M264.32 924.45l0.09 0.44M267.35 925.32l0.11 -0.11M270.44 925.19l0.21 0.39M275.36 923.88l0.42 0.39M289.01 925.45l0.5 0.03M299.72 923.46l0.14 0.23M320.4 923.37l-0.18 -0.23M322.76 924.53l-0.22 0.08M326.79 925.35l-0.36 0.09M228.74 927.51l0.36 0.46M241.17 928.92l0.26 -0.13M242.94 928.71l0.42 0.11M255.08 927.11l0.25 -0.34M257.77 927.38l-0.35 0.37M285.1 926.9l-0.15 -0.11M287.98 928.38l0.36 0.07M292.22 927.75l0.23 0.15M299.55 927.08l0.35 0.19M303.99 926.55l-0.42 -0.34M311.28 928.4l-0.29 -0.02M320.57 928.18l-0.19 0.22M324.29 928.22l0.05 0.34M328.59 928.86l0.23 0.05M231.76 930.72l-0.32 0.43M238.65 930.6l0.49 -0.45M242.43 930.22l0.39 -0.29M255.52 930.84l-0.43 -0.35M259.31 932.16l0.35 0.34M263.14 930.32l-0.17 0.42M276.03 930.96l-0.5 -0.43M279.78 931.15l0.05 -0.01M283 930.84l0.48 -0.5M285.82 929.9l-0.2 -0.41M293.69 930.09l0.1 0.45M311.92 932.18l-0.03 -0.23M319.36 929.76l-0.06 -0.38M323.58 931.42l0.37 -0.26M326.63 929.67l0.4 0.38M240.21 934.94l0.06 0.31M251.28 933.28l-0.45 0.43M256 935.03l0.25 0.4M269.56 934.66l-0.08 0.5M279.96 933.01l-0.39 0.22M296.49 934.54l-0.06 -0.06M307.53 934.04l-0.35 0.34M318.23 933.44l0.44 0.27M321.85 934.64l-0.45 0.08M326.17 935.4l-0.16 0.09M264.74 937.78l-0.17 -0.29M267.74 937.98l-0.18 -0.27M278.16 936.08l0.18 -0.39M281.43 937.07l0.03 -0.47M285.28 937.56l0.42 -0.23M307.86 937.83l-0.07 0.45M316.8 937.88l0.2 0.28M326.89 938.35l0.33 -0.49M241.17 939.3l0.31 0.11M262.36 941.21l-0.41 0.11M266.5 941.58l-0.23 -0.19M279.66 941.64l0.3 0.42M299.74 941.53l-0.49 -0.19M309.23 941.72l0.49 -0.23M314.34 941.33l-0.19 -0.25M317.8 940.9l0.2 -0.22M233.94 944.89l-0.03 0.4M249.22 944.49l0 -0.08M252.13 943.69l-0.05 0.18M261.43 944.98l-0.41 -0.23M272.31 944.53l-0.1 -0.45M273.95 944.37l-0.03 -0.18M278.14 943.21l0.02 -0.49M287.39 945.04l-0.09 0.15M290.43 944.14l-0.08 -0.24M296.62 944.17l0.06 0.39M307.61 944.32l-0.12 0.12M327.32 942.9l0.3 -0.26M329.62 943.34l0.08 -0.03M237.27 946.29l-0.44 -0.26M238.99 946.34l0.02 -0.15M251.5 946.61l-0.22 -0.29M262.48 946.43l-0.15 -0.19M285.35 945.94l-0.46 0.42M287.26 948.24l-0.04 -0.04M292.64 946.05l0.37 -0.31M306.72 946.56l0.05 -0.34M309.01 947.33l-0.39 0.48M316.39 947.82l-0.43 -0.42M329.74 947.18l-0.13 -0.17M234.94 949.75l-0.34 -0.18M255.69 949.2l0.26 0.43M260.3 948.97l0.06 0.35M271.8 949.6l-0.15 -0.43M279.71 950.57l0.45 -0.29M281.52 949.28l-0.45 0.14M286.05 950.39l0.15 0.11M292.89 949.99l-0.17 0.45M305.72 951.03l0.25 0.4M309.6 950.14l0.21 0.38M311.12 949.07l0.04 -0.41M323.22 950.43l-0.06 0.46M330.32 949.11l-0.1 0.01M229.87 953.59l0.24 -0.23M233 954.56l0.26 -0.14M235.56 954.74l0.12 -0.14M238.76 952.21l0.22 0.21M251.84 953.45l0.38 -0.31M259.64 952.56l-0.04 -0.44M267.07 953.93l-0.3 -0.44M309.3 952.27l0.17 0.07M314.04 953.11l0.11 -0.31M316.71 952.7l0.06 0.18M230.32 957.21l-0.15 0.13M249.29 955.44l0.06 0.33M267.61 957.62l-0.34 -0.03M272.49 956.97l0.2 -0.35M293.72 957.33l0.32 0.21M297.2 955.92l-0.42 -0.21M322.43 955.5l-0.19 0.34M239.59 961.13l-0.25 -0.38M263.32 959.48l-0.47 0.12M266.12 959.98l0.2 -0.01M273 958.94l0.27 -0.15M281.88 958.96l0.1 0.46M286.78 960.28l0.45 0.31M292.28 960.77l0.08 -0.25M294.92 960.58l0.06 0.04M300.13 959.9l0.46 0.01M303.41 960.33l0.09 -0.01M316.76 959.52l0.4 0.02M320.73 960.06l0.45 0.36M324.59 959.54l-0.45 -0.46M241.38 964.24l0.16 0.29M246.58 963.01l-0.24 -0.33M256.86 963.17l-0.17 -0.24M274.96 962.95l-0.44 0.3M279.99 963.16l0.3 -0.13M285.33 962.25l-0.36 0.12M289.97 964.19l0.45 -0.13M292.88 963.28l-0.05 0.12M296.08 963.01l-0.16 0.4M312.73 963.32l0.42 0.12M227.63 967.49l0.37 0.28M239.6 965.14l-0.46 0.36M243.05 966.82l0.31 0.22M247.21 967.39l0.29 0.09M251.69 967.59l0.34 0.3M254.7 966.15l-0.26 -0.23M262 965.43l0.18 0M264.51 966.85l-0.49 0.37M268.44 967.04l-0.29 0.03M280.1 967.33l-0.27 0.29M291.82 966.28l0.14 0.06M297.97 965.64l-0.26 -0.13M303.15 966l0.34 0.1M307.4 965.98l0.17 -0.47M310.27 966.63l-0.27 0.42M316.94 966.41l-0.48 -0.21M328.63 965.12l-0.13 0.16M234.32 969.7l0.22 -0.4M237.58 970.75l0.11 0.05M253.53 970.05l-0.14 -0.46M260.93 970.15l-0.14 -0.02M270.19 970.07l-0.02 0.46M283.02 970.21l0.01 -0.1M285.6 970.78l0.06 0.26M288.79 970.6l0.4 -0.14M300.61 969.92l0.31 0.14M303.42 968.68l-0.46 -0.08M311.27 968.35l-0.35 -0.05M323.05 970.07l-0.33 -0.42" stroke="#4d68a6" stroke-width="2.4" stroke-linecap="round" fill="none"/>
<path d="M228.71 869.54l0.44 0.09M242.77 869.63l0.49 0.48M250.87 869.01l-0.24 0.25M258.27 869.73l0.48 -0.43M279.94 870.75l-0.15 -0.02M255.78 873.43l-0.11 -0.13M261.14 873.12l0.11 0.18M287.41 872.31l-0.17 -0.3M305.39 872.15l-0.35 0.41M240.43 876.85l0.3 -0.41M265.81 875.53l-0.18 -0.25M284.74 876.99l-0.16 -0.28M303.05 875.75l0.35 0.47M310.67 876.42l0.27 0.23M316.68 875.63l-0.18 0.43M246.23 878.21l-0.37 0.03M263.77 878.74l0.24 0.3M270.46 880.7l-0.1 0.28M275.95 879.04l0.26 -0.24M308.17 878.87l-0.04 -0.41M331.03 880.4l0.23 -0.25M272.8 881.41l-0.16 -0.04M295.05 881.71l0.42 0.18M237.13 884.6l-0.38 0.46M252.54 885.31l-0.32 -0.18M276.11 885.35l-0.29 0.18M277.98 885.3l0.28 0.31M303.67 885.79l-0.34 0.42M235.82 889.63l0.42 0.16M249.71 888.45l-0.12 0.36M266.53 887.77l0.3 -0.06M268.23 890.1l-0.15 -0.06M230.79 891.81l-0.32 0.35M245.77 893.07l0.41 0.2M259.57 891.38l-0.46 -0.11M271.25 892.13l-0.45 -0.01M301 891.77l-0.24 -0.16M263.35 895l0.04 -0.12M273.92 895.58l0.28 -0.01M255.82 899.72l-0.5 -0.06M260.43 899.76l0.34 -0.16M299.07 903.13l0.11 0.32M314.63 902.7l-0.49 0.05M255.63 906.1l-0.26 -0.45M260.21 906.41l-0.36 0.48M267.04 905.53l0.3 -0.42M322.55 904.88l-0.37 -0.15M329.7 906.4l-0.42 -0.46M236.41 908.31l-0.34 -0.11M238.81 908.6l-0.45 0.41M247.57 907.33l-0.34 0.06M257.75 907.69l-0.25 0.48M291.73 907.3l0.47 0.14M233.3 911.49l-0.34 -0.22M239.28 912.85l-0.34 -0.17M259.26 910.59l0.13 -0.37M268.91 910.39l-0.11 -0.08M278.92 912.24l0.11 0.18M299.39 913.89l0.26 -0.25M307.11 913.52l-0.44 -0.35M234.39 918.96l-0.02 0.1M270.37 918.28l-0.04 -0.23M279.05 918.99l0.43 -0.29M285.24 918.37l-0.09 0.07M311.95 916.97l-0.36 -0.21M330.59 917.43l-0.06 -0.27M231.84 921.03l0.05 0.43M250.65 920.94l-0.37 0.37M270.01 921.57l0.13 0.25M287.99 921.96l0.49 -0.34M296.24 922.43l-0.46 -0.01M301.64 921.05l0.15 0.44M310 921.01l0.44 -0.21M279.27 924.44l-0.29 0.18M305.42 923.41l0.38 0.33M313.11 924.12l-0.28 0.19M330.02 925.41l0.29 -0.36M269.35 926.99l-0.43 -0.06M272.96 928l-0.19 -0.4M294.67 928.5l0.46 -0.36M245.56 930.6l-0.23 0.32M277.52 934.8l0.03 0.26M329.18 934.61l-0.4 -0.45M255.84 938.22l0.23 -0.28M301.1 937.42l-0.09 -0.13M303.59 936.19l0.26 -0.46M228.4 939.99l0.4 0.45M235.19 940.41l-0.1 -0.18M268.44 939.36l-0.3 0.31M320.29 940.35l0.03 -0.08M326.17 940.82l-0.01 0.17M244.32 943.57l0.49 -0.36M281.22 943l-0.48 -0.1M303.13 945.94l0.29 -0.44M312.96 946.27l-0.49 0.1M248.57 951.33l0.31 -0.21M300.17 949.58l-0.25 -0.4M319.43 951.44l-0.01 -0.19M243.07 954.44l0.31 -0.36M273.18 954.51l0.34 -0.43M283.47 952.57l-0.24 -0.34M295.89 954.25l-0.31 -0.21M253.58 957.75l-0.4 0.14M260.01 955.54l0.12 -0.47M283.38 957.89l-0.49 0.27M286.58 955.64l0.28 0.49M290.15 956.81l-0.08 -0.23M305.77 957.78l0.32 0.34M307.36 957.28l-0.15 -0.25M314.5 956.77l-0.39 0.2M249.84 960.32l0.49 -0.05M277.22 958.86l0.44 0.32M314.29 960.21l0.12 -0.44M233.61 963.63l-0.2 0.17M252.79 962.22l0.1 0.29M281.57 964.38l-0.16 0.08M316.62 962.72l-0.19 -0.02M326.16 962.05l-0.34 -0.38M272.03 965.93l-0.46 -0.44M279.06 969.16l-0.36 -0.19M293.2 970.08l0.19 -0.46M315.81 969.35l0.09 -0.24" stroke="#2a3350" stroke-width="3.1" stroke-linecap="round" fill="none"/>
<rect x="229.8" y="868.9" width="101.2" height="100.8" filter="url(#nf24)"/>
</g>
<text x="311.6" y="959.5" font-size="7" font-weight="bold" text-anchor="middle" fill="#000" stroke="#000" stroke-width="0.14">25 µm</text>
<line x1="302" y1="963.1" x2="321.2" y2="963.1" stroke="#000" stroke-width="1.5"/>
<rect x="229.8" y="972" width="101.2" height="101.6" fill="#a6b9d8"/>
<rect x="229.8" y="972" width="101.2" height="101.6" filter="url(#nf25)"/>
<g clip-path="url(#c32)">
<path d="M228.43 974.15l0.47 -0.15M231.86 971.9l-0.02 -0.05M240.3 971.95l0.31 0.04M254.96 972.83l0.43 0.09M266.52 972.8l0.01 -0.44M272.98 972.52l0.12 0.42M288.3 973.39l0.2 0.5M290.96 973.93l0.38 -0.3M314.03 972.89l-0.29 -0.22M322.8 972.99l0.5 -0.23M330.03 973.25l-0.37 0.17M239.39 976.45l-0.34 -0.05M246.62 975.09l0.26 -0.48M258.77 976.7l0.5 -0.45M261.93 977.46l-0.14 0.44M280.76 975.75l-0.26 0.44M285.25 975.2l-0.09 -0.45M304.67 976.4l0.49 0.31M312.47 977.49l0.25 -0.02M236.45 980.06l0.1 0.16M241.1 980.88l0.24 0.01M244.43 979.94l0.37 0M259.94 979.17l0.19 -0.44M276.29 978.58l0.19 -0.39M286.11 980.42l-0.41 -0.37M294.09 980.15l0.23 0.25M297.89 979.54l0.45 -0.19M310.94 980.68l0.44 0.11M315.25 978.87l0.18 0.4M330.09 979.83l-0.2 -0.35M242.91 982.31l0.03 -0.35M249.34 983.46l-0.18 0.44M262.19 983.84l0.2 -0.34M268.65 983.82l0.45 0.3M284.28 983.76l0.36 0.5M290.12 983.15l-0.35 0.1M304.59 982.35l0.49 0.26M309.08 982.47l0.14 0.32M324.54 983.78l-0.28 -0.06M329.17 983.38l0.49 -0.16M252.7 987.37l0.31 0.48M256.49 986.46l-0.47 0.24M260.66 987.32l-0.49 -0.43M269.01 986.29l0.37 -0.24M272.97 987.65l0.32 -0.26M284.03 985.46l0.22 -0.49M302.01 985.6l-0.36 0.42M331.37 986.3l0.13 -0.19M233.55 990.82l0.31 0.09M238.71 990.71l-0.3 -0.2M242.53 988.82l-0.1 -0.11M245.95 990.77l0.45 0.32M250.38 990.06l-0.18 -0.21M266.44 991.15l0.08 -0.06M270.99 989.32l0.11 0.46M280.85 990.75l-0.19 0.03M286.55 988.62l0.33 -0.15M288.41 990.99l-0.19 0.01M297.25 990.17l0.23 0.44M308.09 991.16l-0.49 0.46M327.33 988.67l-0.33 -0.26M231.59 993.65l0.48 -0.43M236.16 993.86l0.24 0.32M256.63 992.36l-0.39 -0.16M267.62 992.52l-0.08 -0.06M271.4 992.82l0.2 0.42M298.11 993.73l0.05 0.24M302.04 992.35l-0.41 -0.41M306.39 994.11l0.31 0.12M323.16 993.58l0.48 -0.22M243.39 996.68l-0.28 -0.04M258.45 996.94l-0.06 -0.31M262.95 996.76l-0.05 -0.42M272.95 995.67l0.35 0.18M276.51 996.43l0.2 -0.13M288.45 995.97l0.25 0.06M315.79 996.21l0.45 -0.33M319.81 995.96l0.47 0.13M323.5 997.48l0.09 -0.27M229.99 999.15l-0.21 0.1M236.55 1001.07l0.09 -0.34M252.33 999.92l-0.24 -0.45M255.14 1000.54l-0.39 0.01M261.23 1000.87l0.42 -0.27M262.72 1001.11l-0.38 -0.31M267.21 1000.83l-0.17 -0.14M276.07 1000.25l-0.35 0.43M287.9 998.87l0.22 -0.33M325.59 998.87l-0.15 0.46M231.99 1003.64l0.1 0.48M234.22 1003.5l-0.04 -0.23M239.19 1003.51l0.06 0.37M241.97 1003.28l-0.24 -0.25M245.08 1003.33l0.3 -0.33M272.79 1002.67l-0.08 -0.34M277.74 1003.11l-0.32 0.36M292 1002.3l-0.3 0.12M296.09 1003.85l-0.3 0.39M304.12 1003.53l-0.24 -0.23M231.97 1006.2l0.29 -0.36M247.46 1007.31l-0.47 0.14M252.71 1006.75l0.46 -0.49M255.9 1007.35l-0.29 0.01M267.52 1006.62l0.47 0M270.77 1006.93l0.06 -0.18M279.98 1007.21l-0.23 0M286.65 1006.11l-0.1 0.23M295.87 1007.26l0.48 0.34M298.59 1008.15l-0.38 -0.49M311.1 1007.33l-0.16 -0.47M329.58 1007.86l0.27 0.43M234.98 1008.97l0.5 0.14M249.2 1011.04l-0.06 0.25M254.61 1010.58l0.37 0.33M258.26 1011.05l-0.13 0.36M273.66 1009.2l0.3 0.26M277.3 1011.57l-0.22 0.43M281.65 1011.24l-0.01 -0.22M284.91 1011.5l-0.23 -0.1M293.5 1011.51l-0.43 -0.47M296.13 1009.28l-0.19 -0.34M303.76 1009.77l-0.24 -0.22M229.84 1013.01l0.26 -0.01M248.21 1012.61l0.41 0.4M282.31 1013.11l-0.01 0.42M305.55 1014.66l0.34 -0.22M309.48 1012.71l-0.15 -0.39M318.36 1013.72l-0.43 -0.28M322.79 1014.5l-0.31 -0.3M329.65 1013.48l-0.35 -0.36M231.03 1016.15l-0.24 -0.12M238.8 1017.71l-0.13 -0.3M250.97 1016.2l0.09 0.13M253.2 1016.47l0.07 0.28M263.13 1016.5l0.48 0.42M266.74 1016.01l0.34 -0.43M282 1016.03l-0.18 -0.46M285.15 1018.34l-0.42 -0.3M290.5 1017.44l0.44 0.05M296.29 1016.43l-0.33 0.39M305.35 1016.74l0.23 -0.18M323.67 1015.92l0.22 0.49M228.55 1020.28l0.44 -0.35M256.83 1019.66l-0.25 -0.29M259.15 1021.71l0.43 -0.34M276.55 1020.91l-0.36 0.1M287.18 1021.19l0 -0.46M307.3 1019.74l0.22 0.13M325.51 1019.83l0.48 -0.42M330.07 1019.97l0.23 0.3M230.33 1023.62l0.2 -0.09M238.13 1024.87l-0.49 -0.17M243.16 1023.2l-0.37 0.44M285.14 1024.57l0.21 0.32M289.08 1024.1l0.48 -0.11M294.07 1023.64l-0.03 0.13M301.04 1024.64l0.2 0.01M312.83 1024.55l-0.41 0.41M329.26 1023.81l0.3 -0.19M236.14 1028.08l-0.21 -0.27M255.02 1026.87l-0.11 0.24M259.32 1027.02l0.33 -0.13M299.09 1027.25l-0.19 0.11M302.46 1026.25l-0.43 -0.3M305.7 1026.93l0.4 -0.23M309.54 1026.79l0.34 -0.49M319.18 1026.96l-0.44 0.42M331.11 1026.97l-0.34 0.25M230.44 1029.89l0.44 -0.48M239.33 1030.62l-0.27 -0.35M243.65 1029.7l0.43 0.12M253.68 1030.41l-0.03 0.39M265.95 1029.36l-0.46 0.37M269.07 1030.3l0.34 0.19M273.27 1030.89l0.47 -0.38M276.84 1029.57l0.48 -0.43M297.98 1030.68l0.11 -0.32M299.68 1030.5l0.26 -0.3M313.85 1031.08l0.23 0.17M319.66 1029.99l-0.28 -0.05M329.52 1030.15l0.22 -0.23M229 1034.08l-0.35 -0.32M245.44 1035.07l0.24 0.05M256.87 1034.75l-0.43 -0.5M264.19 1033.65l-0.07 -0.12M284.1 1035.03l-0.23 -0.16M287.1 1034.12l0.27 0.18M294.17 1032.94l-0.25 0.12M299.55 1033.18l-0.05 -0.4M302.18 1034.2l-0.05 -0.27M315.29 1033.17l0.01 0.5M317.38 1034.31l0.16 -0.06M322.45 1033.77l0.39 -0.01M330.96 1033.28l0.2 0.07M230.74 1037.2l-0.26 0.44M238.49 1037.07l-0.25 -0.15M254.63 1038.04l-0.08 0.5M257.21 1036.21l0.36 -0.08M261.84 1038.71l-0.02 0.01M288.8 1037.28l-0.06 0.2M323.88 1037.46l0.34 0.1M329.16 1038.64l0.15 -0.05M233.32 1040.15l0.33 0.14M236.18 1040.06l0.01 0.19M253.45 1040.67l0.37 0.2M255.73 1041.84l-0.27 0.47M259.49 1039.7l0.46 0.02M266.5 1041.23l0.38 -0.21M275.13 1041.15l0.43 -0.38M280.58 1040.33l-0.48 -0.33M303.64 1039.91l0.38 -0.18M306.61 1039.72l0.01 -0.14M323.43 1041.83l-0.2 -0.45M241.32 1045.46l0.23 -0.14M246.45 1045.16l0.46 -0.37M257.1 1044.86l-0.08 -0.16M265.42 1045.14l-0.06 0.18M297.93 1045.46l0.25 0.24M241.72 1046.97l0.48 -0.39M252.75 1048.17l-0.34 -0.24M256.67 1048.52l0.42 -0.4M282.82 1047.78l0.39 -0.24M298.52 1047.07l0.17 -0.31M307.03 1046.36l-0.06 0.33M311.19 1047.19l-0.49 -0.43M231.98 1051.08l-0.17 -0.41M239.08 1050.95l0.16 0.48M241.49 1052.08l0 0.23M250.34 1050.91l0.01 0.4M270.39 1052.05l-0.04 0.36M274.9 1051.74l0.37 -0.14M289.35 1051.48l0.03 0.13M292.12 1050.48l0.01 -0.13M308.18 1051.08l-0.16 -0.28M312 1050.4l-0.18 0.42M324.26 1050.03l0.04 0.29M327.48 1051.63l0.26 -0.2M228.81 1054.91l0.45 -0.03M257.15 1055.01l-0.03 0.08M276.29 1055.3l-0.14 0.37M278.75 1054.26l-0.09 0.24M287.05 1055.6l0.29 0.11M292.04 1055.23l0.35 -0.27M293.81 1054.02l0.31 -0.05M304.05 1055.48l-0.5 -0.4M330.31 1053.69l0.31 -0.4M230.81 1058.23l-0.29 0.06M250.13 1058.69l0.01 -0.18M284.1 1056.75l0.13 -0.36M294.05 1057.44l0.11 -0.24M296.05 1057.75l0.41 0.2M301.92 1058.82l-0.26 -0.06M304.44 1056.97l-0.49 0.09M307.86 1057.08l-0.45 0.28M315.91 1057.56l0.47 0.48M263.84 1059.92l0.4 -0.11M268.1 1060.3l0.2 -0.39M286.8 1060.68l-0.17 0.47M295.66 1060.52l0.07 0.18M297.9 1061.8l0.35 0.1M302.04 1061.13l-0.23 0.43M310.78 1061.72l0.23 -0.37M318.36 1062.22l-0.1 -0.12M323.01 1061.32l-0.18 0.19M330.53 1060.6l0.29 0.36M232.01 1063.78l-0.05 -0.26M241.33 1064.82l-0.26 -0.46M257.15 1063.36l-0.25 -0.23M269.52 1065.32l0.36 -0.17M281.42 1065.62l0.48 0.08M284.77 1063.74l-0.41 -0.37M296.72 1065.43l-0.47 0.3M304.94 1065.1l0.18 -0.37M312 1064.23l-0.49 -0.07M228.13 1067.75l0.17 0.38M243.17 1066.79l0.15 0.42M249.6 1067.9l-0.48 -0.47M252.32 1068.73l0.5 0.26M270.43 1068.2l-0.26 -0.18M284.32 1067.84l0.43 -0.17M295.01 1069.07l-0.36 0.31M310.06 1067.74l0.14 0.05M314.84 1067.97l-0.41 0.38M325.42 1066.98l-0.41 0.34M237.74 1070.66l0.02 -0.17M251.13 1070.45l0.31 -0.1M258.14 1072.36l-0.3 -0.22M264.65 1072.2l0.29 0.08M273.74 1070.55l0.14 0.01M289.38 1072.24l-0.14 0.09M296.13 1072.32l0.42 0.29M300.63 1071.73l0.08 -0.21M312.46 1070.17l0.4 0.37M319.65 1070.32l-0.5 -0.18M327.59 1072l-0.13 0.23" stroke="#34508e" stroke-width="2.6" stroke-linecap="round" fill="none"/>
<path d="M235.43 973.07l-0.13 -0.05M252.53 972.64l-0.47 0.45M279.24 974.22l-0.2 -0.18M293.95 973.04l0.42 -0.26M302.51 972.8l0.2 0.15M305.85 973.28l0.28 0.38M311.68 972.5l-0.29 -0.32M319.02 973.08l-0.13 0.39M231.7 975.1l0.17 -0.14M234.2 975.54l0.48 -0.25M241.28 977.36l0.2 0.22M251.39 976.38l-0.44 0.11M254.54 975.77l-0.31 -0.43M265.92 975.55l-0.27 -0.07M288.35 976.62l0.46 0.31M294.45 976.44l-0.06 -0.27M297.24 976.05l0.35 -0.19M300.23 977.23l0.17 -0.47M308.92 976.1l-0.48 -0.43M317.67 975.94l-0.08 0.34M321.31 977.51l0.2 -0.33M328.16 976.18l0 0.14M227.69 978.99l-0.5 0.47M233.59 978.65l-0.18 0.22M252.59 980.44l0.3 -0.33M264.05 979.64l0.25 -0.12M267.97 979.68l0.29 0.47M270.83 980.72l0.5 0.01M278.32 980.48l-0.06 0.25M284.04 980.62l0.19 -0.14M290.46 980.36l0.12 0.47M302.46 980.36l0.01 -0.18M308.03 980.4l0.19 -0.04M321.34 979.16l-0.12 -0.16M325.05 979l0.2 0.44M229.67 983.03l0.01 0.4M254.08 982.53l-0.08 -0.07M257.35 981.85l-0.36 -0.33M264.89 983.87l-0.39 0.22M274.75 983.16l-0.42 -0.19M281.36 982.24l-0.5 -0.19M293.68 984.08l0.42 0.07M313.23 983.19l-0.32 -0.05M229.79 986.91l-0.4 0.33M231.58 987.03l0.17 0.31M241.76 985.34l0.02 0.35M243.87 985.87l-0.12 0.23M247.06 986.25l-0.35 -0.46M262.67 986.97l0.24 -0.34M278.32 985.48l-0.03 0.1M288.24 985.91l-0.01 0.48M293.92 985.85l0.46 0.41M298.35 987.77l-0.38 0.49M306.67 987.47l-0.15 0.06M311.83 987.3l-0.36 0.35M318.23 985.91l-0.09 -0.14M323.07 987.68l0.45 0.07M327.12 986.09l-0.4 -0.31M231.94 989.95l0.01 0.43M253.44 989.93l-0.43 0.24M258.84 989.22l-0.28 0.34M260.97 988.62l-0.4 0.2M274.02 990.73l-0.16 -0.08M277.76 988.71l0.02 -0.49M293.73 989.31l-0.24 0.46M301.16 990.36l-0.05 0.4M304.45 988.83l0.01 0.19M315.34 990.06l0.08 -0.39M321.24 990.77l0.18 -0.17M324.71 990.63l-0.29 -0.02M228.65 993.25l0.17 -0.18M244.53 992.24l0.32 0.23M247.57 993.12l-0.13 0.06M261.25 992.33l0.13 0.43M264.97 993.41l0.4 0.03M275.02 992.32l-0.02 -0.27M280.53 994.58l0.29 0.38M288.54 993.55l0.15 -0.41M296.12 993.7l-0.47 0.07M313.4 993.42l-0.34 0.45M331.13 993.09l0.15 0.46M230 997.25l-0.27 0.32M234.44 995.98l0.4 -0.12M237.5 996.52l-0.34 -0.19M247.43 996.23l0.19 -0.28M249.18 996.45l-0.18 -0.49M254.09 996.16l0.21 0.35M270.69 996.85l0.47 0.27M282.1 996.99l-0.21 -0.18M284.92 997.78l0.14 -0.31M297.38 995.44l0.1 -0.45M302.08 997.96l0 -0.36M305.05 995.54l0.01 0.5M308.81 996.22l-0.24 0.11M233.39 1000l0.13 -0.37M245.08 1000.55l0.42 -0.17M248.48 999.1l0.08 -0.32M271.6 999.09l0 0.18M282.61 1000.74l-0.43 0.04M294.59 1000.09l-0.17 0.21M301.71 998.87l-0.09 -0.08M307.76 999.21l-0.23 -0.15M309.97 1000.43l-0.39 0.32M315.8 1000.19l-0.42 0.18M319.8 1000.53l0.09 0.3M322.21 1001.33l0.44 -0.46M331.04 999.39l-0.42 0.45M250.38 1003.06l-0.07 -0.11M258.15 1002.65l0.38 -0.39M261 1003.49l0.01 0.4M264.9 1002.88l0.38 -0.13M281.26 1002.71l-0.05 -0.11M285.34 1004.31l-0.17 0.31M288.2 1003.56l-0.02 -0.44M300.72 1003.09l0.38 -0.37M307.6 1002.65l0.32 0.26M311.47 1002.8l-0.05 0.25M323.24 1003.93l-0.03 -0.37M327.62 1004.15l0.04 0.28M229.69 1007.5l0.23 -0.11M236.68 1007.84l0.48 -0.04M243.46 1006.04l0.34 0.04M261.17 1007.73l0.18 0.36M263.03 1007.19l-0.45 0.4M276.4 1007.33l0.4 -0.42M301.97 1007.1l-0.37 -0.17M314.04 1007.33l-0.11 -0.41M319.22 1007.89l-0.29 -0.35M323.43 1007.99l-0.49 0.48M230.14 1010.37l0.08 -0.06M238.98 1010.8l0.18 0.28M247.6 1010.12l-0.39 -0.2M262.8 1010.72l0.03 -0.1M269.12 1010.39l0.23 -0.06M288.88 1010.57l0.01 0.32M308.98 1010.07l-0.36 -0.24M320.02 1009.24l-0.3 -0.47M325.5 1009.31l-0.46 0.21M329.46 1010.12l-0.03 -0.17M237.41 1013.29l-0.45 -0.25M245.31 1013.82l-0.46 0.13M251.33 1012.52l0.48 -0.18M257.01 1014.13l0.04 0.25M259.66 1013.2l0.17 0.21M268.57 1012.53l-0.23 -0.12M272.89 1013.49l0.03 -0.27M276.73 1014.54l0.04 0.27M279.66 1012.59l0.46 0.33M291.71 1014.38l-0.1 -0.25M299.02 1014.16l0.41 -0.5M302.33 1013.46l-0.27 -0.4M314.36 1012.8l0.16 -0.4M326.72 1012.78l-0.02 -0.47M243.59 1018.14l-0.43 0.09M245.85 1018.05l0.42 0.17M269.46 1018.15l0.31 -0.46M277.98 1017.25l0.41 0.46M293.66 1016.09l-0.31 -0.46M317.03 1016.76l-0.46 -0.12M319.48 1015.79l-0.26 0.12M329.12 1016.71l-0.04 -0.31M232.28 1021.09l0.05 0.27M236.84 1019.51l0.43 0.14M239.6 1021.52l-0.23 -0.48M247.07 1020.8l-0.1 0.29M265.15 1020.16l0.03 0.34M271.74 1020.05l0.25 -0.04M278.4 1021.39l0.18 -0.42M291.96 1021.07l-0.33 -0.28M296.3 1021.17l0.11 0.12M304.12 1019.45l-0.35 -0.44M313.68 1020.08l-0.14 -0.4M318.74 1020.24l-0.13 -0.02M323.26 1019.27l-0.2 -0.11M235.71 1024.35l-0.39 0.13M246.7 1025.04l0.02 0.19M253.11 1023.77l-0.33 0.12M257.23 1023.57l0.46 0.22M262.59 1023.02l-0.18 0.13M266.21 1024.4l0.07 0.25M270.47 1024.08l0.01 -0.12M281.45 1024.76l-0.24 -0.23M298.14 1023.51l0.4 0.15M306.08 1024.5l-0.4 -0.49M309.56 1023.68l0.49 0.45M315.56 1022.9l0.29 -0.33M231.76 1028.38l0.27 0.28M239.32 1026.5l-0.15 0.36M243.27 1028.08l-0.4 0M247.24 1027.05l0 -0.47M267.13 1028.05l-0.06 -0.3M272.79 1026.91l-0.47 -0.41M276.48 1028.33l0.17 -0.41M284.33 1028.43l0.05 0.2M287.34 1028.29l-0.41 0.26M294.02 1027.26l0.23 0.07M314.78 1027.63l-0.15 -0.09M322.74 1028.47l-0.39 0.06M326.78 1027.94l0.1 0.41M235 1029.99l0.11 0.12M247.63 1030.68l-0.06 -0.05M251.54 1030.15l0.21 -0.02M258.88 1030.65l-0.13 0.17M261.61 1030.55l0.47 0.09M280.59 1029.44l-0.39 -0.07M290.34 1030.31l0.23 -0.36M307.61 1030.61l0.42 -0.42M315.7 1030.59l-0.42 -0.08M323.18 1029.55l0.37 0.11M231.65 1033.49l0.47 0.19M236.81 1034.92l-0.32 -0.23M239.5 1033.17l-0.44 -0.02M249.16 1035.12l-0.43 -0.3M251.21 1033.41l0.32 -0.05M260.09 1033.42l-0.39 -0.41M266.67 1033.88l0.03 -0.4M272.74 1033.15l-0.3 0.17M274.73 1033.02l-0.39 0.17M278.22 1034.86l0.49 -0.2M290.88 1034.36l-0.08 -0.37M307.53 1033.48l-0.21 -0.04M326.56 1033.79l0.38 0.25M235.51 1037.78l-0.11 0.23M243.71 1037.29l0.23 -0.23M248.95 1037.47l0.03 0.04M268.73 1037.19l-0.48 0.35M274.47 1037.24l-0.46 -0.33M277.12 1038.61l-0.48 -0.33M282.24 1036.69l-0.26 -0.09M286.06 1036.2l0.15 0.43M292.13 1036.44l0.44 -0.32M303.99 1036.49l-0.4 0.38M313.91 1038.14l-0.35 0.08M315.59 1036.15l-0.37 -0.36M321.65 1037.91l0.39 0.46M229.87 1040.08l0.08 0.3M241.5 1041.75l-0.36 0.49M243.76 1042.01l-0.31 0.28M271.55 1040.46l0.35 0.46M284.09 1041.59l-0.28 0.31M295.5 1040.72l0.36 -0.41M298.41 1041.75l-0.06 0.07M325.1 1040.48l0.39 -0.18M233.56 1044.39l-0.33 0.06M249.94 1044.28l0.05 0.2M254.77 1044.54l0.4 0.23M269.79 1043.34l0.24 -0.38M274.75 1045.23l-0.16 -0.49M290.44 1045.1l0.01 0.04M293.46 1044.78l0.18 -0.14M304.15 1045.48l0.21 -0.02M317.55 1043.88l-0.18 0.5M319.59 1043l0.47 0.45M323.88 1043.13l-0.33 0.07M328.99 1043.38l0.2 0.04M231.78 1047.63l-0.29 -0.15M236.86 1047.92l-0.28 -0.14M248.4 1048.06l-0.05 0.08M259.24 1047.43l-0.26 -0.15M262.73 1048.7l0.26 0.06M272.99 1047.68l0.34 0.17M275.71 1047.54l-0.37 0.38M288.38 1048.59l-0.47 -0.46M290.59 1047.9l-0.27 -0.42M294.26 1048.49l0.32 0.19M302.09 1047.56l-0.49 0.31M315.01 1046.39l0.46 -0.46M318.64 1047.73l0.48 -0.16M321.98 1047.6l0.18 0.23M325.47 1048.43l0.29 -0.24M331.45 1047.15l-0.3 0.39M245.36 1051.77l-0.43 -0.32M253.42 1049.91l-0.15 -0.01M257.62 1051.24l-0.41 -0.07M278.39 1050.9l-0.37 -0.1M281.16 1051.34l0.12 -0.31M284.16 1050.57l0.2 -0.36M295.84 1052.13l0.19 0.48M300.79 1052.21l-0.41 0.48M316.99 1049.85l0.43 0.49M321.27 1051.72l0.49 -0.15M232.12 1055.08l-0.47 0.28M236.63 1053.64l0.37 0.13M248.48 1053.39l0.01 -0.19M252.93 1053.19l-0.06 -0.43M259.82 1054.16l-0.42 -0.06M267.65 1055.55l-0.39 0.11M298.61 1055.63l0.11 -0.37M310.32 1053.22l-0.09 -0.41M313.77 1053.32l0.36 -0.35M322.62 1055.68l0.22 -0.45M325.46 1055.14l-0.15 0.27M242.25 1056.58l-0.16 -0.42M247.01 1057.61l-0.28 0.38M253.92 1058.65l0.15 0.41M257.47 1057.32l0.06 0.48M262.47 1057.86l0.23 0.43M264.77 1056.8l0.41 -0.3M268.46 1058.84l0.45 0.01M289.04 1058.45l-0.15 0.24M313.9 1056.59l-0.12 0.46M328.7 1058.02l-0.26 -0.27M228.67 1061.1l0.4 -0.4M232.72 1062.33l-0.45 -0.43M235.45 1061.39l0.41 0.19M240.57 1062.19l0.25 0.17M244.75 1061.17l0.19 -0.39M247.08 1059.91l-0.41 -0.43M257.2 1060.76l-0.25 0.04M259.83 1061.2l0.23 0.4M271.29 1060.84l0.39 -0.4M275.54 1060.8l-0.44 0.2M280.32 1061.93l-0.44 0.42M282.31 1062.35l0.24 -0.16M289.98 1060.39l-0.41 0.04M246.24 1063.53l0.09 -0.49M250.35 1064.15l-0.32 0.13M255.33 1065.08l-0.35 -0.22M262.41 1065.36l0.48 -0.1M265.84 1064.27l0.16 -0.02M273.22 1063.6l0.34 0.39M289.86 1064.29l0.07 0.41M293.22 1064.77l0.2 0.49M300.18 1064.65l0.33 0.15M308.69 1065.55l-0.13 -0.43M320.24 1065.19l0.08 0.38M324.19 1065.27l-0.46 0.32M233.07 1069.14l-0.48 0.34M256.45 1067l0.1 0.24M258.86 1068.92l0.12 0.4M268.15 1068.45l-0.09 0.37M275.31 1068.71l-0.39 0.01M279.26 1066.95l-0.01 0.15M292.26 1067.85l0.3 0.19M298.25 1066.9l0.15 0.02M307.36 1068.95l0.18 0.22M317.88 1069.16l0.1 0.12M329.76 1066.84l-0.05 0.23M230.35 1071.48l-0.35 0.04M233.47 1071.31l-0.49 -0.19M247.6 1071.09l0.48 0.25M255.18 1071.93l0.34 -0.16M270.96 1071.63l0.06 0.06M280.98 1070.86l-0.49 -0.24M294.26 1072.61l-0.5 -0.02M303.58 1070.42l0.43 0M307.97 1072.6l0.21 0.25M315.29 1071.1l0.21 -0.03M325.64 1072.26l0.09 -0.26" stroke="#4d68a6" stroke-width="2.4" stroke-linecap="round" fill="none"/>
<path d="M249.27 972.01l-0.1 -0.33M278.54 976.7l-0.23 -0.19M248.76 979.01l-0.39 -0.31M317.58 979.44l-0.07 0.34M297.7 983.96l-0.07 0.36M301.36 982.52l0.2 -0.21M320.76 984.16l-0.24 -0.14M237.53 986.73l0.03 0.37M276 986.37l-0.05 0.07M315.71 987.23l0.02 -0.36M239.91 992.43l0.21 0.14M292 994.6l-0.13 0.37M240.28 1001.09l-0.19 0.03M269.28 1003.45l-0.44 0.47M326.71 1007.91l-0.42 -0.25M243.08 1009.83l0.06 0.3M317.07 1009.39l-0.34 0.48M239.88 1014.25l0.1 0.34M263.03 1013.17l-0.09 -0.32M295.76 1013.09l-0.07 0M301.61 1016.64l0.05 -0.01M309.28 1016.27l-0.47 0.05M312.69 1016.26l0.06 0.01M282.45 1019.7l-0.06 -0.33M311.49 1021.67l-0.21 0M320.19 1024.61l0.17 -0.23M324.91 1022.6l-0.33 -0.11M227.57 1026.61l0.04 0.02M291.1 1028.27l0.15 0.29M284.91 1031.34l0.17 -0.4M305.35 1031.64l0.39 -0.24M309.6 1032.79l0.13 -0.09M265.41 1036.4l-0.45 0.22M308.7 1038.72l0.39 -0.27M249.29 1041.34l-0.07 -0.21M264.3 1041.02l-0.28 -0.12M309.68 1041.92l0.17 0.23M329.66 1041.09l-0.03 -0.32M229.68 1044.72l-0.12 0.29M237.44 1043.43l0.39 0.41M276.76 1044.42l-0.35 -0.34M282.47 1043.43l0.32 -0.14M311.65 1045.33l0.13 0.35M244.03 1046.48l-0.18 0.45M267.06 1046.7l0.11 0.41M279.76 1048.13l0.48 -0.02M234.83 1049.76l0.48 -0.29M266.55 1049.98l0.04 -0.41M271.13 1053.79l-0.33 0.18M276.47 1057.49l-0.16 -0.16M323.17 1058.25l0.05 -0.39M314 1061.51l-0.25 0.3M317.8 1063.52l0.35 -0.34M239.79 1067.17l0.32 -0.12M287.86 1068.65l0.15 0.42M242.99 1072.19l-0.36 0.32M261.24 1071.03l-0.18 -0.47M277.41 1071.36l0.04 0.17M286.31 1072.58l-0.05 -0.14" stroke="#2a3350" stroke-width="3.1" stroke-linecap="round" fill="none"/>
</g>
<text x="311.6" y="1062.6" font-size="7" font-weight="bold" text-anchor="middle" fill="#000" stroke="#000" stroke-width="0.14">25 µm</text>
<line x1="302" y1="1066.2" x2="321.2" y2="1066.2" stroke="#000" stroke-width="1.5"/>
<rect x="332.5" y="661.2" width="101.1" height="101.3" fill="#020218"/>
<rect x="332.5" y="661.2" width="101.1" height="101.3" filter="url(#nf26)"/>
<rect x="332.5" y="661.2" width="101.1" height="101.3" filter="url(#nf34)"/>
<text x="416.8" y="751.8" font-size="7" font-weight="bold" text-anchor="middle" fill="#fff" stroke="#fff" stroke-width="0.14">100 µm</text>
<line x1="406.7" y1="755.2" x2="422.3" y2="755.2" stroke="#fff" stroke-width="1.5"/>
<rect x="332.5" y="765" width="101.1" height="100.7" fill="#020218"/>
<rect x="332.5" y="765" width="101.1" height="100.7" filter="url(#nf27)"/>
<path d="M332.5 765 L392 765 C378 770 360 776 345 785 C340 790 336 795 332.5 800 Z" fill="#000" opacity="0.75" filter="url(#soft)"/><path d="M405 765 L433.6 765 L433.6 805 C425 795 415 780 405 765 Z" fill="#000" opacity="0.45" filter="url(#soft)"/>
<rect x="332.5" y="765" width="101.1" height="100.7" filter="url(#nf35)"/>
<text x="416.8" y="855.6" font-size="7" font-weight="bold" text-anchor="middle" fill="#fff" stroke="#fff" stroke-width="0.14">100 µm</text>
<line x1="406.7" y1="859" x2="422.3" y2="859" stroke="#fff" stroke-width="1.5"/>
<rect x="332.5" y="868.9" width="101.1" height="100.8" fill="#020218"/>
<rect x="332.5" y="868.9" width="101.1" height="100.8" filter="url(#nf28)"/>
<rect x="332.5" y="868.9" width="55" height="100.8" fill="#000" opacity="0.3"/>
<rect x="332.5" y="868.9" width="101.1" height="100.8" filter="url(#nf36)"/>
<text x="416.8" y="959.5" font-size="7" font-weight="bold" text-anchor="middle" fill="#fff" stroke="#fff" stroke-width="0.14">100 µm</text>
<line x1="406.7" y1="962.9" x2="422.3" y2="962.9" stroke="#fff" stroke-width="1.5"/>
<rect x="332.5" y="972" width="101.1" height="101.6" fill="#020218"/>
<rect x="332.5" y="972" width="101.1" height="101.6" filter="url(#nf29)"/>
<rect x="332.5" y="972" width="101.1" height="101.6" filter="url(#nf37)"/>
<text x="416.8" y="1062.6" font-size="7" font-weight="bold" text-anchor="middle" fill="#fff" stroke="#fff" stroke-width="0.14">100 µm</text>
<line x1="406.7" y1="1066" x2="422.3" y2="1066" stroke="#fff" stroke-width="1.5"/>
<rect x="351.5" y="693.5" width="27.6" height="27.2" fill="none" stroke="#fff" stroke-width="1.3" stroke-dasharray="1.2 1.1"/>
<line x1="379.1" y1="693.5" x2="433.6" y2="661.2" stroke="#fff" stroke-width="1.3" stroke-dasharray="1.2 1.1"/>
<line x1="379.1" y1="720.7" x2="433.6" y2="762.5" stroke="#fff" stroke-width="1.3" stroke-dasharray="1.2 1.1"/>
<rect x="373.3" y="769" width="26.7" height="25.7" fill="none" stroke="#fff" stroke-width="1.3" stroke-dasharray="1.2 1.1"/>
<line x1="400" y1="769" x2="433.6" y2="765" stroke="#fff" stroke-width="1.3" stroke-dasharray="1.2 1.1"/>
<line x1="400" y1="794.7" x2="433.6" y2="865.7" stroke="#fff" stroke-width="1.3" stroke-dasharray="1.2 1.1"/>
<rect x="390.9" y="913" width="27.7" height="29.8" fill="none" stroke="#fff" stroke-width="1.3" stroke-dasharray="1.2 1.1"/>
<line x1="418.6" y1="913" x2="433.6" y2="868.9" stroke="#fff" stroke-width="1.3" stroke-dasharray="1.2 1.1"/>
<line x1="418.6" y1="942.8" x2="433.6" y2="969.7" stroke="#fff" stroke-width="1.3" stroke-dasharray="1.2 1.1"/>
<rect x="397.3" y="980" width="28.2" height="27.8" fill="none" stroke="#fff" stroke-width="1.3" stroke-dasharray="1.2 1.1"/>
<line x1="425.5" y1="980" x2="433.6" y2="972" stroke="#fff" stroke-width="1.3" stroke-dasharray="1.2 1.1"/>
<line x1="425.5" y1="1007.8" x2="433.6" y2="1073.6" stroke="#fff" stroke-width="1.3" stroke-dasharray="1.2 1.1"/>
<rect x="436.3" y="661.2" width="101.6" height="101.3" fill="#000"/>
<g clip-path="url(#c04)">
<g filter="url(#soft)">
<path d="M460.37 663.25l-0.11 -0.81M467.63 661.35l-0.43 0.29M482.64 663.59l-0.81 0.03M492.92 661.69l0.84 0.26M512.33 661.68l0.32 -0.82M519.44 661.84l0.54 -0.35M529.2 661.57l-0.81 0.1M534.7 662.51l0.27 -0.28M458.26 666.59l0.85 -0.14M468.06 666.25l0.74 0.61M478.85 667.74l-0.87 -0.01M532.64 665.9l0.74 -0.84M444.76 670.6l0.52 0.71M476.07 672.43l-0.63 0.71M480.63 671.67l-0.23 0.26M485.88 671.35l0.87 -0.2M503.9 672.63l0.25 -0.1M508.99 670.84l0.13 0.13M525.02 673.25l-0.39 -0.21M447.09 677.26l-0.51 -0.06M453.7 677.61l-0.43 -0.48M463.28 676.44l0.15 0.62M469.92 675.77l-0.23 0.68M478.1 676.69l-0.64 -0.77M439.33 681.59l0.59 -0.86M449.48 682.03l-0.1 -0.74M461.83 681.89l-0.54 0.69M466.47 679.48l0.76 -0.05M470.6 681.83l-0.01 0.06M476.12 680.54l0.12 0.13M496.64 680.25l-0.27 0.86M513.73 680.74l-0.74 -0.73M523.33 681.07l-0.61 -0.03M442.46 685.29l0.78 -0.03M468.82 686.11l0.39 -0.28M474.84 685.93l0.87 -0.82M511.04 684.45l-0.67 -0.69M522.03 686.57l0.04 -0.87M532.01 686.12l-0.54 0.33M441.33 688.67l-0.36 -0.46M450.99 688.9l-0.24 0.51M455.13 689.8l0.29 0.49M460.84 690.85l0.69 0.55M472.52 688.92l-0.56 0.4M485.85 691.3l0.35 -0.7M498.81 691.44l0.52 0.66M524.93 690.57l-0.24 0.19M438.69 695.43l-0.59 0.9M447.26 693.72l0.25 0.35M478.22 695.27l0.26 -0.35M500.71 695.66l0.66 0.13M506.56 693.44l0.02 0.66M516.7 694.12l0.55 0.04M525.88 693.1l-0.02 0.47M530.16 693.84l-0.55 0.57M441.62 699.8l0.06 0.48M452.14 697.89l-0.66 -0.65M465.9 699.44l0.09 -0.89M476.87 700.28l0.25 -0.08M482.14 698.3l0.54 0.75M518.08 699.6l-0.19 0.75M529.32 700.16l-0.49 -0.08M438.19 703.08l0.3 -0.64M485.75 703.04l-0.76 -0.61M489.59 703.18l-0.13 0.39M506.53 702.4l-0.46 -0.89M516.75 702.38l0.49 -0.32M434.45 708.78l0.04 0.57M472.33 706.63l-0.7 0.67M476.96 706.97l-0.04 0.41M480.72 707.13l-0.43 -0.37M513.78 706.63l0.63 -0.7M522.84 708.35l0.19 0.26M532.99 709.01l0.12 0.88M437.61 711.54l0.52 0.5M442.23 713.6l0.72 -0.86M459.61 711.59l-0.14 -0.17M490.41 713.72l-0.58 -0.51M495.57 712.02l-0.39 -0.61M521.85 711.77l0.56 0.31M530.93 713.43l0.76 0.3M465.55 716.5l0.72 0.67M498.74 718.25l-0.71 0.9M519.67 718.54l-0.16 -0.23M522.37 717.34l0.17 0.87M534.17 716.77l0.55 0.37M438.86 721.22l-0.74 -0.27M442.91 720.92l0.63 -0.48M448.09 722.95l0.79 0.39M458.2 722.56l0.03 -0.52M489.61 722.1l0.16 -0.69M515.31 722.31l0.72 -0.5M530.48 723.05l0.45 0.2M537.29 720.85l0.46 0.66M436.27 727.2l-0.19 0.32M444.51 725.47l-0.67 0.17M455.48 725.06l0.03 0.43M460.9 724.82l-0.42 0.72M470.55 726.86l-0.89 -0.07M498.81 725.5l-0.61 0.68M506.72 725.65l-0.03 -0.6M530.02 726.27l0.34 -0.01M533.9 725.4l0.2 0.8M452.21 729.59l0.01 -0.09M458.12 731.85l-0.23 -0.43M465.17 731.17l0.67 0.89M484.79 731.01l0.84 -0.01M490.81 731.4l-0.21 -0.49M500.91 731.45l-0.79 0.7M506.52 731.63l-0.13 -0.32M531.84 729.25l-0.79 0.73M435.65 734.08l-0.42 0.09M447.08 735.85l0.77 -0.28M460.59 736l-0.6 0.71M473.19 735.81l-0.3 0.8M488.8 734.8l0.74 -0.11M492.33 734.07l-0.65 0.79M523.94 733.96l-0.69 -0.18M535.13 734.59l0.35 0.74M449.14 740.64l-0.71 -0.6M467.77 738.73l0.03 0.16M473.31 739l0.55 -0.66M501.4 739.83l-0.33 -0.31M516.68 741.12l-0.66 0.49M527.59 740.62l0.21 -0.29M532.77 740.76l0.23 0M462.76 744.55l0.62 -0.24M470.76 745.59l-0.83 0.81M488.3 744.97l-0.52 -0.4M502.36 745l-0.01 -0.18M524.9 744.73l-0.21 0.71M534.86 743.76l-0.75 -0.66M463.2 749.34l0.61 -0.11M491.23 749.35l-0.86 -0.84M510.82 747.58l0.26 -0.03M515.01 748.74l-0.83 -0.02M527.78 748.78l0.69 0.72M530.87 747.26l0.22 0.11M451.07 752.23l-0.3 -0.73M455.84 753.8l0.28 0M476.23 753.61l0.04 0.82M507.24 754.43l0.28 -0.18M443.5 756.72l0.41 0.02M447.4 758.19l0.42 0.45M464.71 758.89l0.48 -0.66M475.68 756.58l0.75 0.23M499.81 756.98l-0.3 0.08M504.11 758.74l-0.59 0.01M511.9 758.31l-0.57 0.38M435.28 761.6l-0.01 0.8M450.38 762.17l0.85 -0.63M488.43 763.08l0.4 -0.74M507.07 761.59l0.2 -0.79M514.01 762.03l0.75 -0.53" stroke="#1408e6" stroke-width="4.2" stroke-linecap="round" fill="none"/>
<path d="M435.34 662.83l-0.76 -0.4M444.72 664.12l-0.45 0M455.16 662.71l0.35 0.4M477.08 662.43l0.16 -0.67M488.02 664.2l-0.57 -0.35M497.86 661.91l0.05 -0.65M503.18 661.79l0.74 -0.4M436.9 667.1l0.31 0.19M447.19 668.6l-0.45 -0.68M453.05 666.55l-0.21 0.88M465.11 667.38l0.63 0.1M490.54 667.87l-0.7 -0.59M495.07 668.45l-0.86 -0.61M501.46 668.15l-0.38 -0.18M505.42 667.74l-0.14 0.85M510.94 666.57l-0.36 0.55M514.63 665.88l0.01 0.62M522.27 667.39l-0.65 0.21M525.71 667.48l0.44 -0.53M536.25 666.15l-0.24 -0.4M451.43 673.27l-0.31 -0.29M457.08 672.01l-0.76 -0.71M470.67 670.93l0.46 -0.04M496.27 672.41l0.3 0.63M511.87 673l-0.53 0.41M519.86 671.3l0.06 0.37M438.32 677.56l0.36 0.28M474.71 675.51l-0.31 -0.1M495.88 676.6l-0.68 -0.01M519.77 677.5l-0.01 -0.72M537.21 677.57l-0.75 0.6M482.52 681.94l-0.03 -0.71M493.73 682.36l0.46 -0.54M503.36 679.57l-0.03 0.33M529.27 679.61l0.56 0.6M448.06 686.82l0.65 0.41M463.04 684.01l0.52 -0.39M480.29 684.52l0.08 -0.12M494.25 684.57l0.18 0.3M537.58 686.26l0.56 -0.77M475.53 688.8l0.03 0.78M493.29 690.58l-0.29 -0.27M517.13 689.07l-0.79 -0.58M528.82 689.9l0.85 0.39M532.62 691.37l0.11 0.76M452.92 693.72l-0.47 0.14M483.64 693.11l0.52 0.89M489.23 693.33l0.74 0.73M521.48 695.09l-0.34 0.75M536.29 695.2l-0.39 -0.37M433.91 699.48l-0.81 0.47M456.29 699.48l0.48 -0.1M462.68 698.17l0.12 0.42M471.65 697.98l-0.29 0.52M502.74 699.83l-0.35 0.47M509.23 699.96l-0.37 0.02M513.94 700.34l0.19 0.18M442.76 702.98l0.84 -0.11M447.02 703.91l-0.68 -0.08M454.23 705l0.32 0.63M458.95 703.99l0.02 -0.83M463.23 703.46l0.3 0.19M468.34 702.34l-0.29 -0.46M474.67 704.78l-0.05 0.2M479.4 704.58l0.85 -0.11M522.18 702.35l-0.07 0.79M537.93 702.89l0.87 0.23M440.49 707.27l0.51 0.66M454.91 707.61l-0.84 0.1M465.07 707.36l-0.01 0.09M486.97 708.52l0.53 -0.83M491.12 709.33l-0.29 0.52M497.37 708.38l0.46 0.84M518.29 706.94l0.1 -0.85M529.65 709.05l-0.51 0.31M454.9 712.23l0.23 0.05M465.08 711.32l0.13 0.19M470.37 713.64l0.75 0.54M474.03 712.24l-0.38 -0.07M480.83 712.39l0.41 0.67M483.22 713.95l-0.3 0.35M498.96 713.91l-0.39 0.05M517.32 711.18l0.72 0.3M535.5 712.81l0.19 -0.03M434.98 718.12l0.59 -0.69M441.49 718.4l-0.55 -0.26M446.76 717.37l0.03 -0.46M452.23 716.91l0.35 -0.19M462.31 718.02l-0.76 -0.66M492.81 716.74l-0.32 0.08M502.69 716.33l-0.73 -0.77M453.95 720.36l0.86 -0.89M495.83 722.52l0.58 -0.75M505.94 721.42l0.2 0.84M520.12 722.02l-0.9 -0.48M527.22 721.92l0.55 -0.55M451.59 725.37l0.33 0.71M466.75 725.4l0.45 0.77M482.71 726.71l0.21 -0.13M514.6 726.68l-0.43 -0.48M522.7 724.64l0.17 -0.22M437.45 730.15l-0.65 0.39M517.15 729.65l-0.5 0.57M519.99 729.52l-0.16 -0.09M524.97 731.14l-0.01 -0.19M537.06 729.53l-0.73 -0.88M457.47 735.65l0.36 -0.8M475.51 734.77l0.55 0.02M502.03 735.37l-0.35 -0.72M511.91 735.98l-0.85 0.31M517.61 734.92l-0.38 0.84M437.24 741.1l0.46 -0.21M453.31 738.22l0.3 0.72M478.14 739.64l0.77 -0.65M505.67 739.37l0.65 -0.76M509.55 738.72l-0.26 -0.71M535.91 740.16l0.18 0.44M434.17 742.86l-0.11 -0.82M456.06 744.36l0.77 -0.67M466.24 744.96l-0.87 0.63M476.87 743.18l-0.8 -0.44M481.67 745.51l0.19 0.64M496.79 744.69l-0.13 -0.15M508.69 744.52l-0.27 0.17M447.74 749.64l-0.87 -0.44M452.61 747.96l-0.07 0.72M457.89 750.04l0.88 -0.06M468.06 749.95l0.41 0.79M474.34 749.11l0.29 -0.88M479.66 750.12l-0.84 0.82M486.05 750.23l-0.25 0.69M505.54 748.76l0.86 -0.78M535.77 747.47l0.82 -0.68M433.85 753.88l-0.61 0.27M439.28 754.16l0.2 0.66M444.83 752.22l-0.64 -0.85M461.24 754.53l0.62 0.4M467.8 753.56l0.36 0.04M492.46 752.11l-0.83 -0.21M497.84 751.9l-0.51 0.13M504.31 751.82l-0.27 0.84M524.68 752.25l-0.9 0.44M438.42 757.95l-0.89 0.26M479.82 757.59l-0.75 0.5M527.21 756.95l-0.47 0.74M447.13 761.95l0.72 -0.75M456.36 763.52l0.08 -0.83M460.46 760.95l-0.37 0.64M465.32 762.23l-0.87 0.64M475.61 761.13l0.84 0.87M483.34 760.84l-0.75 -0.73M491.31 761.23l-0.01 0.59M497.98 762.72l-0.38 0.8M503.07 761.66l-0.06 0.3M522.85 762.53l-0.38 0.23" stroke="#0c06b0" stroke-width="3.8" stroke-linecap="round" fill="none"/>
<path d="M474.18 667.39l0.7 0.01M436.26 670.94l0.15 0.74M442 670.77l-0.03 0.5M462.38 672.76l-0.07 0.58M510.54 675.1l-0.49 -0.04M488.42 681.72l0.6 0.02M458.48 684.95l-0.39 -0.27M500.17 685.24l-0.02 0.86M515.42 685.72l-0.35 0.83M503.28 691.37l-0.46 -0.65M444.02 693.21l-0.07 0.47M509.52 694.85l-0.57 0.48M498.65 699.2l-0.81 0.58M524.22 697.98l0.86 -0.64M494.94 702.18l0.36 -0.82M510.79 703.64l-0.11 -0.66M445.78 707.36l-0.11 0.36M460.32 707.37l0.89 -0.06M449.43 712.39l0.08 0.75M456.78 716.98l-0.28 -0.51M479.73 720.14l0.59 0.23M502.41 727.28l-0.68 0.17M443.05 731.96l-0.75 0.81M470.55 729.27l0.45 0.73M496.61 735.41l0.39 -0.21M443.61 740.56l-0.05 0.41M458.39 738.28l0.72 0.62M465.08 739.9l0.07 0.03M484.4 738.63l-0.35 -0.18M520.82 739.49l0.13 -0.85M440.17 744.34l-0.19 -0.41M451.69 744.73l-0.31 -0.48M438.4 749.41l0.46 0.58M443.5 749.55l0.67 -0.18M470.71 754.1l-0.77 0.26M483.3 752.35l0.74 0.69M513.21 753.81l-0.28 -0.29M454.32 757.31l-0.46 -0.84M459.13 757.28l0.09 0.21M439.36 763.52l0.05 -0.03" stroke="#1c0cff" stroke-width="4.8" stroke-linecap="round" fill="none"/>
</g>
<path d="M516.92 745.09l0.2 0M521.92 743.76l0.2 0M520.3 743.51l0.2 0M524.27 747.33l0.2 0M520.37 743.27l0.2 0M521.91 738.72l0.2 0M526.41 738.41l0.2 0M530.05 748.16l0.2 0M510.29 735.7l0.2 0M514.64 738.79l0.2 0M511.06 745.35l0.2 0M511.44 746.53l0.2 0M511.25 737.08l0.2 0M515.37 738.26l0.2 0M508.86 733.21l0.2 0M517.66 736.65l0.2 0" stroke="#3cec3c" stroke-width="1.35" stroke-linecap="round" fill="none"/>
</g>
<text x="523.7" y="751.8" font-size="7" font-weight="bold" text-anchor="middle" fill="#fff" stroke="#fff" stroke-width="0.14">25 µm</text>
<line x1="514.5" y1="755.4" x2="532.5" y2="755.4" stroke="#fff" stroke-width="1.5"/>
<rect x="436.3" y="765" width="101.6" height="100.7" fill="#000"/>
<g clip-path="url(#c14)">
<g filter="url(#soft)">
<path d="M462.79 766.6l-0.47 -0.49M465.94 765.57l-0.4 -0.48M472.9 767.54l0.48 -0.24M491.9 766.3l0.78 0.51M496.44 765.86l-0.76 -0.82M502.94 767.11l-0.33 -0.39M517.53 765.95l-0.85 -0.9M524.26 766.15l-0.62 -0.63M534.15 766.27l-0.42 -0.67M438.21 770.82l-0.33 0.2M459.32 770.33l0.56 -0.42M464.52 769.95l-0.37 -0.13M469.2 770.21l0.1 -0.16M501.51 772.23l0.06 0.34M504.05 770.95l-0.56 0.54M510.6 771.83l-0.79 -0.73M515.44 772.34l0.57 -0.75M526.3 772.2l-0.47 -0.28M435.75 776.08l-0.27 0.2M445.68 775.24l0.76 0.49M449.68 776.63l-0.77 0.45M467.47 776.16l-0.4 0.67M472.93 774.96l-0.9 -0.78M477.88 775.72l-0.23 0.78M487.78 774.3l-0.58 0.58M497.15 776.27l-0.59 0.38M513.91 776.34l-0.42 0.14M523.98 776.7l0.7 -0.62M529.95 774.83l0.58 -0.54M442.92 778.69l0.43 -0.02M468.53 778.69l0.48 -0.73M489.58 781.32l0.43 -0.54M504.49 780.68l-0.02 0.49M510.64 781.03l-0.78 0.04M524.96 781.18l0.31 0M471.16 783.74l-0.42 0.68M476.58 785.62l-0.36 0.16M483.08 784.65l0.29 0.43M506.66 785.19l0.86 -0.47M522.8 783.73l0.32 -0.66M528.84 785.77l0.05 -0.19M535.11 785.62l-0.22 -0.87M442.28 790.05l-0.57 -0.18M452.59 788.97l0.89 -0.75M500.36 789.97l-0.65 -0.04M504.8 790.11l-0.36 -0.42M435.89 795.18l0.01 0.43M450.03 793.37l0.01 0.88M482.76 793.15l-0.68 -0.72M488.58 792.91l-0.78 -0.72M498.95 793.32l-0.69 0.88M502.81 793.1l0.11 -0.78M509.02 793.32l0.51 0.23M519.5 794.08l-0.89 0.73M533 793.5l0.02 0.23M459.6 796.86l-0.6 -0.62M491.19 797.7l-0.77 0.71M500.03 798.16l-0.86 -0.45M511.87 797.87l-0.07 0.84M515.92 797.76l0.12 0.3M521.13 798.91l-0.69 0.07M531.24 797.42l-0.84 0.26M537.97 799.42l-0.9 0.58M477.61 801.74l-0.46 0.85M481.41 802.64l0.64 0.49M508.58 801.82l-0.14 -0.04M517.54 801.86l0.84 -0.8M524.55 803.83l-0.18 0.58M443.81 808.38l0.05 0.66M458.42 806.82l-0.71 0.74M485.29 806.51l-0.03 -0.43M489.21 806.73l0.1 -0.85M500.93 806.68l-0.03 -0.88M510.32 808.38l-0.5 0.88M530.8 806.81l-0.38 -0.83M536.35 805.82l-0.29 0.06M434.53 812.57l-0.54 0.27M441.95 811.59l-0.86 -0.75M449.69 812l0.26 -0.52M455.17 811.04l0.32 -0.87M467.56 812.76l0.65 0.73M483.27 812.25l0.14 0.83M501.93 813.04l-0.05 -0.13M454.66 815.51l-0.89 0.4M463.02 814.97l-0.69 -0.84M469.47 817.77l0.8 -0.7M489.39 815.05l-0.23 0.22M499.54 817.08l-0.11 0.23M530.08 817.28l-0.33 0.82M449.71 819.91l-0.32 0.83M477.01 821.49l-0.17 0.58M491.06 820.05l0.3 0.12M517.5 822.25l0.63 0.49M522.39 821.2l-0.04 -0.39M439.21 826.75l0.58 0.74M446.96 825.71l-0.66 0.82M463.31 824.17l0.4 0.5M474.85 826.02l-0.76 -0.81M489.19 826.05l-0.15 -0.5M499.06 825.25l-0.85 0.65M517.29 824.28l0.34 0.76M531.96 825.2l0.07 0.71M536.95 824.26l-0.86 0.56M435.57 828.77l0.05 -0.16M446.59 830.19l-0.89 0.79M450.66 829.76l-0.37 0.19M460.96 830.95l0 0.19M466.84 829.61l0.72 0.24M483.15 830.74l0.79 0.2M486.65 831.37l0.75 -0.65M502.57 830.97l-0.12 -0.87M512.8 831.43l0.49 0.69M518.89 828.77l-0.02 0.17M532.98 829.29l0.64 0.43M442.86 833.96l0.84 -0.39M447.25 834.24l-0.26 0.55M457.65 834.96l-0.5 -0.15M464.26 834.67l-0.39 0.72M505.29 834.9l0.47 -0.8M433.98 839.12l-0.62 -0.09M449.4 838.55l-0.22 -0.03M455.59 840.36l-0.03 0.87M462.59 840.08l-0.77 -0.65M472.48 837.92l0.01 0.84M480.9 838.11l0.25 0.11M486.8 839.96l-0.51 0.04M492.69 839.6l0.45 0.26M504.05 839.32l0.19 0.27M508.88 839.55l0.24 -0.6M519.8 839.76l-0.05 -0.57M533.77 839.56l-0.18 -0.49M437.51 842.83l0.64 -0.29M443.74 842.26l0.79 0.19M457.41 842.78l-0.71 -0.26M463.89 843.09l0.89 -0.2M494.63 844.02l0.59 0.75M504.08 844.96l-0.68 -0.14M509.39 843.17l0.14 -0.82M521.41 842.14l-0.48 -0.16M439.81 846.91l-0.25 -0.36M467.7 846.74l0.59 -0.83M476.97 847.52l0.58 0.74M504.1 848.17l-0.67 0.69M528.44 846.9l0.62 -0.82M475.37 851.63l0.82 -0.79M479.18 853.35l-0.15 0.22M434.56 856.57l0.67 0.45M451.13 856.16l0 0.43M455.6 856.85l-0.81 0.56M462.1 857.91l0.19 0.1M466.81 858.15l0.38 0.18M475.9 857.39l-0.43 0.63M482.73 856.09l-0.81 -0.79M491.45 856.97l0.16 -0.03M527.87 856.65l0.85 0.68M534.64 858.49l-0.33 -0.77M444.55 861.88l-0.28 0.8M459.35 861.2l-0.43 -0.63M468.28 862.69l-0.31 0.25M474.69 862.63l0.55 0.21M483.22 862.51l0.77 0.42M491.22 861.9l0.55 -0.7M495.81 861.62l0.16 0.68M500.9 862.61l-0.21 0.69M505.62 862.06l0.57 0.38M515.51 860.45l0.21 0.5M530.77 862.8l0.78 -0.51M536.79 860.45l0.86 0.89M445.63 866.25l0.62 -0.22M449.43 865.46l0.05 0.75M465.66 865.77l-0.48 -0.87M488.07 865.93l-0.37 -0.26M499.12 864.68l0.62 0.17M512.64 866.72l-0.21 -0.39M523.87 867.13l-0.72 -0.71M534.43 864.86l0.87 -0.03" stroke="#1408e6" stroke-width="4.2" stroke-linecap="round" fill="none"/>
<path d="M436.31 767.83l0.57 -0.85M452.09 767.54l0.58 0.41M477.95 767.02l-0.75 -0.82M509.56 765.27l-0.83 -0.12M513.84 765.56l-0.79 -0.06M530.37 767.64l-0.53 0.78M443.17 770.49l-0.78 -0.18M453.83 770.25l0.32 -0.22M520.49 771.93l0.29 0.61M536.96 772.28l0.5 -0.5M454.68 774.23l-0.6 0.73M482.47 776.76l-0.3 0.85M503.76 774.84l-0.59 0.13M509.13 775.26l0.59 -0.05M436.85 779.2l0.76 0.15M446.92 779.83l0.22 -0.43M454.85 780.84l-0.54 -0.19M480.18 780.84l0.15 0.51M494.91 781.67l0.69 -0.64M537.67 779.69l0.62 -0.06M435.05 785.91l-0.08 0.8M446.18 785l0.58 0.76M452.25 784.45l0.51 0.57M454.99 783.66l-0.02 -0.06M462.11 783.33l-0.87 -0.45M465.09 785.49l-0.77 -0.62M487.47 783.83l-0.09 0M493.93 785.82l-0.66 -0.52M517.88 785.03l-0.57 -0.48M439.38 790.69l-0.78 0.1M468.49 790.57l0.6 -0.05M478.82 790.46l-0.69 -0.88M490.92 789.63l0.44 0.54M532.15 788.46l-0.43 0.86M536.47 790.35l0.28 0.6M462.39 794.7l0.6 0.26M466.13 792.72l0.25 0.2M476.99 792.97l-0.36 0.4M437.33 798.87l-0.03 0.36M441.66 797.06l-0.51 0.28M453.03 797.65l0.3 0.49M469 798.68l0.86 0.23M475.23 797.02l0.07 0.21M480.81 798.52l-0.59 -0.23M495.54 797.65l-0.4 -0.87M525 797.17l0.01 0.83M434.33 801.57l-0.17 0.36M445.34 803.4l-0.75 -0.28M455.61 804.18l-0.33 0.88M462.57 803.2l-0.79 0.7M488.15 802.83l-0.58 0.62M498.85 803.82l-0.24 0.57M528.48 803.02l-0.63 -0.66M533.27 802.74l0.75 0.84M465.11 807.14l0.02 0.39M468.06 808.7l0.16 0.42M472.81 806.82l-0.28 -0.37M480.22 807.81l-0.38 0.39M505 807.51l-0.64 0.16M516.11 808.52l-0.38 -0.8M521.81 807.42l-0.29 -0.54M526.64 808.29l0.34 0.06M478.03 811.35l-0.57 0.11M507.58 810.42l0.72 -0.61M519.81 812.71l0.1 -0.42M523.07 812.64l-0.67 -0.5M527.73 813.27l-0.24 0.23M535.35 811.38l0.58 -0.83M473.84 817.06l0.04 0.65M479.55 817.85l0.55 0.21M511.52 815.65l0.5 0.63M515.81 816.07l0.28 -0.01M445.55 821.25l0.39 0.62M467.08 821.17l-0.69 0.58M473.07 819.43l-0.7 0.57M483.44 822.01l0.37 -0.2M502.92 822.33l0.76 0.44M508.47 820.15l0.07 0.7M528.63 822.23l-0.54 0.62M453.16 826.35l0.35 -0.45M478.29 826.33l0.19 0.32M520.5 824.41l-0.58 -0.21M476.15 830.76l0.47 -0.02M492.8 828.99l-0.53 0.34M496.9 830.56l-0.83 -0.1M506.95 828.47l0.17 0.11M523.55 829.19l-0.09 0.46M528.95 829.45l-0.89 -0.63M437.72 835.02l-0.38 -0.88M468.22 835.74l0.9 0.88M474.18 835.5l0.57 0.36M479.17 833.6l-0.45 0.39M484.24 834.48l-0.4 -0.64M500.52 834.32l-0.63 -0.28M526.17 834.58l-0.2 -0.73M530.56 834.55l-0.16 0.52M440.25 837.55l-0.78 0.48M466.96 838.44l0.55 0.23M477.16 839.93l-0.4 0.38M498.03 838.09l0.21 -0.09M514.27 840.1l0.51 -0.26M529.39 840.19l0.37 -0.63M447.38 843.97l-0.57 0.7M452.26 844.98l0.32 -0.69M474.52 843.01l0.33 0.51M490.52 843.01l0.22 -0.4M500.52 842.17l0.55 0.45M527.73 843.94l-0.23 -0.11M434.99 846.83l-0.66 -0.39M445.98 847.38l0.25 0.84M455.82 847.68l0.51 -0.82M462.2 848.9l0.67 -0.62M471.29 849.3l0.9 -0.05M485.81 847.56l-0.17 0.45M514.1 848.95l0.68 -0.62M534.67 848.12l-0.73 -0.61M438.77 852.63l0.08 -0.72M444.31 853.08l-0.45 0.79M505.02 851.44l0.53 0.8M511.29 853.89l0.48 -0.11M521.13 852.06l0.36 -0.08M526.19 851.11l0.76 0.4M444.61 856.09l-0.35 0.09M503.9 857.59l-0.03 -0.32M511.9 858.23l-0.01 0.48M518.7 856.65l-0.49 -0.13M525.03 858.5l0.44 0.32M448.24 860.59l0.13 -0.56M479.59 861.51l0.37 -0.82M520.2 861.89l0.76 -0.35M436.65 866.06l0.51 0.26M441.88 866.71l0.77 -0.28M460.99 866.65l0.74 -0.15M471.93 866.89l-0.33 0.78M482.8 867.47l0.23 0.19" stroke="#0c06b0" stroke-width="3.8" stroke-linecap="round" fill="none"/>
<path d="M456.63 768.05l-0.37 -0.18M447.51 770.51l-0.49 -0.43M484.24 770.48l0.64 -0.68M491.4 772.17l-0.6 0.76M461.93 774.21l0.23 0.71M517 774.54l-0.07 0.13M520.93 778.79l-0.3 -0.8M446.8 790.13l0.73 -0.52M457.52 788.27l0.26 0.39M464.3 789.37l0.09 -0.43M495.17 788.75l0.6 -0.65M526.93 788.2l0.13 -0.34M456.14 793.02l-0.14 -0.35M470.43 794.36l0.48 0.73M512.18 793.4l0.89 -0.69M525.03 794.11l-0.08 -0.42M463.19 797.69l-0.31 -0.6M484.96 799.03l0.86 -0.58M472.91 804.18l0.39 -0.09M502.22 802.52l0.2 0.3M447.38 807.66l0.35 -0.2M454.7 807.5l0.27 -0.11M446.52 813.16l-0.83 0.58M462.38 811.59l-0.38 0.4M472.72 810.37l0.74 0.46M487.25 810.94l0.88 -0.65M499.1 812.26l0.48 0.71M514.2 811.26l-0.56 -0.2M442.35 817.34l0.02 0.58M447.16 817.26l-0.36 -0.48M457.7 817.66l0.21 -0.19M484.81 814.98l-0.08 -0.27M506.7 815.01l0.85 -0.52M537.31 817.49l-0.52 -0.17M435.99 820.47l0.55 0.17M461.46 819.77l0.12 -0.81M514.1 821.97l-0.5 -0.61M444.44 824.32l0.34 0.28M457.62 826.72l0.66 -0.07M468.24 825.44l-0.23 -0.58M485.9 824.42l-0.23 -0.81M495.84 825.7l-0.61 0.71M510.8 824.52l-0.37 0.72M440.83 829.06l-0.21 0M457.55 830.28l-0.41 0.2M453.77 834.98l-0.42 -0.89M490.47 835.18l0.25 -0.81M515.95 834.11l0.68 -0.77M469.73 844.83l0.17 0.26M530.25 844.93l-0.79 -0.48M509.03 849.45l0.29 0.89M447.79 853.85l-0.34 0.01M459.97 851.97l-0.69 -0.42M465.03 852.46l0.63 0.24M469.69 852.41l-0.06 0.1M484.93 853.31l0.4 -0.82M495.56 852.47l0.15 -0.14M509.29 857.46l-0.08 0.63M463.85 861.01l-0.47 0.25M456.09 866.69l0.03 -0.51M493.06 864.82l0.65 0.58M507.75 867.6l-0.28 -0.37" stroke="#1c0cff" stroke-width="4.8" stroke-linecap="round" fill="none"/>
</g>
<path d="M531.64 775.13l0.2 0M526.16 773.14l0.2 0M526.62 777.69l0.2 0M526 776.13l0.2 0M521.45 774.09l0.2 0M522.73 777.49l0.2 0M520.67 772.95l0.2 0M525.25 780.14l0.2 0M517.24 784.75l0.2 0M528.34 780.67l0.2 0M531.7 777.24l0.2 0M523.58 770.29l0.2 0M526.1 781.57l0.2 0M526.18 780.75l0.2 0M534.52 771.51l0.2 0M451.25 784.66l0.2 0M453.24 789.36l0.2 0M450.87 791.65l0.2 0M452.78 790.6l0.2 0M446.63 786.3l0.2 0M453.78 792.65l0.2 0M448.93 788.22l0.2 0M453.64 795.44l0.2 0M451.46 789.95l0.2 0M449.17 791.63l0.2 0M455.52 788.55l0.2 0M449.61 787.6l0.2 0M446.59 789.35l0.2 0M448.28 792.02l0.2 0M450.02 783.83l0.2 0M461.3 832.38l0.2 0M462.94 838.46l0.2 0M465.64 838.18l0.2 0M464.1 841.92l0.2 0M462.54 835.42l0.2 0M468.36 842.8l0.2 0M461.25 839.84l0.2 0M467.63 832.07l0.2 0M467.01 831.28l0.2 0M461.93 841.25l0.2 0M466.8 837.47l0.2 0M464.89 832.33l0.2 0M467.64 838.83l0.2 0M467.6 838.32l0.2 0M464.85 845.53l0.2 0" stroke="#3cec3c" stroke-width="1.35" stroke-linecap="round" fill="none"/>
</g>
<text x="523.7" y="855.6" font-size="7" font-weight="bold" text-anchor="middle" fill="#fff" stroke="#fff" stroke-width="0.14">25 µm</text>
<line x1="514.5" y1="859.2" x2="532.5" y2="859.2" stroke="#fff" stroke-width="1.5"/>
<rect x="436.3" y="868.9" width="101.6" height="100.8" fill="#000"/>
<g clip-path="url(#c24)">
<g filter="url(#soft)">
<path d="M434 871.84l-0.02 0.8M441.41 870.75l-0.82 0.75M462.46 869.35l0.58 0.29M471.45 869.36l-0.19 -0.45M481.63 870.64l-0.14 -0.89M513.44 870.47l0.85 -0.65M522.93 869.27l-0.21 -0.3M442.76 875.98l-0.02 -0.69M463.4 874.68l-0.61 -0.05M504.79 876.1l-0.26 -0.12M514.61 873.6l0.13 0.31M525.78 875.06l0.18 -0.4M456.53 880.11l0.55 0.51M461.98 879.53l0.43 0.08M465.92 878.45l-0.48 -0.39M472.85 878.15l-0.6 -0.27M476.23 880.99l0.48 0.01M481.92 879.5l-0.34 -0.43M491.07 879.26l0.14 -0.02M497.75 879.06l-0.21 0.58M502.46 879.84l0.77 0.52M454.99 885.25l-0.72 -0.31M464.8 883.56l-0.32 -0.54M467.64 884.87l0.45 -0.31M472.84 884.77l-0.54 0.88M479.71 883.65l-0.37 -0.79M489.85 884.64l0.67 -0.06M493.66 884.11l0.82 -0.11M505.2 883.34l0.53 0.08M521.15 884l0.32 0.3M526.23 883.66l0.42 -0.86M445.49 888.95l-0.67 -0.3M504.12 889.79l-0.32 -0.23M439.15 894.55l-0.08 -0.82M444.25 892.06l0.77 -0.17M447.13 892.68l-0.16 -0.79M452.12 892.93l-0.06 -0.34M500.66 893.85l-0.73 -0.68M525.52 893.2l-0.69 -0.87M434.99 898.62l-0.12 -0.45M492.68 898.58l-0.41 0.49M437.04 901.51l0.73 0.7M484.27 901.17l-0.53 0.67M495.85 900.78l-0.16 0.45M506.12 902.3l0.9 0.18M510.35 901l0.79 0.85M526.83 903.26l-0.14 0M531.62 901.55l0.04 0.46M460.24 906.73l-0.1 -0.26M491.43 905.96l0.78 0.25M496.6 906.44l-0.17 -0.62M504.21 906.93l-0.81 -0.18M507.13 906.83l0.2 0.09M525.17 906.25l-0.63 0.77M529.52 908.03l0.46 -0.59M444.5 909.77l0.26 -0.4M449.37 911.66l-0.57 -0.58M459.83 910.22l-0.17 0.22M465.16 911.76l-0.3 -0.27M473.39 912.52l-0.35 0.33M479.34 910.08l-0.17 0.24M495.97 910.71l-0.58 0.87M526.9 911.87l-0.39 0.76M530.1 910.16l-0.68 -0.41M434.99 914.85l0.41 -0.28M439.91 916.79l-0.18 0.73M503.36 914.49l0.24 -0.74M522.92 916.9l-0.24 0.4M437.52 920.1l-0.22 0.43M443.9 920.15l-0.09 0.87M453.76 919.92l0.56 -0.31M480.55 919.88l0.56 -0.69M512.13 920.55l-0.88 -0.36M521.67 920.87l-0.89 -0.56M526 919.25l0.66 0.26M439.62 926.03l0.23 0.14M444.24 925.18l-0.43 0.15M478.35 923.75l-0.79 0.31M532.72 923.55l-0.36 0.57M452.26 930.09l-0.03 0.44M465.09 928.53l0.16 0.26M478.9 930.1l-0.82 0M494.32 928.68l0.24 0.84M472.1 933.14l-0.03 -0.27M478.26 932.52l0.74 -0.09M481.38 932.61l-0.57 -0.27M488.17 935.22l-0.54 0.85M503.83 933.63l0.47 0.29M512.62 932.76l-0.05 0.34M529.03 933.33l-0.73 0.84M437.74 939.08l0.56 -0.14M442.03 937.73l-0.41 -0.14M459.17 936.96l0.77 0.31M468.72 938.39l-0.22 -0.06M520.12 939.81l0.79 -0.85M456.94 942.89l-0.51 0.88M460.55 942.21l0.51 0.85M492.3 941.88l0.41 -0.35M497.6 943.62l-0.82 0.57M502.21 941.87l0.52 -0.45M506.81 942.56l0.83 -0.3M527.44 942.07l0.08 -0.17M534.77 941.73l0.65 -0.87M436.95 947.06l0.22 0.48M442.83 947.25l0.22 0.2M464.57 948.27l0.12 0.58M479.83 947.21l0.84 -0.23M498.86 947.37l0.5 0.15M511.74 948.36l-0.34 0.48M516.69 948.17l-0.24 -0.46M532.74 946.34l0.42 0.13M536.96 947.48l0.47 0.62M440.82 951.84l-0.67 -0.57M446.78 952.86l0.36 0.22M452.05 953.41l0.54 -0.47M457.24 950.54l-0.86 -0.53M466.42 953.39l-0.16 -0.88M472.99 952.15l-0.04 -0.37M477.02 951.03l-0.54 0.46M486.85 951.75l0.49 -0.2M496.3 950.65l0.9 -0.11M508.21 952.18l-0.54 -0.89M512.25 953.35l0.72 -0.35M529.28 951.71l-0.61 -0.3M534.27 953.05l-0.34 0.19M437.01 956.79l-0.05 0.04M449.66 955.39l0.54 0.29M464.46 957.56l0 0.49M500.38 955.61l-0.14 -0.8M515.57 956l-0.75 0.07M536.47 955.47l0.77 0.02M457.07 960.1l0.02 0.29M491.12 960.96l0.83 0.6M502.35 960.61l0.83 -0.43M507.66 961.02l-0.26 -0.15M437.8 964.36l-0.85 -0.02M452.46 965.09l-0.37 -0.58M469.39 965.25l0.53 0.39M478.78 966.16l-0.63 0.51M494.08 964.22l0.04 0.74M511.42 964.52l-0.85 0.44M515.23 965.93l0.38 0.36M435.75 968.98l0.15 -0.17M477.71 970.87l-0.28 0.12M486.58 970.24l-0.09 0.2M511.93 969.19l-0.25 0.81M529.02 970.26l0.34 -0.85M534.73 969.65l0.05 -0.17" stroke="#1408e6" stroke-width="4.2" stroke-linecap="round" fill="none"/>
<path d="M455.61 871.96l-0.05 -0.5M491.62 871.11l-0.7 0.2M469.77 875.94l0.17 0.83M483.82 875.7l-0.81 0.23M495.76 876.34l-0.81 0.56M501.75 875.9l-0.57 -0.36M519.99 875.65l0.52 0.28M535.28 874.21l0.2 0.25M446.38 880.7l0.37 -0.4M532.91 880.01l0.4 -0.28M442.06 884.04l-0.25 -0.12M483.45 885.22l0.58 -0.48M500.02 885.47l-0.14 0.01M510.35 885.4l0.89 -0.86M535.65 884.72l-0.54 -0.45M435.26 887.69l0.77 -0.26M441.28 888.44l-0.86 0.86M462.78 887.81l-0.47 0.69M466.17 887.62l-0.9 0.36M499.07 888.9l0.77 0.69M513.14 888.66l-0.03 0.79M519.85 889.3l0.66 0.25M537.42 892.4l0.86 0.35M440.14 897.15l-0.33 -0.68M450.24 896.5l0.82 0.76M454.77 898.47l0.28 -0.07M499.08 898.99l0.73 0.37M523.93 898.66l0.77 0.72M468.1 903.35l-0.76 -0.33M478.69 902.18l0.02 0.43M490.08 900.73l-0.37 0.12M500.28 903.5l0.5 0.29M520.08 902.54l0.67 -0.69M439.93 907.23l0.13 -0.86M444.9 907.6l0.46 -0.78M466.24 906.44l0.77 0.05M471.35 907.06l0.12 -0.32M486.03 905.84l-0.64 -0.69M519.12 905.29l0.85 0.16M453.5 912.62l0.53 0.3M484.56 910.94l-0.17 -0.67M500.68 912.28l0.81 -0.71M506.81 911.77l0.59 -0.48M445.15 916.56l-0.17 -0.53M461.52 916.62l-0.23 -0.83M466.15 916.92l-0.03 -0.31M472.34 914.47l0.52 -0.06M476.39 916.43l0.6 0.34M487.71 916.95l0.5 -0.83M491.53 916.82l0.31 -0.03M447.87 921.34l-0.54 0.06M458.78 920.6l-0.3 -0.78M475.26 921.26l-0.63 -0.7M490 919.34l0.66 -0.58M494.68 920.39l0.76 0.35M505.09 918.99l0.41 -0.51M435.14 924.55l0.59 0.69M457.01 926.18l-0.79 0.9M461.52 923.34l0.36 0.14M466.55 925.02l0.03 0.6M472.2 924.98l-0.43 0.29M483.11 925.45l0.72 -0.71M486.3 924.06l-0.28 0.41M498.79 923.84l0.01 -0.11M502.81 923.81l-0.5 -0.5M508.57 924.47l0.69 0.78M519.15 924.85l-0.26 0.27M467.74 929.58l-0.02 0.78M485.45 929.17l-0.59 -0.09M490.96 929.98l-0.51 0.54M499.44 930.25l0.49 0.55M506.49 929.84l0.44 -0.12M516.02 929.31l0.65 0.45M526.62 929.8l0.32 0.34M537.73 930.07l0.69 -0.1M436.34 932.87l0.26 -0.05M445.88 932.83l-0.61 -0.88M454.85 933.29l0.89 0.18M496.94 935.23l0.49 -0.74M522.38 934.42l-0.12 -0.73M533.46 932.36l0.7 -0.22M465.12 937.95l0.57 -0.8M473.72 937.73l0.22 -0.46M485.88 936.9l0.31 -0.34M510.24 936.98l-0.78 -0.65M526.77 939.76l-0.68 0.29M459.07 947.08l-0.3 -0.61M468.89 947.91l-0.35 -0.32M484.35 946.46l0.38 -0.44M521.23 948.81l-0.36 0.36M526.55 946.74l0.86 0.24M480.61 952.9l-0.02 0.64M492.54 950.54l0.11 0.24M523.37 951.57l0.23 0.59M452.88 957.63l0.57 0.36M458.69 957.08l0.08 0.66M478.81 956.39l-0.01 0.42M493.88 957.37l-0.36 0.54M505.74 955.2l0.88 -0.28M530.87 957.9l-0.8 -0.07M470.78 960.25l0.3 -0.18M498.1 960.49l0.73 0.06M517.06 960.79l0.66 -0.3M523.61 959.58l0.31 0.72M528.61 960.33l-0.84 0.25M533.27 961.56l-0.16 -0.26M444.25 965.88l0.53 -0.38M447.83 964.28l-0.08 -0.54M464.27 964.94l0.73 -0.78M473.92 965.65l-0.34 -0.57M531.67 965.15l0.34 0.05M457.23 971.35l0.57 0.46M467.11 971.18l-0.06 0.35M471.19 969.8l0.23 0.42M492.32 968.65l0.5 0.89M509.19 969.94l-0.69 -0.15M523.62 971.14l-0.67 0.11" stroke="#0c06b0" stroke-width="3.8" stroke-linecap="round" fill="none"/>
<path d="M503.33 869.34l0.22 -0.48M533.79 869.58l0.66 0.09M473.24 873.63l-0.67 -0.64M511.04 874.18l0.81 -0.26M507.06 878.91l0.35 0.18M438.33 884.5l0.88 -0.87M515.33 884.9l0.31 -0.47M530.7 883.28l-0.17 0.79M471.3 887.95l-0.14 -0.63M476.91 888.01l0.7 0.21M493.86 893.81l-0.83 0.76M511.19 892.5l0.71 0.67M532.98 892.71l-0.3 0.45M461.49 896.65l-0.42 0.61M472.99 896.52l0.54 -0.35M477.27 897.19l0.4 -0.37M507.74 896.33l0.12 0.75M482.94 916.82l0.27 -0.03M462.75 920.04l-0.22 0.2M493.44 925.86l0.45 -0.24M522.66 923.62l-0.64 -0.48M467.23 933.78l-0.17 0.08M518.17 933.48l-0.53 -0.04M495.81 938.67l-0.17 0.25M505.74 939.42l0.67 0.53M537.16 938.44l-0.44 -0.11M436.27 943.54l0.64 0.29M465.48 942.75l-0.57 0.67M482.26 942.38l0.64 -0.82M453.29 948.2l-0.86 -0.69M506.26 946.76l0.1 0.29M461.87 952.52l0.21 -0.83M475.1 957.43l-0.21 -0.2M525.56 957.06l0.73 -0.38M476.9 960.39l0.56 0.05M482.71 959.56l-0.06 0.76M490.09 964.66l0.49 0.89M522.5 966.46l-0.21 -0.62M538.07 964.67l-0.86 0.16M445.93 969.53l-0.54 0.65M503.52 970.39l-0.31 -0.17" stroke="#1c0cff" stroke-width="4.8" stroke-linecap="round" fill="none"/>
</g>
<path d="M483.76 883.98l0.2 0M487.2 890.24l0.2 0M486.9 888.97l0.2 0M483.3 892.13l0.2 0M485.45 895.4l0.2 0M485.44 895.28l0.2 0M482.13 883.56l0.2 0M482.07 889.32l0.2 0M485.42 890.21l0.2 0M485.46 888.86l0.2 0M529.6 960.15l0.2 0M523.05 959.97l0.2 0M527.97 962.95l0.2 0M523.14 961.09l0.2 0M524.72 960.49l0.2 0M531.74 962.11l0.2 0M529.2 959.05l0.2 0M532.91 960.01l0.2 0M524.53 971.53l0.2 0M532.09 960.37l0.2 0M516.95 903.31l0.2 0M515.31 907.71l0.2 0M518.67 910.6l0.2 0M514.78 907.23l0.2 0M514.56 906.32l0.2 0M518.44 898.46l0.2 0M511.74 915.26l0.2 0M515.76 909.82l0.2 0M518.71 903.07l0.2 0M513.32 909.33l0.2 0M524.23 927.57l0.2 0M535.85 924.08l0.2 0M530.74 920.16l0.2 0M528.44 923.94l0.2 0M530.97 927.16l0.2 0M529.98 928.72l0.2 0M524.6 932.26l0.2 0M523.65 922.02l0.2 0M531.56 925.25l0.2 0M532.67 925.66l0.2 0M471.29 943.29l0.2 0M466.59 945.06l0.2 0M461.45 945.99l0.2 0M465.08 942.32l0.2 0M463.21 938.41l0.2 0M476.93 935.89l0.2 0M463.04 940.79l0.2 0M461.3 943.66l0.2 0M462.05 935.97l0.2 0M463.41 941.84l0.2 0M445.88 920.77l0.2 0M449.24 924.06l0.2 0M449.73 927.27l0.2 0M452.21 924.26l0.2 0M454.15 922.92l0.2 0M451.4 925.25l0.2 0M448.81 929.88l0.2 0M445.45 928.47l0.2 0M450.37 922.89l0.2 0M456.73 927.47l0.2 0M538.09 894.07l0.2 0M524.35 899.93l0.2 0M531.65 905.55l0.2 0M542.88 900.93l0.2 0M532.12 901.38l0.2 0M532.85 903.18l0.2 0M533.31 896.24l0.2 0M536.68 897.77l0.2 0M540.62 898.35l0.2 0M531.06 898.46l0.2 0M463.16 903.73l0.2 0M455.54 900.99l0.2 0M453.17 902.13l0.2 0M457.56 898.7l0.2 0M459.42 903.37l0.2 0M458.62 902.31l0.2 0M453.47 901.53l0.2 0M454.92 898.05l0.2 0M447.44 894.72l0.2 0M458.8 903.52l0.2 0M504.53 915.43l0.2 0M511.12 921.43l0.2 0M505.92 921.77l0.2 0M505.39 913.76l0.2 0M506.19 915.33l0.2 0M505.85 924.03l0.2 0M516.5 917.96l0.2 0M510.19 917.57l0.2 0M507.29 919.51l0.2 0M500.28 919.02l0.2 0M497.75 915.1l0.2 0M494.96 916.84l0.2 0M497.73 911.05l0.2 0M498.58 906.88l0.2 0M497.87 917.03l0.2 0M493.98 912.8l0.2 0M497.28 916.8l0.2 0M495.79 907.94l0.2 0M495.68 910.15l0.2 0M492.11 915.61l0.2 0M470.1 890.35l0.2 0M459.34 882.07l0.2 0M464.32 893.27l0.2 0M465.74 877.14l0.2 0M467.08 885.17l0.2 0M464.17 888.61l0.2 0M460.39 883.57l0.2 0M465.35 889.78l0.2 0M466.14 884.37l0.2 0M462.74 879.64l0.2 0" stroke="#3cec3c" stroke-width="1.35" stroke-linecap="round" fill="none"/>
</g>
<text x="523.7" y="959.5" font-size="7" font-weight="bold" text-anchor="middle" fill="#fff" stroke="#fff" stroke-width="0.14">25 µm</text>
<line x1="514.5" y1="963.1" x2="532.5" y2="963.1" stroke="#fff" stroke-width="1.5"/>
<rect x="436.3" y="972" width="101.6" height="101.6" fill="#000"/>
<g clip-path="url(#c34)">
<g filter="url(#soft)">
<path d="M435.64 973.77l0.26 -0.52M471.43 972.45l0.87 -0.64M508.42 974.74l0.86 -0.08M512.64 972.71l0.49 -0.36M522.31 972.62l-0.43 -0.7M529.25 975.03l-0.58 0.63M448.62 977.18l0.07 -0.52M453.94 977.51l-0.86 -0.21M516.86 977.05l-0.02 -0.47M440.14 982.2l-0.22 -0.22M447.14 983.54l-0.81 0.15M457.54 981.83l-0.87 -0.62M503.27 983.28l0.39 0.49M511.88 982.83l-0.78 0.2M475.07 987.97l-0.48 0.17M496.49 985.69l-0.05 -0.85M505.44 987.28l-0.37 0.11M530.39 987.1l0.18 -0.25M461.54 991.04l-0.14 0.66M471.5 991.19l-0.85 -0.85M492.38 991.48l0.5 0.21M507.34 992.14l-0.32 -0.83M448.8 997.66l-0.07 0.73M463.87 997.05l0.32 0.59M475.76 995.53l-0.22 -0.18M479.91 994.99l0.77 -0.01M489.8 995.85l0.05 0.36M527.14 994.73l-0.28 -0.34M535.94 997.36l-0.4 -0.12M461.96 1002.03l-0.28 0.43M482.72 999.87l0.42 -0.16M497.78 999.54l-0.22 0.56M514.15 1001.95l-0.25 0.3M522.38 1000.81l0.47 0.36M529.4 1000.11l0.1 0.69M447.24 1004.87l-0.55 -0.12M504.97 1004.96l0.86 -0.63M515.91 1004.35l-0.5 -0.41M441.27 1009.56l0.16 0.36M456.35 1009.06l0.54 0.69M497.37 1008.62l0.28 -0.16M436.75 1012.92l-0.48 -0.68M444.33 1014.14l-0.01 -0.8M447.68 1013.61l-0.55 0.2M452.99 1015.69l-0.29 0.22M479.07 1013.12l0.3 -0.86M490.43 1015.6l-0.05 -0.25M501.67 1015.1l-0.61 -0.56M466.67 1018.45l0.66 0.24M498.47 1018.36l0.32 0.65M512.25 1018.58l0.86 -0.33M534.25 1018.37l-0.86 0.41M443.8 1022.89l0.84 0.56M452.58 1023.59l0.25 -0.37M458.3 1022.61l-0.31 0.23M475.79 1024.1l0.34 -0.46M486.01 1023.77l0.38 -0.47M504.79 1022.72l0.79 0.59M457.32 1026.45l-0.05 -0.62M514.28 1029.31l-0.71 0.84M517.26 1027.42l0.58 -0.3M530.02 1027.57l-0.56 0.51M532.75 1027.84l-0.06 0.56M437 1032.9l-0.19 0.39M443.5 1033.68l-0.38 -0.01M489.06 1032.41l-0.89 -0.21M505.6 1033.19l0.11 0.33M511.99 1032.26l0.61 0.54M516.69 1033.61l0.76 -0.28M525.49 1032.94l-0.28 0.02M478.11 1035.51l-0.34 0.39M481.22 1037.17l0.42 0.41M501.73 1037.58l-0.29 -0.76M507.36 1036.02l-0.43 0.53M514.67 1036.57l0.81 0.69M522.76 1036.08l-0.79 -0.51M469.31 1040.89l-0.47 -0.07M495.17 1040.55l0.35 0.34M536.97 1042.35l-0.36 0.62M435.74 1047.14l0.81 0.05M441.92 1044.84l-0.86 0.66M481.33 1044.53l-0.75 0.67M438.62 1051.48l0.43 0.85M452.12 1051.69l0.4 0.51M491.24 1050.13l-0.65 -0.54M499.09 1051.29l0.12 0.49M512.15 1050.96l-0.19 0.38M445.15 1056.26l0.4 -0.77M456.08 1054.12l0.73 -0.44M524.78 1056.08l-0.87 -0.9M447.6 1060.78l-0.53 0.43M469.29 1059.79l0.86 0.41M441.97 1063.45l-0.4 0.57M466.87 1063.41l0.42 0.82M523.6 1064.33l-0.85 -0.02M474.62 1068.85l-0.43 -0.58M504.79 1069.47l-0.1 -0.71M520.63 1067.16l-0.58 0.8M446.01 1072.65l0.84 -0.39M452.21 1073.6l0.75 -0.27M456.53 1074.02l-0.13 0.25M460.48 1073.22l0.3 0.83M477.2 1073.99l0.55 0.51M517.73 1073.36l-0.57 -0.56M534.64 1074.03l-0.5 -0.74" stroke="#1408e6" stroke-width="4.2" stroke-linecap="round" fill="none"/>
<path d="M478.01 974.01l0.27 0.08M483.27 973.51l-0.78 0.52M488.1 973.75l-0.18 0.5M459.63 978.14l0.59 -0.49M485.09 977.07l0.55 -0.29M490.65 977.22l-0.88 -0.03M496.22 976.89l-0.84 -0.72M511.84 978.36l-0.13 -0.33M531.88 977.59l0.12 -0.38M536.41 979.04l-0.09 0.58M449.57 981.66l0.05 0.64M493.4 982.92l0.36 -0.13M448.19 986.06l-0.17 0.55M454.78 986.41l0.4 -0.17M510.87 987.81l-0.86 0.46M439.2 991.98l0.08 0.3M470.21 996.09l0.53 0.61M499.01 997.04l-0.22 -0.63M511.49 997.54l-0.01 -0.26M452.37 1001.28l-0.86 -0.21M470.74 999.55l0.21 -0.13M478.14 1000.26l-0.46 0.81M534.9 1000.04l0.02 0.09M454.63 1005.16l-0.11 0.62M459.95 1005.18l0.3 -0.75M501.49 1003.8l0.83 -0.79M509.81 1005.38l-0.24 -0.32M530.53 1004.62l-0.78 -0.9M535.42 1006.43l0.69 0.2M445.16 1010.12l0.17 0.17M513.07 1009.13l0.14 -0.64M519.91 1010.66l0.2 0.44M527.86 1010.97l-0.44 0.2M467.82 1013.93l0.4 0.33M509.85 1015.69l0.12 0.6M532.52 1014.4l-0.37 -0.87M535.33 1015.77l0.41 -0.88M488.56 1017.49l0.43 0.42M502.51 1019.13l0 0.49M517.62 1019.5l0.15 -0.73M524.13 1019.27l0.54 0.54M495.37 1022.51l0.12 -0.18M510.57 1024.77l0.41 0.82M537.65 1023.8l-0.56 0.23M444.28 1026.67l0.3 0.52M462.71 1026.6l0.08 0.87M466.42 1028.79l0.47 -0.44M469.64 1031.41l0.48 0.59M475.16 1032.64l-0.48 0.43M436.47 1038.36l-0.19 -0.46M456.8 1036.33l-0.19 -0.25M461.31 1037.54l0.58 0.81M528.89 1038.36l-0.74 -0.35M533.53 1035.57l-0.21 -0.18M447.96 1041.13l-0.41 -0.5M459.46 1041.03l-0.76 -0.85M474.19 1041.17l-0.83 0.81M478.24 1041.16l0.16 0.01M500.52 1040.77l0.52 0.52M510.95 1042.16l-0.88 -0.85M526.96 1040.7l-0.44 -0.65M496.39 1051.09l0.21 -0.84M504.37 1051.03l0.57 0.54M522.37 1051.15l0.09 0.53M525.4 1050.39l-0.6 -0.1M449.5 1054.99l0.46 0.62M471.08 1054.05l0.69 0.14M482.61 1053.68l0.13 -0.84M520 1054.91l-0.81 -0.27M529.5 1054.67l-0.59 -0.81M454.12 1059.13l-0.61 -0.34M473.51 1058.3l-0.89 0.15M461.05 1062.78l-0.24 0.83M483.17 1063.35l0.3 -0.23M488.41 1064.9l-0.88 0.26M503.22 1064.04l-0.58 0.38M508.45 1065.51l-0.7 -0.58M438.85 1067.35l0.52 -0.26M443.82 1067.43l0.69 0.24M452.9 1069.27l-0.04 0.44M458.23 1068.57l-0.01 -0.37M463.69 1069.51l0.54 0.14M479.56 1069.77l0 0.11M500.41 1068.1l0.05 -0.59M439.52 1071.71l0.16 -0.87M509.26 1074.4l0.21 -0.63" stroke="#0c06b0" stroke-width="3.8" stroke-linecap="round" fill="none"/>
<path d="M462.01 973.32l0.03 -0.73M436.74 978.01l-0.57 -0.1M468.09 977.47l-0.08 0.47M500.38 977.37l0.63 0.88M478.65 988.21l0.45 0.6M499.89 985.95l-0.21 0.9M438.37 997.3l-0.59 0.06M445.76 1001.89l0.05 0.63M444.56 1006.48l0.18 -0.75M470.41 1004.12l0.45 0.2M495.53 1006.12l0.07 -0.16M471.32 1009.8l-0.41 0.74M480.7 1009.15l-0.06 0.1M506.99 1011.08l-0.82 0.75M434.41 1018.09l-0.05 0.45M452 1018.99l0.4 -0.57M528.77 1018.41l-0.18 -0.35M500.78 1022.76l0.79 -0.18M439.66 1028.64l-0.74 0.87M472.15 1028.55l0.16 -0.1M481.84 1028.03l0.02 0.61M478.23 1031.03l0.09 -0.82M530.59 1031.3l0.34 -0.24M472.61 1036.42l0.11 -0.35M488.61 1036.29l-0.34 -0.42M488.86 1041.42l-0.39 0.28M504.2 1040.05l-0.09 -0.71M485.94 1051.01l0.87 0.69M439.07 1055.21l0.49 -0.39M437.65 1060.8l-0.87 0.2M480.84 1058.24l0.88 0.46M505.67 1058.51l0.03 -0.6M531.67 1060.72l-0.37 -0.61M477.73 1065.13l0.03 0.27M492.29 1064.58l0.53 -0.21M513.05 1063.24l-0.87 -0.04M527.83 1064.6l0.15 -0.69M468.79 1069.13l0.09 0.53M525.86 1068.79l-0.65 0.82" stroke="#1c0cff" stroke-width="4.8" stroke-linecap="round" fill="none"/>
</g>
<path d="M528.22 1015.46l0.2 0M536.45 1016.79l0.2 0M529.65 1016.02l0.2 0M529.66 1013.82l0.2 0M531.87 1019.81l0.2 0M529.53 1021l0.2 0M534.86 1014.59l0.2 0M532.13 1014.96l0.2 0M528.7 1022.97l0.2 0M536.26 1016.45l0.2 0M525.37 1045.22l0.2 0M521.83 1040.93l0.2 0M521.59 1040.07l0.2 0M528.52 1046.28l0.2 0M527.78 1045.61l0.2 0M519.62 1046.93l0.2 0M522.93 1046.86l0.2 0M523.64 1044.6l0.2 0M524.25 1040.22l0.2 0M526.79 1044.36l0.2 0M501.34 1011.06l0.2 0M509.66 1011.17l0.2 0M506.15 1009.12l0.2 0M497.88 1012.57l0.2 0M502.61 1011.06l0.2 0M499.33 1002.17l0.2 0M505.52 1012.96l0.2 0M499.44 1008.21l0.2 0M504.33 1014.26l0.2 0M500.13 1008.47l0.2 0M465.82 1021.01l0.2 0M470.9 1025.31l0.2 0M467.1 1026.25l0.2 0M467.9 1019.84l0.2 0M471.54 1026.9l0.2 0M466.4 1025.45l0.2 0M464.11 1026.89l0.2 0M462.14 1019.73l0.2 0M464.62 1027.83l0.2 0M470.29 1027.18l0.2 0M442.5 1039.89l0.2 0M440.49 1034.28l0.2 0M439.96 1025.38l0.2 0M441.2 1035.48l0.2 0M442.05 1028.27l0.2 0M444.33 1030.74l0.2 0M441.53 1035.07l0.2 0M441.53 1029.5l0.2 0M442.47 1031.47l0.2 0M445.22 1031.24l0.2 0M483.38 1048.58l0.2 0M483 1048.63l0.2 0M485.64 1050.3l0.2 0M478.99 1055.87l0.2 0M478.33 1049.89l0.2 0M478.91 1053.37l0.2 0M479.67 1049.23l0.2 0M480.95 1054.33l0.2 0M479.96 1051.59l0.2 0M481.12 1052.87l0.2 0M469.95 1052.49l0.2 0M477.33 1054.11l0.2 0M469.2 1051.15l0.2 0M475.48 1051.41l0.2 0M472.8 1050.31l0.2 0M475.61 1053.87l0.2 0M473.97 1052.04l0.2 0M473.48 1050.28l0.2 0M468.26 1055.5l0.2 0M468.64 1052.22l0.2 0M519.79 997.12l0.2 0M516.93 1005.1l0.2 0M513.96 1005.51l0.2 0M514.29 1004.63l0.2 0M516.36 1001.63l0.2 0M517.08 999.69l0.2 0M517.51 997.18l0.2 0M525.45 1001.25l0.2 0M510.12 1002.42l0.2 0M517.81 1005.5l0.2 0M504.68 1029.64l0.2 0M501.45 1023.17l0.2 0M495.38 1021.95l0.2 0M504.7 1018.71l0.2 0M502.63 1014.51l0.2 0M501.1 1022.74l0.2 0M494.97 1025.25l0.2 0M505 1021.07l0.2 0M504.8 1023.97l0.2 0M506.65 1018.99l0.2 0M523.57 1031.79l0.2 0M531.2 1027.45l0.2 0M517.17 1030.86l0.2 0M523.43 1026.05l0.2 0M525.61 1030.35l0.2 0M526.09 1032.36l0.2 0M529.79 1031.64l0.2 0M527.86 1029.65l0.2 0M521.42 1025.4l0.2 0M524.33 1026.93l0.2 0M475.43 993.56l0.2 0M474.21 994.01l0.2 0M462.73 995.18l0.2 0M462.4 998.99l0.2 0M471.88 999.27l0.2 0M471.86 990.21l0.2 0M479.58 1000.38l0.2 0M473.69 998.36l0.2 0M467.76 999.46l0.2 0M466.73 996.5l0.2 0M501.32 1006.3l0.2 0M499.73 1007.27l0.2 0M510.35 1006.33l0.2 0M505.26 1010.06l0.2 0M510.27 1009.3l0.2 0M502.38 1009.84l0.2 0M501.4 1007.04l0.2 0M503.88 1006.94l0.2 0M505.88 1009.08l0.2 0M506.19 1006.52l0.2 0M468.32 1066.4l0.2 0M461.1 1062.98l0.2 0M459.37 1067.92l0.2 0M458.09 1059.25l0.2 0M468.35 1066.13l0.2 0M462.6 1061.65l0.2 0M460.28 1062.96l0.2 0M461.41 1061.72l0.2 0M457.62 1062.37l0.2 0M455.6 1061.57l0.2 0M457.9 984.64l0.2 0M460.58 992.04l0.2 0M454.8 985.5l0.2 0M462.13 993.61l0.2 0M464.96 981.71l0.2 0M459.03 986.81l0.2 0M453.08 988.92l0.2 0M461.97 985.92l0.2 0M453.83 986.1l0.2 0M454.27 980.51l0.2 0M449.04 1002.91l0.2 0M444.48 1013.79l0.2 0M446.97 1015.13l0.2 0M451.96 1009.79l0.2 0M451.25 1005.41l0.2 0M449.26 1016.12l0.2 0M450.68 1011.46l0.2 0M447.42 1011.14l0.2 0M447.78 1010.55l0.2 0M444.06 1011.35l0.2 0M522.95 1047.95l0.2 0M521.47 1046.81l0.2 0M522.06 1040.74l0.2 0M523.07 1041.11l0.2 0M537.63 1046.72l0.2 0M528.87 1042.33l0.2 0M525.58 1042.07l0.2 0M528.49 1039.74l0.2 0M524.95 1040.57l0.2 0M533.35 1044.44l0.2 0M469.22 1053.81l0.2 0M463.47 1059.03l0.2 0M467.03 1057.86l0.2 0M473.89 1057.64l0.2 0M468.5 1058.37l0.2 0M463.91 1059.77l0.2 0M463.34 1060.88l0.2 0M475.76 1066.46l0.2 0M471.35 1057.95l0.2 0M471.68 1067.7l0.2 0M460.13 1005.7l0.2 0M459.07 1010.61l0.2 0M462.35 1007.53l0.2 0M454.27 1012.64l0.2 0M452.89 1012.08l0.2 0M457.77 1017.23l0.2 0M453.83 1014.12l0.2 0M460.4 1016.35l0.2 0M455.42 1013.68l0.2 0M456.87 1008.08l0.2 0M458.27 1009.51l0.2 0M463.86 1014.62l0.2 0M461.56 1015.92l0.2 0M458.18 1008.38l0.2 0M463.91 1009.39l0.2 0M460.4 1016.58l0.2 0M459.82 1010.55l0.2 0M462.95 1012.52l0.2 0M462.59 1014.24l0.2 0M461.48 1015.39l0.2 0M466.82 1062.35l0.2 0M465.81 1057.65l0.2 0M467.49 1060.16l0.2 0M465.44 1059.15l0.2 0M463.63 1058.39l0.2 0M470.79 1058.53l0.2 0M471.85 1059.62l0.2 0M468.03 1050.35l0.2 0M469.62 1053.2l0.2 0M464.85 1055.85l0.2 0M479.9 1049.96l0.2 0M481.07 1055.68l0.2 0M482.15 1055.59l0.2 0M487 1059.72l0.2 0M473.6 1053.36l0.2 0M476.77 1054.88l0.2 0M477.33 1052.78l0.2 0M480.74 1055.94l0.2 0M479.74 1055.09l0.2 0M478.72 1056.57l0.2 0M441.61 1020.03l0.2 0M443.14 1015.84l0.2 0M440.41 1019.86l0.2 0M443.01 1022.39l0.2 0M445.13 1016.84l0.2 0M439.57 1017.23l0.2 0M445.02 1018.37l0.2 0M437.4 1020.69l0.2 0M443.24 1017.22l0.2 0M439.99 1016.46l0.2 0M515.6 986.56l0.2 0M506.8 988.13l0.2 0M512.62 987.16l0.2 0M510.49 989.67l0.2 0M513.93 991.23l0.2 0M513.46 985.39l0.2 0M521.49 990.71l0.2 0M507.01 990.89l0.2 0M510.39 981.96l0.2 0M505.41 986.52l0.2 0M492.51 1045.73l0.2 0M488.54 1045.77l0.2 0M494.36 1050.36l0.2 0M492.45 1037.03l0.2 0M484.78 1044.38l0.2 0M495.87 1040.73l0.2 0M496.65 1048.09l0.2 0M497.63 1043.75l0.2 0M494.28 1046.97l0.2 0M493.29 1045.02l0.2 0M526.49 1056.5l0.2 0M530.78 1060.51l0.2 0M522.55 1058.89l0.2 0M531.28 1052.02l0.2 0M527.34 1058.74l0.2 0M525.42 1052.37l0.2 0M528.32 1053.7l0.2 0M522.73 1049.48l0.2 0M526.21 1053.92l0.2 0M523.33 1055.64l0.2 0M493.54 997.91l0.2 0M488.12 1000.43l0.2 0M504.92 1003.28l0.2 0M494.08 1000.92l0.2 0M490.12 1004.46l0.2 0M495.71 1003.54l0.2 0M503.8 1001.54l0.2 0M491.78 1003.92l0.2 0M495.86 1002.57l0.2 0M492.47 1004.06l0.2 0" stroke="#3cec3c" stroke-width="1.35" stroke-linecap="round" fill="none"/>
</g>
<text x="523.7" y="1062.6" font-size="7" font-weight="bold" text-anchor="middle" fill="#fff" stroke="#fff" stroke-width="0.14">25 µm</text>
<line x1="514.5" y1="1066.2" x2="532.5" y2="1066.2" stroke="#fff" stroke-width="1.5"/>
<text x="73.6" y="655.8" font-size="9.3" font-weight="bold" text-anchor="middle" fill="#000" stroke="#000" stroke-width="0.19">Tumor</text>
<text x="177" y="655.8" font-size="9.3" font-weight="bold" text-anchor="middle" fill="#000" stroke="#000" stroke-width="0.19">H&amp;E</text>
<text x="280.4" y="655.8" font-size="9.3" font-weight="bold" text-anchor="middle" fill="#000" stroke="#000" stroke-width="0.19">Ki67</text>
<text x="437" y="655.8" font-size="9.3" font-weight="bold" text-anchor="middle"><tspan fill="#1c1caa">DAPI</tspan><tspan fill="#33bb33"> CD8</tspan></text>
<text x="12.8" y="711.85" font-size="9.2" font-weight="bold" text-anchor="middle" fill="#000" stroke="#000" stroke-width="0.18" transform="rotate(-90 12.8 711.85)">CTRL</text>
<text x="12.8" y="815.35" font-size="9.2" font-weight="bold" text-anchor="middle" fill="#000" stroke="#000" stroke-width="0.18" transform="rotate(-90 12.8 815.35)">α-PD-1</text>
<text x="12.8" y="919.3" font-size="9.2" font-weight="bold" text-anchor="middle" fill="#000" stroke="#000" stroke-width="0.18" transform="rotate(-90 12.8 919.3)">CAR-T</text>
<text x="12.8" y="1022.8" font-size="9.2" font-weight="bold" text-anchor="middle" fill="#000" stroke="#000" stroke-width="0.18" transform="rotate(-90 12.8 1022.8)">CAR-T + α-PD-1</text>
<text x="543.4" y="652.9" font-size="20.5" font-weight="bold" text-anchor="start" fill="#000">H</text>
<line x1="583.4" y1="663.8" x2="583.4" y2="815.5" stroke="#000" stroke-width="1.6"/>
<line x1="578.4" y1="814.8" x2="583.4" y2="814.8" stroke="#000" stroke-width="1.4"/>
<text x="576.2" y="818" font-size="9.2" font-weight="bold" text-anchor="end" fill="#000" stroke="#000" stroke-width="0.18">0</text>
<line x1="578.4" y1="784.74" x2="583.4" y2="784.74" stroke="#000" stroke-width="1.4"/>
<text x="576.2" y="787.94" font-size="9.2" font-weight="bold" text-anchor="end" fill="#000" stroke="#000" stroke-width="0.18">20</text>
<line x1="578.4" y1="754.68" x2="583.4" y2="754.68" stroke="#000" stroke-width="1.4"/>
<text x="576.2" y="757.88" font-size="9.2" font-weight="bold" text-anchor="end" fill="#000" stroke="#000" stroke-width="0.18">40</text>
<line x1="578.4" y1="724.62" x2="583.4" y2="724.62" stroke="#000" stroke-width="1.4"/>
<text x="576.2" y="727.82" font-size="9.2" font-weight="bold" text-anchor="end" fill="#000" stroke="#000" stroke-width="0.18">60</text>
<line x1="578.4" y1="694.56" x2="583.4" y2="694.56" stroke="#000" stroke-width="1.4"/>
<text x="576.2" y="697.76" font-size="9.2" font-weight="bold" text-anchor="end" fill="#000" stroke="#000" stroke-width="0.18">80</text>
<line x1="578.4" y1="664.5" x2="583.4" y2="664.5" stroke="#000" stroke-width="1.4"/>
<text x="576.2" y="667.7" font-size="9.2" font-weight="bold" text-anchor="end" fill="#000" stroke="#000" stroke-width="0.18">100</text>
<line x1="596.7" y1="814.8" x2="596.7" y2="820.8" stroke="#000" stroke-width="1.7"/>
<rect x="590.3" y="699.82" width="12.8" height="114.98" fill="none" stroke="#2a2ab0" stroke-width="1.2"/>
<line x1="596.7" y1="709.59" x2="596.7" y2="690.05" stroke="#2a2ab0" stroke-width="1.1"/>
<line x1="594.5" y1="709.59" x2="598.9" y2="709.59" stroke="#2a2ab0" stroke-width="1.1"/>
<line x1="594.5" y1="690.05" x2="598.9" y2="690.05" stroke="#2a2ab0" stroke-width="1.1"/>
<path d="M594.7 691.65 L598.7 691.65 L596.7 688.25Z" fill="#2a2ab0"/>
<path d="M594.7 702.17 L598.7 702.17 L596.7 698.77Z" fill="#2a2ab0"/>
<path d="M594.7 711.19 L598.7 711.19 L596.7 707.79Z" fill="#2a2ab0"/>
<line x1="617.9" y1="814.8" x2="617.9" y2="820.8" stroke="#000" stroke-width="1.7"/>
<rect x="611.5" y="705.83" width="12.8" height="108.97" fill="none" stroke="#9a9a28" stroke-width="1.2"/>
<line x1="617.9" y1="720.11" x2="617.9" y2="694.56" stroke="#9a9a28" stroke-width="1.1"/>
<line x1="615.7" y1="720.11" x2="620.1" y2="720.11" stroke="#9a9a28" stroke-width="1.1"/>
<line x1="615.7" y1="694.56" x2="620.1" y2="694.56" stroke="#9a9a28" stroke-width="1.1"/>
<path d="M615.9 692.96 L619.9 692.96 L617.9 696.36Z" fill="#9a9a28"/>
<path d="M615.9 700.47 L619.9 700.47 L617.9 703.87Z" fill="#9a9a28"/>
<path d="M615.9 718.51 L619.9 718.51 L617.9 721.91Z" fill="#9a9a28"/>
<line x1="638.9" y1="814.8" x2="638.9" y2="820.8" stroke="#000" stroke-width="1.7"/>
<rect x="632.5" y="735.89" width="12.8" height="78.91" fill="none" stroke="#2e8a2e" stroke-width="1.2"/>
<line x1="638.9" y1="741.15" x2="638.9" y2="730.63" stroke="#2e8a2e" stroke-width="1.1"/>
<line x1="636.7" y1="741.15" x2="641.1" y2="741.15" stroke="#2e8a2e" stroke-width="1.1"/>
<line x1="636.7" y1="730.63" x2="641.1" y2="730.63" stroke="#2e8a2e" stroke-width="1.1"/>
<path d="M636.7 730.63 L638.9 728.43 L641.1 730.63 L638.9 732.83Z" fill="#2e8a2e"/>
<path d="M636.7 735.14 L638.9 732.94 L641.1 735.14 L638.9 737.34Z" fill="#2e8a2e"/>
<path d="M636.7 741.15 L638.9 738.95 L641.1 741.15 L638.9 743.35Z" fill="#2e8a2e"/>
<line x1="659.8" y1="814.8" x2="659.8" y2="820.8" stroke="#000" stroke-width="1.7"/>
<rect x="653.4" y="753.18" width="12.8" height="61.62" fill="none" stroke="#cc2a2a" stroke-width="1.2"/>
<line x1="659.8" y1="756.18" x2="659.8" y2="750.17" stroke="#cc2a2a" stroke-width="1.1"/>
<line x1="657.6" y1="756.18" x2="662" y2="756.18" stroke="#cc2a2a" stroke-width="1.1"/>
<line x1="657.6" y1="750.17" x2="662" y2="750.17" stroke="#cc2a2a" stroke-width="1.1"/>
<circle cx="658.3" cy="750.17" r="1.9" fill="#cc2a2a"/>
<circle cx="661.3" cy="751.67" r="1.9" fill="#cc2a2a"/>
<circle cx="659.8" cy="756.18" r="1.9" fill="#cc2a2a"/>
<line x1="582.7" y1="814.8" x2="674.4" y2="814.8" stroke="#000" stroke-width="1.7"/>
<text x="561.2" y="739.6" font-size="9.55" font-weight="bold" text-anchor="middle" fill="#000" stroke="#000" stroke-width="0.19" transform="rotate(-90 561.2 739.6)">Ki67 percentage (%)</text>
<line x1="595" y1="662.4" x2="664.3" y2="662.4" stroke="#000" stroke-width="1.4"/>
<text x="629.6" y="661.91" font-size="11" font-weight="bold" text-anchor="middle" fill="#000" stroke="#000" stroke-width="0.22">**</text>
<line x1="595.5" y1="677" x2="617.3" y2="677" stroke="#000" stroke-width="1.4"/>
<text x="606.4" y="674.9" font-size="5.6" font-weight="bold" text-anchor="middle" fill="#000" stroke="#000" stroke-width="0.11">ns</text>
<line x1="619" y1="677" x2="640.5" y2="677" stroke="#000" stroke-width="1.4"/>
<text x="629.75" y="679.11" font-size="11" font-weight="bold" text-anchor="middle" fill="#000" stroke="#000" stroke-width="0.22">*</text>
<line x1="642" y1="677" x2="663.8" y2="677" stroke="#000" stroke-width="1.4"/>
<text x="652.9" y="679.11" font-size="11" font-weight="bold" text-anchor="middle" fill="#000" stroke="#000" stroke-width="0.22">**</text>
<text x="603" y="829" font-size="9.4" font-weight="bold" text-anchor="end" fill="#000" stroke="#000" stroke-width="0.19" transform="rotate(-45 603 829)">CTRL</text>
<text x="624.2" y="829" font-size="9.4" font-weight="bold" text-anchor="end" fill="#000" stroke="#000" stroke-width="0.19" transform="rotate(-45 624.2 829)"><tspan font-style="italic">α</tspan>-PD-1</text>
<text x="645.2" y="829" font-size="9.4" font-weight="bold" text-anchor="end" fill="#000" stroke="#000" stroke-width="0.19" transform="rotate(-45 645.2 829)">CAR-T</text>
<text x="662.4" y="827" font-size="9.4" font-weight="bold" text-anchor="end" fill="#000" stroke="#000" stroke-width="0.19" transform="rotate(-45 662.4 827)">CAR-T</text>
<text x="677" y="833.5" font-size="9.4" font-weight="bold" text-anchor="end" fill="#000" stroke="#000" stroke-width="0.19" transform="rotate(-45 677 833.5)">+ <tspan font-style="italic">α</tspan>-PD-1</text>
<line x1="586.9" y1="880.4" x2="586.9" y2="1032.7" stroke="#000" stroke-width="1.6"/>
<line x1="581.9" y1="1032" x2="586.9" y2="1032" stroke="#000" stroke-width="1.4"/>
<text x="579.6" y="1035.2" font-size="9.2" font-weight="bold" text-anchor="end" fill="#000" stroke="#000" stroke-width="0.18">0</text>
<line x1="581.9" y1="981.7" x2="586.9" y2="981.7" stroke="#000" stroke-width="1.4"/>
<text x="579.6" y="984.9" font-size="9.2" font-weight="bold" text-anchor="end" fill="#000" stroke="#000" stroke-width="0.18">100</text>
<line x1="581.9" y1="931.4" x2="586.9" y2="931.4" stroke="#000" stroke-width="1.4"/>
<text x="579.6" y="934.6" font-size="9.2" font-weight="bold" text-anchor="end" fill="#000" stroke="#000" stroke-width="0.18">200</text>
<line x1="581.9" y1="881.1" x2="586.9" y2="881.1" stroke="#000" stroke-width="1.4"/>
<text x="579.6" y="884.3" font-size="9.2" font-weight="bold" text-anchor="end" fill="#000" stroke="#000" stroke-width="0.18">300</text>
<line x1="600.4" y1="1032" x2="600.4" y2="1038" stroke="#000" stroke-width="1.7"/>
<rect x="593.5" y="1017.92" width="13.8" height="14.08" fill="none" stroke="#2a2ab0" stroke-width="1.2"/>
<line x1="600.4" y1="1021.94" x2="600.4" y2="1013.89" stroke="#2a2ab0" stroke-width="1.1"/>
<line x1="598" y1="1021.94" x2="602.8" y2="1021.94" stroke="#2a2ab0" stroke-width="1.1"/>
<line x1="598" y1="1013.89" x2="602.8" y2="1013.89" stroke="#2a2ab0" stroke-width="1.1"/>
<path d="M595.9 1012.47 L599.9 1012.47 L597.9 1009.07Z" fill="#2a2ab0"/>
<path d="M600.4 1015.49 L604.4 1015.49 L602.4 1012.09Z" fill="#2a2ab0"/>
<path d="M596.7 1018.51 L600.7 1018.51 L598.7 1015.11Z" fill="#2a2ab0"/>
<path d="M600.1 1021.02 L604.1 1021.02 L602.1 1017.62Z" fill="#2a2ab0"/>
<path d="M596.3 1022.53 L600.3 1022.53 L598.3 1019.13Z" fill="#2a2ab0"/>
<path d="M600.9 1022.53 L604.9 1022.53 L602.9 1019.13Z" fill="#2a2ab0"/>
<line x1="621.4" y1="1032" x2="621.4" y2="1038" stroke="#000" stroke-width="1.7"/>
<rect x="614.5" y="1005.34" width="13.8" height="26.66" fill="none" stroke="#9a9a28" stroke-width="1.2"/>
<line x1="621.4" y1="1011.88" x2="621.4" y2="999.3" stroke="#9a9a28" stroke-width="1.1"/>
<line x1="619" y1="1011.88" x2="623.8" y2="1011.88" stroke="#9a9a28" stroke-width="1.1"/>
<line x1="619" y1="999.3" x2="623.8" y2="999.3" stroke="#9a9a28" stroke-width="1.1"/>
<circle cx="618.9" cy="996.79" r="2.2" fill="#9a9a28"/>
<circle cx="623.4" cy="999.3" r="2.2" fill="#9a9a28"/>
<circle cx="619.7" cy="1001.82" r="2.2" fill="#9a9a28"/>
<circle cx="623.1" cy="1004.34" r="2.2" fill="#9a9a28"/>
<circle cx="619.3" cy="1009.37" r="2.2" fill="#9a9a28"/>
<circle cx="623.9" cy="1015.9" r="2.2" fill="#9a9a28"/>
<line x1="642.8" y1="1032" x2="642.8" y2="1038" stroke="#000" stroke-width="1.7"/>
<rect x="635.9" y="989.75" width="13.8" height="42.25" fill="none" stroke="#2e8a2e" stroke-width="1.2"/>
<line x1="642.8" y1="1005.34" x2="642.8" y2="973.65" stroke="#2e8a2e" stroke-width="1.1"/>
<line x1="640.4" y1="1005.34" x2="645.2" y2="1005.34" stroke="#2e8a2e" stroke-width="1.1"/>
<line x1="640.4" y1="973.65" x2="645.2" y2="973.65" stroke="#2e8a2e" stroke-width="1.1"/>
<circle cx="640.3" cy="960.07" r="2.2" fill="#2e8a2e"/>
<circle cx="644.8" cy="985.72" r="2.2" fill="#2e8a2e"/>
<circle cx="641.1" cy="991.76" r="2.2" fill="#2e8a2e"/>
<circle cx="644.5" cy="994.27" r="2.2" fill="#2e8a2e"/>
<circle cx="640.7" cy="1000.81" r="2.2" fill="#2e8a2e"/>
<circle cx="645.3" cy="1001.82" r="2.2" fill="#2e8a2e"/>
<line x1="664" y1="1032" x2="664" y2="1038" stroke="#000" stroke-width="1.7"/>
<rect x="657.1" y="947.5" width="13.8" height="84.5" fill="none" stroke="#cc2a2a" stroke-width="1.2"/>
<line x1="664" y1="976.67" x2="664" y2="918.83" stroke="#cc2a2a" stroke-width="1.1"/>
<line x1="661.6" y1="976.67" x2="666.4" y2="976.67" stroke="#cc2a2a" stroke-width="1.1"/>
<line x1="661.6" y1="918.83" x2="666.4" y2="918.83" stroke="#cc2a2a" stroke-width="1.1"/>
<circle cx="663.25" cy="892.17" r="2.2" fill="#cc2a2a"/>
<circle cx="664.25" cy="944.98" r="2.2" fill="#cc2a2a"/>
<circle cx="664.05" cy="951.52" r="2.2" fill="#cc2a2a"/>
<circle cx="663.95" cy="957.56" r="2.2" fill="#cc2a2a"/>
<circle cx="663.65" cy="964.1" r="2.2" fill="#cc2a2a"/>
<circle cx="664.75" cy="974.15" r="2.2" fill="#cc2a2a"/>
<line x1="586.2" y1="1032" x2="676.9" y2="1032" stroke="#000" stroke-width="1.7"/>
<text x="558.4" y="955.5" font-size="9.3" font-weight="bold" text-anchor="middle" fill="#000" stroke="#000" stroke-width="0.19" transform="rotate(-90 558.4 955.5)">Number of CD8<tspan font-size="6" dy="-3.3">+</tspan><tspan dy="3.3"> cells/field</tspan></text>
<line x1="593.8" y1="871.7" x2="665.3" y2="871.7" stroke="#000" stroke-width="1.4"/>
<text x="629.5" y="870.57" font-size="11.5" font-weight="bold" text-anchor="middle" fill="#000" stroke="#000" stroke-width="0.22">***</text>
<line x1="595.5" y1="883.5" x2="617.7" y2="883.5" stroke="#000" stroke-width="1.4"/>
<text x="606.6" y="885.66" font-size="11.5" font-weight="bold" text-anchor="middle" fill="#000" stroke="#000" stroke-width="0.22">***</text>
<line x1="618.9" y1="883.5" x2="640.6" y2="883.5" stroke="#000" stroke-width="1.4"/>
<text x="629.75" y="885.66" font-size="11.5" font-weight="bold" text-anchor="middle" fill="#000" stroke="#000" stroke-width="0.22">*</text>
<line x1="642.3" y1="883.5" x2="663.3" y2="883.5" stroke="#000" stroke-width="1.4"/>
<text x="652.8" y="885.66" font-size="11.5" font-weight="bold" text-anchor="middle" fill="#000" stroke="#000" stroke-width="0.22">**</text>
<text x="606.7" y="1046.2" font-size="9.4" font-weight="bold" text-anchor="end" fill="#000" stroke="#000" stroke-width="0.19" transform="rotate(-45 606.7 1046.2)">CTRL</text>
<text x="627.7" y="1046.2" font-size="9.4" font-weight="bold" text-anchor="end" fill="#000" stroke="#000" stroke-width="0.19" transform="rotate(-45 627.7 1046.2)"><tspan font-style="italic">α</tspan>-PD-1</text>
<text x="649.1" y="1046.2" font-size="9.4" font-weight="bold" text-anchor="end" fill="#000" stroke="#000" stroke-width="0.19" transform="rotate(-45 649.1 1046.2)">CAR-T</text>
<text x="666.6" y="1044.2" font-size="9.4" font-weight="bold" text-anchor="end" fill="#000" stroke="#000" stroke-width="0.19" transform="rotate(-45 666.6 1044.2)">CAR-T</text>
<text x="681.2" y="1050.7" font-size="9.4" font-weight="bold" text-anchor="end" fill="#000" stroke="#000" stroke-width="0.19" transform="rotate(-45 681.2 1050.7)">+ <tspan font-style="italic">α</tspan>-PD-1</text>
</svg>
</body></html>
